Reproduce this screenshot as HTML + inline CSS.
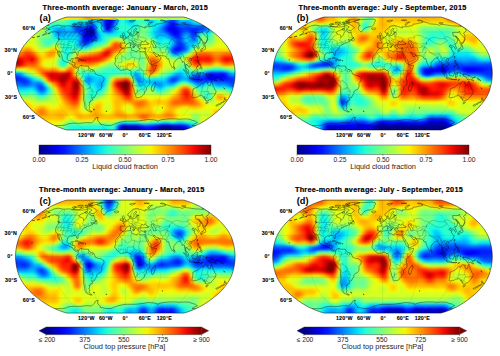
<!DOCTYPE html>
<html><head><meta charset="utf-8"><style>
html,body{margin:0;padding:0;background:#fff;width:500px;height:356px;overflow:hidden}
#w{position:relative;width:500px;height:356px;overflow:hidden;background:#fff}
.m{position:absolute;overflow:hidden}
.f{width:100%;height:100%;filter:blur(0.9px)}
.f i{display:block;width:100%}
svg{position:absolute;left:0;top:0}
.title{font-family:"Liberation Sans",sans-serif;font-weight:bold;font-size:7.3px;letter-spacing:0.25px;fill:#000;stroke:#000;stroke-width:0.18px}
.lbl{font-family:"Liberation Sans",sans-serif;font-weight:bold;font-size:9.2px;fill:#000}
.ll{font-family:"Liberation Sans",sans-serif;font-weight:bold;font-size:5.3px;letter-spacing:0.15px;fill:#000;stroke:#000;stroke-width:0.1px}
.tk{font-family:"Liberation Sans",sans-serif;font-size:6.7px;fill:#222}
.cbl{font-family:"Liberation Sans",sans-serif;font-size:7.4px;fill:#222}
</style></head><body><div id="w">
<div class="m" style="left:11.50px;top:13.00px;width:227.60px;height:121.00px;clip-path:path('M172.24 4.00 L176.63 5.35 L182.02 7.42 L187.72 10.01 L192.70 12.84 L197.22 15.85 L201.49 19.00 L205.48 22.26 L209.10 25.61 L212.20 29.02 L214.99 32.49 L217.31 35.98 L219.21 39.48 L220.64 42.98 L221.65 46.49 L222.50 49.99 L223.09 53.49 L223.45 57.00 L223.60 60.50 L223.45 64.00 L223.09 67.51 L222.50 71.01 L221.65 74.51 L220.64 78.02 L219.21 81.52 L217.31 85.02 L214.99 88.51 L212.20 91.98 L209.10 95.39 L205.48 98.74 L201.49 102.00 L197.22 105.15 L192.70 108.16 L187.72 110.99 L182.02 113.58 L176.63 115.65 L172.24 117.00 L55.36 117.00 L50.97 115.65 L45.58 113.58 L39.88 110.99 L34.90 108.16 L30.38 105.15 L26.11 102.00 L22.12 98.74 L18.50 95.39 L15.40 91.98 L12.61 88.51 L10.29 85.02 L8.39 81.52 L6.96 78.02 L5.95 74.51 L5.10 71.01 L4.51 67.51 L4.15 64.00 L4.00 60.50 L4.15 57.00 L4.51 53.49 L5.10 49.99 L5.95 46.49 L6.96 42.98 L8.39 39.48 L10.29 35.98 L12.61 32.49 L15.40 29.02 L18.50 25.61 L22.12 22.26 L26.11 19.00 L30.38 15.85 L34.90 12.84 L39.88 10.01 L45.58 7.42 L50.97 5.35 L55.36 4.00 Z')"><div class="f"><i style="height:2.521px;background:linear-gradient(90deg,#d6ff21,#d6ff21,#d6ff21,#d6ff21,#d6ff21,#d7ff20,#d6ff21,#d5ff22,#d4ff23,#d5ff22,#daff1d,#dfff18,#daff1c,#c6ff30,#a7ff50,#88ff6f,#77ff80,#74ff83,#7bff7c,#84ff72,#8aff6c,#87ff70,#75ff82,#57ffa0,#38ffbf,#25ffd1,#22ffd5,#29ffce,#33ffc4,#39ffbe,#37ffc0,#27ffd0,#0bf3ec,#00d0ff,#00c1ff,#00c9ff,#00cdff,#00b0ff,#0069ff,#0015ff,#0000e4,#0000d7,#0000fe,#0036ff,#0094ff,#04ebf3,#29ffce,#1dffda,#00dcfe,#00baff,#00c4ff,#05ecf2,#27ffcf,#3bffbc,#3bffbc,#2affcc,#0cf4eb,#00cdff,#00b9ff,#00caff,#0af2ed,#27ffd0,#2dffca,#19ffde,#00d4ff,#0094ff,#0058ff,#0037ff,#0045ff,#0078ff,#00b0ff,#0cf,#00cbff,#00c2ff,#00c7ff,#00e0fb,#1bffdc,#40ffb7,#63ff94,#7dff7a,#86ff71,#81ff76,#7cff7b,#86ff70,#a3ff54,#c4ff32,#dbff1c,#e0ff17,#dbff1c,#d5ff22,#d3ff24,#d4ff22,#d6ff21,#d7ff20,#d6ff20,#d6ff21)"></i><i style="height:2.521px;background:linear-gradient(90deg,#d6ff21,#d6ff21,#d6ff21,#d6ff21,#d6ff21,#d7ff20,#d6ff20,#d5ff22,#d4ff23,#d5ff22,#d9ff1e,#ddff1a,#d8ff1e,#c6ff31,#aaff4d,#8fff68,#80ff77,#7eff79,#85ff72,#8fff68,#96ff61,#92ff65,#7eff78,#5dff9a,#3dffba,#2bffcc,#2cffcb,#36ffc1,#42ffb5,#47ffb0,#43ffb4,#33ffc4,#17ffdf,#00e1fa,#00cfff,#00cdff,#00c8ff,#00a8ff,#0065ff,#0018ff,#0000eb,#0000d9,#0000f8,#002cff,#008bff,#01e6f6,#28ffcf,#1bffdc,#00d7ff,#00b3ff,#00bfff,#04ebf2,#29ffce,#3bffbc,#39ffbe,#25ffd2,#04eaf3,#00c3ff,#00b1ff,#00c6ff,#0af2ec,#2bffcc,#34ffc3,#22ffd5,#00dffc,#009fff,#0061ff,#003eff,#004bff,#0080ff,#00b9ff,#00d6ff,#00d6ff,#00ceff,#00d3ff,#05ecf1,#26ffd1,#4effa9,#76ff81,#94ff63,#9eff59,#96ff61,#8cff6b,#91ff66,#a9ff4e,#c6ff31,#daff1c,#dfff18,#daff1c,#d5ff22,#d4ff23,#d5ff22,#d6ff21,#d7ff20,#d6ff20,#d6ff21)"></i><i style="height:2.521px;background:linear-gradient(90deg,#d6ff21,#d6ff21,#d6ff21,#d6ff21,#d6ff21,#d7ff20,#d6ff20,#d5ff22,#d4ff23,#d5ff22,#d9ff1e,#ddff1a,#d9ff1e,#c6ff31,#a9ff4d,#8eff69,#7eff79,#7cff7a,#83ff73,#8dff6a,#94ff63,#90ff66,#7dff7a,#5cff9b,#3cffbb,#2affcd,#2affcd,#34ffc3,#3fffb8,#45ffb2,#41ffb6,#31ffc6,#15ffe1,#00dffc,#0cf,#0cf,#00c9ff,#00a9ff,#06f,#0018ff,#0000ea,#0000d9,#0000f9,#002eff,#008dff,#01e7f6,#28ffcf,#1bffdc,#00d8ff,#00b5ff,#00c0ff,#04ebf2,#29ffce,#3bffbc,#39ffbe,#25ffd1,#05ecf2,#00c5ff,#00b3ff,#00c7ff,#0af2ec,#2affcd,#32ffc4,#20ffd7,#00ddfd,#009dff,#005fff,#003cff,#004aff,#007fff,#00b7ff,#00d5ff,#00d4ff,#0cf,#00d1ff,#04eaf3,#24ffd2,#4cffab,#73ff84,#90ff67,#9aff5d,#92ff65,#89ff6e,#8fff68,#a8ff4f,#c6ff31,#daff1c,#dfff18,#daff1c,#d5ff22,#d3ff23,#d5ff22,#d6ff21,#d7ff20,#d6ff20,#d6ff21)"></i><i style="height:2.521px;background:linear-gradient(90deg,#d6ff21,#d6ff21,#d6ff21,#d6ff21,#d6ff21,#d7ff20,#d6ff21,#d4ff23,#d3ff24,#d4ff23,#dbff1c,#e2ff15,#deff18,#c7ff30,#a0ff56,#7bff7c,#65ff92,#61ff96,#67ff90,#70ff87,#74ff82,#71ff86,#62ff94,#4affad,#2fffc8,#1affdc,#10f9e7,#0ff8e8,#15ffe2,#1effd9,#1fffd7,#10fae6,#00d3ff,#00afff,#00a8ff,#00c0ff,#00d6ff,#00c0ff,#0071ff,#0010ff,#0000d7,#0000d4,#00f,#004aff,#00a5ff,#0bf3ec,#2bffcc,#21ffd6,#01e6f6,#00c8ff,#00cdff,#06edf1,#25ffd2,#39ffbd,#40ffb7,#36ffc1,#1bffdc,#00e0fb,#00c9ff,#00d3ff,#0af2ed,#1fffd8,#1fffd8,#07eef0,#00bcff,#007fff,#0047ff,#0029ff,#0038ff,#006aff,#009fff,#00b8ff,#00b5ff,#00abff,#00afff,#00c8ff,#05ecf2,#24ffd3,#3effb9,#51ffa6,#58ff9e,#59ff9e,#5eff99,#73ff84,#99ff5e,#c1ff36,#dbff1b,#e1ff16,#dbff1b,#d5ff22,#d3ff24,#d4ff23,#d6ff21,#d7ff20,#d6ff20,#d6ff21)"></i><i style="height:2.521px;background:linear-gradient(90deg,#d6ff21,#d5ff21,#d5ff21,#d5ff21,#d6ff21,#d7ff20,#d6ff21,#d3ff24,#d0ff26,#d3ff24,#deff18,#eaff0d,#e6ff11,#c6ff31,#90ff66,#5aff9c,#39ffbe,#2fffc8,#32ffc5,#37ffc0,#39ffbe,#36ffc0,#31ffc6,#26ffd0,#16ffe1,#00e2fa,#00bfff,#00a4ff,#00a0ff,#00b0ff,#00bdff,#00acff,#007dff,#0056ff,#0061ff,#00a7ff,#04eaf3,#03e9f4,#0087ff,#0008ff,#0000bf,#0000d1,#0019ff,#007dff,#00d0ff,#1cffdb,#2fffc7,#29ffcd,#16ffe1,#04ebf3,#01e6f6,#0bf3ec,#1fffd8,#38ffbe,#4dffaa,#53ffa4,#42ffb5,#24ffd3,#0af2ed,#03e9f4,#08efef,#0af2ed,#00dffc,#00b6ff,#0082ff,#0049ff,#001bff,#0006ff,#0017ff,#0043ff,#0070ff,#0084ff,#007dff,#0071ff,#0074ff,#0089ff,#00a3ff,#00b5ff,#00bcff,#00bfff,#00c5ff,#00d7ff,#10fae7,#40ffb7,#7eff79,#b9ff3e,#deff19,#e6ff11,#ddff19,#d4ff23,#d1ff25,#d3ff23,#d6ff21,#d7ff20,#d6ff20,#d6ff21)"></i><i style="height:2.521px;background:linear-gradient(90deg,#d6ff21,#d5ff21,#d5ff21,#d6ff21,#d6ff21,#d7ff20,#d6ff21,#d2ff24,#d0ff27,#d3ff24,#dfff18,#ebff0c,#e6ff10,#c1ff36,#83ff74,#42ffb5,#15ffe2,#01e6f6,#00dffc,#00ddfe,#00dbff,#00dbff,#00e0fb,#00e4f8,#00dcfe,#00bcff,#0089ff,#005aff,#0049ff,#0058ff,#0067ff,#0053ff,#001dff,#00f,#0014ff,#0084ff,#0cf5ea,#1fffd8,#00a5ff,#0014ff,#0000c4,#0000e7,#0042ff,#00b0ff,#0df5ea,#27ffd0,#2effc8,#2effc9,#28ffcf,#20ffd7,#17ffe0,#15ffe2,#20ffd6,#3dffba,#5dff99,#70ff87,#66ff90,#49ffae,#27ffd0,#11fae6,#02e8f5,#00d4ff,#00b1ff,#0083ff,#004eff,#001cff,#00f,#0000f2,#00f,#0019ff,#003fff,#004fff,#004aff,#0040ff,#003fff,#004aff,#0056ff,#0057ff,#004fff,#0048ff,#004fff,#006cff,#00a2ff,#0ef7e9,#62ff95,#b0ff47,#e0ff17,#eaff0c,#e0ff17,#d3ff23,#d0ff27,#d3ff24,#d6ff21,#d7ff20,#d7ff20,#d6ff21)"></i><i style="height:2.521px;background:linear-gradient(90deg,#d6ff21,#d6ff21,#d6ff21,#d6ff21,#d7ff20,#d7ff1f,#d7ff20,#d5ff21,#d4ff23,#d5ff22,#daff1c,#deff19,#d5ff22,#b5ff42,#81ff76,#47ffaf,#15ffe1,#00d3ff,#00b4ff,#00a4ff,#00a1ff,#00a6ff,#00b3ff,#00bfff,#00bfff,#00a6ff,#07f,#0047ff,#002eff,#002cff,#0029ff,#000bff,#0000dc,#0000b6,#0000e8,#005dff,#00e3f9,#24ffd3,#00c4ff,#0048ff,#00f,#0018ff,#0071ff,#00cbff,#13fde4,#20ffd7,#22ffd4,#26ffd0,#2bffcc,#2cffcb,#28ffce,#27ffd0,#31ffc6,#4cffab,#6cff8b,#7eff79,#75ff82,#56ffa1,#30ffc7,#10fae7,#00daff,#00bcff,#09f,#0071ff,#0045ff,#0017ff,#00f,#0000e7,#0000ed,#00f,#001dff,#0034ff,#003dff,#003bff,#03f,#0029ff,#02f,#02f,#002bff,#0039ff,#0048ff,#005eff,#0089ff,#00daff,#52ffa5,#aaff4c,#e2ff14,#efff08,#e2ff15,#d3ff23,#d0ff27,#d3ff24,#d7ff20,#d8ff1f,#d7ff20,#d6ff21)"></i><i style="height:2.521px;background:linear-gradient(90deg,#d7ff20,#d7ff20,#d7ff20,#d7ff20,#d7ff20,#d8ff1f,#d9ff1e,#daff1c,#dbff1c,#d8ff1e,#d1ff26,#c4ff33,#b3ff43,#a0ff56,#89ff6e,#68ff8f,#39ffbe,#03e9f4,#00afff,#008fff,#008bff,#0097ff,#00a6ff,#00afff,#00afff,#00a4ff,#008fff,#0073ff,#05f,#0036ff,#0010ff,#0000eb,#0000b2,#00009c,#0000d1,#003cff,#00b7ff,#0ff9e7,#00e0fb,#009eff,#0070ff,#0079ff,#00a5ff,#00d4ff,#07eef0,#0ff8e8,#13fde4,#18ffdf,#20ffd7,#29ffce,#33ffc4,#3effb8,#4fffa8,#64ff92,#77ff80,#7dff7a,#6cff8b,#4bffab,#26ffd1,#05ebf2,#00cbff,#00b1ff,#009cff,#0087ff,#006aff,#0041ff,#0014ff,#00f,#0000f3,#00f,#0013ff,#0039ff,#0059ff,#0067ff,#05f,#002eff,#0013ff,#02f,#005bff,#009aff,#00b9ff,#00b6ff,#00b8ff,#01e7f5,#52ffa5,#aaff4d,#e4ff13,#f0fd06,#e3ff14,#d4ff23,#d0ff27,#d3ff24,#d7ff20,#d8ff1e,#d8ff1f,#d6ff20)"></i><i style="height:2.521px;background:linear-gradient(90deg,#d7ff20,#d7ff20,#d7ff20,#d7ff20,#d6ff21,#d6ff21,#d8ff1f,#ddff1a,#e0ff16,#dbff1c,#c6ff30,#a9ff4e,#90ff67,#88ff6f,#8bff6c,#83ff74,#5eff99,#20ffd7,#00c3ff,#009aff,#0097ff,#00a6ff,#00b1ff,#00b2ff,#00b0ff,#00b3ff,#00b9ff,#00b3ff,#0091ff,#0054ff,#000cff,#0000d7,#0000ad,#0000ad,#0000e1,#002dff,#008eff,#00d6ff,#0af2ed,#09f1ee,#02e8f5,#00e6f7,#03eaf3,#09f0ee,#0ef7e8,#13fde4,#16ffe1,#17ffe0,#1affdc,#25ffd2,#3affbc,#55ffa2,#6dff89,#7dff79,#82ff75,#7aff7d,#64ff93,#45ffb1,#23ffd4,#03eaf3,#00caff,#00b6ff,#00b0ff,#00afff,#00a4ff,#0082ff,#0050ff,#0020ff,#0003ff,#0001ff,#001aff,#004cff,#0084ff,#00a3ff,#008bff,#004bff,#001fff,#0040ff,#00abff,#2bffcb,#52ffa5,#3affbc,#18ffdf,#1effd9,#5cff9b,#acff4b,#e3ff14,#effe08,#e3ff14,#d4ff23,#d0ff27,#d3ff24,#d7ff20,#d8ff1f,#d7ff1f,#d6ff20)"></i><i style="height:2.521px;background:linear-gradient(90deg,#d5ff22,#d5ff21,#d6ff21,#d5ff22,#d2ff25,#d0ff27,#d1ff26,#d8ff1f,#dfff18,#daff1c,#c1ff36,#9aff5c,#7aff7d,#70ff87,#77ff80,#78ff7e,#60ff97,#30ffc7,#00e5f7,#00c2ff,#00beff,#00c7ff,#0cf,#00c9ff,#00c6ff,#00cfff,#00ddfe,#00dbff,#00b3ff,#0064ff,#000dff,#0000da,#0000c7,#00d,#0001ff,#0040ff,#0084ff,#00c3ff,#0cf4eb,#29ffcd,#3dffb9,#49ffae,#4fffa8,#50ffa6,#50ffa7,#4cffab,#44ffb3,#37ffc0,#2dffc9,#30ffc6,#45ffb2,#64ff93,#7fff78,#8dff69,#8eff68,#85ff71,#76ff81,#60ff97,#43ffb4,#21ffd6,#00e6f7,#00cbff,#00c7ff,#00d1ff,#00d5ff,#00c0ff,#0095ff,#0062ff,#0037ff,#0020ff,#0029ff,#005aff,#00a0ff,#00cdff,#00b7ff,#006eff,#003aff,#0062ff,#00e3f9,#6aff8d,#98ff5f,#79ff7e,#47ffb0,#3bffbc,#69ff8d,#aeff49,#dfff18,#eaff0c,#dfff17,#d3ff24,#cfff28,#d2ff25,#d6ff21,#d7ff20,#d6ff21,#d5ff22)"></i><i style="height:2.521px;background:linear-gradient(90deg,#d2ff25,#d3ff24,#d4ff23,#d2ff24,#ceff29,#c9ff2e,#c9ff2e,#d0ff27,#d9ff1e,#d7ff1f,#c2ff35,#9cff5a,#77ff80,#5dff99,#52ffa5,#4bffac,#41ffb6,#32ffc4,#23ffd4,#17ffe0,#0ff8e8,#0af1ed,#06edf1,#04eaf3,#04ebf3,#08efef,#09f1ee,#00e1fa,#00afff,#0060ff,#0012ff,#0000f3,#0000fa,#0012ff,#0045ff,#0076ff,#00a4ff,#00cdff,#0af2ec,#2affcd,#51ffa6,#7fff78,#aaff4d,#c5ff32,#c8ff2f,#b6ff40,#99ff5e,#77ff7f,#5bff9c,#4dffaa,#54ffa3,#69ff8e,#81ff76,#93ff64,#9dff5a,#a2ff55,#a3ff54,#9bff5c,#85ff72,#5cff9b,#2cffcb,#06edf1,#00defd,#01e7f6,#0bf3ec,#06edf1,#00d2ff,#00a8ff,#0074ff,#0046ff,#0037ff,#005bff,#00a0ff,#00d5ff,#00cbff,#008eff,#0060ff,#0082ff,#0cf5ea,#6fff88,#9bff5c,#86ff71,#5dff9a,#53ffa3,#79ff7d,#b1ff45,#daff1d,#e3ff13,#dbff1c,#d1ff26,#ceff28,#d1ff26,#d4ff23,#d4ff22,#d4ff23,#d3ff24)"></i><i style="height:2.521px;background:linear-gradient(90deg,#d2ff24,#d3ff23,#d4ff23,#d3ff24,#cfff27,#cbff2b,#cbff2c,#d0ff26,#d7ff1f,#d7ff20,#c6ff30,#a8ff4f,#81ff76,#59ff9d,#39ffbe,#27ffd0,#2cffcb,#40ffb6,#54ffa3,#54ffa3,#41ffb5,#2affcd,#1cffdb,#1bffdb,#1fffd8,#1fffd8,#13fde4,#00dbff,#00a5ff,#0060ff,#0027ff,#0013ff,#002dff,#0061ff,#0098ff,#00c3ff,#00e1fa,#0ef6e9,#1cffdb,#36ffc1,#67ff8f,#b5ff42,#ffe400,#ffa600,#ff9e00,#ffbf00,#f5f701,#bfff37,#8fff68,#6eff89,#62ff94,#69ff8d,#7cff7b,#93ff64,#acff4b,#c3ff34,#d4ff22,#d8ff1e,#c6ff31,#96ff60,#58ff9e,#24ffd3,#0ef7e9,#12fbe5,#1dffda,#1effd9,#0ff8e8,#00d1ff,#0097ff,#005cff,#003bff,#004eff,#008aff,#00c1ff,#00cbff,#00abff,#0091ff,#00afff,#18ffde,#62ff95,#88ff6f,#81ff76,#6dff89,#6eff88,#8fff68,#baff3d,#d9ff1e,#e0ff17,#daff1d,#d2ff25,#d0ff27,#d2ff25,#d4ff23,#d5ff22,#d4ff23,#d4ff23)"></i><i style="height:2.521px;background:linear-gradient(90deg,#dbff1c,#daff1c,#daff1d,#dbff1c,#ddff1a,#e1ff16,#e4ff13,#e6ff10,#e5ff12,#deff19,#cdff2a,#b4ff43,#93ff64,#6cff8b,#4affad,#3affbc,#4cffab,#75ff82,#97ff60,#94ff63,#6eff89,#3fffb7,#24ffd3,#22ffd5,#2affcd,#2bffcc,#1cffdb,#00e5f7,#00b4ff,#007fff,#005aff,#0059ff,#0080ff,#0bf,#0bf3ec,#29ffce,#3cffbb,#4affad,#59ff9d,#76ff81,#acff4b,#fdee00,#ff8f00,#ff5000,#ff4700,#ff6c00,#ffac00,#f5f802,#b6ff41,#85ff72,#6cff8b,#69ff8d,#79ff7e,#96ff60,#baff3d,#dcff1b,#f3fa04,#f9f300,#e5ff11,#b3ff44,#73ff84,#3cffba,#27ffd0,#2bffcc,#33ffc4,#2affcc,#0ef6e9,#00c1ff,#0083ff,#004aff,#002aff,#0035ff,#0063ff,#0098ff,#00b9ff,#00c5ff,#00d2ff,#0ef7e9,#3fffb8,#6fff87,#8bff6c,#8eff69,#8bff6c,#93ff64,#adff49,#ccff2b,#e0ff16,#e4ff13,#dfff18,#d9ff1e,#d7ff20,#d8ff1f,#daff1d,#daff1d,#daff1d,#d9ff1d)"></i><i style="height:2.521px;background:linear-gradient(90deg,#eeff09,#ebff0c,#e9ff0e,#ecff0b,#f8f400,#ffe100,#ffd400,#ffd600,#ffe500,#f0fd06,#d9ff1e,#c1ff36,#a9ff4d,#94ff63,#86ff70,#89ff6d,#a5ff52,#cdff2a,#e3ff14,#cdff2a,#8eff69,#48ffae,#1effd9,#18ffdf,#24ffd3,#2effc9,#2cffcb,#1dffd9,#05ebf2,#00c8ff,#00b1ff,#00baff,#00e5f7,#2fffc8,#57ff9f,#71ff86,#84ff72,#9cff5b,#c0ff37,#ecff0a,#ffc700,#ff8b00,#ff5900,#ff3c00,#ff3e00,#ff5c00,#ff9400,#ffe000,#c5ff32,#8cff6a,#6eff88,#6aff8d,#7bff7c,#9cff5b,#c2ff34,#e5ff12,#f8f400,#f7f500,#e0ff17,#b1ff46,#7aff7d,#50ffa7,#46ffb1,#50ffa7,#51ffa5,#32ffc5,#00d7ff,#0083ff,#0041ff,#001bff,#0010ff,#001dff,#0040ff,#0071ff,#0af,#01e7f6,#32ffc5,#60ff97,#88ff6f,#a5ff51,#b6ff41,#baff3d,#bcff3b,#c4ff32,#d6ff21,#e8ff0f,#f3fa04,#f3fa03,#eeff09,#e9ff0e,#e7ff10,#e8ff0f,#e9ff0e,#e9ff0e,#e9ff0e,#e9ff0e)"></i><i style="height:2.521px;background:linear-gradient(90deg,#fd0,#ffe300,#ffe800,#ffe100,#ffc900,#fa0,#ff9400,#ff9700,#ffb100,#ffd600,#f1fc06,#d6ff21,#c5ff31,#c4ff33,#d0ff26,#e9ff0e,#ffe200,#ffc400,#ffc400,#f4f903,#a1ff56,#4bffab,#16ffe1,#0bf3ec,#1affdd,#31ffc5,#45ffb2,#50ffa7,#4dffaa,#41ffb6,#38ffbf,#42ffb5,#61ff95,#8aff6d,#abff4c,#c0ff37,#d5ff22,#f8f400,#ffb500,#ff7300,#ff4500,#ff3a00,#ff4600,#ff5900,#ff6900,#ff8000,#fa0,#feed00,#bcff3b,#85ff71,#6aff8c,#69ff8e,#7cff7b,#9bff5b,#bfff38,#ddff19,#edff0a,#ebff0c,#d6ff21,#b0ff47,#85ff71,#69ff8d,#6bff8c,#7aff7d,#74ff82,#3effb9,#00c2ff,#0052ff,#0010ff,#00f,#000fff,#0027ff,#0046ff,#07f,#00c3ff,#33ffc4,#81ff76,#bdff3a,#e0ff16,#f2fb05,#f9f300,#fbf100,#fbf000,#feed00,#ffe600,#ffde00,#ffda00,#ffdb00,#ffdf00,#ffe200,#ffe300,#ffe300,#ffe300,#ffe200,#ffe200,#ffe300)"></i><i style="height:2.521px;background:linear-gradient(90deg,#ffae00,#ffb500,#ffba00,#ffb300,#ff9800,#ff7500,#ff5b00,#ff5b00,#ff7300,#ff9b00,#ffc800,#fbf100,#e7ff0f,#eeff09,#ffe100,#ffb900,#ff9a00,#ff9000,#ffa900,#fdee00,#a5ff52,#4effa9,#17ffe0,#09f0ee,#1affdd,#3fffb8,#6bff8c,#93ff63,#abff4b,#b2ff45,#b2ff44,#bcff3b,#d4ff23,#f0fd06,#ffe100,#ffce00,#ffb700,#ff8d00,#ff4f00,#ff1600,#e80000,#ff1e00,#ff5800,#ff8f00,#ffb100,#ffc900,#ffea00,#d2ff25,#9cff5a,#72ff84,#60ff96,#64ff93,#75ff82,#8eff69,#aaff4d,#c6ff31,#deff19,#ecff0b,#e9ff0e,#cfff27,#acff4b,#93ff63,#95ff61,#a2ff55,#98ff5f,#5aff9c,#00dcff,#0069ff,#002cff,#002bff,#004aff,#0070ff,#0098ff,#00d0ff,#34ffc3,#8bff6c,#deff19,#ffce00,#ffac00,#ffa000,#ff9d00,#ff9d00,#ffa000,#ffa500,#ffac00,#ffb200,#ffb400,#ffb100,#ffac00,#ffa800,#ffa700,#ffa700,#ffa800,#ffa800,#ffa800,#ffa800)"></i><i style="height:2.521px;background:linear-gradient(90deg,#ff7500,#ff7a00,#ff7d00,#ff7800,#ff6500,#ff4b00,#ff3400,#ff2c00,#ff3700,#f50,#ff8500,#ffba00,#ffde00,#ffe000,#ffc400,#ffa200,#ff8f00,#ff9700,#ffbd00,#eaff0d,#9bff5c,#50ffa7,#1fffd7,#14fee3,#29ffcd,#5bff9c,#9dff5a,#e0ff17,#ffd800,#ffbc00,#ffb000,#ffa700,#ff9800,#ff8700,#f70,#ff6900,#ff5700,#ff3c00,#ff1900,#e90100,#f40a00,#ff3e00,#f80,#ffce00,#f0fd07,#d3ff24,#b8ff3f,#97ff60,#76ff80,#60ff97,#5aff9d,#60ff97,#6cff8b,#77ff80,#87ff70,#a3ff54,#d0ff27,#ffec00,#fc0,#ffd700,#effe08,#ceff29,#c3ff33,#c5ff31,#b9ff3e,#85ff71,#37ffc0,#00cdff,#009dff,#009dff,#00beff,#07eef0,#35ffc2,#6eff89,#b2ff45,#fcef00,#ffa300,#ff7000,#ff5900,#ff5300,#ff5100,#ff5000,#ff5400,#ff6100,#ff7600,#f80,#ff8e00,#ff8200,#ff7000,#ff6100,#ff5c00,#ff5e00,#ff6000,#ff6100,#ff6000,#ff6000)"></i><i style="height:2.521px;background:linear-gradient(90deg,#ff3800,#ff3900,#ff3a00,#ff3900,#f30,#ff2a00,#ff1e00,#fe1200,#f80e00,#ff1d00,#ff4b00,#ff8a00,#ffbf00,#ffd300,#ffc800,#ffb400,#ffae00,#ffbf00,#ffe900,#c9ff2e,#84ff72,#47ffaf,#25ffd2,#24ffd2,#45ffb2,#82ff75,#d3ff24,#ffc200,#ff7a00,#ff5100,#ff3e00,#ff3600,#ff3200,#ff2f00,#ff2a00,#f20,#ff1a00,#ff1600,#ff1700,#ff2700,#ff4a00,#ff8300,#ffc700,#e7ff10,#bbff3c,#9aff5d,#83ff74,#72ff85,#68ff8e,#66ff91,#6aff8d,#6fff88,#70ff87,#69ff8e,#68ff8f,#81ff75,#c2ff34,#ffd500,#ff8f00,#ff8600,#ffab00,#fd0,#f1fc06,#e3ff14,#d3ff24,#b1ff46,#81ff76,#54ffa3,#38ffbe,#34ffc3,#46ffb1,#6cff8b,#a1ff55,#e1ff16,#ffc400,#ff7f00,#ff4800,#ff2900,#ff2000,#ff2100,#ff2000,#ff1c00,#ff1d00,#ff2f00,#ff5000,#ff6d00,#ff7400,#ff5f00,#ff3e00,#ff2500,#ff1e00,#f20,#ff2700,#ff2900,#ff2800,#ff2600)"></i><i style="height:2.521px;background:linear-gradient(90deg,#e30000,#df0000,#d00,#e10000,#ef0600,#ff1300,#ff1a00,#fe1200,#f00700,#f70c00,#ff3400,#ff7600,#ffb600,#ffdb00,#ffe400,#ffe100,#ffe100,#fcf000,#ddff1a,#a7ff4f,#65ff92,#2dffca,#1affdd,#31ffc6,#68ff8f,#b2ff45,#ffe700,#ff9000,#ff4e00,#ff2700,#ff1500,#fa0f00,#fc1000,#ff1400,#ff1700,#ff1800,#ff1e00,#ff2f00,#ff4e00,#f70,#ffa600,#ffd600,#e9ff0e,#c4ff33,#a5ff52,#8fff68,#85ff72,#87ff70,#91ff66,#9cff5b,#a2ff54,#a0ff57,#90ff66,#74ff83,#5fff98,#6dff8a,#b3ff43,#ffd200,#ff7300,#f50,#ff6e00,#ff9f00,#ffcd00,#fcf000,#e3ff13,#ceff29,#baff3d,#a7ff4f,#96ff60,#8bff6c,#8dff69,#a4ff53,#ceff29,#ffe400,#f90,#ff5100,#ff1900,#e90100,#ef0600,#ff1500,#ff1a00,#fe1200,#f80d00,#ff1e00,#ff4600,#ff6b00,#ff7300,#ff5600,#ff2c00,#f80d00,#f00700,#fa0f00,#ff1900,#ff1c00,#ff1a00,#ff1700)"></i><i style="height:2.521px;background:linear-gradient(90deg,#b50000,#ad0000,#a70000,#b00000,#d00000,#fa0f00,#ff2a00,#ff2d00,#ff2400,#ff2500,#ff4500,#ff7e00,#ffbd00,#ffec00,#e7ff0f,#deff18,#dfff18,#ddff19,#caff2d,#95ff62,#4affad,#0ff8e8,#0af2ed,#40ffb7,#94ff63,#e7ff10,#ffbc00,#ff8300,#ff5d00,#ff4600,#ff3b00,#ff3700,#ff3700,#ff3b00,#ff4300,#ff4f00,#ff6300,#ff8200,#ffae00,#fd0,#e7ff10,#cbff2c,#b8ff3f,#acff4a,#a7ff50,#a9ff4d,#b5ff42,#c9ff2e,#e0ff17,#f0fe07,#f2fb05,#e4ff13,#c3ff34,#93ff64,#6bff8c,#6aff8d,#a7ff50,#ffe100,#ff7a00,#ff4a00,#ff4f00,#ff7500,#ffa900,#fd0,#e9ff0e,#d8ff1f,#d5ff22,#d4ff23,#c9ff2d,#b8ff3f,#a8ff4f,#a3ff54,#b1ff46,#d7ff20,#ffce00,#ff7000,#ff2100,#ea0100,#ff1300,#ff3500,#ff4500,#ff3a00,#ff2e00,#ff3b00,#ff6300,#ff8b00,#ff9500,#ff7600,#ff4800,#ff2900,#ff2500,#ff3200,#ff3f00,#ff4300,#ff4100,#ff3d00)"></i><i style="height:2.521px;background:linear-gradient(90deg,#cf0000,#c50000,#bf0000,#c90000,#ed0400,#ff2d00,#ff5000,#ff5b00,#ff5600,#f50,#ff6800,#ff8f00,#ffc000,#fdee00,#deff19,#cdff2a,#d0ff27,#dbff1c,#d3ff24,#a0ff57,#50ffa7,#13fde4,#1affdd,#67ff8f,#cdff29,#fc0,#ffa500,#ff9c00,#ff9d00,#ff9a00,#ff9500,#ff8f00,#ff8b00,#ff8d00,#ff9700,#ffab00,#ffc800,#feee00,#d8ff1e,#b5ff42,#99ff5d,#8bff6c,#89ff6e,#92ff65,#a3ff53,#bdff3a,#dbff1c,#fbf100,#ffd200,#ffc100,#ffc500,#ffdf00,#e0ff16,#a8ff4f,#79ff7e,#71ff85,#a6ff50,#ffea00,#ff8500,#ff4c00,#ff4500,#ff6300,#ff9a00,#ffd900,#e4ff12,#d3ff23,#d7ff20,#ddff19,#d5ff22,#bcff3b,#9cff5b,#80ff77,#74ff83,#88ff6f,#c8ff2e,#ffbe00,#ff5d00,#ff3600,#ff4f00,#ff7d00,#ff9700,#ff9000,#ff8300,#ff8c00,#ffb100,#ffd700,#ffe100,#ffc500,#ff9b00,#ff7e00,#ff7a00,#ff8500,#ff9100,#ff9400,#ff9200,#ff8f00)"></i><i style="height:2.521px;background:linear-gradient(90deg,#ff5c00,#ff5900,#ff5600,#ff5a00,#ff6900,#ff7e00,#ff8f00,#ff9400,#ff8f00,#ff8900,#ff8900,#ff9400,#ffa800,#ffc700,#ffe800,#f0fd07,#f4f903,#ffe800,#ffe900,#d8ff1f,#91ff66,#5dff9a,#6cff8a,#beff39,#ffcd00,#ff9700,#ffa800,#ffd800,#eeff09,#e5ff12,#ebff0b,#f6f701,#fcf000,#faf100,#f1fd06,#deff19,#c5ff32,#a9ff4e,#8dff6a,#73ff84,#60ff97,#56ffa1,#57ffa0,#63ff93,#7cff7b,#9cff5b,#beff39,#ddff1a,#f5f802,#ffec00,#faf200,#e4ff13,#c1ff35,#97ff60,#78ff7f,#7eff79,#baff3d,#ffd200,#ff7200,#ff4300,#ff4700,#ff6e00,#fa0,#ffe900,#d6ff20,#c6ff31,#c8ff2e,#cbff2c,#bcff3b,#9bff5c,#74ff83,#52ffa5,#42ffb5,#50ffa7,#85ff72,#d5ff21,#ffca00,#ffa900,#ffbf00,#ffeb00,#e6ff11,#e1ff16,#e1ff15,#d6ff20,#bdff3a,#a4ff53,#9dff5a,#adff4a,#c8ff2f,#dfff17,#eaff0d,#edff0a,#ecff0b,#ecff0b,#ecff0b,#ecff0b)"></i><i style="height:2.521px;background:linear-gradient(90deg,#d7ff20,#d4ff23,#d2ff25,#d5ff22,#e0ff16,#f2fb05,#ffe700,#ffd800,#fc0,#ffbe00,#ffa800,#ff9100,#ff8100,#ff8400,#ff9300,#ffa000,#ff9e00,#ff9100,#ff9100,#ffb000,#ffe600,#e6ff11,#f9f300,#fa0,#ff6900,#ff6b00,#ffba00,#d2ff25,#93ff64,#83ff73,#8fff68,#9fff58,#a4ff52,#a1ff55,#98ff5f,#8aff6c,#7aff7c,#6aff8d,#5bff9c,#4cffab,#3fffb8,#32ffc4,#2bffcb,#2effc9,#3cffbb,#51ffa6,#68ff8f,#7dff7a,#8bff6c,#8fff67,#89ff6e,#7bff7c,#69ff8d,#5cff9b,#60ff97,#86ff71,#d7ff20,#ffa800,#ff4f00,#ff3700,#ff5800,#ff9600,#ffd800,#e0ff16,#beff39,#aeff48,#a9ff4d,#a1ff56,#86ff70,#5fff98,#3affbd,#26ffd1,#28ffcf,#3cffba,#5eff99,#83ff73,#a2ff55,#adff4a,#a2ff54,#8cff6a,#74ff83,#5fff98,#4bffac,#38ffbf,#27ffd0,#1affdc,#16ffe1,#1cffdb,#2affcd,#3fffb8,#57ffa0,#6dff89,#7cff7b,#7fff77,#7dff7a,#79ff7d)"></i><i style="height:2.521px;background:linear-gradient(90deg,#28ffcf,#20ffd7,#1affdd,#23ffd4,#44ffb3,#75ff82,#a5ff52,#c5ff32,#d9ff1d,#effe08,#ffd700,#ffa400,#ff7400,#ff5400,#ff4600,#ff3f00,#ff3a00,#ff3500,#ff3700,#ff4600,#ff5a00,#ff6200,#ff4d00,#ff2500,#ff1600,#ff4900,#ffbf00,#b2ff45,#5fff98,#41ffb5,#44ffb3,#4effa9,#51ffa6,#4effa8,#49ffad,#45ffb2,#40ffb7,#3cffbb,#38ffbf,#34ffc3,#2effc9,#26ffd1,#1effd9,#1affdd,#1affdc,#20ffd7,#28ffcf,#31ffc6,#37ffc0,#32ffc4,#22ffd4,#0ff8e7,#06edf1,#12fce5,#39ffbe,#7dff7a,#dfff18,#ff9e00,#ff5300,#ff5300,#ff8d00,#ffdc00,#d5ff22,#b1ff46,#99ff5e,#88ff6f,#76ff80,#5fff98,#3cffbb,#15ffe2,#00dffc,#00e1fa,#15ffe1,#31ffc6,#3bffbb,#32ffc5,#23ffd4,#1bffdc,#1bffdb,#18ffde,#05ecf1,#00c0ff,#0091ff,#0072ff,#0068ff,#0069ff,#0069ff,#0065ff,#0068ff,#007dff,#00a9ff,#00d9ff,#11fae6,#18ffdf,#13fde4,#0cf5eb)"></i><i style="height:2.521px;background:linear-gradient(90deg,#007cff,#0070ff,#0068ff,#0074ff,#00a1ff,#00e5f7,#38ffbf,#63ff94,#82ff75,#a2ff55,#cbff2b,#ffeb00,#fa0,#ff6b00,#ff3400,#f60c00,#de0000,#d00,#e40000,#e70000,#e10000,#d40000,#c30000,#b90000,#d10000,#ff2f00,#ff9e00,#d7ff1f,#7bff7c,#3dffba,#19ffde,#08efef,#04ebf3,#08f0ee,#0ff8e8,#14fee3,#17ffe0,#18ffde,#1affdd,#1dffd9,#26ffd0,#35ffc1,#45ffb2,#4effa8,#4effa8,#4bffac,#4bffac,#53ffa4,#57ffa0,#46ffb0,#19ffdd,#00c4ff,#009dff,#00aeff,#09f1ee,#58ff9e,#b3ff44,#ffe800,#ffb500,#ffc100,#f3fa04,#b7ff3f,#8eff69,#77ff80,#65ff92,#4dffaa,#2cffcb,#08efef,#00c5ff,#00a6ff,#009dff,#00b3ff,#00dcff,#10f9e7,#08efef,#00c1ff,#008fff,#0078ff,#0081ff,#008dff,#007dff,#004dff,#0019ff,#00f,#00f,#000aff,#0010ff,#0007ff,#0001ff,#0010ff,#003cff,#006fff,#0093ff,#009dff,#0097ff,#008dff)"></i><i style="height:2.521px;background:linear-gradient(90deg,#0034ff,#002eff,#002aff,#0030ff,#004aff,#0074ff,#00a6ff,#00daff,#1fffd8,#46ffb1,#6cff8a,#97ff60,#ceff28,#ffce00,#ff6c00,#ff1a00,#d20000,#ca0000,#d20000,#cd0000,#b70000,#a00000,#9b0000,#ae0000,#d60000,#ff1e00,#ff5700,#ffa400,#e2ff15,#75ff82,#12fbe5,#00b0ff,#00a0ff,#00b3ff,#00cdff,#00dcfe,#00e1fa,#00e1fb,#00e1fb,#07eef0,#26ffd1,#5dff9a,#99ff5e,#c4ff33,#d2ff25,#d1ff26,#d3ff23,#e5ff12,#eeff09,#cfff28,#77ff80,#09f1ee,#008eff,#0081ff,#00b8ff,#1fffd8,#5bff9c,#85ff72,#97ff60,#8dff69,#73ff84,#56ffa1,#44ffb3,#3affbd,#29ffce,#07eef0,#00b4ff,#0080ff,#0065ff,#0065ff,#0079ff,#09f,#00b6ff,#00c1ff,#00a8ff,#0073ff,#003fff,#0028ff,#0032ff,#0040ff,#0038ff,#0015ff,#0000fb,#0000e6,#0000ef,#00f,#00f,#00f,#00f,#00f,#0016ff,#003aff,#0054ff,#005bff,#0056ff,#0050ff)"></i><i style="height:2.521px;background:linear-gradient(90deg,#002aff,#002aff,#002aff,#002aff,#002aff,#0030ff,#0045ff,#006fff,#00a5ff,#00d7ff,#0ef7e9,#24ffd2,#4effa9,#a0ff56,#ffda00,#ff6400,#ff1e00,#f30900,#f00700,#e00000,#bf0000,#a40000,#a90000,#ce0000,#f40a00,#fe1200,#f50a00,#ff2000,#ff8100,#c6ff31,#28ffcf,#0097ff,#007bff,#009aff,#00c0ff,#00cfff,#00ceff,#00c5ff,#00c4ff,#00dbff,#2effc9,#8bff6c,#f2fb04,#ffa000,#ff7900,#ff7000,#ff6300,#ff4100,#ff3000,#ff6200,#f8f400,#55ffa2,#00adff,#07f,#0093ff,#00cbff,#06eef0,#0ef6e9,#09f1ed,#03e9f4,#00e3f8,#00e3f9,#02e8f5,#04eaf3,#00daff,#00abff,#006cff,#003cff,#0036ff,#0058ff,#08f,#00adff,#00bcff,#00b2ff,#008fff,#005eff,#0030ff,#0019ff,#001bff,#0026ff,#0027ff,#001bff,#000cff,#0006ff,#000cff,#0016ff,#001cff,#001bff,#0018ff,#001aff,#02f,#002eff,#0037ff,#0039ff,#0037ff,#0035ff)"></i><i style="height:2.521px;background:linear-gradient(90deg,#0042ff,#0046ff,#0048ff,#04f,#0036ff,#0027ff,#0028ff,#0046ff,#0075ff,#009bff,#00a4ff,#00a1ff,#00b9ff,#24ffd2,#96ff61,#ffe000,#ff8500,#ff5800,#ff3f00,#ff2000,#de0000,#be0000,#c60000,#ef0600,#ff1f00,#f70c00,#b70000,#a10000,#ff1a00,#ffda00,#54ffa2,#00b3ff,#008fff,#00adff,#00cfff,#00d1ff,#00c1ff,#00b1ff,#00b5ff,#00dbff,#3fffb8,#b0ff47,#ffb900,#ff4800,#fb0f00,#d00,#bf0000,#8d0000,#800000,#bf0000,#ff8400,#9fff58,#02e8f5,#0092ff,#0092ff,#00b1ff,#00c1ff,#00beff,#00b0ff,#00a3ff,#009bff,#009dff,#00abff,#00bcff,#00bcff,#009cff,#006cff,#004dff,#005eff,#09f,#00ddfe,#1effd9,#28ffcf,#1affdc,#00dcfe,#00a4ff,#006fff,#004cff,#0041ff,#0046ff,#0054ff,#0063ff,#006eff,#006fff,#0064ff,#0056ff,#004dff,#004eff,#0051ff,#0050ff,#0048ff,#003eff,#0036ff,#0034ff,#0036ff,#0037ff)"></i><i style="height:2.521px;background:linear-gradient(90deg,#006cff,#0070ff,#0072ff,#006eff,#0061ff,#0051ff,#004eff,#0062ff,#0081ff,#0092ff,#0081ff,#0060ff,#005aff,#0096ff,#1effd9,#8aff6d,#e3ff14,#ffc300,#ff8900,#ff5000,#ff1a00,#de0000,#df0000,#ff1400,#ff2600,#f40a00,#a50000,#800000,#d30000,#ffa200,#8cff6b,#10fae7,#00cfff,#00dffc,#07eef0,#00dbff,#00baff,#00a8ff,#00b8ff,#08f0ef,#58ff9f,#c6ff31,#ffa800,#ff3a00,#de0000,#af0000,#860000,#800000,#800000,#8e0000,#ff5200,#d5ff22,#3bffbc,#00caff,#00b3ff,#00c5ff,#00ddfd,#06ecf1,#03e9f4,#0cf,#00a5ff,#008aff,#0090ff,#00acff,#00c5ff,#00c5ff,#00b5ff,#00b1ff,#00d5ff,#2bffcc,#69ff8e,#98ff5f,#adff4a,#a6ff51,#80ff77,#44ffb3,#05ebf2,#00b0ff,#0093ff,#0093ff,#00acff,#00d3ff,#0bf3ec,#0bf3ec,#00d2ff,#00a6ff,#008aff,#0089ff,#0091ff,#0091ff,#007eff,#0065ff,#0052ff,#004dff,#0051ff,#0056ff)"></i><i style="height:2.521px;background:linear-gradient(90deg,#00a1ff,#00a3ff,#00a4ff,#00a2ff,#009cff,#0095ff,#0096ff,#00a3ff,#00b2ff,#00afff,#0089ff,#0053ff,#03f,#004dff,#00a0ff,#22ffd5,#7bff7c,#ccff2b,#ffd200,#ff8400,#ff4100,#ff1500,#f60c00,#ff1b00,#ff2500,#f20800,#a00,#860000,#ce0000,#ff8500,#bdff3a,#4dffaa,#26ffd1,#24ffd3,#1effd8,#02e8f5,#00bfff,#00b1ff,#00d0ff,#27ffcf,#77ff80,#d4ff23,#ffb300,#ff5800,#ff1600,#c80000,#950000,#800000,#800000,#9c0000,#ff4700,#f8f400,#70ff87,#1fffd8,#03eaf4,#0ef7e9,#2effc8,#4fffa8,#58ff9e,#37ffbf,#00e3f9,#00a8ff,#009fff,#00c0ff,#07eef0,#1fffd7,#2dffc9,#40ffb7,#66ff91,#9eff59,#dcff1b,#ffd500,#ffac00,#ffa600,#ffd300,#caff2c,#76ff81,#33ffc4,#0df6ea,#05ecf2,#1affdd,#41ffb6,#61ff96,#62ff94,#42ffb5,#16ffe0,#00dffc,#00ddfe,#01e7f6,#00e4f8,#00caff,#00a9ff,#008fff,#08f,#008dff,#0093ff)"></i><i style="height:2.521px;background:linear-gradient(90deg,#00dbff,#00dcff,#00dcff,#00dbff,#00daff,#00daff,#00dffc,#04eaf3,#0af2ed,#00e5f7,#00b7ff,#07f,#004aff,#004eff,#0087ff,#00dffc,#4affad,#9aff5d,#e8ff0f,#ffb300,#ff6a00,#ff3600,#ff2000,#ff2000,#ff2000,#ee0500,#b60000,#9e0000,#e10000,#ff7f00,#d7ff20,#70ff87,#42ffb5,#33ffc4,#25ffd2,#0af2ed,#00d5ff,#00d5ff,#16ffe1,#51ffa5,#98ff5f,#dfff18,#ffc400,#ff8100,#ff4800,#ff1700,#cb0000,#980000,#870000,#b90000,#ff4a00,#ffde00,#95ff62,#4cffaa,#34ffc3,#40ffb7,#66ff91,#8eff69,#9cff5a,#7cff7b,#3fffb7,#0af2ed,#00e1fa,#14fee3,#3bffbb,#5fff98,#7cff7b,#9aff5d,#c1ff35,#f2fb04,#fb0,#ff7a00,#f40,#f30,#ff5b00,#ffb500,#d1ff26,#83ff74,#52ffa5,#3dffba,#43ffb4,#5bff9c,#74ff83,#7eff79,#74ff83,#64ff93,#5bff9c,#5dff99,#60ff97,#57ffa0,#3dffba,#1effd8,#09f0ee,#03e9f4,#07eef0,#0cf5eb)"></i><i style="height:2.521px;background:linear-gradient(90deg,#29ffce,#29ffce,#29ffcd,#29ffce,#28ffce,#29ffce,#2dffca,#36ffc0,#3dffb9,#35ffc2,#13fde4,#00c1ff,#0094ff,#0092ff,#00bcff,#16ffe1,#54ffa3,#91ff65,#d0ff27,#ffd800,#ff9200,#ff5800,#ff3600,#ff2800,#ff1c00,#ea0200,#c00000,#b70000,#fb1000,#ff8b00,#d7ff20,#74ff83,#3fffb7,#29ffce,#1effd8,#14ffe2,#13fde4,#24ffd3,#4cffab,#81ff76,#b8ff3f,#eaff0d,#ffd200,#ffa400,#ff7a00,#ff5000,#ff2100,#d30000,#b10000,#d10000,#ff4e00,#ffd300,#acff4b,#73ff84,#66ff91,#77ff80,#95ff61,#b2ff45,#bdff3a,#a8ff4e,#81ff76,#5dff99,#52ffa5,#60ff97,#7bff7c,#99ff5e,#b8ff3f,#d7ff1f,#f9f300,#ffc700,#ff9500,#ff5900,#ff2300,#f40a00,#ff2900,#ff7a00,#ffde00,#bdff39,#86ff71,#62ff95,#4cffaa,#44ffb3,#4bffac,#62ff95,#86ff71,#acff4b,#c8ff2f,#d2ff25,#ccff2b,#b8ff3f,#9aff5d,#7bff7c,#67ff90,#61ff96,#65ff92,#6aff8d)"></i><i style="height:2.521px;background:linear-gradient(90deg,#5fff97,#60ff97,#60ff96,#60ff97,#5eff99,#5dff9a,#60ff97,#68ff8f,#70ff87,#6bff8c,#50ffa7,#28ffcf,#0af2ec,#0af2ed,#27ffd0,#51ffa6,#7aff7d,#9fff58,#c6ff30,#f7f600,#ffb600,#ff7c00,#ff5000,#ff3600,#ff2100,#ef0600,#ce0000,#d10000,#ff2a00,#ffa100,#c9ff2e,#69ff8e,#34ffc3,#20ffd6,#22ffd5,#2effc8,#44ffb2,#62ff94,#86ff70,#adff4a,#d1ff25,#f2fb05,#ffda00,#ffbd00,#ffa300,#ff8400,#ff5900,#ff2300,#e30000,#ef0600,#ff5600,#ffc800,#c7ff2f,#a1ff56,#a2ff55,#b4ff43,#c4ff32,#cdff2a,#ceff29,#c7ff2f,#bdff3a,#b3ff44,#aeff49,#afff48,#b9ff3e,#ccff2a,#e7ff10,#ffe700,#ffc800,#fa0,#ff8600,#ff5800,#ff2800,#f90e00,#f20,#ff6000,#ffb200,#eeff09,#b6ff41,#85ff71,#56ffa1,#2effc9,#20ffd7,#40ffb7,#8bff6c,#e0ff17,#ffcb00,#ffb800,#ffc600,#ffe600,#e5ff11,#caff2c,#b9ff3d,#b5ff42,#b8ff3f,#bcff3b)"></i><i style="height:2.521px;background:linear-gradient(90deg,#9dff59,#9eff59,#9eff59,#9eff59,#9dff5a,#9bff5b,#9cff5b,#9eff59,#9fff58,#96ff60,#80ff77,#63ff94,#4fffa8,#52ffa5,#69ff8d,#88ff6f,#9fff58,#afff48,#c3ff34,#e4ff13,#ffd600,#ff9e00,#ff6f00,#ff4e00,#ff3200,#ff1500,#e50000,#ee0500,#f40,#ffba00,#b8ff3f,#60ff97,#37ffc0,#32ffc5,#44ffb2,#64ff93,#87ff70,#a5ff51,#bcff3b,#cdff29,#e0ff17,#f5f702,#ffde00,#ffc900,#ffb900,#ffa600,#ff8600,#ff5800,#ff3100,#ff2f00,#ff6300,#ffb300,#f7f500,#e4ff13,#edff0a,#fbf100,#faf200,#eeff08,#e4ff13,#e6ff11,#effe07,#f8f500,#f6f701,#eeff09,#ecff0b,#f8f400,#ffd800,#ffb800,#ff9f00,#ff8b00,#ff7600,#ff5700,#ff3500,#ff2000,#ff2a00,#ff5300,#ff8c00,#ffc800,#edff0a,#b9ff3e,#7fff77,#49ffae,#2dffc9,#47ffb0,#95ff62,#f1fd06,#ffb100,#ff9b00,#ffa900,#ffc600,#ffe300,#f2fb05,#e5ff11,#e2ff15,#e4ff13,#e7ff0f)"></i><i style="height:2.521px;background:linear-gradient(90deg,#ddff1a,#ddff1a,#dcff1b,#ddff1a,#deff19,#dfff18,#ddff1a,#d5ff22,#c8ff2f,#b7ff40,#a2ff55,#90ff67,#86ff71,#8bff6c,#9bff5b,#adff4a,#b7ff40,#bbff3c,#c3ff34,#d9ff1d,#ffec00,#fb0,#ff9000,#ff6e00,#ff5000,#ff3100,#ff1900,#ff2100,#ff5f00,#ffd200,#abff4c,#61ff96,#4dffaa,#5fff98,#84ff72,#adff49,#d0ff27,#e3ff13,#e5ff12,#e0ff17,#e2ff15,#f2fb04,#ffdf00,#ffc800,#ffbd00,#ffb500,#ffa600,#ff8c00,#ff7100,#ff6700,#ff7900,#ff9800,#ffb000,#ffb100,#ffa700,#ffa300,#ffb500,#ffd200,#ffe800,#ffe700,#ffd600,#ffc700,#ffc900,#ffd500,#ffdc00,#ffce00,#ffb000,#ff8e00,#f70,#ff6b00,#ff6200,#ff5400,#ff4200,#ff3600,#ff3900,#ff4d00,#ff6d00,#ff9400,#ffc100,#f8f400,#c5ff32,#93ff64,#74ff83,#7cff7b,#aaff4c,#e5ff11,#ffd700,#ffc700,#ffcd00,#fd0,#fdee00,#f1fc06,#e9ff0d,#e7ff0f,#e9ff0e,#ebff0c)"></i><i style="height:2.521px;background:linear-gradient(90deg,#ffd800,#ffd900,#ffda00,#ffd900,#ffd400,#ffd100,#ffd500,#ffe900,#e9ff0e,#d0ff26,#c0ff37,#b9ff3d,#baff3d,#bfff37,#c6ff31,#caff2c,#caff2d,#c8ff2f,#caff2c,#daff1d,#f6f701,#ffd100,#ffae00,#ff8f00,#ff7300,#ff5400,#ff3d00,#ff4300,#ff7d00,#ffe800,#a3ff54,#6cff8b,#6fff88,#96ff61,#c9ff2e,#f4f903,#ffdb00,#ffd800,#fdee00,#e5ff12,#dbff1c,#ebff0c,#ffe200,#ffc500,#ffba00,#ffba00,#ffbe00,#ffbc00,#ffb400,#ffa900,#ff9a00,#ff8b00,#ff7c00,#ff6f00,#ff6a00,#ff7300,#ff8e00,#ffb000,#ffca00,#ffd000,#ffc700,#ffbe00,#ffc000,#ffc900,#ffcb00,#ffb900,#f90,#ff7800,#ff6500,#ff6000,#ff6200,#ff6200,#ff5f00,#ff5b00,#ff5800,#ff5b00,#ff6400,#ff7800,#ff9700,#ffbd00,#ffe800,#dfff17,#c5ff32,#bcff3b,#c5ff32,#d5ff21,#e3ff13,#e9ff0e,#e9ff0e,#e5ff11,#e2ff15,#deff19,#dcff1b,#dbff1c,#dcff1b,#dcff1b)"></i><i style="height:2.521px;background:linear-gradient(90deg,#ffba00,#fb0,#ffbd00,#fb0,#ffb500,#ffb000,#ffb600,#fc0,#ffeb00,#e9ff0e,#e3ff14,#ebff0c,#f6f701,#f9f300,#f2fb04,#e8ff0f,#dfff18,#dbff1c,#ddff1a,#e7ff0f,#f9f300,#ffdb00,#ffc200,#ffab00,#ff9300,#ff7900,#f60,#ff6c00,#ffa000,#f2fb04,#a5ff52,#7fff77,#92ff65,#c4ff33,#f9f300,#ffc800,#ffb600,#ffc300,#ffe900,#deff19,#cfff28,#e0ff16,#ffe800,#ffc600,#ffba00,#ffc000,#ffd100,#ffe400,#fbf000,#ffea00,#ffcb00,#ff9f00,#ff7a00,#ff6800,#ff6a00,#ff7a00,#ff9100,#ffab00,#ffc100,#ffd000,#ffd700,#ffda00,#ffdc00,#ffda00,#ffcf00,#ffb900,#ff9c00,#ff8400,#ff7b00,#ff8000,#ff8b00,#ff9400,#f90,#ff9800,#ff9100,#ff8700,#ff8100,#f80,#ff9a00,#ffb400,#ffd000,#ffe900,#f0fd07,#e3ff13,#ddff1a,#d8ff1e,#d4ff23,#cfff28,#caff2d,#c9ff2e,#cbff2c,#cfff28,#d2ff24,#d3ff24,#d3ff24,#d2ff25)"></i><i style="height:2.521px;background:linear-gradient(90deg,#ffb700,#ffb900,#ffba00,#ffb800,#ffb400,#ffb000,#ffb400,#ffc600,#ffdc00,#ffe900,#ffdf00,#ffc600,#ffb000,#ffb100,#ffc700,#ffe300,#f8f400,#f4f903,#f8f400,#ffec00,#ffe300,#ffd800,#fc0,#ffbd00,#ffad00,#ff9c00,#ff9000,#ff9700,#ffc000,#eaff0d,#b2ff45,#9cff5b,#b4ff43,#e3ff14,#ffd700,#ffb700,#ffb100,#ffc700,#faf200,#d5ff22,#c6ff31,#d9ff1e,#fcef00,#ffca00,#ffbc00,#ffc400,#ffdc00,#f0fd06,#d9ff1e,#d6ff21,#f1fc05,#ffcb00,#ffa100,#ff9200,#f90,#ffa800,#ffb300,#ffbc00,#ffc900,#ffdf00,#f5f802,#e7ff10,#e8ff0f,#f7f500,#ffdc00,#ffc300,#ffb000,#ffa700,#ffad00,#ffbd00,#ffd000,#ffde00,#ffe400,#ffe100,#ffd700,#ffc900,#ffbe00,#ffbd00,#ffc700,#ffd700,#ffe800,#f5f701,#edff0a,#ebff0c,#efff08,#f1fd06,#ebff0c,#dbff1c,#caff2d,#c1ff36,#c3ff34,#ccff2b,#d3ff23,#d5ff21,#d4ff23,#d2ff25)"></i><i style="height:2.521px;background:linear-gradient(90deg,#ffc200,#ffc300,#ffc300,#ffc200,#ffbf00,#ffbd00,#ffc000,#ffca00,#ffd400,#ffd300,#fb0,#ff9800,#ff7e00,#ff8200,#ffa100,#ffc500,#ffda00,#ffdc00,#ffd500,#ffcf00,#ffcd00,#fc0,#ffcb00,#ffc800,#ffc200,#ffb900,#ffb200,#ffb600,#ffd100,#f0fe07,#cdff2a,#c3ff34,#d8ff1e,#feee00,#ffc700,#ffb400,#ffb600,#ffce00,#f7f500,#d7ff20,#ccff2b,#deff19,#ffec00,#ffc900,#ffb900,#ffbd00,#ffd400,#f4f903,#d6ff21,#cbff2c,#dfff18,#ffe800,#ffc500,#ffba00,#ffc000,#ffc900,#ffc800,#ffc400,#ffca00,#ffe400,#e7ff10,#d2ff25,#d6ff21,#effe07,#ffdb00,#ffc200,#ffb900,#ffc000,#ffd400,#fcf000,#e6ff11,#d9ff1e,#d7ff20,#dbff1c,#e2ff15,#e8ff0f,#ecff0b,#eeff09,#ecff0b,#e7ff0f,#dfff17,#d8ff1f,#d6ff20,#e3ff14,#faf200,#ffdb00,#ffd900,#faf100,#ddff19,#c9ff2d,#c7ff30,#cfff28,#d7ff20,#d9ff1e,#d7ff1f,#d5ff21)"></i><i style="height:2.521px;background:linear-gradient(90deg,#ffca00,#ffca00,#ffca00,#ffca00,#ffc900,#ffc800,#ffc900,#ffcd00,#ffcf00,#ffc600,#ffad00,#ff8c00,#ff7500,#ff7900,#ff9400,#ffb300,#ffc500,#ffc700,#ffc000,#ffb900,#ffb700,#ffba00,#ffc200,#ffcb00,#ffd100,#ffce00,#ffc400,#ffbe00,#ffc600,#ffde00,#f8f500,#f3fa04,#ffe800,#fc0,#ffb400,#ffab00,#ffb000,#ffc300,#ffe000,#f3fa04,#ebff0b,#f9f400,#ffd700,#ffba00,#ffa700,#ffa300,#ffaf00,#fc0,#ffeb00,#f2fb05,#fbf100,#ffd600,#ffbc00,#ffaf00,#ffad00,#ffad00,#fa0,#ffa800,#ffb100,#ffcb00,#ffeb00,#efff08,#f6f600,#ffd800,#ffb600,#ffa200,#ffa000,#ffaf00,#fc0,#fcf000,#e1ff15,#d5ff22,#d6ff21,#d9ff1e,#d6ff21,#cbff2c,#c1ff36,#beff39,#c4ff33,#cbff2c,#cbff2b,#c6ff30,#c8ff2f,#dbff1c,#ffec00,#ffc500,#ffb900,#ffce00,#f9f300,#dfff18,#d3ff23,#d2ff24,#d5ff22,#d5ff21,#d5ff22,#d4ff23)"></i><i style="height:2.521px;background:linear-gradient(90deg,#ffca00,#ffca00,#ffca00,#ffca00,#ffca00,#ffca00,#ffca00,#ffcb00,#ffca00,#ffc300,#ffb400,#ffa000,#ff9300,#ff9300,#ffa100,#ffb100,#ffbc00,#ffbd00,#ffb900,#ffb100,#ffab00,#ffac00,#ffb900,#ffd000,#ffe200,#ffe200,#ffcf00,#ffb800,#ffae00,#ffb600,#ffc300,#ffc800,#ffbf00,#ffb000,#ffa400,#ffa000,#ffa500,#ffb000,#ffbf00,#fc0,#ffd100,#ffca00,#fb0,#ffa800,#ff9600,#ff8a00,#ff8a00,#ff9700,#fa0,#ffb700,#ffb700,#ffac00,#f90,#ff8400,#ff7300,#ff6a00,#ff6e00,#ff7d00,#ff9100,#ffa700,#ffb700,#ffbd00,#ffb400,#ffa000,#ff8b00,#ff7e00,#ff7d00,#ff8c00,#fa0,#ffd100,#faf100,#effe07,#f2fb05,#f3fa04,#e3ff14,#c3ff34,#a7ff50,#9fff58,#aeff49,#c2ff34,#cdff2a,#caff2d,#c9ff2e,#d9ff1e,#fdee00,#ffc400,#ffae00,#ffb800,#ffd300,#faf200,#e5ff12,#d6ff20,#cfff28,#cdff2a,#ceff29,#d0ff27)"></i><i style="height:2.521px;background:linear-gradient(90deg,#ffc800,#ffc800,#ffc800,#ffc800,#ffc800,#ffc800,#ffc800,#ffc800,#ffc700,#ffc500,#ffc200,#ffbd00,#ffba00,#ffb900,#ffba00,#ffbd00,#ffc000,#ffc200,#ffc100,#ffba00,#ffb100,#ffb100,#ffc400,#ffe500,#edff0a,#ecff0b,#ffe800,#ffc500,#ffaf00,#ffac00,#ffb400,#ffba00,#ffb900,#ffb500,#ffb100,#ffb000,#ffb100,#ffb400,#ffb800,#fb0,#ffbc00,#fb0,#ffb800,#ffb200,#fa0,#ffa200,#ff9e00,#ff9e00,#ffa200,#ffa900,#ffaf00,#ffb000,#ffa400,#ff8700,#ff6700,#ff5600,#ff6100,#ff8000,#ffa000,#ffb000,#ffb200,#ffac00,#ffa600,#ffa100,#ff9c00,#ff9500,#ff9200,#ff9a00,#ffb400,#ffd800,#f6f701,#edff0a,#f2fb05,#f2fb05,#dcff1b,#b2ff45,#8fff68,#89ff6e,#a2ff55,#c4ff33,#d7ff1f,#d6ff21,#d1ff26,#daff1d,#f6f701,#ffd100,#ffb700,#ffb200,#ffbe00,#ffd600,#f8f400,#dfff18,#cfff28,#cbff2c,#cdff29,#d2ff25)"></i><i style="height:2.521px;background:linear-gradient(90deg,#ffc500,#ffc500,#ffc500,#ffc500,#ffc500,#ffc500,#ffc500,#ffc600,#ffc600,#ffc700,#ffca00,#ffcd00,#ffd000,#ffd200,#ffd300,#ffd500,#ffd600,#ffd700,#ffd700,#ffd300,#ffd100,#ffd900,#f9f300,#d8ff1f,#bcff3b,#b8ff3f,#cdff2a,#ebff0c,#ffea00,#ffe400,#ffe900,#fcef00,#f9f200,#f9f300,#f9f300,#f9f300,#faf200,#faf100,#fcf000,#feee00,#ffeb00,#ffe900,#ffeb00,#f9f300,#eaff0c,#dbff1c,#d1ff25,#d2ff25,#d7ff20,#d9ff1e,#d3ff24,#cdff2a,#d3ff24,#edff09,#ffda00,#ffc300,#ffcd00,#feed00,#e1ff16,#d5ff22,#d6ff21,#daff1d,#d7ff20,#cfff28,#c9ff2e,#ccff2a,#d4ff22,#d7ff20,#c9ff2e,#b1ff46,#9bff5b,#96ff61,#9eff58,#a4ff53,#98ff5f,#7dff7a,#6aff8d,#74ff83,#9aff5c,#c6ff31,#e0ff17,#e0ff16,#d9ff1e,#d9ff1d,#eaff0d,#ffe900,#ffcf00,#ffbe00,#ffb900,#ffc500,#ffdf00,#f1fc06,#dfff18,#daff1d,#ddff1a,#e2ff15)"></i><i style="height:2.521px;background:linear-gradient(90deg,#ffc500,#ffc500,#ffc500,#ffc500,#ffc500,#ffc500,#ffc500,#ffc600,#ffc700,#ffc800,#ffc900,#ffca00,#ffcf00,#ffd900,#ffe700,#faf200,#f5f701,#f6f600,#f8f500,#f4f802,#eaff0d,#d7ff20,#b9ff3d,#97ff5f,#7cff7a,#74ff83,#80ff77,#94ff63,#a3ff54,#a7ff50,#a5ff52,#a1ff56,#9eff59,#9dff5a,#9dff5a,#9dff5a,#9eff59,#9eff59,#9eff59,#a0ff57,#a5ff51,#aeff49,#aeff49,#9bff5c,#6eff88,#3bffbc,#15ffe2,#0cf5ea,#15ffe2,#1effd9,#1bffdc,#14ffe2,#18ffdf,#2fffc8,#4fffa8,#66ff90,#66ff91,#55ffa2,#3fffb8,#31ffc5,#2affcd,#22ffd5,#14fee3,#03e9f4,#00dcff,#00e1fa,#0bf3eb,#17ffe0,#15ffe2,#07eef0,#00ddfd,#00dcfe,#05ecf2,#15ffe2,#21ffd6,#2affcd,#3bffbc,#5fff98,#93ff64,#c5ff32,#e1ff16,#e5ff12,#dcff1b,#d6ff20,#dbff1c,#e9ff0e,#fcef00,#ffd600,#ffc400,#ffc000,#ffcd00,#ffe100,#fbf100,#f7f500,#faf200,#fdee00)"></i><i style="height:2.521px;background:linear-gradient(90deg,#ffc600,#ffc600,#ffc600,#ffc600,#ffc600,#ffc500,#ffc600,#ffc700,#ffc800,#ffc800,#ffc400,#ffc000,#ffc500,#ffd700,#f9f300,#e3ff14,#daff1c,#ddff1a,#e0ff17,#d7ff20,#c0ff37,#a0ff57,#7dff7a,#5cff9b,#43ffb4,#37ffc0,#38ffbe,#40ffb7,#46ffb1,#48ffaf,#47ffb0,#45ffb2,#44ffb3,#43ffb3,#44ffb3,#45ffb2,#45ffb1,#44ffb3,#40ffb7,#3fffb7,#48ffaf,#58ff9f,#5cff9a,#40ffb7,#00dcff,#0070ff,#001eff,#0005ff,#0010ff,#02f,#0024ff,#001eff,#0020ff,#0037ff,#0059ff,#0078ff,#0084ff,#0080ff,#0071ff,#005dff,#0046ff,#002bff,#000bff,#0000fd,#0000ec,#0000f6,#0002ff,#001bff,#0024ff,#001fff,#0018ff,#001bff,#002fff,#0050ff,#007eff,#00b7ff,#11fbe6,#4fffa8,#8eff69,#c2ff35,#e0ff17,#e5ff12,#ddff1a,#d3ff24,#cfff28,#d3ff23,#e3ff14,#fcef00,#ffd300,#ffc200,#ffc100,#ffc900,#ffd100,#ffd300,#ffd200,#ffcf00)"></i><i style="height:2.521px;background:linear-gradient(90deg,#ffc700,#ffc700,#ffc700,#ffc700,#ffc600,#ffc600,#ffc600,#ffc800,#ffc900,#ffc800,#ffc100,#ffba00,#ffbe00,#ffd500,#f4f903,#d7ff1f,#ccff2b,#d0ff27,#d3ff24,#c7ff30,#a9ff4e,#82ff74,#5cff9b,#3cffba,#25ffd2,#17ffdf,#13fde4,#13fde4,#14fee3,#14fee3,#13fee3,#13fde4,#13fde4,#13fde3,#15ffe2,#16ffe1,#16ffe1,#13fde4,#0df6ea,#0bf3ec,#15ffe2,#29ffce,#30ffc6,#0ff8e8,#008dff,#000bff,#00a,#000083,#000090,#0000a8,#0000ae,#0000a9,#00a,#0000c0,#0000e3,#00f,#000bff,#01f,#0008ff,#00f,#0000de,#0000b4,#008,#000080,#000080,#000080,#000080,#0000a2,#0000b3,#0000b4,#0000b2,#0000b9,#0000d2,#00f,#0031ff,#0083ff,#00dffc,#47ffb0,#8bff6c,#c0ff36,#deff18,#e5ff12,#ddff19,#d1ff26,#c9ff2e,#c9ff2e,#d6ff21,#f0fd06,#ffdc00,#ffc300,#fb0,#ffbc00,#ffc000,#ffc100,#ffc000,#ffbf00)"></i><i style="height:2.521px;background:linear-gradient(90deg,#ffc700,#ffc700,#ffc700,#ffc700,#ffc600,#ffc600,#ffc600,#ffc800,#ffc900,#ffc800,#ffc000,#ffb900,#ffbd00,#ffd500,#f3f903,#d7ff20,#cbff2c,#cfff28,#d2ff24,#c6ff31,#a8ff4f,#81ff76,#5aff9d,#3bffbc,#23ffd4,#15ffe1,#10fae6,#10fae7,#11fbe6,#11fbe6,#10fae6,#10f9e7,#10f9e7,#10fae6,#12fce5,#13fee3,#13fee3,#10f9e7,#0af2ed,#08efef,#12fbe5,#26ffd0,#2effc9,#0cf5eb,#0089ff,#0004ff,#0000a1,#000080,#000087,#0000a0,#0000a6,#0000a0,#0000a1,#0000b7,#0000da,#0000fe,#0004ff,#000aff,#0002ff,#0000fa,#0000d6,#0000ab,#000080,#000080,#000080,#000080,#000080,#00009a,#0000ab,#0000ad,#0000ab,#0000b2,#0000cb,#0000f9,#002cff,#0080ff,#00defd,#46ffb1,#8bff6c,#c0ff36,#deff18,#e5ff12,#ddff19,#d1ff26,#c8ff2f,#c8ff2f,#d5ff21,#f0fe07,#ffdc00,#ffc400,#fb0,#fb0,#ffbe00,#ffbf00,#ffbf00,#ffbe00)"></i><i style="height:2.521px;background:linear-gradient(90deg,#ffc600,#ffc700,#ffc700,#ffc600,#ffc600,#ffc600,#ffc600,#ffc800,#ffc900,#ffc800,#ffc200,#ffbc00,#ffc000,#ffd600,#f5f702,#dbff1c,#d0ff26,#d4ff23,#d7ff20,#ccff2b,#b0ff47,#8bff6c,#66ff91,#46ffb1,#2effc9,#21ffd6,#1effd9,#20ffd7,#23ffd4,#24ffd3,#23ffd4,#22ffd5,#21ffd5,#22ffd5,#23ffd4,#24ffd3,#24ffd2,#21ffd5,#1cffdb,#1bffdc,#24ffd3,#37ffc0,#3effb9,#1effd9,#00a5ff,#0029ff,#0000d2,#0000ae,#00b,#0000d3,#0000d8,#0000d2,#0000d3,#0000ea,#00f,#001dff,#002fff,#0032ff,#0028ff,#0013ff,#00f,#0000de,#0000b4,#000091,#000081,#00008c,#0000ac,#00c,#0000db,#0000da,#0000d6,#0000dc,#0000f4,#000eff,#0048ff,#0092ff,#02e8f5,#49ffae,#8cff6b,#c1ff36,#dfff18,#e5ff12,#ddff19,#d2ff25,#caff2c,#ccff2b,#daff1d,#f4f903,#ffd900,#ffc300,#ffbd00,#ffc000,#ffc500,#ffc600,#ffc500,#ffc400)"></i></div></div>
<div class="m" style="left:268.70px;top:13.00px;width:227.60px;height:121.00px;clip-path:path('M172.24 4.00 L176.63 5.35 L182.02 7.42 L187.72 10.01 L192.70 12.84 L197.22 15.85 L201.49 19.00 L205.48 22.26 L209.10 25.61 L212.20 29.02 L214.99 32.49 L217.31 35.98 L219.21 39.48 L220.64 42.98 L221.65 46.49 L222.50 49.99 L223.09 53.49 L223.45 57.00 L223.60 60.50 L223.45 64.00 L223.09 67.51 L222.50 71.01 L221.65 74.51 L220.64 78.02 L219.21 81.52 L217.31 85.02 L214.99 88.51 L212.20 91.98 L209.10 95.39 L205.48 98.74 L201.49 102.00 L197.22 105.15 L192.70 108.16 L187.72 110.99 L182.02 113.58 L176.63 115.65 L172.24 117.00 L55.36 117.00 L50.97 115.65 L45.58 113.58 L39.88 110.99 L34.90 108.16 L30.38 105.15 L26.11 102.00 L22.12 98.74 L18.50 95.39 L15.40 91.98 L12.61 88.51 L10.29 85.02 L8.39 81.52 L6.96 78.02 L5.95 74.51 L5.10 71.01 L4.51 67.51 L4.15 64.00 L4.00 60.50 L4.15 57.00 L4.51 53.49 L5.10 49.99 L5.95 46.49 L6.96 42.98 L8.39 39.48 L10.29 35.98 L12.61 32.49 L15.40 29.02 L18.50 25.61 L22.12 22.26 L26.11 19.00 L30.38 15.85 L34.90 12.84 L39.88 10.01 L45.58 7.42 L50.97 5.35 L55.36 4.00 Z')"><div class="f"><i style="height:2.521px;background:linear-gradient(90deg,#d6ff21,#d7ff20,#d8ff1f,#d7ff20,#d2ff25,#ceff29,#d3ff24,#e6ff11,#ffe900,#ffcd00,#ffbf00,#ffc000,#ffc600,#ffc800,#ffc700,#ffc600,#ffc900,#ffce00,#ffc800,#ffaf00,#ff8900,#ff6c00,#ff6c00,#ff8a00,#ffaf00,#ffc400,#ffc200,#ffbe00,#fc0,#fdee00,#dfff17,#d7ff20,#e9ff0d,#ffdf00,#ffbc00,#fa0,#ffaf00,#ffcf00,#e6ff11,#abff4b,#7bff7c,#60ff97,#60ff97,#7dff7a,#b4ff43,#f2fb05,#ffc600,#ffb400,#ffba00,#ffc700,#ffcb00,#ffc900,#ffc400,#ffc300,#ffc300,#ffc400,#ffc500,#ffc500,#ffc400,#ffc400,#ffc400,#ffc400,#ffc300,#ffc200,#ffc100,#ffc100,#ffc200,#ffc200,#ffc100,#ffbf00,#ffc000,#ffc600,#ffcb00,#ffc900,#ffb500,#ff9400,#ff7500,#ff6500,#ff6700,#ff6d00,#ff6a00,#ff5f00,#ff5e00,#ff7b00,#ffb500,#f6f701,#ccff2a,#beff39,#c5ff32,#daff1d,#f6f701,#ffd800,#ffc400,#ffbf00,#ffc200,#ffc700)"></i><i style="height:2.521px;background:linear-gradient(90deg,#d6ff21,#d7ff20,#d8ff1f,#d6ff20,#d2ff25,#ceff29,#d3ff24,#e6ff11,#ffea00,#ffcd00,#ffc000,#ffc200,#ffc900,#fc0,#ffcb00,#ffc800,#ffc700,#ffc500,#ffb900,#ff9a00,#ff7100,#ff5200,#ff5300,#ff7200,#ff9a00,#ffb200,#ffb500,#ffb500,#ffc700,#feed00,#dfff17,#d7ff20,#ecff0a,#ffd900,#ffb600,#ffa800,#ffaf00,#ffcf00,#ebff0c,#b6ff41,#86ff70,#67ff90,#60ff97,#78ff7f,#afff48,#effe08,#ffc600,#ffb400,#fb0,#ffc800,#ffcb00,#ffc600,#ffbf00,#ffbd00,#ffbd00,#ffbf00,#ffc000,#ffc000,#ffbf00,#ffc000,#ffc000,#ffbf00,#ffbc00,#ffb800,#ffb500,#ffb400,#ffb500,#ffb600,#ffb500,#ffb400,#ffb500,#fb0,#ffc200,#ffbe00,#ffa900,#ff8400,#ff6200,#ff5200,#ff5700,#ff6000,#ff5f00,#ff5300,#ff5100,#ff6e00,#ffac00,#faf200,#cdff2a,#bbff3b,#c1ff36,#d6ff21,#f2fb05,#ffdb00,#ffc600,#ffc000,#ffc400,#ffc900)"></i><i style="height:2.521px;background:linear-gradient(90deg,#d6ff21,#d7ff20,#d8ff1f,#d6ff20,#d2ff25,#ceff29,#d3ff24,#e6ff11,#ffea00,#ffcd00,#ffc000,#ffc100,#ffc800,#fc0,#ffca00,#ffc800,#ffc800,#ffc700,#fb0,#ff9e00,#ff7500,#ff5700,#ff5700,#ff7600,#ff9d00,#ffb500,#ffb700,#ffb700,#ffc800,#feed00,#dfff17,#d7ff20,#ecff0b,#ffda00,#ffb700,#ffa800,#ffaf00,#ffcf00,#eaff0d,#b4ff43,#84ff72,#66ff91,#60ff97,#79ff7e,#b0ff47,#f0fe07,#ffc600,#ffb400,#fb0,#ffc800,#ffcb00,#ffc600,#ffc000,#ffbe00,#ffbe00,#ffc000,#ffc100,#ffc000,#ffc000,#ffc000,#ffc100,#ffc000,#ffbd00,#ffba00,#ffb700,#ffb600,#ffb700,#ffb800,#ffb700,#ffb600,#ffb700,#ffbd00,#ffc300,#ffc000,#ffab00,#ff8700,#ff6500,#f50,#ff5900,#ff6200,#ff6000,#f50,#ff5300,#ff7000,#ffad00,#f9f300,#cdff2a,#bcff3b,#c2ff35,#d6ff20,#f3fa04,#ffda00,#ffc500,#ffc000,#ffc300,#ffc900)"></i><i style="height:2.521px;background:linear-gradient(90deg,#d6ff21,#d7ff20,#d8ff1f,#d7ff20,#d2ff25,#ceff29,#d2ff24,#e6ff11,#ffe900,#fc0,#ffbd00,#ffbd00,#ffc100,#ffc200,#ffc000,#ffc100,#ffcd00,#ffde00,#ffe600,#ffd800,#ffb800,#ff9e00,#ff9e00,#ffba00,#ffda00,#ffe700,#fd0,#ffd000,#ffd500,#faf100,#e0ff17,#d5ff22,#e3ff13,#ffeb00,#ffc800,#ffb000,#ffae00,#ffd000,#dcff1b,#97ff5f,#64ff93,#52ffa5,#60ff97,#87ff70,#bfff38,#f8f500,#ffc500,#ffb300,#ffb800,#ffc400,#fc0,#ffce00,#ffcf00,#ffcf00,#ffce00,#ffce00,#ffce00,#ffce00,#ffce00,#ffce00,#ffcd00,#ffce00,#ffd200,#ffd600,#ffda00,#ffdc00,#ffdb00,#ffd900,#ffd700,#ffd500,#ffd600,#ffda00,#ffdf00,#fd0,#ffce00,#ffb400,#ff9a00,#ff8a00,#ff8600,#ff8600,#ff8000,#f70,#ff7900,#ff9400,#ffc800,#eeff09,#ccff2a,#c4ff33,#ceff29,#e3ff13,#fdee00,#ffd300,#ffc200,#ffbd00,#ffc000,#ffc400)"></i><i style="height:2.521px;background:linear-gradient(90deg,#d6ff20,#d8ff1f,#d9ff1e,#d7ff20,#d2ff25,#ceff29,#d2ff24,#e6ff11,#ffe900,#ffca00,#ffba00,#ffb600,#ffb700,#ffb300,#ffb000,#ffb800,#ffd700,#e9ff0e,#c5ff32,#b8ff3e,#c3ff34,#d1ff26,#cfff28,#bdff3a,#acff4a,#b2ff45,#cfff28,#effe07,#feed00,#f4f903,#e0ff17,#d2ff25,#d4ff23,#e5ff11,#ffe600,#ffbf00,#ffae00,#ffd100,#c6ff31,#69ff8e,#30ffc7,#35ffc2,#65ff92,#a4ff53,#dbff1c,#ffe400,#ffc300,#ffb400,#ffb400,#ffbe00,#ffce00,#ffdf00,#ffeb00,#fcef00,#feed00,#ffea00,#ffe900,#ffea00,#ffea00,#ffe800,#ffe600,#ffea00,#f5f802,#e4ff13,#d6ff21,#d0ff27,#d2ff25,#d7ff1f,#dcff1b,#ddff19,#ddff1a,#dcff1b,#daff1c,#dbff1c,#deff19,#e5ff11,#f0fd06,#ffec00,#ffda00,#ffc800,#fb0,#ffb700,#ffbe00,#ffd400,#f6f600,#dbff1c,#ceff29,#d4ff23,#e6ff11,#fcf000,#ffd900,#ffc700,#ffbd00,#ffba00,#ffbc00,#ffbf00)"></i><i style="height:2.521px;background:linear-gradient(90deg,#d6ff21,#d8ff1f,#d9ff1e,#d7ff20,#d2ff25,#ceff29,#d2ff24,#e6ff11,#ffe800,#ffca00,#fb0,#ffb900,#ffba00,#ffb300,#ffac00,#ffb500,#ffdf00,#d1ff26,#96ff61,#71ff86,#63ff94,#5eff99,#55ffa2,#48ffaf,#45ffb1,#5eff99,#91ff66,#c7ff30,#e9ff0e,#eeff09,#e1ff16,#d0ff27,#c7ff30,#cdff2a,#e9ff0d,#ffd100,#ffb200,#ffd200,#baff3d,#50ffa6,#17ffe0,#2fffc8,#79ff7e,#c7ff30,#faf200,#ffd400,#ffc400,#ffb900,#ffb600,#ffbf00,#ffd600,#f9f300,#e4ff12,#ddff19,#e0ff17,#e5ff12,#e6ff11,#e4ff12,#e4ff12,#e8ff0f,#ebff0b,#e6ff11,#d2ff25,#b5ff42,#9aff5c,#8fff68,#91ff66,#98ff5e,#9dff59,#9eff58,#9eff59,#9eff59,#9fff58,#9eff58,#9aff5c,#96ff61,#98ff5f,#a8ff4e,#c5ff32,#e1ff15,#f3f903,#f6f601,#eeff09,#e1ff16,#d4ff23,#ceff29,#d4ff23,#e9ff0e,#ffe900,#ffd100,#ffc400,#ffc000,#ffbf00,#ffbf00,#ffbf00,#ffbf00)"></i><i style="height:2.521px;background:linear-gradient(90deg,#d5ff22,#d6ff20,#d7ff1f,#d6ff21,#d1ff26,#cdff29,#d2ff24,#e6ff11,#ffe900,#ffce00,#ffc700,#ffd000,#ffd800,#ffd400,#ffc700,#ffc500,#ffdf00,#ddff1a,#a5ff52,#70ff87,#44ffb2,#22ffd5,#08f0ef,#00e0fc,#04ebf2,#2cffca,#6eff89,#b1ff46,#deff18,#ebff0c,#e3ff14,#d2ff25,#c4ff33,#c4ff33,#dbff1b,#ffe300,#ffbf00,#ffd200,#cbff2c,#74ff82,#47ffaf,#62ff94,#a6ff50,#e9ff0d,#ffdb00,#fc0,#ffc900,#ffc500,#ffc500,#ffcf00,#ffe800,#e6ff11,#d0ff27,#c7ff30,#c8ff2f,#ccff2b,#ccff2b,#cbff2c,#ccff2b,#d2ff25,#d8ff1f,#d3ff24,#bcff3b,#98ff5f,#77ff80,#66ff91,#63ff94,#67ff90,#69ff8e,#67ff8f,#65ff92,#64ff92,#66ff91,#66ff91,#63ff93,#61ff96,#65ff92,#79ff7e,#99ff5e,#bbff3c,#d2ff25,#daff1d,#d8ff1f,#d3ff24,#d0ff27,#d4ff23,#e4ff13,#ffec00,#ffcd00,#fb0,#ffbc00,#ffc700,#ffd100,#ffd400,#ffd200,#ffcf00)"></i><i style="height:2.521px;background:linear-gradient(90deg,#d4ff23,#d5ff22,#d6ff21,#d4ff22,#d0ff27,#ccff2a,#d2ff25,#e7ff10,#ffe900,#ffd300,#ffd900,#fbf100,#e7ff10,#e5ff11,#f5f702,#ffe000,#ffd300,#ffd900,#f3f903,#bcff3b,#71ff86,#28ffcf,#00d9ff,#00c5ff,#00daff,#27ffd0,#6dff8a,#b2ff45,#dfff18,#ecff0b,#e4ff12,#d6ff21,#cbff2c,#caff2c,#dbff1c,#faf200,#ffd200,#ffcf00,#fbf100,#d4ff23,#beff39,#c9ff2d,#e8ff0f,#ffe500,#ffd200,#ffce00,#ffd000,#ffd500,#ffde00,#ffed00,#ecff0b,#d7ff20,#c7ff30,#bfff38,#beff39,#beff38,#bdff39,#bcff3a,#bfff38,#c7ff30,#ceff28,#ccff2b,#b7ff40,#95ff61,#73ff84,#5bff9b,#4fffa7,#4affad,#46ffb1,#41ffb6,#3dffba,#3affbd,#3affbd,#3cffbb,#43ffb4,#4effa9,#5fff97,#78ff7f,#95ff62,#b3ff44,#ccff2a,#dfff18,#eaff0d,#edff09,#ecff0a,#eeff08,#fbf100,#ffd600,#ffbd00,#ffb500,#ffc400,#fd0,#fbf000,#f7f600,#faf200,#feed00)"></i><i style="height:2.521px;background:linear-gradient(90deg,#d4ff23,#d5ff21,#d6ff20,#d5ff22,#cfff27,#ccff2b,#d2ff25,#e8ff0e,#ffe500,#ffd000,#ffdc00,#efff08,#d2ff25,#cbff2c,#ddff1a,#ffeb00,#ffb800,#ff8f00,#ff8d00,#fc0,#b6ff41,#4bffac,#03e9f4,#00cfff,#04eaf3,#37ffbf,#7bff7c,#baff3d,#e1ff15,#ebff0c,#e2ff15,#d6ff21,#d0ff27,#d1ff25,#dcff1a,#f0fd07,#ffe100,#ffc700,#ffb300,#ffa700,#ffa800,#ffb400,#ffc400,#ffcf00,#ffcf00,#ffcb00,#ffcf00,#ffdf00,#f6f601,#e3ff14,#d6ff21,#cfff27,#ccff2b,#caff2d,#c8ff2f,#c6ff31,#c4ff33,#c3ff34,#c6ff31,#cdff2a,#d3ff24,#d1ff26,#bfff37,#a1ff56,#7fff78,#60ff97,#48ffaf,#38ffbf,#2fffc8,#2bffcc,#2affcd,#27ffd0,#24ffd3,#26ffd0,#34ffc3,#4cffab,#69ff8d,#87ff70,#a2ff55,#bdff3a,#d8ff1e,#f4f903,#ffe000,#ffd400,#ffd500,#ffd800,#ffd400,#ffc500,#ffba00,#ffbf00,#ffd800,#f4f903,#dfff18,#d9ff1d,#ddff1a,#e2ff14)"></i><i style="height:2.521px;background:linear-gradient(90deg,#d8ff1f,#daff1d,#dcff1b,#d9ff1d,#d2ff25,#ccff2b,#d1ff26,#ebff0c,#ffda00,#ffbc00,#ffbf00,#ffdb00,#f4f903,#ebff0c,#faf200,#ffc800,#ff8c00,#ff5400,#ff4700,#ff8a00,#dfff18,#61ff95,#0ff8e8,#00dffc,#13fde4,#46ffb1,#83ff74,#b9ff3e,#daff1c,#e1ff15,#d9ff1e,#ceff29,#c7ff30,#c8ff2f,#d3ff24,#e9ff0e,#ffe200,#ffb600,#ff8700,#ff6500,#ff5f00,#ff7d00,#ffa800,#ffc500,#ffc600,#ffba00,#fb0,#ffd800,#ecff0b,#d0ff27,#c9ff2e,#d2ff24,#e0ff17,#e8ff0e,#ebff0c,#eaff0d,#e9ff0e,#e8ff0f,#e8ff0f,#eaff0d,#e9ff0d,#e2ff15,#ceff29,#b0ff47,#8bff6c,#63ff94,#3fffb8,#26ffd1,#1effd9,#24ffd3,#2dffca,#30ffc7,#2cffcb,#2affcd,#32ffc4,#47ffaf,#65ff92,#86ff71,#a9ff4e,#cbff2c,#eaff0c,#ffe400,#fc0,#ffbd00,#ffb900,#ffba00,#ffbc00,#ffbf00,#ffc700,#ffd900,#f8f500,#deff18,#cdff2a,#c9ff2e,#ccff2b,#d0ff27)"></i><i style="height:2.521px;background:linear-gradient(90deg,#deff19,#e1ff16,#e3ff14,#e0ff17,#d5ff22,#ccff2b,#d0ff26,#eeff08,#ffca00,#ff9b00,#ff8700,#ff8b00,#ff9800,#ff9d00,#ff9500,#ff7d00,#ff5600,#f30,#ff3800,#f80,#ddff1a,#5fff98,#10f9e7,#00e4f8,#18ffdf,#47ffb0,#7bff7c,#a8ff4f,#c4ff33,#cbff2b,#c5ff32,#b8ff3f,#acff4a,#abff4c,#bbff3c,#e0ff17,#ffda00,#ffa500,#ff7d00,#ff6900,#ff7000,#ff9000,#ffb500,#ffc500,#ffb500,#ff9b00,#f90,#ffc200,#f0fd07,#caff2d,#c7ff2f,#dfff18,#fdee00,#ffd500,#ffc800,#ffc200,#ffc000,#ffc200,#ffc600,#ffce00,#ffdb00,#fbf100,#dfff18,#bbff3c,#8fff68,#5fff98,#32ffc5,#16ffe1,#15ffe1,#2affcc,#44ffb3,#51ffa6,#4fffa8,#45ffb2,#3cffba,#3cffbb,#4affad,#6cff8a,#9fff58,#d2ff25,#f7f600,#ffe100,#ffd600,#ffcb00,#fb0,#ffb000,#ffb200,#ffc500,#ffe000,#f1fc05,#deff18,#d1ff25,#caff2d,#c8ff2f,#c9ff2d,#cbff2c)"></i><i style="height:2.521px;background:linear-gradient(90deg,#dcff1a,#dfff17,#e1ff15,#deff18,#d4ff23,#caff2d,#d0ff27,#f1fc06,#ffc100,#ff8400,#ff5800,#ff4200,#ff3800,#ff3600,#ff3500,#ff3100,#ff2800,#ff2500,#ff4500,#ffa000,#caff2c,#56ffa1,#0ef7e9,#00e6f7,#18ffdf,#3effb8,#66ff91,#87ff70,#9dff5a,#a4ff53,#a0ff57,#93ff64,#84ff72,#82ff75,#99ff5d,#cdff2a,#ffe000,#ffab00,#ff9500,#ff9800,#fa0,#ffc100,#ffcf00,#ffc600,#ffa300,#ff7e00,#ff7a00,#fa0,#fcf000,#d0ff27,#ceff28,#edff0a,#ffd200,#ffad00,#ff9400,#ff8600,#ff8000,#ff8000,#ff8700,#ff9600,#ffac00,#ffce00,#f2fb05,#c2ff35,#8eff69,#5aff9d,#30ffc7,#19ffde,#20ffd7,#3effb9,#61ff96,#78ff7f,#7bff7b,#6fff88,#54ffa3,#38ffbf,#2effc9,#4affad,#87ff6f,#c9ff2e,#f0fd07,#f6f601,#f1fc06,#f7f500,#ffd900,#ffbe00,#ffb900,#ffd300,#f3fa04,#d8ff1f,#ceff29,#ceff29,#d1ff26,#d2ff25,#d1ff26,#d0ff27)"></i><i style="height:2.521px;background:linear-gradient(90deg,#ccff2b,#cdff2a,#ceff29,#cdff2a,#c8ff2f,#c6ff31,#d0ff26,#f0fd07,#ffc600,#ff8b00,#ff5700,#ff3100,#ff1800,#f60c00,#f50a00,#f90e00,#ff1300,#ff2100,#ff4e00,#ffac00,#c5ff31,#59ff9e,#16ffe1,#06edf1,#16ffe1,#30ffc7,#47ffb0,#59ff9e,#64ff92,#68ff8f,#65ff92,#5dff9a,#55ffa2,#59ff9e,#74ff83,#a9ff4e,#e3ff14,#ffdc00,#fc0,#ffd000,#ffdb00,#ffe000,#ffd800,#ffbe00,#ff9600,#ff7300,#ff7200,#ffa000,#ffe100,#deff19,#dbff1c,#f6f601,#ffca00,#ffa200,#ff8300,#ff6e00,#ff6300,#ff6000,#ff6400,#ff6f00,#ff8500,#ffab00,#ffe700,#c5ff32,#89ff6e,#5dff99,#45ffb2,#3fffb8,#49ffae,#5eff99,#78ff7e,#92ff65,#a1ff56,#9dff5a,#7bff7b,#49ffae,#25ffd2,#30ffc7,#67ff8f,#a8ff4f,#cbff2c,#c9ff2e,#bcff3b,#c1ff36,#dfff17,#ffe900,#ffd900,#ffea00,#e6ff11,#d1ff25,#ceff29,#d5ff22,#dcff1b,#deff19,#ddff1a,#dbff1c)"></i><i style="height:2.521px;background:linear-gradient(90deg,#adff4a,#abff4b,#aaff4c,#acff4b,#b2ff45,#beff39,#d1ff26,#edff0a,#ffd900,#ffad00,#ff8200,#ff5b00,#ff3c00,#ff2700,#ff1d00,#ff1800,#ff1400,#ff1b00,#ff4100,#f90,#daff1d,#6fff87,#2affcc,#14fee3,#18ffdf,#22ffd5,#26ffd1,#26ffd1,#23ffd4,#20ffd7,#1effd9,#1fffd7,#26ffd0,#36ffc1,#51ffa5,#78ff7f,#a2ff55,#c7ff30,#e0ff17,#f2fb05,#ffea00,#ffd700,#ffc200,#ffa900,#ff9000,#ff7f00,#ff8500,#ffa800,#ffd600,#f4f903,#edff0a,#fbf000,#ffd300,#ffb100,#ff9100,#ff7800,#ff6a00,#ff6400,#ff6200,#ff6000,#ff6900,#ff8b00,#ffd200,#c7ff30,#85ff72,#69ff8e,#6fff87,#80ff76,#87ff70,#83ff74,#83ff73,#97ff5f,#b6ff41,#c4ff32,#a9ff4e,#6bff8c,#32ffc5,#24ffd3,#44ffb2,#72ff84,#8cff6b,#87ff6f,#7cff7b,#83ff74,#a1ff55,#c7ff2f,#e1ff16,#e6ff11,#e0ff17,#dbff1c,#dcff1b,#e0ff16,#e5ff12,#e6ff11,#e5ff12,#e4ff13)"></i><i style="height:2.521px;background:linear-gradient(90deg,#8bff6c,#87ff70,#84ff73,#88ff6e,#99ff5e,#b3ff44,#d0ff27,#ebff0c,#ffe700,#ffcb00,#ffad00,#ff8d00,#ff6e00,#ff5400,#ff3e00,#ff2800,#fc1100,#ee0500,#ff1b00,#ff6b00,#ffe800,#94ff62,#49ffae,#2bffcc,#24ffd3,#1dffd9,#0ef7e9,#00e0fc,#0cf,#00c3ff,#00c4ff,#00d2ff,#04ebf2,#1effd9,#37ffc0,#50ffa7,#6bff8c,#8eff69,#b9ff3e,#e7ff10,#ffd600,#ffaf00,#ff9400,#f80,#ff8c00,#ff9a00,#ffad00,#ffbe00,#ffce00,#ffda00,#ffe100,#ffe000,#ffd300,#ffb900,#f90,#ff7f00,#ff7400,#ff7200,#ff6e00,#ff6000,#ff5800,#ff7000,#ffbe00,#ccff2b,#84ff73,#77ff80,#98ff5e,#bdff3a,#beff39,#9fff58,#84ff73,#8eff68,#b7ff3f,#d7ff20,#c6ff30,#88ff6f,#42ffb5,#1effd9,#24ffd3,#3bffbc,#48ffae,#46ffb1,#40ffb7,#48ffaf,#62ff95,#85ff72,#a7ff50,#c2ff35,#d5ff22,#e0ff17,#e3ff14,#e2ff15,#e0ff16,#e0ff17,#e0ff17,#e1ff16)"></i><i style="height:2.521px;background:linear-gradient(90deg,#72ff85,#6cff8a,#69ff8e,#6eff88,#84ff73,#a5ff51,#cbff2c,#ecff0b,#ffe200,#ffc600,#ffac00,#ff9200,#ff7800,#ff5c00,#ff3d00,#ff1900,#d40000,#af0000,#b00,#ff2700,#fa0,#c1ff36,#6fff88,#4bffac,#3dffba,#2bffcc,#0af2ec,#00c8ff,#00acff,#00a5ff,#00afff,#00c4ff,#00dffc,#13fee3,#2cffcb,#44ffb3,#62ff95,#8cff6b,#c5ff32,#ffe700,#ffa400,#ff7100,#ff5600,#ff5d00,#ff8700,#ffbc00,#ffdf00,#ffdf00,#ffc900,#ffb500,#ffb300,#ffb800,#ffb400,#ff9a00,#ff7600,#ff5c00,#ff5e00,#ff6d00,#ff7500,#ff6400,#ff4f00,#ff5b00,#ffa800,#d8ff1f,#8aff6c,#80ff77,#a9ff4d,#d4ff23,#d0ff26,#a4ff53,#7aff7c,#7cff7b,#a4ff53,#c7ff30,#beff39,#86ff71,#42ffb5,#16ffe1,#0bf4eb,#12fce4,#19ffde,#17ffdf,#16ffe1,#1bffdc,#2cffcb,#47ffaf,#6bff8c,#92ff64,#b6ff41,#cbff2c,#d0ff27,#cbff2c,#c5ff31,#c4ff33,#c5ff32,#c6ff30)"></i><i style="height:2.521px;background:linear-gradient(90deg,#5fff97,#5bff9c,#57ffa0,#5cff9a,#70ff87,#91ff66,#baff3d,#e7ff0f,#ffd400,#ffa800,#f80,#ff7100,#ff5b00,#ff4100,#ff1f00,#da0000,#9d0000,#800000,#800000,#d50000,#ff7c00,#e1ff16,#8aff6d,#66ff91,#57ffa0,#3effb8,#14ffe3,#00cbff,#00afff,#00b5ff,#00cbff,#00e2fa,#09f0ee,#16ffe1,#2dffca,#52ffa5,#83ff74,#bcff3a,#faf200,#ffab00,#ff6a00,#ff3700,#f20,#ff3c00,#ff8b00,#ffe400,#d8ff1f,#e6ff11,#ffd100,#ff9b00,#ff8600,#ff8600,#ff7e00,#ff5d00,#f30,#ff1c00,#ff2e00,#ff5600,#ff7200,#ff6800,#ff4d00,#ff5100,#ff9800,#e6ff11,#94ff63,#7fff78,#9dff5a,#beff39,#b9ff3e,#90ff67,#67ff8f,#62ff95,#7cff7a,#95ff61,#8dff6a,#60ff97,#2affcd,#05ecf2,#00defd,#00e1fb,#00e5f7,#00e5f7,#00e3f9,#00e4f8,#05ecf2,#15ffe2,#32ffc5,#59ff9e,#80ff77,#99ff5e,#9eff58,#99ff5e,#92ff64,#90ff66,#92ff65,#93ff63)"></i><i style="height:2.521px;background:linear-gradient(90deg,#43ffb4,#3fffb8,#3dffba,#40ffb6,#4fffa8,#6aff8d,#92ff65,#c7ff30,#ffeb00,#ffaf00,#ff8600,#ff6c00,#ff5900,#ff4100,#f20,#e20000,#ac0000,#840000,#900000,#f20800,#ff9100,#d2ff25,#7eff79,#5cff9b,#4fffa8,#38ffbf,#10fae6,#0cf,#00beff,#00d4ff,#0ef6e9,#1fffd8,#1effd9,#1dffd9,#31ffc6,#61ff96,#a1ff55,#e5ff12,#ffc600,#ff8b00,#ff5700,#ff2e00,#ff2300,#ff4d00,#ffb100,#d3ff24,#9dff59,#b4ff43,#f7f500,#ffa800,#ff8100,#ff7400,#ff6500,#ff3f00,#ff1400,#e80000,#ff1800,#ff4900,#ff6e00,#ff6b00,#f50,#ff5900,#ff9b00,#e8ff0f,#94ff63,#74ff83,#7fff77,#93ff64,#8bff6b,#6aff8d,#48ffaf,#3dffba,#47ffb0,#51ffa6,#47ffb0,#27ffd0,#02e9f4,#00cbff,#00c4ff,#00c9ff,#00cfff,#00d0ff,#00ceff,#00c9ff,#00c6ff,#0cf,#00e2f9,#1dffda,#3effb9,#54ffa3,#59ff9e,#55ffa2,#4fffa8,#4effa9,#4fffa8,#50ffa7)"></i><i style="height:2.521px;background:linear-gradient(90deg,#0bf3ec,#08f0ef,#06eef0,#09f1ee,#13fde4,#27ffcf,#47ffaf,#74ff82,#a9ff4e,#daff1c,#ffea00,#ffcb00,#ffb200,#ff9c00,#ff8400,#ff6c00,#ff5600,#ff4c00,#ff6200,#ffab00,#d6ff21,#72ff85,#2effc9,#10f9e7,#05ecf2,#00dcfe,#00c3ff,#00b3ff,#00bdff,#00e3f9,#20ffd7,#31ffc6,#2bffcc,#23ffd4,#2dffca,#55ffa2,#8eff68,#cbff2c,#ffed00,#ffbc00,#ff9600,#ff7f00,#ff8500,#ffb600,#dcff1a,#87ff6f,#5aff9d,#70ff87,#b0ff47,#f4f802,#ffc700,#ffad00,#ff9800,#ff7b00,#ff5c00,#ff4b00,#ff5100,#ff6400,#ff7300,#ff6e00,#f60,#ff7900,#ffc000,#cdff2a,#7fff78,#5cff9b,#5eff98,#68ff8f,#5dff9a,#3dffba,#1affdc,#09f1ee,#08f0ef,#0af2ed,#01e6f6,#00cbff,#00afff,#009eff,#009cff,#00a3ff,#00acff,#00b0ff,#00b0ff,#00abff,#00a3ff,#00a0ff,#0af,#00c2ff,#00defd,#09f1ee,#0cf5eb,#09f0ee,#04ebf2,#03e9f4,#04eaf3,#05ecf2)"></i><i style="height:2.521px;background:linear-gradient(90deg,#0095ff,#0092ff,#0091ff,#0093ff,#009cff,#00adff,#00c4ff,#00e1fa,#19ffde,#38ffbe,#5aff9c,#7cff7a,#9aff5d,#b0ff47,#bcff3b,#beff39,#b6ff40,#a3ff54,#82ff74,#52ffa5,#17ffe0,#00bcff,#08f,#006bff,#0060ff,#0063ff,#0070ff,#0089ff,#00b0ff,#00e0fb,#1dffda,#2fffc8,#2dffca,#24ffd2,#24ffd3,#32ffc4,#4fffa8,#75ff81,#a0ff56,#c6ff31,#ddff1a,#ddff19,#c8ff2e,#9fff57,#69ff8e,#37ffc0,#1fffd8,#2dffc9,#56ffa0,#87ff70,#aeff49,#caff2d,#daff1c,#e2ff15,#e8ff0f,#f7f500,#ffd100,#ffa400,#ff7e00,#ff6f00,#ff7e00,#ffae00,#ecff0b,#96ff60,#51ffa6,#35ffc2,#39ffbd,#41ffb6,#31ffc6,#09f1ed,#00beff,#00a1ff,#009dff,#00a0ff,#009aff,#0089ff,#0075ff,#006aff,#0069ff,#006fff,#0078ff,#0080ff,#0085ff,#0083ff,#007dff,#07f,#0079ff,#0084ff,#0091ff,#09f,#09f,#0095ff,#0091ff,#0090ff,#0091ff,#0092ff)"></i><i style="height:2.521px;background:linear-gradient(90deg,#0047ff,#0045ff,#0045ff,#0046ff,#004bff,#0052ff,#0058ff,#0059ff,#005cff,#006bff,#008dff,#00bdff,#05ecf2,#1effd9,#25ffd2,#1bffdc,#00e3f8,#00b3ff,#0081ff,#005dff,#0047ff,#0039ff,#0029ff,#0019ff,#0014ff,#0025ff,#004dff,#0082ff,#00b7ff,#00e4f8,#1affdd,#2affcd,#2dffca,#29ffce,#21ffd6,#1bffdc,#1effd9,#31ffc6,#54ffa3,#77ff80,#86ff71,#76ff80,#56ffa1,#34ffc3,#1effd9,#13fde4,#12fbe5,#17ffe0,#22ffd5,#33ffc3,#49ffae,#5aff9c,#5eff98,#51ffa6,#45ffb1,#5aff9c,#a5ff52,#ffe000,#ff8300,#ff6a00,#ff9200,#ffe600,#a9ff4e,#51ffa6,#11fae6,#00dffc,#02e8f5,#0af2ec,#00dbff,#00a5ff,#006dff,#004eff,#004bff,#0054ff,#0057ff,#0050ff,#0046ff,#003fff,#003eff,#0041ff,#0046ff,#004cff,#0050ff,#0051ff,#004fff,#004cff,#004bff,#004dff,#004fff,#0050ff,#004fff,#004dff,#004bff,#004aff,#004bff,#004bff)"></i><i style="height:2.521px;background:linear-gradient(90deg,#0032ff,#03f,#03f,#0032ff,#0031ff,#002dff,#0025ff,#0019ff,#0010ff,#0015ff,#03f,#0063ff,#0095ff,#00b8ff,#00c5ff,#0bf,#009aff,#006dff,#0047ff,#003bff,#0047ff,#005dff,#006cff,#0070ff,#0075ff,#0087ff,#00a8ff,#00cfff,#0af2ed,#1fffd8,#2cffcb,#34ffc3,#36ffc0,#36ffc1,#33ffc4,#31ffc6,#36ffc1,#49ffae,#6aff8d,#87ff6f,#90ff67,#7bff7c,#5aff9d,#42ffb5,#41ffb6,#4dffaa,#57ff9f,#56ffa1,#4bffac,#3cffbb,#2fffc8,#1fffd8,#08efef,#00c9ff,#00b9ff,#01e6f6,#6eff89,#fbf100,#ff7400,#ff5a00,#ff9c00,#dfff17,#70ff87,#0df5ea,#009dff,#0079ff,#007bff,#0083ff,#0072ff,#0048ff,#001dff,#0004ff,#0002ff,#000cff,#0019ff,#0023ff,#002aff,#002eff,#0030ff,#002eff,#0028ff,#0020ff,#0018ff,#0015ff,#0016ff,#0019ff,#001cff,#001dff,#001dff,#001eff,#0021ff,#0024ff,#0026ff,#0027ff,#0026ff,#0026ff)"></i><i style="height:2.521px;background:linear-gradient(90deg,#005aff,#005dff,#005eff,#005cff,#0053ff,#0046ff,#003aff,#03f,#0035ff,#0043ff,#0062ff,#008dff,#00b9ff,#00defd,#0ff8e8,#18ffdf,#14fee3,#09f1ee,#01e7f5,#07eef0,#1bffdb,#37ffc0,#53ffa4,#69ff8e,#78ff7f,#7dff7a,#78ff7e,#6fff88,#65ff92,#5cff9a,#55ffa2,#4effa9,#48ffaf,#49ffad,#57ffa0,#73ff84,#98ff5f,#bfff38,#e2ff15,#f9f300,#feed00,#eeff08,#d7ff1f,#c9ff2e,#cdff2a,#daff1c,#e4ff12,#e1ff16,#ccff2b,#a5ff52,#6bff8c,#29ffcd,#00cfff,#009fff,#009fff,#02e7f5,#80ff76,#ffd000,#ff5100,#ff4200,#ff9600,#d2ff25,#51ffa6,#00baff,#004eff,#0013ff,#0002ff,#0004ff,#0001ff,#00f,#0000f4,#0000e7,#0000e2,#0000ea,#00f,#01f,#0030ff,#0045ff,#004cff,#0045ff,#0030ff,#0012ff,#00f,#0000f4,#0000f5,#00f,#00f,#00f,#0004ff,#000aff,#0013ff,#001cff,#02f,#0024ff,#02f,#0021ff)"></i><i style="height:2.521px;background:linear-gradient(90deg,#009dff,#009fff,#00a1ff,#009eff,#0095ff,#008aff,#0085ff,#008eff,#00a4ff,#00c2ff,#00e3f9,#1bffdc,#38ffbf,#56ffa1,#73ff84,#8dff6a,#a2ff55,#b3ff44,#c2ff35,#d3ff23,#e9ff0e,#ffe700,#ffc000,#ff9700,#ff7d00,#ff8300,#ffab00,#ffe500,#d3ff24,#a7ff4f,#84ff73,#68ff8e,#58ff9f,#5bff9c,#7cff7b,#bbff3b,#ffe500,#ff9b00,#ff6e00,#ff5800,#ff5300,#ff5800,#ff6100,#ff6700,#f60,#ff6100,#ff5c00,#ff5f00,#f70,#ffb500,#d1ff26,#65ff92,#0df5ea,#00c4ff,#00d9ff,#40ffb6,#beff38,#f90,#ff2d00,#ff2900,#ff8100,#e1ff15,#5aff9d,#00b8ff,#0039ff,#0000f6,#0000cf,#0000cd,#0000de,#0000f6,#00f,#00f,#00f,#00f,#000fff,#003cff,#006dff,#0090ff,#009cff,#0091ff,#0070ff,#0041ff,#0014ff,#00f,#00f,#0002ff,#000dff,#0013ff,#0016ff,#001bff,#0021ff,#0028ff,#002dff,#002fff,#002eff,#002cff)"></i><i style="height:2.521px;background:linear-gradient(90deg,#00d7ff,#00d6ff,#00d5ff,#00d6ff,#00daff,#00e3f9,#0cf4eb,#23ffd4,#3fffb8,#5eff99,#7aff7d,#93ff64,#acff4b,#c7ff30,#e3ff14,#ffec00,#ffcb00,#ffab00,#ff8e00,#ff7400,#ff5b00,#ff3f00,#ff1a00,#d70000,#b80000,#c10000,#f70d00,#ff5300,#ffa800,#edff09,#a8ff4f,#74ff83,#5aff9d,#62ff95,#91ff66,#e4ff13,#ffa000,#ff4700,#ff1500,#e50000,#d80000,#ce0000,#c70000,#c40000,#c60000,#ca0000,#cb0000,#ca0000,#e10000,#ff3800,#ffaf00,#bbff3b,#5cff9b,#3affbd,#54ffa3,#9eff59,#ffe300,#ff6900,#ff1800,#ff1600,#ff5d00,#ffd400,#99ff5e,#1effd9,#008aff,#0036ff,#01f,#0013ff,#0031ff,#005bff,#007fff,#008cff,#0085ff,#0081ff,#0095ff,#00c1ff,#0bf3ec,#28ffce,#33ffc4,#2bffcc,#11fbe6,#00cbff,#009cff,#007dff,#0073ff,#0074ff,#0075ff,#006fff,#0063ff,#0056ff,#0048ff,#003eff,#0037ff,#0035ff,#0036ff,#0038ff)"></i><i style="height:2.521px;background:linear-gradient(90deg,#1affdc,#15ffe2,#11fbe6,#17ffe0,#2dffca,#4fffa8,#75ff82,#98ff5f,#b7ff40,#d2ff24,#edff09,#ffe200,#ffc700,#ffaf00,#ff9b00,#f80,#ff7500,#ff6000,#ff4900,#ff3000,#ff1400,#df0000,#bd0000,#a10000,#8e0000,#8a0000,#9f0000,#d80000,#ff4a00,#ffc100,#bbff3b,#6fff88,#51ffa6,#5eff99,#92ff65,#e3ff14,#ffa700,#ff5200,#ff1c00,#e20000,#c80000,#b00000,#9d0000,#930000,#950000,#9b0000,#9b0000,#950000,#9f0000,#db0000,#ff5b00,#ffd400,#c2ff35,#a9ff4e,#c3ff33,#feed00,#f90,#ff4a00,#ff1500,#f70d00,#ff3200,#ff7e00,#ffe800,#9bff5b,#42ffb5,#0af2ed,#00daff,#01e6f6,#1effd8,#44ffb3,#64ff93,#71ff86,#6dff8a,#67ff8f,#6fff87,#87ff70,#a2ff55,#b6ff40,#beff38,#baff3d,#aaff4d,#91ff66,#77ff80,#61ff96,#53ffa4,#46ffb1,#35ffc2,#1cffdb,#00e2f9,#00b6ff,#08f,#0061ff,#0048ff,#0041ff,#0046ff,#004cff)"></i><i style="height:2.521px;background:linear-gradient(90deg,#53ffa4,#49ffae,#43ffb4,#4cffaa,#72ff85,#a9ff4d,#e1ff15,#ffe000,#ffc200,#fa0,#ff8d00,#ff6d00,#ff5000,#ff3f00,#ff3800,#ff3800,#ff3900,#ff3700,#ff2e00,#ff1900,#e30000,#c30000,#b10000,#ae0000,#ab0000,#900,#840000,#940000,#f30900,#ff9700,#c5ff32,#66ff90,#48ffaf,#5aff9d,#8bff6c,#caff2d,#ffdb00,#ff9300,#ff5800,#ff2800,#ea0200,#c60000,#ad0000,#a10000,#a20000,#a70000,#a30000,#930000,#8f0000,#b60000,#ff2800,#ff8c00,#ffd700,#ffe700,#ffc800,#ff9400,#ff6100,#ff3800,#ff1a00,#f30900,#f70d00,#ff2c00,#ff6d00,#ffc000,#e4ff13,#bfff38,#b7ff3f,#c6ff30,#e3ff14,#ffe800,#ffc900,#fb0,#ffbc00,#ffc200,#ffc200,#ffba00,#ffb000,#ffa800,#ffa500,#ffa600,#fa0,#ffb000,#fb0,#ffc900,#ffde00,#f3fa04,#d1ff26,#a5ff51,#73ff84,#3affbd,#00e5f7,#00a8ff,#0082ff,#0078ff,#007eff,#08f)"></i><i style="height:2.521px;background:linear-gradient(90deg,#b5ff41,#acff4b,#a5ff52,#afff48,#d6ff21,#ffdb00,#ff9c00,#ff7400,#ff5e00,#ff4d00,#f30,#fd1100,#d90000,#c70000,#c70000,#d20000,#e20000,#ed0400,#ed0400,#db0000,#bd0000,#a30000,#9e0000,#ac0000,#b40000,#9f0000,#800000,#800000,#cf0000,#ff8200,#cbff2c,#67ff90,#4bffab,#5fff97,#86ff71,#adff4a,#d7ff20,#ffe100,#ff9d00,#ff5800,#ff1e00,#db0000,#c00000,#b70000,#bc0000,#c10000,#b80000,#9b0000,#870000,#a30000,#ff1800,#ff7d00,#ffc700,#ffcd00,#ffa200,#ff6900,#ff4100,#ff2b00,#ff1b00,#f30900,#e30000,#e50000,#ff1a00,#ff4600,#ff7100,#ff8b00,#ff9100,#ff8600,#ff7200,#ff5800,#ff4200,#ff3400,#ff3100,#ff3400,#ff3a00,#ff4000,#ff4600,#ff4d00,#ff5100,#ff5200,#ff4b00,#ff4000,#ff3700,#ff3900,#ff4900,#ff6800,#ff9600,#ffd100,#dcff1a,#a0ff57,#66ff91,#36ffc0,#1affdd,#12fce5,#17ffe0,#1effd8)"></i><i style="height:2.521px;background:linear-gradient(90deg,#ffae00,#ffb500,#ffba00,#ffb200,#ff9600,#ff6c00,#ff4500,#ff2d00,#ff2100,#ff1400,#e40000,#bc0000,#980000,#850000,#840000,#8e0000,#9b0000,#a60000,#a80000,#9e0000,#8b0000,#800000,#800000,#900000,#9c0000,#8e0000,#800000,#800000,#d70000,#ff8700,#ccff2a,#70ff87,#5aff9d,#6cff8a,#86ff71,#94ff63,#a6ff51,#cdff2a,#ffd800,#ff7e00,#ff2f00,#e60000,#ca0000,#c70000,#d30000,#dc0000,#c00,#9f0000,#800000,#900,#ff2500,#ffa800,#ebff0b,#edff0a,#ffbd00,#ff6b00,#ff3600,#ff1f00,#ff1700,#f80d00,#ea0200,#e10000,#e20000,#ec0300,#fd1100,#ff2100,#ff2f00,#ff3600,#f30,#ff2700,#ff1800,#f50b00,#ed0400,#ec0400,#f60b00,#ff1a00,#ff2b00,#ff3b00,#ff4600,#ff4700,#ff3c00,#ff2600,#fb1000,#ed0400,#f30900,#ff1f00,#ff4600,#ff7c00,#ffb600,#ffec00,#daff1d,#bfff38,#b0ff46,#adff4a,#afff48,#b3ff44)"></i><i style="height:2.521px;background:linear-gradient(90deg,#ff3600,#ff3800,#ff3900,#ff3700,#ff2e00,#f20,#ff1800,#ff1400,#ff1300,#f60b00,#d00,#ba0000,#900,#870000,#840000,#8a0000,#900000,#930000,#930000,#8f0000,#8a0000,#860000,#8a0000,#940000,#900,#920000,#8b0000,#a60000,#ff1c00,#ffa600,#c1ff36,#72ff85,#63ff94,#74ff83,#82ff75,#7dff7a,#7cff7b,#99ff5d,#e1ff16,#ffa800,#ff4d00,#ff1700,#e80000,#e90100,#f90e00,#ff1600,#ec0400,#ae0000,#800000,#9f0000,#ff4500,#ffea00,#9fff58,#a8ff4f,#fdee00,#ff7b00,#f30,#ff1700,#ff1400,#ff1700,#ff1600,#fa0f00,#e50000,#c00,#be0000,#c90000,#e60000,#ff1800,#ff2500,#ff2300,#ff1a00,#fa0f00,#f10800,#f20800,#ff1600,#ff2d00,#ff4800,#ff5e00,#ff6900,#ff6700,#ff5700,#ff3a00,#ff1c00,#f00700,#e80000,#f40a00,#ff2400,#ff4c00,#ff7500,#ff9400,#ffa300,#ffa600,#ffa600,#ffa500,#ffa600,#ffa600)"></i><i style="height:2.521px;background:linear-gradient(90deg,#ff1300,#fe1200,#fd1100,#fe1200,#ff1600,#ff1d00,#ff2600,#ff3200,#ff3c00,#ff3d00,#ff2f00,#ff1800,#ec0300,#e20000,#e60000,#f00700,#f50b00,#f40a00,#f10700,#f10700,#f40a00,#f70c00,#f50b00,#ee0500,#e50000,#db0000,#df0000,#ff1800,#ff6800,#ffe200,#9fff57,#60ff97,#57ffa0,#68ff8f,#71ff86,#64ff92,#5aff9c,#6fff87,#b0ff47,#ffe500,#ff8e00,#ff5700,#ff3e00,#ff3d00,#ff4800,#ff4b00,#ff3100,#d80000,#9c0000,#bf0000,#ff6e00,#ceff29,#66ff91,#7aff7c,#e5ff11,#ff7f00,#ff2d00,#ff1500,#ff1c00,#ff2900,#ff3000,#ff2900,#f80d00,#ca0000,#a90000,#a00,#c90000,#ee0500,#ff1800,#ff1b00,#ff1600,#fb1000,#f90e00,#ff1900,#ff3500,#ff5f00,#ff8700,#ff9f00,#ffa100,#ff9100,#ff7600,#ff5400,#ff3400,#ff1c00,#fc1000,#fe1200,#ff2000,#ff3800,#ff5000,#ff5e00,#ff5e00,#ff5700,#ff5000,#ff4e00,#ff5000,#ff5100)"></i><i style="height:2.521px;background:linear-gradient(90deg,#ff4800,#ff4700,#ff4600,#ff4700,#ff4b00,#f50,#ff6300,#ff7800,#ff8d00,#ff9800,#ff9400,#ff8400,#ff7800,#ff7b00,#ff8d00,#ffa000,#ffa900,#ffa800,#ffa400,#ffa500,#ffab00,#ffad00,#ffa400,#ff9000,#ff7800,#ff6500,#ff6300,#ff7f00,#ffc600,#c3ff34,#69ff8e,#35ffc2,#34ffc3,#49ffae,#56ffa1,#4cffab,#41ffb5,#4effa9,#7eff79,#c0ff37,#feed00,#ffbc00,#ffa000,#ff9700,#ff9700,#ff9100,#ff6e00,#ff2b00,#dc0000,#fa0f00,#ff9700,#b1ff46,#53ffa4,#74ff83,#eaff0c,#ff7400,#ff2800,#ff1d00,#ff3100,#ff4500,#ff4d00,#ff4300,#ff2300,#df0000,#b60000,#ae0000,#c10000,#dc0000,#ed0400,#f00700,#ee0500,#ee0500,#f90e00,#ff2700,#ff5800,#ff9800,#ffcf00,#ffe600,#ffd900,#ffb600,#ff8c00,#ff6700,#ff4800,#ff3400,#ff2b00,#ff2c00,#f30,#ff3d00,#ff4700,#ff4e00,#ff4f00,#ff4e00,#ff4c00,#ff4b00,#ff4c00,#ff4c00)"></i><i style="height:2.521px;background:linear-gradient(90deg,#ffa000,#ffa100,#ffa100,#ffa000,#ff9e00,#ff9f00,#ffa900,#ffc100,#ffdf00,#f6f600,#f3fa04,#faf200,#feed00,#f0fd07,#d4ff23,#b7ff40,#a8ff4e,#a9ff4e,#adff49,#adff49,#a9ff4e,#a8ff4f,#b5ff42,#cfff28,#effe08,#fd0,#ffcd00,#ffdc00,#d6ff21,#7dff7a,#26ffd0,#00dcfe,#00e6f6,#21ffd6,#39ffbe,#39ffbe,#30ffc6,#34ffc2,#50ffa7,#79ff7e,#a5ff52,#caff2d,#e6ff11,#f8f400,#ffe700,#ffd400,#ffac00,#ff6d00,#ff3d00,#ff4e00,#ffbd00,#adff49,#67ff90,#8dff69,#fbf100,#ff7300,#ff3800,#ff3a00,#ff5600,#ff6b00,#ff7000,#ff6300,#ff4500,#ff2000,#e80000,#d90000,#de0000,#ea0200,#f00700,#ef0600,#ef0600,#f60c00,#ff1e00,#ff4300,#ff7f00,#ffc700,#ecff0b,#daff1d,#edff0a,#ffd400,#ffa500,#ff8000,#f60,#ff5700,#ff5400,#ff5600,#ff5900,#ff5c00,#ff5d00,#ff5f00,#ff6200,#ff6500,#ff6800,#ff6800,#ff6800,#ff6700)"></i><i style="height:2.521px;background:linear-gradient(90deg,#ffe800,#ffeb00,#feed00,#ffea00,#ffde00,#ffd300,#ffd300,#ffea00,#e2ff15,#c6ff31,#bdff3a,#c0ff37,#bfff38,#aaff4d,#84ff73,#5fff97,#4dffaa,#4dffaa,#54ffa3,#57ffa0,#54ffa3,#54ffa3,#5fff98,#78ff7f,#9aff5d,#c1ff36,#e0ff17,#dfff17,#aaff4d,#46ffb1,#00c0ff,#0084ff,#009eff,#00e0fc,#26ffd1,#2fffc8,#27ffd0,#21ffd6,#2affcc,#40ffb6,#5dff99,#7dff7a,#9dff5a,#baff3d,#d3ff24,#edff0a,#ffdc00,#ffad00,#ff8e00,#ff9800,#ffdb00,#c5ff32,#9dff59,#bbff3b,#ffe500,#ff9300,#ff7000,#ff7500,#ff8b00,#ff9a00,#ff9c00,#ff9100,#ff7b00,#ff6000,#ff4800,#ff3b00,#ff3a00,#ff3c00,#ff3b00,#ff3800,#ff3800,#ff4100,#ff5700,#ff7a00,#ffa900,#ffde00,#e6ff11,#d9ff1e,#e4ff12,#feed00,#ffcb00,#ffaf00,#f90,#ff8e00,#ff8c00,#ff8f00,#ff9300,#ff9400,#ff9200,#ff8c00,#ff8300,#ff7a00,#ff7300,#ff7200,#ff7300,#ff7400)"></i><i style="height:2.521px;background:linear-gradient(90deg,#e3ff14,#deff18,#dbff1c,#e0ff17,#f2fb05,#ffe300,#ffd800,#ffeb00,#dfff18,#bfff38,#b3ff44,#b5ff42,#b3ff44,#9cff5b,#73ff84,#4cffab,#38ffbf,#39ffbe,#42ffb4,#49ffae,#49ffae,#48ffaf,#4bffac,#58ff9f,#72ff84,#9eff59,#ccff2b,#d9ff1d,#a1ff56,#27ffcf,#007eff,#0038ff,#0063ff,#00c1ff,#21ffd6,#31ffc6,#26ffd1,#17ffe0,#14ffe3,#1effd8,#33ffc4,#4fffa8,#71ff86,#95ff62,#b8ff3f,#d9ff1e,#f3fa03,#ffe400,#ffda00,#ffde00,#fdef00,#ecff0b,#e4ff12,#eeff08,#ffe700,#ffd000,#ffc500,#ffc400,#ffc900,#ffce00,#ffcf00,#ffcb00,#ffbf00,#ffb000,#ffa300,#ff9c00,#ff9b00,#ff9b00,#f90,#ff9500,#ff9600,#ffa000,#ffb100,#ffc500,#ffd500,#ffe000,#ffe900,#f9f300,#f2fb05,#efff08,#f3fa03,#ffec00,#ffdb00,#ffd000,#fc0,#ffce00,#ffd500,#ffdb00,#ffd900,#ffc800,#ffa600,#ff8100,#ff6800,#ff6100,#ff6500,#ff6c00)"></i><i style="height:2.521px;background:linear-gradient(90deg,#d8ff1f,#d2ff25,#cdff29,#d4ff23,#ebff0b,#ffe000,#ffcd00,#ffda00,#effe07,#d0ff26,#c5ff32,#c8ff2e,#c9ff2e,#b5ff42,#90ff67,#6cff8b,#58ff9f,#58ff9f,#61ff96,#69ff8e,#6cff8b,#69ff8d,#62ff95,#5dff99,#69ff8e,#92ff65,#ccff2b,#e5ff12,#aeff49,#27ffd0,#006aff,#001dff,#0051ff,#00c1ff,#2cffcb,#3fffb8,#31ffc6,#1cffdb,#14fee3,#18ffdf,#27ffd0,#3fffb8,#5eff99,#82ff74,#a9ff4d,#cbff2c,#dfff17,#e2ff15,#ddff19,#dfff17,#f2fb05,#ffe000,#ffcf00,#ffd800,#fbf100,#e6ff10,#dfff18,#e2ff15,#e9ff0e,#ecff0b,#ebff0c,#eaff0d,#ecff0b,#effe08,#f2fb05,#f3f903,#f3fa04,#f2fa04,#f4f903,#f6f601,#f5f702,#efff08,#e6ff11,#e4ff13,#f0fd06,#ffe200,#ffcd00,#ffcf00,#ffe900,#e6ff11,#d5ff22,#d5ff22,#ddff19,#e7ff10,#ebff0c,#eaff0d,#e2ff15,#d8ff1f,#d8ff1f,#efff08,#ffc900,#ff8d00,#ff6300,#ff5700,#ff5f00,#ff6a00)"></i><i style="height:2.521px;background:linear-gradient(90deg,#d6ff20,#d0ff27,#cbff2c,#d2ff25,#ebff0b,#fd0,#ffc400,#ffca00,#ffe800,#e9ff0e,#e2ff15,#e9ff0e,#efff08,#e4ff13,#c9ff2e,#acff4b,#98ff5f,#92ff65,#95ff62,#9cff5b,#a1ff56,#9eff59,#8dff6a,#75ff81,#6eff88,#8eff69,#caff2d,#edff0a,#c3ff33,#4affad,#00a0ff,#05f,#0084ff,#04ebf2,#47ffaf,#59ff9e,#4bffac,#37ffbf,#2effc9,#30ffc7,#39ffbd,#4affad,#60ff97,#7cff7b,#9bff5c,#b7ff3f,#c9ff2e,#cdff2a,#ccff2b,#d3ff24,#ebff0c,#ffe200,#ffd000,#fd0,#f0fd06,#d4ff23,#c4ff33,#bfff37,#c1ff36,#c3ff34,#c3ff34,#c2ff35,#c0ff37,#bdff3a,#bcff3b,#bbff3b,#bcff3a,#beff39,#c0ff37,#c1ff36,#c0ff37,#bcff3b,#b9ff3e,#bfff38,#d4ff22,#f5f802,#ffd900,#ffd500,#ffeb00,#e5ff12,#d1ff26,#caff2d,#ccff2b,#d0ff27,#d2ff25,#d0ff27,#c8ff2f,#bdff39,#bdff3a,#d3ff24,#ffe900,#ffad00,#ff8200,#f70,#ff7e00,#ff8900)"></i><i style="height:2.521px;background:linear-gradient(90deg,#d7ff1f,#d1ff26,#cdff2a,#d3ff23,#ebff0c,#ffdf00,#ffc400,#ffc400,#ffd700,#ffea00,#feed00,#ffe100,#ffd500,#ffd500,#ffe400,#f2fb04,#dfff18,#cfff28,#c7ff30,#c9ff2e,#cfff27,#cdff2a,#b6ff41,#90ff66,#78ff7f,#89ff6e,#beff39,#e8ff0f,#d6ff21,#81ff76,#20ffd7,#00d1ff,#05ecf2,#3cffbb,#69ff8d,#75ff82,#6cff8b,#5eff99,#58ff9f,#59ff9e,#5eff99,#65ff92,#6eff88,#7bff7c,#8aff6d,#9bff5c,#adff4a,#c0ff37,#d1ff25,#ddff19,#e3ff14,#e3ff14,#e2ff14,#e3ff14,#e2ff15,#dbff1b,#cbff2b,#b7ff40,#a6ff51,#9fff58,#a0ff57,#a3ff54,#a2ff54,#9fff58,#9cff5a,#9eff59,#a2ff55,#a7ff50,#aaff4d,#aaff4d,#a9ff4e,#a7ff50,#a8ff4f,#adff4a,#b9ff3e,#cbff2c,#dbff1c,#e5ff11,#e8ff0f,#e5ff12,#dfff18,#daff1d,#d5ff22,#d1ff26,#ceff29,#cbff2c,#c5ff32,#bfff38,#bfff37,#ceff29,#ebff0c,#fd0,#ffc300,#ffbc00,#ffc100,#ffc800)"></i><i style="height:2.521px;background:linear-gradient(90deg,#d7ff1f,#d2ff25,#ceff28,#d4ff23,#e9ff0e,#ffe500,#ffc900,#ffc000,#ffc600,#ffd000,#ffd200,#fc0,#ffc300,#ffbc00,#ffbc00,#ffc500,#ffdb00,#f4f903,#e0ff17,#dbff1c,#e1ff15,#e2ff15,#cbff2c,#a1ff56,#80ff77,#84ff73,#acff4a,#d6ff21,#daff1d,#b0ff47,#78ff7f,#55ffa2,#57ffa0,#6bff8c,#7eff79,#82ff74,#7fff78,#79ff7e,#77ff80,#77ff7f,#79ff7e,#7bff7b,#7cff7a,#7bff7c,#78ff7e,#7bff7c,#8cff6b,#aeff49,#d1ff26,#e0ff17,#cdff29,#adff4a,#9aff5d,#a8ff4f,#c8ff2f,#deff19,#d2ff24,#b0ff47,#8dff69,#7eff79,#7fff77,#87ff70,#8aff6c,#89ff6e,#87ff70,#87ff70,#8bff6c,#8fff68,#90ff66,#90ff67,#8fff67,#90ff67,#92ff65,#93ff64,#91ff65,#90ff67,#94ff63,#a4ff53,#bdff39,#d6ff20,#e4ff13,#e4ff12,#ddff19,#d6ff21,#d3ff24,#d1ff26,#d0ff27,#cfff28,#cfff27,#d3ff24,#dbff1c,#e3ff14,#e9ff0e,#eaff0d,#e9ff0e,#e8ff0f)"></i><i style="height:2.521px;background:linear-gradient(90deg,#d4ff23,#cfff28,#ccff2b,#d1ff26,#e3ff13,#ffed00,#ffce00,#ffba00,#ffb200,#ffb600,#ffc300,#ffd300,#fd0,#ffda00,#ffd000,#ffcd00,#ffe100,#e8ff0f,#caff2d,#beff39,#c3ff34,#c8ff2f,#baff3d,#9aff5c,#7fff78,#7dff7a,#97ff60,#b7ff3f,#c6ff30,#bbff3c,#a2ff55,#8aff6d,#7bff7c,#73ff83,#71ff86,#70ff86,#71ff86,#71ff86,#70ff87,#70ff87,#73ff84,#79ff7e,#7dff7a,#79ff7e,#6bff8c,#60ff97,#67ff90,#88ff6f,#aeff49,#bcff3a,#a2ff55,#76ff81,#5cff9b,#6fff88,#9aff5c,#bbff3b,#b5ff42,#93ff64,#6eff89,#5cff9b,#5dff9a,#66ff91,#6dff8a,#6eff88,#6cff8b,#65ff91,#5eff99,#57ffa0,#53ffa3,#53ffa4,#55ffa2,#56ffa0,#57ffa0,#55ffa2,#50ffa7,#4bffab,#4fffa7,#64ff92,#88ff6f,#adff4a,#c5ff32,#ccff2b,#ccff2b,#ccff2b,#d1ff26,#d8ff1f,#ddff19,#deff18,#dcff1b,#d8ff1f,#d2ff25,#ccff2b,#c8ff2e,#c8ff2f,#c8ff2f,#c9ff2e)"></i><i style="height:2.521px;background:linear-gradient(90deg,#cfff28,#cbff2c,#c8ff2f,#ccff2b,#deff19,#f9f300,#ffd000,#ffb200,#ffa100,#ffa600,#ffc500,#f8f500,#d5ff21,#cdff2a,#d8ff1f,#e1ff15,#d4ff23,#b1ff46,#8dff6a,#7bff7b,#7fff78,#87ff6f,#87ff70,#7aff7d,#6dff89,#6cff8b,#79ff7e,#8bff6c,#97ff5f,#9aff5d,#92ff65,#80ff77,#67ff8f,#50ffa7,#41ffb6,#3effb8,#42ffb5,#44ffb3,#41ffb6,#3fffb7,#46ffb1,#57ff9f,#68ff8f,#6bff8c,#59ff9d,#43ffb4,#3affbd,#4bffac,#64ff93,#70ff87,#5eff98,#40ffb7,#2effc9,#3affbc,#58ff9f,#6fff87,#6dff8a,#58ff9f,#40ffb7,#34ffc3,#34ffc3,#3affbc,#42ffb4,#47ffb0,#42ffb5,#31ffc6,#17ffe0,#00e4f8,#00d6ff,#00d6ff,#00dcff,#00defd,#00dbff,#00d9ff,#00ddfe,#03e9f4,#15ffe2,#2fffc7,#4fffa8,#6eff89,#85ff72,#94ff63,#a0ff56,#b0ff46,#c5ff31,#d9ff1e,#e5ff12,#e6ff11,#e0ff17,#d7ff1f,#d0ff27,#caff2d,#c6ff31,#c5ff31,#c6ff31,#c7ff30)"></i><i style="height:2.521px;background:linear-gradient(90deg,#d1ff26,#cdff2a,#caff2d,#ceff28,#e0ff17,#faf200,#ffcf00,#ffb100,#ffa100,#ffac00,#ffdc00,#d0ff27,#9bff5b,#87ff70,#8eff68,#99ff5e,#8eff69,#6dff89,#4affac,#37ffc0,#37ffc0,#3fffb8,#46ffb1,#47ffb0,#45ffb2,#44ffb3,#46ffb1,#4affad,#50ffa6,#56ffa1,#55ffa2,#47ffb0,#2cffcb,#0ff8e8,#00e1fa,#00ddfd,#00e2f9,#00e5f8,#00dffc,#00dcff,#02e9f4,#1dffd9,#39ffbd,#44ffb3,#34ffc3,#16ffe1,#00e4f8,#00e0fc,#04ebf3,#0cf5eb,#0af2ed,#02e7f5,#00e0fb,#00e3f9,#06ecf1,#0cf5eb,#0cf5ea,#07efef,#01e6f6,#00e1fb,#00dffc,#00e3f9,#06edf1,#0cf4eb,#06edf1,#0cf,#009bff,#006dff,#0058ff,#0058ff,#0060ff,#0061ff,#005bff,#005bff,#006eff,#0093ff,#00bfff,#01e7f6,#1bffdc,#31ffc6,#46ffb1,#5bff9c,#74ff83,#92ff65,#b3ff44,#d0ff27,#e1ff16,#e3ff14,#dcff1a,#d5ff21,#d2ff25,#d1ff26,#d1ff25,#d1ff25,#d1ff25,#d1ff25)"></i><i style="height:2.521px;background:linear-gradient(90deg,#e2ff15,#deff19,#dbff1c,#dfff18,#efff08,#ffe400,#ffcb00,#ffbc00,#ffbf00,#ffd800,#e4ff13,#abff4c,#79ff7e,#60ff97,#5eff99,#60ff97,#55ffa2,#3dffba,#23ffd4,#12fce4,#0ef6e9,#0ef7e9,#0cf5ea,#07eef0,#00e4f8,#00dbff,#00d6ff,#00d4ff,#00d8ff,#00defd,#00defd,#00d1ff,#00b5ff,#0097ff,#0084ff,#0081ff,#0086ff,#0087ff,#0080ff,#007dff,#008aff,#00acff,#00d0ff,#00defd,#00caff,#00a4ff,#0080ff,#006fff,#006dff,#0074ff,#007cff,#0082ff,#0084ff,#0080ff,#0079ff,#0074ff,#0075ff,#007bff,#0080ff,#0080ff,#007eff,#007fff,#0086ff,#008dff,#0086ff,#06f,#0036ff,#000aff,#00f,#00f,#00f,#00f,#00f,#00f,#0012ff,#0045ff,#0080ff,#00b2ff,#00d7ff,#0cf5ea,#25ffd2,#40ffb6,#5fff98,#7fff78,#9eff58,#b9ff3d,#cbff2b,#d3ff23,#d5ff22,#d5ff22,#d6ff20,#d8ff1f,#daff1d,#daff1d,#daff1d,#d9ff1d)"></i><i style="height:2.521px;background:linear-gradient(90deg,#fdee00,#faf200,#f7f500,#fbf100,#ffe100,#ffce00,#ffc500,#ffd300,#f8f400,#d3ff24,#aeff49,#8dff69,#72ff85,#5eff99,#4effa9,#41ffb5,#35ffc2,#28ffcf,#1cffdb,#12fce5,#08f0ee,#00dffc,#00c2ff,#009cff,#07f,#005fff,#0057ff,#0059ff,#005fff,#0063ff,#0063ff,#005aff,#004aff,#0039ff,#002fff,#002dff,#0030ff,#0030ff,#002bff,#0029ff,#0032ff,#0049ff,#0060ff,#06f,#0052ff,#002fff,#000fff,#00f,#00f,#0001ff,#000aff,#01f,#0014ff,#000fff,#0007ff,#0001ff,#0002ff,#0008ff,#000eff,#0010ff,#000eff,#000eff,#0013ff,#0017ff,#0013ff,#00f,#0000ed,#0000cf,#0000c1,#0000c3,#0000c8,#0000c4,#00b,#0000be,#00d,#0007ff,#0046ff,#0083ff,#00b9ff,#03e9f4,#26ffd0,#47ffb0,#63ff94,#79ff7e,#8bff6c,#9aff5d,#aaff4c,#bcff3b,#ccff2b,#d7ff20,#dbff1c,#dbff1c,#daff1d,#d9ff1d,#daff1d,#daff1d)"></i><i style="height:2.521px;background:linear-gradient(90deg,#ffcf00,#ffd300,#ffd500,#ffd200,#ffc400,#ffb800,#ffbf00,#ffe900,#cbff2c,#98ff5f,#7eff79,#7aff7d,#79ff7e,#6bff8c,#50ffa7,#35ffc2,#25ffd1,#23ffd4,#24ffd3,#21ffd6,#14fee3,#00dbff,#00a2ff,#005aff,#0017ff,#0000fe,#0000f5,#00f,#00f,#00f,#00f,#00f,#00f,#0000fe,#0000fc,#0000fc,#0000fd,#0000fc,#0000f9,#0000f9,#0000fd,#00f,#00f,#00f,#0000f1,#0000d0,#0000b5,#00a,#0000ab,#0000b1,#0000b5,#0000b7,#0000b7,#0000b5,#0000b3,#0000b1,#0000b1,#0000b3,#0000b5,#0000b6,#0000b5,#0000b5,#0000b7,#0000b8,#0000b7,#0000b1,#0000a8,#0000a1,#00009f,#0000a1,#0000a1,#00009b,#000093,#000097,#0000b2,#0000e7,#001aff,#0061ff,#0af,#07efef,#36ffc0,#5aff9d,#71ff86,#7bff7c,#7cff7b,#7dff79,#8bff6c,#a6ff51,#c4ff32,#d9ff1d,#dfff18,#dbff1b,#d6ff20,#d5ff22,#d6ff21,#d7ff20)"></i><i style="height:2.521px;background:linear-gradient(90deg,#ffbf00,#ffc200,#ffc500,#ffc100,#ffb400,#ffac00,#ffbc00,#f8f500,#b3ff44,#79ff7e,#65ff92,#71ff86,#7fff77,#75ff82,#54ffa3,#31ffc6,#20ffd7,#23ffd4,#2bffcc,#2cffcb,#1dffda,#00ddfd,#0094ff,#0039ff,#0000f2,#0000bc,#0000b4,#0000c4,#0000d3,#0000d5,#0000d1,#0000ce,#0000d0,#0000d5,#0000d8,#0000da,#0000d9,#0000d8,#0000d7,#0000d7,#0000d8,#0000da,#0000d7,#0000ca,#0000b1,#000093,#000080,#000080,#000080,#000082,#000083,#000080,#000080,#000080,#000080,#000082,#000082,#000081,#000080,#000080,#000080,#000080,#000080,#000080,#000080,#000082,#000087,#00008e,#000093,#000095,#000092,#00008b,#000084,#000087,#00009f,#0000d0,#0004ff,#0050ff,#00a4ff,#0cf5eb,#42ffb5,#66ff90,#7aff7d,#7dff7a,#74ff83,#6eff88,#7aff7d,#9bff5c,#c1ff36,#dbff1c,#e1ff16,#dbff1c,#d4ff23,#d2ff25,#d3ff24,#d5ff22)"></i><i style="height:2.521px;background:linear-gradient(90deg,#ffbe00,#ffc100,#ffc400,#ffc000,#ffb400,#ffab00,#ffbc00,#f7f500,#b1ff46,#77ff80,#64ff93,#71ff86,#80ff77,#76ff81,#54ffa2,#31ffc6,#20ffd7,#23ffd4,#2cffcb,#2dffca,#1dffd9,#00ddfd,#0093ff,#0037ff,#0000ef,#0000b8,#0000b0,#0000c0,#0000cf,#0000d1,#0000cd,#0000cb,#0000cd,#0000d2,#0000d6,#0000d7,#0000d7,#0000d5,#0000d5,#0000d5,#0000d6,#0000d7,#0000d4,#0000c6,#0000ad,#000090,#000080,#000080,#000080,#000080,#000080,#000080,#000080,#000080,#000080,#000080,#000080,#000080,#000080,#000080,#000080,#000080,#000080,#000080,#000080,#000080,#000086,#00008d,#000092,#000094,#000091,#00008a,#000083,#000086,#00009e,#0000ce,#0003ff,#004fff,#00a3ff,#0cf5ea,#42ffb4,#67ff90,#7bff7c,#7dff7a,#74ff83,#6eff89,#79ff7e,#9aff5d,#c0ff36,#dbff1c,#e1ff16,#dbff1c,#d4ff23,#d2ff25,#d3ff24,#d5ff22)"></i><i style="height:2.521px;background:linear-gradient(90deg,#ffc400,#ffc700,#ffca00,#ffc600,#ffb900,#ffb000,#ffbd00,#fbf100,#baff3d,#82ff75,#6dff8a,#74ff83,#7dff79,#72ff85,#53ffa4,#32ffc5,#21ffd5,#23ffd4,#29ffce,#29ffce,#1affdd,#00ddfe,#0098ff,#0043ff,#00f,#0000cf,#0000c7,#0000d5,#0000e3,#0000e6,#0000e2,#0000df,#0000df,#0000e1,#0000e3,#0000e4,#0000e4,#0000e2,#0000e1,#0000e1,#0000e3,#0000e8,#0000e8,#00d,#0000c4,#0000a6,#00008e,#000087,#00008a,#000090,#000092,#000091,#00008f,#00008e,#00008f,#000090,#000090,#000090,#00008f,#00008f,#00008f,#00008f,#00008f,#00008f,#00008f,#000090,#000091,#000093,#000096,#000098,#000097,#000090,#008,#00008c,#0000a5,#0000d7,#000aff,#05f,#00a6ff,#0bf3ec,#3effb9,#63ff94,#77ff80,#7cff7b,#76ff80,#73ff84,#7fff78,#9eff59,#c2ff35,#daff1c,#e0ff17,#dbff1c,#d5ff22,#d3ff24,#d4ff23,#d6ff21)"></i></div></div>
<div class="m" style="left:11.50px;top:196.10px;width:227.60px;height:121.00px;clip-path:path('M172.24 4.00 L176.63 5.35 L182.02 7.42 L187.72 10.01 L192.70 12.84 L197.22 15.85 L201.49 19.00 L205.48 22.26 L209.10 25.61 L212.20 29.02 L214.99 32.49 L217.31 35.98 L219.21 39.48 L220.64 42.99 L221.65 46.49 L222.50 49.99 L223.09 53.49 L223.45 57.00 L223.60 60.50 L223.45 64.00 L223.09 67.51 L222.50 71.01 L221.65 74.51 L220.64 78.01 L219.21 81.52 L217.31 85.02 L214.99 88.51 L212.20 91.98 L209.10 95.39 L205.48 98.74 L201.49 102.00 L197.22 105.15 L192.70 108.16 L187.72 110.99 L182.02 113.58 L176.63 115.65 L172.24 117.00 L55.36 117.00 L50.97 115.65 L45.58 113.58 L39.88 110.99 L34.90 108.16 L30.38 105.15 L26.11 102.00 L22.12 98.74 L18.50 95.39 L15.40 91.98 L12.61 88.51 L10.29 85.02 L8.39 81.52 L6.96 78.01 L5.95 74.51 L5.10 71.01 L4.51 67.51 L4.15 64.00 L4.00 60.50 L4.15 57.00 L4.51 53.49 L5.10 49.99 L5.95 46.49 L6.96 42.99 L8.39 39.48 L10.29 35.98 L12.61 32.49 L15.40 29.02 L18.50 25.61 L22.12 22.26 L26.11 19.00 L30.38 15.85 L34.90 12.84 L39.88 10.01 L45.58 7.42 L50.97 5.35 L55.36 4.00 Z')"><div class="f"><i style="height:2.521px;background:linear-gradient(90deg,#ffc700,#ffc500,#ffc400,#ffc600,#ffcb00,#ffcf00,#ffca00,#ffb600,#ff9700,#ff7900,#f60,#ff6100,#ff6b00,#ff8200,#ffa100,#ffbc00,#ffca00,#ffc900,#ffc300,#ffbe00,#ffbf00,#ffc100,#ffc200,#ffc300,#ffc200,#ffc200,#ffc200,#ffc300,#ffc500,#ffc700,#ffc700,#ffc200,#ffba00,#ffba00,#ffcb00,#f6f600,#baff3d,#65ff92,#00e5f7,#0071ff,#002cff,#002aff,#0061ff,#00c1ff,#41ffb5,#9bff5c,#d7ff20,#e6ff10,#ddff1a,#d6ff21,#e5ff12,#ffe800,#ffc600,#ffb400,#ffb200,#ffc100,#ffdc00,#f1fc06,#dbff1c,#d3ff24,#d5ff21,#d9ff1e,#d7ff20,#d2ff25,#d5ff22,#e8ff0f,#ffe500,#ffc500,#ffb700,#ffb900,#ffc000,#ffc000,#fb0,#ffbc00,#fc0,#ffea00,#e5ff12,#d3ff24,#ceff29,#d3ff23,#dfff18,#e9ff0e,#e7ff10,#ceff29,#a2ff55,#7fff78,#84ff73,#b7ff40,#f9f300,#ffbc00,#ffaf00,#ffba00,#ffc800,#fc0,#ffca00,#ffc600)"></i><i style="height:2.521px;background:linear-gradient(90deg,#ffc700,#ffc500,#ffc400,#ffc600,#ffcb00,#ffcf00,#ffca00,#ffb600,#ff9800,#ff7a00,#ff6700,#ff6300,#ff6c00,#ff8300,#ff9f00,#ffb700,#ffc100,#ffbd00,#ffb400,#ffaf00,#ffb000,#ffb400,#ffb700,#ffb700,#ffb700,#ffb700,#ffb900,#ffbc00,#ffc000,#ffc200,#ffc100,#fb0,#ffb300,#ffb300,#ffc900,#f3fa04,#b1ff46,#5aff9d,#00daff,#006bff,#0028ff,#0024ff,#0058ff,#00b6ff,#3affbd,#97ff60,#d6ff21,#e7ff10,#ddff1a,#d6ff21,#e6ff11,#ffe400,#ffc000,#ffad00,#ffac00,#fb0,#ffd700,#f6f601,#e1ff16,#daff1c,#deff19,#e2ff15,#deff19,#d8ff1f,#dbff1c,#f1fc06,#ffd400,#ffb000,#ffa200,#ffa700,#ffb100,#ffb400,#ffaf00,#ffaf00,#ffbf00,#ffde00,#effe08,#dcff1b,#d7ff20,#dcff1a,#e8ff0e,#f4f903,#f2fb04,#d8ff1f,#aaff4d,#84ff72,#87ff70,#b8ff3f,#faf200,#ffbc00,#ffaf00,#ffba00,#ffc800,#fc0,#ffc900,#ffc500)"></i><i style="height:2.521px;background:linear-gradient(90deg,#ffc700,#ffc500,#ffc400,#ffc600,#ffcb00,#ffcf00,#ffca00,#ffb600,#ff9800,#ff7a00,#ff6700,#ff6300,#ff6c00,#ff8200,#ff9f00,#ffb800,#ffc200,#ffbf00,#ffb600,#ffb100,#ffb300,#ffb700,#ffb900,#ffb900,#ffb900,#ffb900,#fb0,#ffbd00,#ffc100,#ffc300,#ffc200,#ffbc00,#ffb400,#ffb400,#ffc900,#f4f903,#b3ff44,#5cff9b,#00dcff,#006cff,#0029ff,#0025ff,#0059ff,#00b7ff,#3bffbc,#97ff5f,#d6ff21,#e7ff10,#ddff1a,#d6ff21,#e6ff11,#ffe500,#ffc100,#ffae00,#ffad00,#ffbc00,#ffd800,#f5f702,#e0ff17,#d9ff1e,#dcff1b,#e0ff17,#ddff1a,#d7ff20,#daff1d,#effe07,#ffd700,#ffb400,#ffa500,#fa0,#ffb400,#ffb600,#ffb100,#ffb200,#ffc100,#ffe000,#edff09,#dbff1c,#d6ff21,#dbff1c,#e7ff10,#f2fb05,#f0fd06,#d6ff20,#a8ff4e,#84ff73,#86ff71,#b8ff3f,#f9f200,#ffbc00,#ffaf00,#ffba00,#ffc800,#fc0,#ffc900,#ffc500)"></i><i style="height:2.521px;background:linear-gradient(90deg,#ffc600,#ffc500,#ffc400,#ffc500,#ffcb00,#ffcf00,#ffca00,#ffb500,#ff9600,#f70,#ff6300,#ff5e00,#ff6800,#ff8200,#ffa500,#ffc600,#ffdb00,#ffe200,#ffe100,#fd0,#ffda00,#ffd900,#ffd800,#ffd900,#ffd900,#ffd700,#ffd300,#ffd000,#ffcf00,#ffd100,#ffd200,#ffcf00,#ffc900,#ffc700,#ffd100,#fcef00,#caff2d,#7aff7d,#10f9e7,#007dff,#03f,#0036ff,#0075ff,#00d8ff,#50ffa7,#a2ff55,#d8ff1f,#e6ff11,#ddff19,#d6ff21,#e2ff14,#fcef00,#ffd200,#ffc000,#ffbf00,#fc0,#ffe800,#e7ff10,#cfff28,#c5ff32,#c5ff31,#c9ff2e,#c8ff2f,#c6ff31,#c9ff2e,#d5ff21,#eaff0d,#fdee00,#ffe100,#fd0,#ffdc00,#ffd800,#ffd300,#ffd500,#ffe500,#ebff0b,#d1ff25,#c1ff36,#bdff3a,#c2ff35,#ccff2b,#d4ff23,#d1ff25,#b9ff3d,#92ff65,#75ff81,#7fff78,#b4ff43,#f8f400,#ffbd00,#ffb000,#fb0,#ffc900,#ffcd00,#ffca00,#ffc600)"></i><i style="height:2.521px;background:linear-gradient(90deg,#ffc600,#ffc400,#ffc300,#ffc500,#ffca00,#ffcf00,#ffca00,#ffb500,#ff9500,#ff7400,#ff5e00,#ff5700,#ff6200,#ff8100,#ffaf00,#ffdf00,#e8ff0f,#d2ff25,#c8ff2f,#c8ff2f,#cfff28,#d7ff20,#dbff1c,#d9ff1d,#d9ff1e,#deff19,#ebff0c,#f9f300,#ffea00,#ffea00,#fdee00,#fbf100,#fcf000,#ffeb00,#ffe200,#ffde00,#f6f701,#b3ff44,#41ffb6,#00a5ff,#0050ff,#005cff,#00adff,#28ffcf,#78ff7f,#b5ff41,#dbff1c,#e4ff13,#ddff1a,#d7ff20,#dcff1a,#ebff0c,#fcf000,#ffe300,#ffe000,#ffeb00,#e9ff0e,#cbff2c,#b0ff47,#a0ff56,#9dff5a,#9fff57,#a4ff53,#a8ff4f,#a9ff4e,#a6ff51,#a1ff56,#a1ff56,#a9ff4d,#baff3d,#ccff2b,#d9ff1e,#ddff19,#d9ff1e,#cbff2c,#b6ff41,#a1ff55,#95ff61,#93ff63,#98ff5f,#9eff59,#a2ff55,#9dff5a,#8aff6c,#6fff88,#60ff96,#75ff82,#b0ff46,#f6f701,#ffbf00,#ffb100,#ffbc00,#ffca00,#ffce00,#fc0,#ffc800)"></i><i style="height:2.521px;background:linear-gradient(90deg,#ffc600,#ffc400,#ffc300,#ffc500,#ffca00,#ffce00,#ffca00,#ffb500,#ff9600,#ff7500,#ff5d00,#f50,#ff6200,#ff8600,#ffbd00,#f4f903,#c5ff31,#a3ff54,#8fff68,#8aff6d,#90ff67,#99ff5e,#9bff5b,#98ff5f,#97ff5f,#a3ff54,#bbff3b,#d6ff21,#e7ff0f,#ebff0b,#e6ff11,#ddff1a,#d6ff21,#daff1d,#f1fd06,#ffd400,#ffc400,#f3fa04,#7fff77,#00e4f8,#0087ff,#009bff,#0ef6e9,#63ff94,#a1ff55,#c7ff30,#daff1d,#deff19,#dbff1c,#d7ff20,#d6ff21,#daff1d,#e1ff16,#e8ff0e,#ecff0b,#e4ff13,#cdff2a,#acff4b,#8eff69,#7dff7a,#79ff7e,#7eff79,#87ff6f,#8eff68,#8bff6b,#78ff7f,#5cff9b,#49ffae,#4fffa8,#6aff8d,#8aff6d,#9eff59,#a1ff56,#9bff5c,#90ff67,#86ff71,#7dff7a,#79ff7e,#78ff7f,#7aff7d,#7dff7a,#7fff78,#7bff7c,#6fff88,#5fff97,#5dff9a,#79ff7e,#b5ff41,#f8f400,#ffbf00,#ffb200,#ffbc00,#ffca00,#ffce00,#ffcb00,#ffc800)"></i><i style="height:2.521px;background:linear-gradient(90deg,#ffc700,#ffc600,#ffc500,#ffc700,#ffcb00,#ffce00,#ffca00,#ffb800,#ff9c00,#ff8000,#ff6a00,#ff6200,#ff6e00,#ff9300,#ffca00,#e8ff0f,#bbff3b,#9bff5c,#85ff72,#78ff7f,#70ff86,#6bff8c,#63ff93,#5cff9b,#5eff99,#71ff86,#94ff63,#bbff3c,#d7ff20,#e2ff15,#ddff1a,#cdff2a,#baff3d,#b5ff41,#d2ff25,#ffdc00,#fa0,#ffc000,#c2ff35,#48ffaf,#00e3f9,#0bf3ec,#4dffaa,#94ff63,#bdff3a,#cdff2a,#d1ff25,#d4ff23,#d5ff21,#d5ff22,#d2ff24,#d0ff27,#d1ff26,#d6ff21,#daff1d,#d2ff24,#b9ff3e,#96ff61,#79ff7e,#6dff89,#72ff84,#7eff78,#89ff6e,#8bff6c,#7fff78,#62ff95,#3effb9,#25ffd2,#29ffcd,#46ffb1,#67ff90,#77ff7f,#76ff80,#70ff87,#71ff86,#7aff7d,#85ff72,#8bff6c,#8aff6d,#87ff70,#89ff6e,#8eff68,#92ff64,#8eff69,#84ff73,#83ff74,#9aff5d,#ccff2b,#ffe700,#ffbc00,#ffb100,#ffba00,#ffc600,#ffc900,#ffc700,#ffc400)"></i><i style="height:2.521px;background:linear-gradient(90deg,#ffca00,#ffc900,#ffc900,#ffc900,#fc0,#ffce00,#ffca00,#ffbd00,#fa0,#ff9600,#ff8500,#ff7f00,#ff8900,#ffa900,#ffd900,#e7ff10,#caff2d,#b9ff3d,#abff4c,#95ff62,#75ff82,#55ffa2,#3bffbb,#2fffc7,#35ffc1,#51ffa6,#7eff79,#aeff49,#d4ff23,#e6ff11,#e3ff14,#ccff2b,#abff4c,#98ff5f,#afff47,#f3fa04,#ffb000,#ffa600,#faf200,#9bff5b,#5cff9b,#5fff98,#88ff6e,#b4ff43,#c8ff2f,#c9ff2e,#c6ff30,#c9ff2e,#cfff28,#d3ff23,#d2ff25,#cfff28,#cfff28,#d4ff23,#d8ff1f,#cfff28,#b2ff45,#8dff6a,#73ff84,#75ff82,#8aff6c,#a1ff56,#a7ff4f,#9cff5b,#85ff72,#68ff8f,#4cffab,#3dffba,#42ffb5,#55ffa2,#68ff8e,#6dff8a,#65ff91,#62ff95,#73ff84,#97ff60,#baff3d,#cbff2b,#c8ff2e,#c0ff37,#c3ff34,#d3ff24,#e3ff14,#e6ff11,#daff1d,#ceff29,#d4ff23,#f1fd06,#ffd400,#ffb800,#ffb100,#ffb800,#ffc100,#ffc300,#ffc100,#ffbf00)"></i><i style="height:2.521px;background:linear-gradient(90deg,#ffc900,#ffc900,#ffc900,#ffc900,#ffca00,#ffca00,#ffc800,#ffc400,#ffbd00,#ffb400,#fa0,#ffa500,#ffac00,#ffc600,#ffec00,#e3ff14,#d8ff1f,#daff1c,#d6ff21,#b9ff3e,#84ff73,#4affac,#21ffd6,#11fbe5,#1cffdb,#40ffb6,#77ff80,#b0ff47,#dbff1c,#effe08,#ebff0c,#cdff29,#a1ff56,#83ff74,#90ff67,#cfff28,#ffd200,#ffae00,#ffcf00,#dfff18,#b2ff45,#aaff4d,#b9ff3d,#cbff2c,#d0ff27,#ccff2a,#c9ff2e,#cbff2c,#d0ff27,#d4ff23,#d3ff23,#d2ff25,#d3ff24,#daff1d,#deff19,#d4ff23,#b4ff43,#8dff69,#77ff7f,#85ff72,#a9ff4e,#c7ff2f,#c7ff30,#acff4b,#8aff6d,#71ff85,#67ff90,#68ff8f,#6eff88,#76ff81,#79ff7e,#71ff86,#65ff92,#67ff8f,#87ff6f,#bfff37,#f6f701,#ffd800,#ffdc00,#ffe800,#ffe100,#ffc300,#ffa400,#ff9c00,#ffb100,#ffcf00,#ffe000,#ffda00,#ffc900,#ffbc00,#ffb900,#ffbd00,#ffc100,#ffc200,#ffc200,#ffc000)"></i><i style="height:2.521px;background:linear-gradient(90deg,#ffc200,#ffc300,#ffc300,#ffc300,#ffc100,#ffc100,#ffc400,#ffcb00,#ffd300,#ffd800,#ffd400,#ffce00,#ffd000,#ffe500,#e8ff0f,#d0ff27,#ccff2a,#d7ff1f,#daff1d,#bcff3a,#81ff76,#40ffb7,#11fbe5,#02e7f5,#11fae6,#3dffb9,#7eff78,#bfff38,#eaff0d,#f6f701,#e6ff10,#c2ff35,#95ff62,#76ff81,#7bff7c,#aaff4c,#e7ff10,#ffdb00,#ffdb00,#f8f400,#e2ff15,#d8ff1e,#daff1d,#e0ff17,#e5ff12,#e8ff0f,#e8ff0f,#e5ff12,#dfff18,#d9ff1e,#d4ff23,#d2ff25,#d6ff21,#e0ff17,#e6ff11,#ddff1a,#bcff3a,#94ff63,#7eff79,#8fff68,#b6ff40,#d4ff23,#caff2c,#a3ff53,#7aff7d,#68ff8f,#6dff8a,#7bff7c,#85ff71,#86ff70,#80ff77,#75ff82,#6cff8a,#75ff82,#9bff5c,#d7ff20,#ffd700,#ffb400,#ffb300,#ffb900,#ffad00,#ff8b00,#ff6a00,#ff6400,#ff7f00,#ffa800,#ffc900,#ffd500,#ffd500,#ffd100,#ffcf00,#ffce00,#ffcf00,#ffcf00,#ffcf00,#ffcf00)"></i><i style="height:2.521px;background:linear-gradient(90deg,#ffb900,#ffba00,#fb0,#ffba00,#ffb700,#ffb700,#ffbe00,#ffd100,#ffe900,#f2fb05,#f1fc06,#f9f300,#fbf000,#eaff0d,#caff2d,#aeff49,#a6ff51,#aeff49,#b1ff46,#9aff5c,#6aff8c,#34ffc2,#0cf5eb,#00e4f8,#0ff8e8,#42ffb5,#8cff6b,#d1ff25,#f6f600,#f1fd06,#d0ff27,#a7ff50,#85ff72,#71ff86,#73ff83,#8dff69,#b1ff46,#d0ff27,#e1ff16,#e7ff10,#e7ff0f,#e8ff0f,#ecff0b,#f7f500,#ffdf00,#fc0,#ffc600,#ffd700,#f8f400,#e0ff17,#d2ff25,#ceff28,#d5ff22,#e2ff15,#eaff0c,#e3ff13,#c4ff33,#9cff5b,#83ff74,#8cff6b,#aaff4d,#bdff3a,#abff4b,#80ff77,#56ffa0,#48ffaf,#54ffa3,#68ff8e,#75ff82,#76ff81,#71ff86,#6dff8a,#6fff87,#7fff78,#a2ff55,#d3ff24,#ffe900,#ffc800,#ffbc00,#ffb500,#ffa400,#ff8600,#ff7000,#ff7200,#ff9100,#ffbc00,#ffdf00,#fbf100,#f7f600,#f8f400,#fbf000,#ffec00,#ffe900,#ffe900,#ffe900,#ffea00)"></i><i style="height:2.521px;background:linear-gradient(90deg,#ffbc00,#ffbd00,#ffbe00,#ffbc00,#ffb800,#ffb600,#ffbe00,#ffd700,#f4f802,#ddff19,#d9ff1e,#e1ff16,#e4ff13,#d2ff25,#afff47,#8eff69,#80ff77,#83ff74,#86ff71,#78ff7e,#58ff9e,#32ffc4,#13fde4,#05ecf1,#13fde4,#43ffb4,#8eff69,#d1ff26,#edff0a,#d8ff1f,#acff4b,#86ff71,#75ff82,#73ff84,#76ff80,#7cff7b,#85ff72,#95ff62,#adff4a,#c7ff30,#ddff1a,#ecff0b,#fbf100,#ffd600,#ffaf00,#ff8e00,#f80,#ffa900,#ffe000,#dfff18,#caff2d,#c9ff2e,#d4ff23,#e1ff16,#e8ff0e,#e1ff16,#c4ff33,#9eff59,#82ff75,#80ff76,#8eff69,#94ff63,#80ff76,#5aff9d,#36ffc0,#29ffcd,#32ffc5,#40ffb7,#48ffaf,#48ffaf,#48ffaf,#4fffa8,#61ff96,#7aff7d,#99ff5e,#bbff3c,#dcff1b,#f7f500,#ffdc00,#ffc700,#ffb300,#ffa300,#ff9d00,#fa0,#ffc900,#fdee00,#e5ff11,#dbff1b,#daff1c,#deff19,#e1ff16,#e3ff13,#e5ff12,#e5ff12,#e5ff12,#e5ff12)"></i><i style="height:2.521px;background:linear-gradient(90deg,#ffd500,#ffd800,#ffd900,#ffd700,#ffcf00,#ffc700,#ffc900,#ffdc00,#f3fa04,#dcff1a,#d4ff23,#d6ff21,#d3ff24,#c0ff37,#a0ff57,#82ff74,#78ff7f,#7dff7a,#84ff73,#7dff7a,#65ff92,#46ffb1,#27ffd0,#14fee3,#16ffe0,#38ffbe,#73ff84,#a8ff4e,#bbff3b,#a5ff52,#7fff77,#68ff8e,#6cff8b,#7bff7c,#82ff75,#7aff7d,#70ff86,#75ff82,#90ff67,#b6ff40,#dcff1b,#f9f300,#ffd600,#ffb200,#ff8700,#ff6700,#ff6b00,#ffa000,#ffea00,#ccff2b,#bbff3c,#c5ff32,#d7ff20,#e0ff16,#deff19,#ceff29,#b3ff44,#93ff64,#7aff7d,#70ff87,#6fff87,#6eff89,#60ff97,#49ffad,#32ffc5,#23ffd4,#1bffdb,#16ffe1,#0df5ea,#04eaf3,#03e9f4,#13fde3,#33ffc4,#59ff9e,#7dff7a,#9cff5b,#b9ff3e,#d7ff20,#f6f701,#ffd900,#ffc900,#ffc900,#ffd600,#feed00,#e6ff11,#d0ff27,#c6ff31,#c9ff2e,#d2ff25,#d7ff20,#d5ff22,#cfff27,#caff2c,#c9ff2e,#caff2d,#cbff2b)"></i><i style="height:2.521px;background:linear-gradient(90deg,#eeff09,#ebff0c,#e9ff0e,#ecff0b,#f7f500,#ffe400,#ffd900,#ffdc00,#ffeb00,#f0fd07,#e3ff13,#d9ff1e,#ccff2b,#b7ff3f,#a0ff57,#91ff66,#95ff62,#a7ff50,#b5ff42,#afff48,#93ff64,#6bff8c,#44ffb3,#27ffd0,#1affdc,#25ffd1,#43ffb4,#61ff95,#6eff89,#65ff91,#59ff9e,#5bff9c,#72ff85,#8cff6b,#97ff60,#8cff6a,#7dff79,#7eff79,#99ff5e,#c3ff34,#effe07,#ffd400,#ffb000,#ff8e00,#ff6f00,#ff6200,#ff7a00,#ffc000,#dcff1b,#a9ff4d,#a7ff50,#c1ff35,#dcff1b,#deff19,#cbff2c,#aeff49,#94ff63,#7fff78,#6fff88,#64ff93,#5cff9a,#59ff9e,#58ff9f,#56ffa1,#4dffaa,#39ffbe,#1affdc,#00daff,#00afff,#008fff,#0085ff,#009dff,#00d3ff,#27ffd0,#58ff9e,#82ff75,#a7ff50,#cdff2a,#f1fd06,#ffdf00,#ffd800,#ffe700,#ebff0c,#d1ff26,#bdff39,#b4ff43,#baff3c,#ceff29,#e2ff15,#e9ff0e,#deff19,#caff2c,#bbff3c,#b7ff40,#baff3d,#beff39)"></i><i style="height:2.521px;background:linear-gradient(90deg,#d5ff22,#d1ff26,#ceff29,#d2ff24,#e3ff14,#faf200,#ffd900,#fc0,#fc0,#ffd700,#ffeb00,#eaff0d,#d3ff24,#bfff38,#b2ff45,#b4ff43,#c9ff2e,#e8ff0e,#fdef00,#f2fb05,#c7ff30,#8fff68,#5dff9a,#3affbd,#25ffd2,#1effd9,#20ffd6,#2affcd,#34ffc2,#40ffb7,#51ffa5,#6cff8b,#8eff68,#adff4a,#bcff3b,#b7ff40,#adff4a,#aeff49,#c4ff32,#e8ff0e,#ffd800,#ffaf00,#ff8d00,#ff7600,#ff6d00,#ff7b00,#ffa800,#f6f701,#b0ff47,#88ff6f,#94ff63,#bcff3b,#dbff1c,#d4ff22,#b3ff44,#8dff6a,#78ff7f,#71ff85,#70ff87,#6bff8b,#65ff92,#64ff93,#6bff8c,#74ff83,#71ff85,#57ff9f,#28ffcf,#00d0ff,#0089ff,#0053ff,#003cff,#05f,#0097ff,#05ebf2,#46ffb0,#7eff79,#aeff49,#d9ff1d,#feee00,#ffd500,#ffd600,#fdef00,#deff19,#c3ff34,#b5ff41,#b7ff40,#c9ff2d,#e8ff0f,#ffe700,#ffdf00,#f7f500,#d9ff1e,#c2ff35,#bcff3b,#c0ff37,#c6ff31)"></i><i style="height:2.521px;background:linear-gradient(90deg,#e3ff14,#deff19,#daff1c,#e0ff17,#f4f903,#ffd700,#ffb700,#ffa400,#ffa100,#ffad00,#ffc500,#ffe400,#ecff0b,#dbff1c,#d7ff20,#e4ff13,#ffe700,#fb0,#ffa400,#ffbf00,#e8ff0f,#9eff59,#66ff91,#49ffae,#3dffba,#35ffc2,#2fffc8,#2fffc7,#3effb9,#5cff9b,#82ff75,#a9ff4e,#cbff2c,#e6ff11,#f6f701,#fcef00,#ffec00,#ffe700,#ffda00,#ffc700,#ffad00,#ff9000,#ff7900,#ff7300,#ff8400,#ffab00,#ffe600,#c6ff31,#8fff68,#76ff80,#8aff6d,#b1ff46,#cbff2b,#bfff38,#9aff5d,#77ff80,#6dff89,#79ff7e,#8aff6c,#96ff61,#99ff5e,#9aff5d,#9aff5d,#97ff5f,#8aff6d,#6cff8b,#3effb9,#05ebf2,#009eff,#005aff,#003aff,#0052ff,#009dff,#16ffe1,#62ff95,#a0ff56,#d3ff23,#fdee00,#ffca00,#ffb800,#ffbc00,#ffd400,#f9f300,#e5ff12,#ddff1a,#e3ff13,#f7f500,#ffd400,#ffb900,#ffb400,#ffca00,#ffeb00,#e9ff0d,#e3ff14,#e7ff10,#edff0a)"></i><i style="height:2.521px;background:linear-gradient(90deg,#ffd100,#ffd700,#ffdc00,#ffd500,#fb0,#ff9600,#ff7600,#ff6900,#ff7000,#ff8600,#ffa200,#ffc000,#ffda00,#ffe900,#ffe900,#ffd800,#ffb200,#ff8a00,#ff7d00,#ffa900,#e7ff10,#90ff67,#59ff9e,#4dffa9,#59ff9e,#66ff91,#6dff8a,#77ff80,#8fff68,#b6ff40,#e2ff15,#ffe600,#fc0,#fb0,#ffa900,#ff9200,#ff7e00,#ff7400,#ff7900,#ff8300,#ff8600,#ff8000,#ff7b00,#ff8900,#ffb100,#ffeb00,#cbff2c,#9dff59,#7fff77,#77ff7f,#88ff6f,#a1ff56,#adff49,#9fff58,#83ff74,#70ff87,#78ff7e,#97ff60,#beff39,#deff18,#f2fc05,#f2fb04,#ddff1a,#b8ff3f,#90ff66,#71ff86,#56ffa1,#34ffc3,#03e9f4,#00a6ff,#0081ff,#0098ff,#02e8f5,#56ffa0,#a5ff52,#e1ff15,#ffda00,#ffb400,#ff9c00,#ff9100,#ff9300,#ffa000,#ffb100,#ffbc00,#ffbf00,#ffba00,#ffac00,#ff9b00,#ff8e00,#ff8d00,#ff9b00,#ffaf00,#ffbd00,#ffc100,#ffbf00,#fb0)"></i><i style="height:2.521px;background:linear-gradient(90deg,#ff8c00,#ff9300,#ff9800,#ff9000,#ff7400,#ff4f00,#f30,#ff3100,#ff4800,#ff6b00,#ff8d00,#fa0,#ffc000,#ffcd00,#ffcf00,#ffc300,#ffa700,#ff8a00,#ff8c00,#ffc800,#c2ff35,#67ff90,#37ffc0,#3dffba,#63ff94,#8eff69,#b3ff43,#d6ff20,#fbf100,#ffc500,#ff9f00,#ff8a00,#ff8500,#ff8200,#ff7200,#ff5100,#ff3000,#ff2300,#ff3500,#ff5600,#ff7300,#ff8200,#ff9100,#ffb100,#ffeb00,#c5ff32,#94ff63,#7bff7c,#76ff81,#7cff7b,#86ff71,#8dff6a,#8cff6b,#7fff78,#72ff84,#74ff83,#8fff68,#bfff37,#f8f400,#ffb800,#ff9100,#ff9200,#ffc800,#d3ff24,#8eff69,#6dff8a,#6aff8d,#68ff8f,#4cffab,#1fffd7,#01e7f6,#10f9e7,#4cffab,#9cff5b,#e7ff10,#ffc600,#ff9800,#ff7e00,#ff7300,#ff7200,#ff7500,#ff7800,#ff7a00,#ff7b00,#ff7b00,#ff7a00,#ff7800,#ff7500,#ff7400,#ff7500,#ff7900,#ff7d00,#ff8000,#ff8100,#ff8100,#ff8000)"></i><i style="height:2.521px;background:linear-gradient(90deg,#ff6200,#ff6900,#ff6e00,#ff6700,#ff4a00,#ff2600,#f80d00,#ff1500,#ff3700,#ff6500,#ff9000,#ffb200,#fc0,#ffde00,#ffe700,#ffe700,#ffdc00,#ffd300,#ffe300,#d0ff27,#79ff7e,#28ffcf,#01e6f6,#10f9e7,#44ffb3,#8dff6a,#dbff1c,#ffc500,#ff8b00,#ff6e00,#ff6700,#ff6e00,#ff7c00,#ff8200,#ff7600,#f50,#f30,#ff2600,#ff3800,#ff5c00,#ff8100,#ff9c00,#ffb800,#ffe400,#ccff2a,#90ff66,#66ff91,#5cff9b,#67ff90,#76ff81,#7cff7b,#78ff7e,#71ff86,#69ff8e,#6aff8d,#7cff7a,#a7ff50,#e4ff13,#ffbd00,#ff7400,#ff4600,#ff4c00,#ff9700,#e4ff12,#8bff6b,#69ff8e,#75ff82,#89ff6d,#83ff74,#65ff92,#4bffac,#51ffa6,#7bff7c,#baff3d,#feed00,#ffa800,#ff7500,#ff5f00,#ff6200,#ff7100,#ff7d00,#ff8000,#ff7e00,#ff7c00,#ff7d00,#ff7e00,#ff7e00,#ff7b00,#ff7800,#ff7500,#ff7300,#ff7300,#ff7300,#ff7300,#ff7300,#ff7300)"></i><i style="height:2.521px;background:linear-gradient(90deg,#f60,#ff6d00,#ff7200,#ff6b00,#ff4f00,#ff2b00,#ff1500,#ff1e00,#f40,#f70,#ffa900,#ffd300,#f6f601,#deff19,#ccff2b,#c0ff37,#b7ff3f,#adff4a,#95ff62,#65ff92,#24ffd3,#00c9ff,#00a5ff,#00b4ff,#0df5ea,#67ff90,#d7ff20,#ffa400,#ff6100,#ff5b00,#ff7800,#ff9c00,#ffb300,#ffba00,#ffb200,#ff9c00,#ff8600,#ff7b00,#ff8200,#ff9600,#ffb000,#fc0,#fdef00,#d2ff24,#9cff5b,#67ff90,#45ffb2,#41ffb6,#4fffa8,#60ff97,#65ff92,#61ff96,#5bff9b,#5bff9c,#65ff91,#83ff74,#b9ff3e,#feed00,#ff9a00,#ff5200,#ff2a00,#ff3700,#ff8a00,#eaff0c,#8dff6a,#68ff8e,#75ff81,#91ff66,#99ff5e,#8bff6c,#78ff7f,#72ff84,#82ff74,#a8ff4f,#e2ff14,#ffbf00,#ff7f00,#ff6500,#ff7300,#ff9300,#ffb000,#ffbf00,#ffc600,#ffcb00,#ffcf00,#ffd000,#ffc700,#ffb500,#ffa200,#ff9600,#ff9400,#f90,#ff9e00,#ff9f00,#ff9e00,#ff9d00)"></i><i style="height:2.521px;background:linear-gradient(90deg,#f90,#ffa000,#ffa500,#ff9e00,#ff8300,#ff5f00,#ff4800,#ff4f00,#ff7100,#ff9f00,#ffcb00,#faf200,#dcff1b,#bfff37,#a4ff52,#8bff6c,#73ff83,#5cff9b,#40ffb7,#1dffda,#00d9ff,#00afff,#09f,#00a2ff,#00d6ff,#48ffae,#bbff3b,#ffc200,#ff8600,#ff9400,#ffc500,#faf200,#eaff0d,#ebff0c,#f1fc06,#f7f500,#fcf000,#ffea00,#ffe700,#ffe900,#f7f500,#e0ff16,#c0ff37,#98ff5e,#6dff89,#47ffaf,#2fffc7,#2bffcb,#34ffc3,#3dffb9,#41ffb6,#3fffb7,#3fffb8,#44ffb3,#56ffa0,#7eff79,#bfff38,#ffdb00,#ff8500,#ff4800,#ff3100,#ff4a00,#ff9d00,#e3ff14,#8eff69,#68ff8f,#6dff8a,#83ff74,#91ff66,#90ff67,#86ff71,#79ff7e,#73ff84,#81ff76,#afff48,#f4f903,#ffb200,#ff9500,#ffa800,#ffd400,#eeff09,#d2ff25,#bfff38,#b1ff45,#aaff4d,#acff4b,#bcff3b,#d9ff1e,#f7f500,#ffdf00,#ffdc00,#ffe400,#feed00,#fcef00,#feee00,#ffeb00)"></i><i style="height:2.521px;background:linear-gradient(90deg,#f2fb05,#ecff0b,#e8ff0f,#eeff09,#ffe400,#ffc000,#ffa600,#ffa700,#ffbe00,#ffda00,#ffeb00,#f9f300,#f0fd06,#dcff1b,#bdff3a,#9aff5d,#7bff7c,#61ff95,#4bffac,#34ffc2,#1fffd7,#10fae6,#0bf3eb,#14ffe2,#2fffc8,#5fff98,#9bff5b,#cfff28,#e3ff14,#d4ff23,#b8ff3f,#a8ff4f,#aeff49,#bdff3a,#c8ff2f,#c6ff31,#beff38,#baff3d,#bbff3c,#bbff3c,#b1ff45,#99ff5e,#78ff7e,#59ff9e,#41ffb6,#31ffc6,#25ffd1,#1effd8,#1affdd,#15ffe2,#10fae6,#0df5ea,#0ef6e9,#17ffe0,#30ffc7,#62ff94,#b4ff43,#ffd600,#ff7b00,#ff4d00,#ff5100,#ff7e00,#fc0,#ccff2b,#88ff6f,#63ff94,#5cff9a,#65ff92,#70ff87,#75ff82,#73ff84,#68ff8e,#5dff99,#60ff96,#7fff78,#b3ff44,#e4ff13,#f8f400,#eaff0d,#c7ff30,#9dff5a,#75ff81,#54ffa2,#3effb9,#35ffc2,#39ffbd,#4cffab,#6aff8d,#8aff6d,#a1ff56,#acff4b,#aeff49,#acff4a,#acff4b,#acff4b,#adff4a)"></i><i style="height:2.521px;background:linear-gradient(90deg,#81ff75,#7bff7c,#77ff80,#7dff79,#95ff62,#b6ff41,#cfff27,#d5ff21,#cfff28,#d0ff27,#e7ff10,#ffdb00,#ffb800,#ffb800,#ffd700,#edff0a,#d0ff27,#bfff37,#b4ff42,#a8ff4f,#9bff5c,#95ff62,#9dff5a,#afff48,#baff3c,#afff48,#8bff6c,#60ff97,#41ffb6,#37ffbf,#42ffb5,#5dff9a,#81ff76,#a4ff53,#b7ff40,#b6ff41,#a8ff4f,#99ff5e,#8eff69,#81ff76,#6eff89,#52ffa5,#35ffc1,#24ffd3,#23ffd3,#2bffcc,#2effc9,#24ffd2,#11fae6,#00ddfd,#00c2ff,#00adff,#00a4ff,#00adff,#00d3ff,#31ffc6,#97ff60,#ffe200,#ff8100,#ff6500,#f80,#ffcb00,#dcff1a,#a3ff53,#75ff82,#55ffa2,#43ffb4,#3bffbc,#3affbc,#3effb9,#42ffb5,#45ffb2,#47ffaf,#4effa9,#5bff9c,#6eff89,#7fff77,#87ff70,#82ff75,#6dff89,#4affac,#1dffd9,#00d5ff,#00b3ff,#00a9ff,#00b1ff,#00c1ff,#00d6ff,#07eef0,#1dffd9,#36ffc1,#4bffab,#59ff9e,#5dff9a,#5aff9d,#57ffa0)"></i><i style="height:2.521px;background:linear-gradient(90deg,#10f9e7,#0bf3ec,#07eef0,#0df5ea,#22ffd5,#40ffb7,#5bff9c,#68ff8e,#72ff85,#8cff6b,#c6ff31,#ffd300,#ff8600,#ff6700,#ff7500,#ff9300,#ffa800,#ffac00,#ffac00,#ffb200,#ffbd00,#ffbe00,#fa0,#ff8d00,#ff8e00,#ffd400,#9dff59,#1fffd7,#00a7ff,#0095ff,#00bcff,#14ffe3,#4effa9,#7fff78,#9dff59,#a4ff53,#99ff5d,#85ff72,#6cff8a,#52ffa5,#38ffbe,#22ffd5,#15ffe2,#18ffdf,#2dffca,#47ffaf,#57ffa0,#4fffa8,#33ffc4,#09f0ee,#00b3ff,#007aff,#05f,#0051ff,#0079ff,#00d4ff,#67ff90,#e4ff13,#ffa800,#ff9f00,#fd0,#c2ff35,#88ff6e,#65ff92,#4dffaa,#34ffc2,#1bffdc,#06ecf1,#00dcfe,#00d9ff,#00e2f9,#10f9e7,#27ffd0,#38ffbf,#38ffbf,#29ffcd,#18ffdf,#11fbe6,#14fee3,#11fbe6,#00dffc,#00a9ff,#0072ff,#004fff,#0049ff,#0051ff,#0058ff,#0058ff,#005dff,#0073ff,#009fff,#00cfff,#09f0ee,#10f9e7,#0bf3ec,#04ebf2)"></i><i style="height:2.521px;background:linear-gradient(90deg,#008dff,#08f,#0085ff,#008aff,#009cff,#00b7ff,#00d4ff,#06edf1,#1fffd8,#4affad,#92ff65,#ecff0b,#ffa500,#ff6b00,#ff5700,#ff5600,#f50,#ff5100,#ff4c00,#ff4d00,#ff4f00,#ff4a00,#ff3400,#ff1a00,#ff2300,#ff7400,#e5ff12,#54ffa3,#00c4ff,#0084ff,#007fff,#00a4ff,#00e0fc,#30ffc7,#5aff9d,#6fff88,#71ff86,#62ff94,#47ffaf,#2cffcb,#1cffdb,#20ffd7,#34ffc3,#53ffa4,#76ff80,#97ff5f,#adff4a,#afff47,#98ff5e,#62ff95,#0bf3ec,#007cff,#0021ff,#0002ff,#0024ff,#0082ff,#25ffd2,#9eff59,#ebff0c,#e5ff12,#a2ff55,#52ffa5,#20ffd7,#0ef7e8,#08efef,#00ddfd,#00bfff,#009eff,#0083ff,#0078ff,#0081ff,#00a5ff,#00d6ff,#0ff9e7,#0bf3ec,#00c8ff,#0097ff,#0081ff,#0087ff,#0091ff,#0085ff,#005cff,#002eff,#0013ff,#01f,#0018ff,#0019ff,#000eff,#0006ff,#0015ff,#0040ff,#0072ff,#0097ff,#00a0ff,#009aff,#0091ff)"></i><i style="height:2.521px;background:linear-gradient(90deg,#004dff,#004cff,#004cff,#004dff,#0051ff,#005cff,#0070ff,#0090ff,#00beff,#11fae6,#4dffaa,#92ff65,#d8ff1f,#ffcf00,#ff9100,#ff6300,#ff4800,#ff3f00,#ff3c00,#ff3700,#ff2c00,#ff1d00,#f70d00,#ea0200,#f60b00,#ff3700,#ff8a00,#f4f903,#82ff75,#0ef7e8,#0085ff,#004fff,#005eff,#0096ff,#00d5ff,#18ffde,#2dffca,#2dffca,#1cffda,#0ff8e8,#1affdd,#49ffae,#8bff6c,#c8ff2f,#f2fb05,#ffdc00,#ffc200,#ffac00,#ffb300,#f5f802,#74ff82,#00b4ff,#0015ff,#0000dc,#0000f4,#003eff,#0bf,#40ffb6,#7aff7d,#6aff8d,#28ffcf,#00bcff,#008aff,#0082ff,#08f,#0083ff,#006fff,#0054ff,#0039ff,#0029ff,#002fff,#0057ff,#0091ff,#00bcff,#00b9ff,#008aff,#0052ff,#03f,#0036ff,#0042ff,#0042ff,#002cff,#0012ff,#0003ff,#0003ff,#0009ff,#0008ff,#00f,#00f,#00f,#0019ff,#0039ff,#0051ff,#0058ff,#0053ff,#004dff)"></i><i style="height:2.521px;background:linear-gradient(90deg,#0034ff,#0036ff,#0037ff,#0035ff,#002fff,#002cff,#0037ff,#0059ff,#008dff,#00c4ff,#09f0ee,#29ffce,#54ffa3,#97ff60,#eaff0d,#ffaf00,#ff7a00,#ff6700,#ff6000,#ff5000,#ff3500,#ff1b00,#fc1100,#ff1500,#ff1b00,#ff1300,#f40a00,#ff2b00,#ffa400,#8cff6b,#00adff,#0016ff,#00f,#001fff,#0063ff,#009fff,#00c8ff,#00daff,#00d9ff,#00e3f9,#29ffcd,#83ff74,#edff0a,#ff9e00,#ff6e00,#ff5a00,#ff4300,#ff1b00,#f70c00,#ff5000,#e6ff11,#17ffe0,#002bff,#0000d5,#0000e2,#0021ff,#007dff,#0cf,#0af2ec,#00daff,#0098ff,#0054ff,#0031ff,#0030ff,#003cff,#0043ff,#003eff,#0030ff,#001dff,#000eff,#0014ff,#003bff,#07f,#00a5ff,#00a5ff,#07f,#003eff,#001cff,#0018ff,#0023ff,#002bff,#0027ff,#001fff,#001aff,#001bff,#001dff,#001eff,#001bff,#0018ff,#0019ff,#0021ff,#002aff,#0031ff,#0032ff,#0031ff,#002fff)"></i><i style="height:2.521px;background:linear-gradient(90deg,#0038ff,#003bff,#003dff,#003aff,#0031ff,#002aff,#0031ff,#0051ff,#007fff,#00a5ff,#00b0ff,#00adff,#00beff,#16ffe1,#6dff8a,#c7ff2f,#ffe100,#ffb700,#f90,#ff7400,#ff4800,#ff2500,#ff1c00,#ff2600,#ff2500,#e30000,#930000,#810000,#ff1d00,#dfff18,#00d5ff,#000cff,#0000df,#00f,#003cff,#0071ff,#0095ff,#00abff,#00bcff,#00e1fa,#41ffb6,#b2ff45,#ffb600,#ff4a00,#ff1c00,#fb0f00,#e10000,#a40000,#830000,#d10000,#ffb300,#50ffa7,#005fff,#00f,#0007ff,#0043ff,#07f,#0094ff,#0098ff,#0082ff,#005fff,#003eff,#002dff,#002eff,#0038ff,#0045ff,#004fff,#0053ff,#004fff,#004bff,#0056ff,#007fff,#00b8ff,#00e2fa,#00dbff,#00a7ff,#0068ff,#0041ff,#003cff,#0048ff,#0054ff,#0058ff,#0057ff,#0054ff,#0051ff,#0050ff,#0050ff,#0053ff,#0054ff,#0053ff,#004fff,#0049ff,#04f,#0043ff,#04f,#0045ff)"></i><i style="height:2.521px;background:linear-gradient(90deg,#0058ff,#0059ff,#005aff,#0059ff,#0054ff,#0051ff,#0059ff,#0072ff,#0090ff,#00a0ff,#0090ff,#006fff,#0061ff,#0085ff,#00d8ff,#49ffae,#96ff61,#d7ff20,#ffd800,#f90,#ff6000,#ff3600,#ff2600,#ff2800,#ff2000,#d40000,#800000,#800000,#f20800,#f4f903,#0cf5ea,#0032ff,#0002ff,#0029ff,#0062ff,#0080ff,#008fff,#009dff,#00baff,#0bf3ec,#5bff9c,#ccff2b,#ffa000,#ff3c00,#fe1200,#ef0500,#d50000,#9a0000,#800000,#c00000,#ff9700,#79ff7e,#00a9ff,#0059ff,#006bff,#09f,#00a8ff,#0097ff,#007fff,#0073ff,#0075ff,#007aff,#007bff,#007aff,#007eff,#008cff,#00a2ff,#00b8ff,#00c7ff,#00d3ff,#04eaf3,#28ffce,#54ffa3,#6dff8a,#5bff9c,#22ffd5,#00c1ff,#0092ff,#008eff,#009fff,#00aeff,#00b1ff,#00acff,#00a4ff,#009cff,#0098ff,#0098ff,#009bff,#009fff,#009eff,#0097ff,#008fff,#0089ff,#0087ff,#08f,#008aff)"></i><i style="height:2.521px;background:linear-gradient(90deg,#0095ff,#0095ff,#0096ff,#0095ff,#0093ff,#0094ff,#009aff,#00a8ff,#00b6ff,#00b4ff,#0092ff,#005fff,#003aff,#003eff,#006eff,#00beff,#2fffc8,#82ff75,#d2ff24,#ffcf00,#ff8f00,#ff6100,#ff4600,#ff3700,#f20,#de0000,#a10000,#a10000,#ff3000,#ecff0b,#28ffcf,#0078ff,#0057ff,#007dff,#00a5ff,#00adff,#00a7ff,#00aeff,#00d3ff,#28ffce,#78ff7f,#d9ff1e,#ffab00,#ff5900,#ff3100,#ff1f00,#f20800,#c00000,#a80000,#e80000,#ff9a00,#9aff5c,#11fbe6,#00c1ff,#00d5ff,#0df6e9,#05ecf2,#00c2ff,#009eff,#00a0ff,#00bfff,#00e0fb,#05ecf1,#02e8f5,#00e5f7,#0bf4eb,#24ffd2,#42ffb5,#5bff9c,#71ff86,#8dff6a,#b6ff41,#e1ff16,#f2fb05,#d0ff27,#82ff75,#30ffc7,#00e5f7,#00dffc,#0bf4eb,#19ffdd,#1affdc,#14fee3,#0df5ea,#08f0ef,#06edf1,#06edf0,#08efef,#09f1ee,#09f0ee,#07eef0,#04ebf3,#02e8f5,#02e8f5,#02e8f5,#03e9f4)"></i><i style="height:2.521px;background:linear-gradient(90deg,#09f0ee,#0af2ed,#0bf3ec,#0af1ed,#04eaf3,#00e2fa,#00defd,#00e3f9,#02e8f5,#00defd,#00b6ff,#007dff,#004cff,#003bff,#0051ff,#08f,#00d8ff,#41ffb6,#8dff69,#cfff28,#ffe800,#ffb800,#ff9000,#ff6b00,#ff4500,#ff1b00,#e00000,#ed0500,#ff6000,#e9ff0e,#50ffa7,#00caff,#00abff,#00c0ff,#00d7ff,#00d7ff,#00d1ff,#00ddfe,#1cffdb,#53ffa4,#98ff5f,#e1ff16,#ffc000,#ff8100,#ff5a00,#ff3f00,#ff2500,#ee0500,#e20000,#ff2900,#ffa200,#bbff3c,#50ffa7,#27ffd0,#2cffca,#3bffbc,#31ffc6,#17ffdf,#06edf1,#11fbe6,#2fffc7,#4dffaa,#56ffa0,#51ffa5,#4effa8,#5cff9b,#7aff7d,#9dff5a,#bbff3c,#d6ff21,#f6f601,#ffc200,#ff8e00,#ff7e00,#ffb400,#cdff2a,#64ff93,#23ffd4,#16ffe1,#25ffd2,#35ffc2,#3cffbb,#3effb9,#41ffb6,#47ffb0,#4dffaa,#50ffa7,#4fffa7,#4dffaa,#4cffab,#4dffa9,#50ffa7,#52ffa4,#53ffa4,#53ffa4,#52ffa5)"></i><i style="height:2.521px;background:linear-gradient(90deg,#61ff95,#65ff91,#68ff8f,#64ff93,#54ffa3,#3fffb8,#2effc9,#2cffcb,#30ffc7,#2affcc,#0ef7e9,#00c0ff,#008eff,#0078ff,#0081ff,#00a3ff,#00d3ff,#1effd9,#4dffaa,#78ff7f,#a0ff57,#c9ff2e,#f5f701,#ffbf00,#ff8700,#ff5400,#f30,#ff3900,#ff7d00,#f5f802,#80ff77,#29ffce,#04ebf3,#00e5f7,#07eef0,#0df6e9,#19ffde,#2fffc7,#55ffa2,#84ff73,#b7ff40,#e8ff0f,#ffd200,#ffa400,#ff7c00,#ff5a00,#ff3d00,#ff2500,#ff2300,#ff4a00,#ffa300,#ddff19,#88ff6f,#59ff9e,#4affad,#4bffac,#4effa9,#53ffa4,#5cff9b,#6dff8a,#80ff76,#8eff68,#90ff67,#8bff6c,#8cff6b,#9dff5a,#bcff3a,#dfff18,#fbf100,#ffd600,#ffb200,#ff7b00,#ff4100,#ff3000,#ff6e00,#fbf100,#7fff78,#2bffcc,#10f9e7,#17ffe0,#2affcd,#3cffbb,#4effa9,#63ff94,#7aff7d,#8dff6a,#96ff61,#94ff63,#8dff69,#8aff6d,#8dff6a,#93ff64,#98ff5f,#9aff5d,#99ff5e,#97ff5f)"></i><i style="height:2.521px;background:linear-gradient(90deg,#b5ff41,#bcff3b,#c0ff37,#b9ff3d,#a1ff56,#7fff77,#64ff92,#5dff9a,#63ff94,#63ff94,#4fffa8,#2bffcc,#08efef,#00dbff,#00defd,#06edf0,#12fce5,#1cffdb,#28ffcf,#39ffbd,#54ffa3,#78ff7f,#a7ff50,#deff19,#ffd000,#ff9200,#f60,#ff5c00,#ff8600,#ffe200,#a8ff4e,#59ff9e,#2bffcc,#18ffde,#1bffdc,#2dffca,#48ffaf,#69ff8d,#8dff6a,#b0ff47,#d1ff26,#efff08,#ffde00,#ffbd00,#ff9a00,#ff7800,#ff5c00,#ff4a00,#ff4a00,#ff6500,#ff9e00,#ffea00,#bfff37,#8bff6b,#6bff8b,#63ff94,#73ff84,#92ff65,#b1ff46,#c2ff34,#c7ff30,#c3ff34,#bcff3a,#b8ff3e,#bdff3a,#d0ff27,#ecff0a,#ffdf00,#ffc500,#ffaf00,#ff8f00,#ff5900,#ff1f00,#f70c00,#ff4900,#fc0,#9bff5c,#3fffb8,#17ffe0,#14fee3,#24ffd3,#3cffbb,#5bff9c,#7dff7a,#9fff57,#bbff3b,#caff2c,#cbff2c,#c5ff32,#c0ff37,#c1ff36,#c5ff31,#c9ff2e,#caff2d,#c9ff2d,#c8ff2e)"></i><i style="height:2.521px;background:linear-gradient(90deg,#f1fc05,#f7f500,#fcf000,#f5f702,#deff19,#bdff3a,#a1ff55,#98ff5f,#9bff5c,#9dff5a,#91ff66,#79ff7e,#61ff96,#53ffa4,#4fffa8,#4dffa9,#47ffb0,#3cffbb,#34ffc2,#38ffbf,#49ffae,#64ff92,#89ff6e,#b5ff42,#e8ff0f,#ffc400,#ff8500,#ff6500,#ff7e00,#ffd200,#baff3d,#6fff88,#48ffaf,#3effb9,#48ffae,#5fff97,#7dff7a,#9aff5d,#b4ff43,#caff2c,#e0ff17,#f5f701,#ffdf00,#ffc800,#ffb300,#ffa000,#ff8e00,#ff7f00,#f70,#ff7e00,#ff9800,#ffc100,#fbf100,#d1ff26,#b1ff45,#a5ff52,#b3ff44,#d1ff26,#eeff09,#faf200,#f7f500,#eeff09,#e6ff10,#e4ff13,#e9ff0e,#f7f500,#ffde00,#ffc400,#ffad00,#ff9700,#ff7800,#ff4a00,#ff1b00,#f60c00,#ff3c00,#ffa500,#d5ff22,#83ff73,#58ff9f,#4affad,#4fffa8,#60ff97,#79ff7e,#96ff60,#b5ff42,#d0ff27,#e2ff14,#ebff0b,#edff0a,#eaff0d,#e5ff12,#e0ff17,#dcff1b,#dbff1b,#dcff1b,#ddff1a)"></i><i style="height:2.521px;background:linear-gradient(90deg,#ffd800,#ffd400,#ffd100,#ffd500,#ffe500,#f2fb05,#e0ff17,#d7ff20,#d5ff22,#d4ff23,#cfff28,#c5ff32,#b8ff3e,#abff4c,#9eff59,#90ff67,#82ff75,#75ff82,#6eff89,#70ff87,#7cff7b,#8cff6a,#9cff5a,#afff48,#ceff28,#ffe400,#ff9400,#ff5f00,#ff7100,#ffce00,#b5ff41,#70ff87,#5fff97,#71ff86,#8cff6b,#a1ff56,#b0ff47,#bbff3c,#c6ff31,#d2ff25,#e4ff13,#fbf100,#ffd800,#ffc900,#ffc900,#ffcf00,#ffce00,#ffbf00,#ffa900,#ff9800,#ff9500,#ff9e00,#ffaf00,#ffc300,#ffd500,#ffe100,#ffe400,#ffe000,#ffdb00,#ffd800,#ffd800,#ffdb00,#fd0,#ffde00,#ffdc00,#ffd600,#fc0,#ffbc00,#ffa500,#ff8a00,#ff6a00,#ff4900,#ff2e00,#ff2700,#ff4300,#ff7d00,#ffc200,#effe08,#caff2d,#b3ff44,#a7ff50,#a4ff53,#a8ff4e,#b1ff45,#beff39,#ceff29,#e2ff15,#f7f500,#ffe400,#ffe200,#faf200,#e7ff10,#d8ff1f,#d4ff23,#d7ff20,#daff1c)"></i><i style="height:2.521px;background:linear-gradient(90deg,#ffc900,#ffc800,#ffc800,#ffc800,#fc0,#ffd100,#ffd700,#ffdc00,#ffe000,#ffe100,#ffe000,#ffde00,#ffe400,#f7f500,#e0ff17,#c9ff2e,#b9ff3e,#b4ff43,#b5ff41,#bcff3b,#c3ff34,#c6ff30,#c1ff36,#baff3d,#c5ff32,#f4f903,#ffa400,#f60,#ff7400,#ffd700,#abff4c,#6fff88,#77ff80,#a2ff55,#caff2c,#d9ff1d,#d7ff20,#cfff28,#caff2d,#cdff29,#deff19,#fbf100,#ffd200,#ffc700,#ffda00,#f5f701,#e7ff10,#f1fc05,#ffdc00,#ffb700,#ff9c00,#ff8a00,#ff7e00,#ff7800,#ff7800,#ff8300,#ff9800,#ffb300,#ffc800,#ffd100,#ffcf00,#ffc800,#ffc400,#ffc300,#ffc600,#ffca00,#ffcb00,#ffc400,#ffae00,#ff8e00,#ff6f00,#ff5a00,#ff5400,#ff5600,#ff5e00,#ff6a00,#ff7b00,#ff9300,#ffb100,#ffd200,#fcf000,#e6ff11,#d4ff22,#c9ff2e,#c4ff33,#c9ff2e,#dcff1a,#faf100,#ffd400,#ffcd00,#ffe400,#e8ff0f,#d1ff26,#cbff2c,#cfff28,#d5ff22)"></i><i style="height:2.521px;background:linear-gradient(90deg,#ffc500,#ffc500,#ffc600,#ffc500,#ffc300,#ffc000,#ffbc00,#ffb700,#ffb200,#fa0,#ffa100,#ff9a00,#ff9f00,#ffb500,#ffd900,#f3fa04,#e5ff12,#e6ff11,#eeff09,#f4f903,#f3fa04,#eaff0d,#d8ff1f,#c5ff32,#c3ff34,#e4ff13,#ffc700,#ff9200,#ff9e00,#fcef00,#aaff4d,#80ff77,#92ff64,#c2ff35,#eaff0d,#f3fa04,#e8ff0f,#d6ff21,#c7ff30,#c4ff33,#d2ff24,#f3fa04,#ffd500,#ffc800,#ffe200,#e3ff14,#c9ff2e,#ccff2b,#e7ff10,#fd0,#ffb100,#ff8b00,#ff6f00,#ff6300,#ff6400,#ff7100,#ff8900,#ffa400,#ffbc00,#ffca00,#ffcf00,#ffce00,#fc0,#ffcb00,#fc0,#ffd300,#ffda00,#ffd900,#ffc700,#fa0,#ff9000,#ff8600,#ff8a00,#ff9100,#ff8c00,#ff7e00,#ff7200,#ff7400,#f80,#ffa600,#ffc900,#ffe900,#e9ff0e,#d7ff20,#ceff28,#d2ff25,#e5ff12,#ffe800,#ffcb00,#ffc400,#ffda00,#f2fb05,#dbff1c,#d5ff22,#d9ff1e,#dfff18)"></i><i style="height:2.521px;background:linear-gradient(90deg,#ffc400,#ffc400,#ffc400,#ffc400,#ffc500,#ffc400,#ffbd00,#ffad00,#ff9700,#ff8100,#ff7000,#ff6a00,#ff7400,#ff9000,#ffb700,#ffd900,#ffe800,#ffe400,#ffdb00,#ffdc00,#ffeb00,#edff0a,#d9ff1e,#c9ff2d,#c7ff30,#d8ff1f,#f7f500,#ffda00,#ffe100,#e2ff14,#b7ff40,#a3ff54,#b1ff45,#d0ff27,#e8ff0f,#eeff09,#e5ff12,#d5ff22,#c4ff32,#bdff3a,#c9ff2e,#eaff0d,#fd0,#ffcd00,#ffe300,#e2ff15,#c4ff33,#bcff3b,#cbff2c,#ecff0b,#ffd100,#ffa100,#ff8300,#ff8300,#ff9700,#ffab00,#ffb400,#ffb300,#ffb500,#ffc200,#ffd600,#ffe800,#fcf000,#fdee00,#ffeb00,#fdee00,#f8f400,#f7f500,#ffeb00,#ffd900,#ffc900,#ffc400,#ffc900,#ffce00,#ffc800,#ffb800,#ffa900,#ffa600,#ffb100,#ffc600,#ffe000,#f4f803,#e4ff13,#dcff1a,#dfff17,#ebff0c,#fdee00,#ffd700,#ffc600,#ffc300,#ffd100,#ffe500,#f7f500,#f4f903,#f6f601,#faf200)"></i><i style="height:2.521px;background:linear-gradient(90deg,#ffc600,#ffc500,#ffc400,#ffc500,#ffca00,#ffcd00,#ffc700,#ffb200,#ff9200,#ff7200,#ff5e00,#ff5a00,#f60,#ff8200,#ffa700,#ffc500,#ffd100,#ffcd00,#ffc800,#ffd300,#feed00,#e4ff13,#d2ff25,#ccff2b,#ceff29,#d4ff22,#dbff1c,#deff19,#dcff1b,#d4ff23,#ccff2b,#c9ff2e,#ccff2a,#d4ff23,#dbff1c,#ddff19,#dbff1b,#d4ff23,#c9ff2e,#c3ff34,#ceff29,#ecff0a,#ffdc00,#ffcb00,#ffdc00,#edff0a,#ceff29,#beff38,#c1ff35,#d7ff20,#fdef00,#ffc300,#ffaf00,#ffc000,#ffe400,#f0fd07,#f9f300,#ffd400,#ffbd00,#ffc600,#ffe600,#e7ff10,#d8ff1e,#d9ff1e,#e0ff17,#e2ff14,#e1ff16,#dfff18,#e0ff16,#e5ff12,#e9ff0e,#eaff0c,#e9ff0d,#e9ff0e,#eaff0c,#efff08,#f3fa04,#f4f802,#f2fb05,#ebff0b,#e2ff15,#d9ff1e,#d5ff22,#ddff1a,#f0fd06,#ffe200,#ffce00,#ffc400,#ffc300,#ffc600,#ffca00,#ffcf00,#ffd200,#ffd200,#ffd200,#ffd100)"></i><i style="height:2.521px;background:linear-gradient(90deg,#ffc700,#ffc600,#ffc500,#ffc600,#ffca00,#fc0,#ffc900,#fb0,#ffa500,#ff8e00,#ff7c00,#ff7300,#f70,#ff8900,#ffa300,#ffba00,#ffc200,#ffbd00,#ffbc00,#ffcd00,#feed00,#e1ff16,#d1ff26,#d1ff26,#d9ff1e,#dfff18,#e0ff17,#dfff18,#deff18,#e0ff17,#e2ff15,#e1ff16,#ddff1a,#d8ff1f,#d5ff21,#d5ff21,#d7ff20,#d8ff1e,#d9ff1e,#dfff18,#eeff09,#ffe200,#ffc500,#ffbc00,#ffce00,#fbf000,#dfff18,#d0ff27,#cfff28,#daff1d,#effe08,#ffe900,#ffe500,#f0fd07,#d2ff25,#c1ff36,#d0ff27,#f1fc06,#ffdf00,#ffe300,#eeff09,#d1ff26,#c2ff34,#c3ff34,#c9ff2d,#cfff28,#d0ff27,#ceff29,#caff2c,#c6ff31,#c3ff34,#c2ff35,#c2ff34,#c2ff35,#bfff38,#baff3d,#b6ff40,#b9ff3e,#c0ff37,#c8ff2f,#caff2d,#c8ff2e,#cbff2b,#dcff1a,#fbf100,#fc0,#ffb700,#ffb700,#ffc100,#ffc900,#ffc800,#ffc300,#ffbe00,#ffbc00,#ffbd00,#ffbf00)"></i><i style="height:2.521px;background:linear-gradient(90deg,#ffc700,#ffc700,#ffc800,#ffc700,#ffc500,#ffc200,#ffc100,#ffc500,#ffc900,#ffc800,#ffbd00,#ffab00,#ff9d00,#ff9e00,#fa0,#ffb600,#ffba00,#ffb500,#ffb600,#ffc700,#ffe800,#e6ff11,#d6ff21,#d6ff21,#e0ff17,#efff08,#fdef00,#ffe400,#ffe400,#fdee00,#f1fc06,#e6ff11,#e0ff17,#ddff1a,#daff1d,#d8ff1f,#d9ff1e,#e0ff17,#efff08,#ffe700,#ffcd00,#ffb500,#ffa700,#ffab00,#ffc500,#ffe800,#ebff0c,#e3ff14,#e5ff11,#eaff0d,#e7ff0f,#dfff18,#d1ff26,#bfff37,#b1ff46,#adff4a,#b8ff3f,#caff2d,#d8ff1f,#d7ff20,#cbff2c,#bcff3b,#b5ff42,#b5ff42,#b8ff3f,#bcff3b,#beff39,#bdff3a,#b8ff3f,#b0ff46,#aaff4d,#a7ff50,#a7ff50,#a5ff52,#9eff58,#94ff62,#90ff67,#98ff5f,#abff4b,#c0ff37,#caff2c,#caff2d,#ccff2b,#dcff1b,#fdee00,#ffc700,#ffb000,#ffb200,#ffbf00,#ffc900,#ffc900,#ffc200,#ffbc00,#fb0,#ffbc00,#ffbd00)"></i><i style="height:2.521px;background:linear-gradient(90deg,#ffc600,#ffc800,#ffca00,#ffc800,#ffc000,#ffba00,#ffbe00,#ffd400,#faf200,#e9ff0e,#efff08,#ffe200,#ffc400,#ffb500,#ffb700,#ffbe00,#ffbe00,#ffba00,#fb0,#ffca00,#ffe800,#e7ff10,#d4ff23,#ceff28,#d7ff20,#edff0a,#ffe000,#ffc600,#ffc400,#fd0,#effe08,#dbff1c,#d6ff21,#d9ff1e,#dbff1c,#d7ff20,#d6ff21,#dfff18,#f5f701,#ffd600,#ffb800,#ffa700,#ffa500,#ffb500,#ffd400,#f6f601,#e3ff14,#e1ff15,#e8ff0f,#e6ff11,#d1ff26,#b2ff44,#97ff5f,#8bff6b,#8cff6b,#91ff65,#96ff61,#98ff5f,#99ff5e,#98ff5f,#97ff60,#96ff61,#95ff62,#95ff62,#95ff61,#96ff60,#97ff60,#97ff60,#94ff62,#90ff66,#8dff6a,#8cff6b,#8cff6b,#8aff6d,#83ff74,#7bff7c,#7aff7d,#89ff6d,#a8ff4f,#c6ff31,#d5ff21,#d4ff23,#d1ff26,#dcff1b,#f8f400,#ffd000,#ffb900,#ffb700,#ffc000,#ffc800,#ffc900,#ffc600,#ffc300,#ffc200,#ffc300,#ffc400)"></i><i style="height:2.521px;background:linear-gradient(90deg,#ffc600,#ffc700,#ffc800,#ffc700,#ffc300,#ffc200,#ffcd00,#ffeb00,#deff18,#caff2d,#d2ff25,#f0fd07,#ffd800,#ffc600,#ffc900,#ffd200,#ffd500,#ffd000,#ffd000,#ffde00,#f3fa04,#d6ff20,#bfff38,#b1ff45,#b2ff44,#c5ff32,#e3ff14,#fcef00,#ffe900,#effe08,#d4ff23,#c2ff35,#c0ff37,#c5ff31,#c9ff2e,#c7ff30,#c4ff32,#caff2d,#dbff1c,#f0fd07,#ffe900,#ffe100,#ffe400,#f8f400,#e1ff15,#caff2d,#baff3d,#b7ff3f,#b9ff3e,#b1ff46,#98ff5e,#77ff80,#59ff9d,#4bffac,#4affad,#4effa9,#53ffa4,#55ffa2,#56ffa1,#53ffa3,#50ffa7,#4dffaa,#4bffab,#4cffab,#4cffab,#4cffab,#4bffac,#4bffac,#4effa8,#54ffa2,#5cff9b,#63ff94,#68ff8f,#6aff8d,#69ff8e,#68ff8f,#6fff88,#86ff71,#aaff4d,#ccff2b,#deff19,#dcff1b,#d6ff21,#daff1d,#ecff0a,#ffe600,#ffd000,#ffc700,#ffc500,#ffc600,#ffc800,#ffc800,#ffc900,#ffc900,#ffc900,#ffc800)"></i><i style="height:2.521px;background:linear-gradient(90deg,#ffc600,#ffc500,#ffc400,#ffc500,#ffcb00,#ffd800,#ffec00,#e6ff10,#ceff28,#c5ff32,#d4ff23,#f5f802,#ffd600,#ffcd00,#ffdb00,#fcef00,#f6f701,#f9f300,#fbf000,#f0fd06,#d7ff20,#b7ff3f,#9aff5d,#84ff73,#7aff7d,#7eff79,#8dff69,#a0ff57,#abff4c,#abff4b,#a6ff50,#a3ff54,#a3ff54,#a5ff51,#a7ff4f,#a8ff4f,#a7ff50,#a6ff51,#a5ff52,#a4ff52,#a4ff53,#a4ff53,#a2ff55,#9dff5a,#93ff64,#86ff71,#79ff7e,#6dff89,#62ff95,#55ffa2,#46ffb1,#33ffc4,#1dffd9,#05ecf2,#00d3ff,#00caff,#00d8ff,#0af2ed,#18ffdf,#13fde4,#00e4f8,#00cbff,#00c0ff,#00c1ff,#00c6ff,#00c6ff,#00c2ff,#00c3ff,#00d1ff,#04eaf3,#1bffdc,#2effc9,#3cffbb,#46ffb1,#4fffa8,#59ff9d,#6bff8c,#87ff70,#acff4b,#cdff2a,#dfff18,#dfff18,#d9ff1e,#d7ff20,#deff19,#ebff0c,#fcf000,#fd0,#ffcd00,#ffc500,#ffc300,#ffc600,#ffc900,#ffca00,#ffca00,#ffc900)"></i><i style="height:2.521px;background:linear-gradient(90deg,#ffc700,#ffc200,#ffbf00,#ffc400,#ffd500,#fcef00,#e4ff13,#d0ff27,#c7ff30,#ccff2b,#e4ff13,#ffe600,#fc0,#ffcf00,#ffeb00,#e5ff12,#d9ff1d,#dcff1a,#e0ff17,#d6ff21,#bbff3c,#98ff5e,#76ff81,#59ff9e,#44ffb3,#38ffbf,#36ffc1,#3dffb9,#4effa9,#65ff92,#7aff7d,#87ff70,#89ff6e,#87ff70,#86ff71,#89ff6d,#8bff6c,#83ff74,#6fff88,#56ffa0,#44ffb3,#3dffb9,#3fffb8,#44ffb2,#48ffaf,#47ffb0,#3bffbc,#25ffd2,#0bf4eb,#00dffc,#00dcfe,#00defd,#00cfff,#00a3ff,#0070ff,#05f,#006eff,#00a3ff,#00caff,#00bfff,#0090ff,#005eff,#0047ff,#0049ff,#0053ff,#0053ff,#004dff,#004fff,#06f,#0090ff,#00beff,#00e5f7,#16ffe1,#28ffcf,#3affbc,#50ffa7,#6aff8c,#8aff6c,#adff4a,#cbff2c,#dcff1b,#dfff17,#daff1c,#d4ff23,#d1ff26,#d5ff22,#e3ff14,#faf100,#ffd500,#ffc300,#ffbf00,#ffc300,#ffc800,#ffc900,#ffc800,#ffc700)"></i><i style="height:2.521px;background:linear-gradient(90deg,#ffc700,#ffc100,#ffbd00,#ffc300,#ffdb00,#f1fc06,#d5ff22,#c5ff32,#c4ff33,#d2ff25,#eeff08,#ffdb00,#ffc500,#ffcf00,#f9f200,#d9ff1e,#caff2c,#cdff2a,#d2ff25,#c8ff2f,#acff4b,#87ff6f,#63ff94,#42ffb4,#27ffcf,#13fde4,#06edf1,#07efef,#1bffdc,#3effb9,#62ff94,#79ff7e,#7cff7b,#76ff81,#74ff83,#79ff7e,#7bff7b,#70ff87,#51ffa6,#2cffcb,#10f9e7,#06edf1,#0af2ed,#15ffe2,#21ffd6,#25ffd2,#1affdd,#00e2f9,#00baff,#00a2ff,#0af,#00baff,#00b3ff,#007fff,#003bff,#0018ff,#0037ff,#007bff,#00aeff,#00a1ff,#0065ff,#0024ff,#0007ff,#000aff,#0017ff,#0018ff,#0010ff,#0012ff,#002eff,#0060ff,#0098ff,#00c7ff,#02e8f4,#19ffde,#30ffc6,#4cffab,#6bff8c,#8cff6a,#aeff49,#caff2d,#daff1c,#dfff18,#dbff1c,#d2ff24,#caff2d,#c9ff2e,#d6ff21,#f1fc06,#ffda00,#ffc200,#ffbc00,#ffc100,#ffc700,#ffc800,#ffc700,#ffc600)"></i><i style="height:2.521px;background:linear-gradient(90deg,#ffc700,#ffc100,#ffbd00,#ffc300,#ffdb00,#f0fd07,#d4ff23,#c4ff33,#c4ff33,#d2ff24,#effe08,#ffda00,#ffc400,#ffcf00,#f9f300,#d8ff1f,#c9ff2d,#ccff2a,#d1ff26,#c7ff30,#abff4b,#86ff70,#61ff95,#41ffb6,#26ffd1,#10fae6,#03eaf3,#04ebf3,#18ffdf,#3cffbb,#61ff96,#78ff7f,#7bff7c,#75ff82,#73ff84,#78ff7f,#7bff7c,#6eff88,#4fffa8,#29ffcd,#0cf5ea,#02e9f4,#07eef0,#12fce4,#1effd9,#23ffd4,#18ffdf,#00dffc,#00b6ff,#009fff,#00a7ff,#00b8ff,#00b1ff,#007cff,#0038ff,#0014ff,#03f,#0079ff,#00acff,#009fff,#0062ff,#0021ff,#0003ff,#0006ff,#0013ff,#0014ff,#000dff,#000fff,#002bff,#005dff,#0096ff,#00c5ff,#01e7f6,#18ffdf,#30ffc7,#4cffab,#6bff8c,#8cff6a,#aeff49,#c9ff2d,#daff1c,#dfff18,#dbff1c,#d2ff25,#caff2d,#c8ff2f,#d5ff22,#f0fd06,#ffda00,#ffc200,#ffbc00,#ffc100,#ffc700,#ffc800,#ffc700,#ffc500)"></i><i style="height:2.521px;background:linear-gradient(90deg,#ffc700,#ffc100,#ffbe00,#ffc300,#ffd900,#f4f903,#d9ff1d,#c8ff2f,#c5ff32,#d0ff27,#ebff0c,#ffde00,#ffc700,#ffcf00,#fbf000,#ddff1a,#cfff28,#d2ff25,#d6ff21,#ccff2b,#b1ff46,#8dff6a,#68ff8e,#49ffae,#30ffc7,#1effd9,#14ffe2,#18ffdf,#2affcd,#4affad,#69ff8d,#7dff7a,#80ff77,#7bff7c,#79ff7e,#7eff79,#80ff77,#75ff81,#5aff9d,#39ffbe,#1fffd8,#16ffe0,#1affdd,#23ffd4,#2cffca,#2fffc8,#24ffd3,#09f1ee,#00cbff,#00b4ff,#00b9ff,#00c5ff,#0bf,#008aff,#004bff,#002aff,#0047ff,#0087ff,#00b6ff,#0af,#0071ff,#0035ff,#001aff,#001dff,#0029ff,#0029ff,#02f,#0024ff,#003fff,#006eff,#00a4ff,#00d0ff,#08f0ef,#1dffd9,#33ffc3,#4dffaa,#6bff8c,#8cff6b,#aeff49,#caff2d,#dbff1c,#dfff18,#dbff1c,#d3ff24,#ccff2b,#ccff2a,#daff1d,#f4f903,#ffd800,#ffc200,#ffbd00,#ffc100,#ffc700,#ffc900,#ffc800,#ffc600)"></i></div></div>
<div class="m" style="left:268.70px;top:196.10px;width:227.60px;height:121.00px;clip-path:path('M172.24 4.00 L176.63 5.35 L182.02 7.42 L187.72 10.01 L192.70 12.84 L197.22 15.85 L201.49 19.00 L205.48 22.26 L209.10 25.61 L212.20 29.02 L214.99 32.49 L217.31 35.98 L219.21 39.48 L220.64 42.99 L221.65 46.49 L222.50 49.99 L223.09 53.49 L223.45 57.00 L223.60 60.50 L223.45 64.00 L223.09 67.51 L222.50 71.01 L221.65 74.51 L220.64 78.01 L219.21 81.52 L217.31 85.02 L214.99 88.51 L212.20 91.98 L209.10 95.39 L205.48 98.74 L201.49 102.00 L197.22 105.15 L192.70 108.16 L187.72 110.99 L182.02 113.58 L176.63 115.65 L172.24 117.00 L55.36 117.00 L50.97 115.65 L45.58 113.58 L39.88 110.99 L34.90 108.16 L30.38 105.15 L26.11 102.00 L22.12 98.74 L18.50 95.39 L15.40 91.98 L12.61 88.51 L10.29 85.02 L8.39 81.52 L6.96 78.01 L5.95 74.51 L5.10 71.01 L4.51 67.51 L4.15 64.00 L4.00 60.50 L4.15 57.00 L4.51 53.49 L5.10 49.99 L5.95 46.49 L6.96 42.99 L8.39 39.48 L10.29 35.98 L12.61 32.49 L15.40 29.02 L18.50 25.61 L22.12 22.26 L26.11 19.00 L30.38 15.85 L34.90 12.84 L39.88 10.01 L45.58 7.42 L50.97 5.35 L55.36 4.00 Z')"><div class="f"><i style="height:2.521px;background:linear-gradient(90deg,#d6ff21,#d7ff20,#d8ff1f,#d7ff20,#d1ff25,#cdff29,#d2ff25,#e7ff10,#ffe700,#ffcb00,#ffc300,#ffc800,#ffca00,#fb0,#ff9b00,#ff7c00,#ff6b00,#ff6b00,#ff6f00,#ff6d00,#f60,#ff6500,#ff7400,#ff9300,#ffb400,#ffc800,#fc0,#ffc800,#ffc200,#ffc100,#ffc200,#ffc500,#ffc800,#ffc700,#ffc200,#ffb900,#ffb800,#fc0,#f1fc05,#b8ff3f,#76ff80,#3affbd,#18ffde,#29ffce,#74ff82,#d6ff21,#ffc500,#ffac00,#ffb900,#ffc700,#ffb700,#ff9400,#ff6f00,#ff5a00,#ff5700,#f60,#ff8200,#ffa400,#ffc000,#ffcd00,#fc0,#ffc600,#ffc000,#ffbe00,#ffc000,#ffc600,#ffca00,#ffc600,#ffb200,#ff9200,#ff7400,#ff6300,#ff6200,#ff6800,#ff6c00,#ff6b00,#ff6a00,#ff6a00,#ff6d00,#ff6c00,#ff6500,#ff5b00,#ff5d00,#ff7c00,#ffb700,#f5f701,#cdff2a,#beff38,#c5ff31,#daff1d,#f6f701,#ffd800,#ffc400,#ffbf00,#ffc200,#ffc700)"></i><i style="height:2.521px;background:linear-gradient(90deg,#d6ff21,#d7ff20,#d8ff1f,#d6ff20,#d1ff26,#cdff2a,#d2ff25,#e7ff10,#ffe700,#ffcb00,#ffc300,#ffc900,#ffcd00,#ffbd00,#ff9e00,#ff7e00,#ff6d00,#ff6a00,#ff6b00,#ff6500,#ff5a00,#f50,#ff6300,#ff8300,#ffa600,#ffbe00,#ffc400,#ffc100,#ffbc00,#fb0,#ffbc00,#ffbe00,#ffc000,#ffc000,#ffbc00,#ffb700,#ffb800,#fc0,#f7f600,#c2ff35,#80ff77,#3dffb9,#13fde4,#1effd9,#6bff8c,#d2ff24,#ffc400,#ffab00,#ffba00,#ffc800,#ffb600,#ff8e00,#ff6300,#ff4800,#ff4200,#ff5000,#ff7100,#f90,#ffba00,#ffca00,#ffc900,#ffc100,#ffb800,#ffb300,#ffb300,#ffb800,#ffbd00,#ffb900,#ffa400,#ff8200,#ff6300,#ff5200,#ff5100,#ff5700,#ff5a00,#ff5900,#ff5700,#ff5600,#ff5700,#ff5600,#ff5000,#ff4900,#ff4f00,#ff7200,#ffb000,#f8f400,#cdff2a,#bcff3b,#c1ff36,#d6ff21,#f2fb05,#ffdb00,#ffc600,#ffc000,#ffc400,#ffc900)"></i><i style="height:2.521px;background:linear-gradient(90deg,#d6ff21,#d7ff20,#d8ff1f,#d7ff20,#d1ff26,#cdff2a,#d2ff25,#e7ff10,#ffe700,#ffcb00,#ffc300,#ffc900,#fc0,#ffbd00,#ff9e00,#ff7e00,#ff6d00,#ff6a00,#ff6c00,#ff6700,#ff5c00,#ff5800,#f60,#ff8600,#ffa900,#ffc000,#ffc600,#ffc200,#ffbd00,#ffbc00,#ffbd00,#ffc000,#ffc200,#ffc100,#ffbd00,#ffb700,#ffb800,#fc0,#f6f701,#c0ff37,#7fff78,#3dffba,#14fee3,#20ffd7,#6dff8a,#d3ff24,#ffc400,#ffab00,#ffba00,#ffc800,#ffb600,#ff8f00,#ff6500,#ff4b00,#ff4600,#ff5400,#ff7400,#ff9b00,#fb0,#ffcb00,#ffca00,#ffc200,#ffba00,#ffb500,#ffb500,#ffba00,#ffbf00,#fb0,#ffa600,#ff8500,#f60,#f50,#ff5400,#ff5a00,#ff5d00,#ff5c00,#ff5a00,#ff5a00,#ff5b00,#ff5a00,#ff5400,#ff4c00,#ff5200,#ff7300,#ffb100,#f8f400,#cdff2a,#bdff3a,#c2ff35,#d6ff20,#f3fa04,#ffdb00,#ffc500,#ffc000,#ffc300,#ffc900)"></i><i style="height:2.521px;background:linear-gradient(90deg,#d6ff21,#d7ff1f,#d8ff1e,#d7ff20,#d2ff25,#cdff29,#d2ff24,#e6ff10,#ffe700,#fc0,#ffc200,#ffc600,#ffc600,#ffb500,#ff9500,#ff7600,#ff6800,#ff6b00,#ff7600,#ff7d00,#ff7f00,#ff8500,#ff9600,#ffb200,#ffcd00,#ffdc00,#ffdc00,#ffd500,#ffce00,#fc0,#ffcd00,#ffd100,#ffd600,#ffd600,#ffcd00,#ffbd00,#ffb800,#ffce00,#e7ff10,#a4ff52,#63ff94,#34ffc3,#23ffd4,#3effb9,#86ff71,#deff19,#ffc600,#ffaf00,#ffb900,#ffc400,#ffb900,#ff9f00,#ff8600,#ff7c00,#ff8100,#ff9000,#ffa500,#fb0,#fc0,#ffd300,#ffd300,#ffd000,#ffcf00,#ffd300,#ffd900,#ffe000,#ffe500,#ffe100,#ffcd00,#ffb000,#ff9400,#ff8600,#ff8500,#ff8a00,#ff8e00,#ff8e00,#ff8f00,#ff9200,#ff9600,#ff9700,#ff8d00,#ff7e00,#ff7900,#ff9000,#ffc400,#effe07,#ccff2b,#c3ff34,#ceff29,#e3ff13,#fdee00,#ffd300,#ffc200,#ffbd00,#ffc000,#ffc400)"></i><i style="height:2.521px;background:linear-gradient(90deg,#d6ff20,#d8ff1f,#d9ff1e,#d7ff20,#d2ff25,#ceff29,#d2ff24,#e6ff11,#ffe800,#fc0,#ffc000,#ffc100,#ffbe00,#fa0,#ff8900,#ff6b00,#ff6200,#ff6f00,#ff8900,#ffa600,#ffc200,#ffdc00,#f8f400,#e7ff10,#dcff1b,#dcff1b,#e6ff10,#f4f802,#ffec00,#ffe800,#ffeb00,#f9f200,#f2fb05,#f2fb05,#ffea00,#ffc900,#ffb600,#ffd200,#ceff29,#76ff80,#37ffc0,#28ffce,#43ffb4,#77ff80,#b7ff40,#f3fa04,#ffc800,#ffb600,#ffb800,#ffc000,#ffc100,#ffbf00,#ffc400,#ffd500,#ffeb00,#f1fd06,#eeff09,#f5f802,#ffec00,#ffe500,#ffe400,#ffea00,#f5f802,#e5ff12,#d6ff20,#ccff2b,#c8ff2e,#cdff2a,#daff1d,#ecff0a,#fdee00,#ffe400,#ffe300,#ffe700,#ffeb00,#feed00,#fbf100,#f4f903,#ebff0c,#e9ff0d,#f7f500,#ffd800,#ffc200,#ffc600,#ffe700,#e0ff16,#ccff2a,#d1ff26,#e4ff12,#fcef00,#ffd800,#ffc700,#ffbd00,#fb0,#ffbc00,#ffbf00)"></i><i style="height:2.521px;background:linear-gradient(90deg,#d6ff21,#d8ff1f,#d9ff1e,#d7ff20,#d2ff25,#ceff29,#d2ff24,#e6ff11,#ffe800,#fc0,#ffc100,#ffc200,#ffc000,#ffac00,#ff8a00,#ff6d00,#f60,#ff7900,#ffa000,#ffd400,#e4ff13,#b9ff3e,#9cff5b,#90ff66,#94ff63,#a4ff53,#bcff3b,#d4ff23,#e5ff12,#ebff0c,#e7ff10,#ddff1a,#d2ff25,#d2ff25,#e8ff0e,#ffd600,#ffb700,#ffd300,#bdff39,#58ff9f,#1effd9,#2fffc8,#70ff87,#b9ff3d,#edff0a,#fd0,#ffc900,#ffbe00,#fb0,#ffc000,#ffcd00,#ffe200,#edff0a,#c9ff2d,#a8ff4e,#98ff5f,#a3ff54,#c0ff37,#dfff17,#f1fc05,#f3fa03,#e7ff10,#d0ff27,#b3ff43,#9bff5c,#8dff6a,#8bff6c,#90ff66,#98ff5e,#a0ff57,#a6ff51,#a9ff4e,#a9ff4e,#a8ff4f,#a7ff50,#a6ff51,#a2ff54,#9aff5d,#91ff66,#90ff67,#a1ff55,#c3ff34,#e3ff14,#effe08,#e5ff12,#d5ff22,#d2ff24,#e5ff12,#ffeb00,#ffd000,#ffc300,#ffbf00,#ffbf00,#ffc000,#ffc000,#ffbf00)"></i><i style="height:2.521px;background:linear-gradient(90deg,#d5ff22,#d7ff20,#d8ff1f,#d6ff21,#d1ff26,#cdff2a,#d2ff25,#e7ff10,#ffe600,#ffcb00,#ffc600,#ffd100,#ffd700,#ffc900,#ffa800,#f80,#ff7c00,#ff8b00,#ffb300,#f9f300,#b6ff40,#79ff7d,#53ffa4,#49ffad,#57ffa0,#75ff82,#9cff5b,#c1ff36,#d9ff1e,#e0ff17,#daff1d,#ceff29,#c2ff35,#c3ff34,#dcff1b,#ffe000,#fb0,#ffd000,#c8ff2f,#6cff8b,#3effb9,#5dff9a,#a7ff4f,#f0fd06,#ffd000,#ffc300,#ffc300,#ffc400,#ffc600,#ffce00,#ffdf00,#f3fa04,#d2ff25,#aaff4c,#87ff70,#76ff80,#83ff74,#a4ff53,#c7ff30,#deff19,#e2ff15,#d5ff21,#b9ff3e,#94ff62,#76ff81,#69ff8e,#6bff8c,#71ff86,#72ff85,#6cff8b,#64ff93,#5eff98,#5dff99,#60ff97,#64ff93,#69ff8d,#6dff8a,#6cff8a,#6bff8c,#6fff88,#80ff77,#9eff59,#bcff3a,#cfff28,#d4ff23,#d6ff21,#e3ff14,#fdee00,#ffce00,#fb0,#fb0,#ffc700,#ffd100,#ffd400,#ffd200,#ffcf00)"></i><i style="height:2.521px;background:linear-gradient(90deg,#d4ff23,#d5ff22,#d6ff21,#d5ff22,#cfff28,#cbff2b,#d2ff25,#e9ff0e,#ffe200,#ffc900,#ffce00,#ffe800,#effe07,#f3f903,#ffdc00,#ffb800,#ff9f00,#ff9f00,#ffbc00,#f0fd06,#a3ff53,#59ff9e,#29ffcd,#1dffda,#2effc8,#56ffa0,#8bff6c,#bcff3b,#dbff1b,#e3ff14,#dcff1b,#ceff28,#c4ff32,#c6ff31,#dcff1b,#ffe700,#ffc300,#ffc800,#eeff09,#b3ff44,#96ff61,#acff4a,#e0ff17,#ffd600,#ffb900,#ffb300,#fb0,#ffc900,#ffd800,#ffe800,#f6f701,#e7ff0f,#d4ff23,#bbff3c,#a2ff55,#94ff63,#97ff60,#a8ff4f,#beff39,#d0ff27,#d7ff1f,#d0ff27,#b4ff42,#8fff68,#70ff87,#66ff91,#6cff8b,#73ff84,#6cff8b,#58ff9f,#41ffb6,#33ffc4,#31ffc6,#37ffc0,#43ffb4,#53ffa4,#63ff94,#72ff85,#80ff77,#8dff6a,#9bff5c,#aaff4d,#b9ff3e,#c8ff2f,#d6ff21,#e6ff10,#fcef00,#ffd200,#ffba00,#ffb500,#ffc500,#fd0,#fbf000,#f7f500,#faf200,#feed00)"></i><i style="height:2.521px;background:linear-gradient(90deg,#d4ff23,#d6ff21,#d7ff20,#d5ff22,#cfff28,#cbff2c,#d1ff25,#eaff0c,#ffdf00,#ffc800,#ffd300,#f5f701,#d9ff1e,#d6ff20,#eeff09,#ffd800,#ffb600,#ffa700,#ffb800,#f6f701,#a3ff54,#4fffa8,#16ffe0,#06edf1,#18ffdf,#45ffb2,#82ff75,#bcff3b,#e0ff16,#e9ff0e,#e0ff17,#d3ff24,#cbff2c,#cdff2a,#deff19,#fbf100,#ffd000,#ffc300,#ffd000,#ffe700,#f7f500,#fdef00,#ffdc00,#ffc600,#ffb800,#ffb400,#ffbd00,#ffd400,#fbf100,#e6ff10,#ddff1a,#dbff1c,#daff1d,#d5ff22,#ccff2b,#c4ff33,#c0ff37,#c1ff36,#c7ff30,#d1ff26,#d9ff1e,#d4ff23,#bcff3b,#98ff5f,#7aff7d,#71ff85,#78ff7e,#7eff79,#71ff86,#54ffa3,#35ffc2,#21ffd6,#1dffda,#25ffd1,#37ffc0,#4effa9,#69ff8d,#88ff6f,#a5ff52,#bcff3a,#c8ff2f,#c9ff2e,#c9ff2e,#d1ff26,#e6ff11,#ffeb00,#ffcf00,#fb0,#ffb500,#ffc000,#ffdb00,#f3fa04,#dfff18,#daff1d,#ddff19,#e2ff14)"></i><i style="height:2.521px;background:linear-gradient(90deg,#d8ff1f,#daff1d,#dbff1b,#d9ff1d,#d2ff24,#ccff2a,#d2ff25,#e9ff0d,#ffe000,#ffc700,#ffce00,#ffec00,#e6ff10,#e5ff11,#fcef00,#ffc800,#ffa400,#ff9300,#ffa300,#ffe500,#abff4c,#4fffa8,#11fae6,#00e2f9,#0ef7e8,#3cffba,#7bff7c,#b6ff41,#dbff1b,#e4ff13,#dbff1b,#cfff28,#c7ff30,#c8ff2f,#d5ff22,#ecff0a,#ffe200,#ffc600,#ffb600,#ffb000,#ffb200,#ffba00,#ffc400,#ffc900,#ffc900,#ffc900,#ffd400,#fdee00,#e1ff16,#caff2d,#c1ff35,#c4ff33,#cbff2c,#d1ff26,#d6ff21,#daff1c,#deff19,#e1ff16,#e5ff12,#eaff0d,#eaff0c,#e0ff16,#c6ff31,#a3ff54,#85ff72,#78ff7f,#78ff7e,#78ff7f,#6aff8d,#50ffa7,#34ffc3,#21ffd6,#1cffdb,#22ffd5,#30ffc7,#46ffb0,#64ff93,#88ff6f,#aeff48,#ceff29,#dcff1b,#dcff1b,#d9ff1e,#e3ff13,#fdee00,#fc0,#ffb600,#ffb400,#ffc100,#ffda00,#f5f802,#ddff1a,#cdff29,#c9ff2d,#ccff2b,#d0ff27)"></i><i style="height:2.521px;background:linear-gradient(90deg,#deff19,#e0ff17,#e1ff16,#dfff18,#d7ff20,#d0ff27,#d2ff25,#e6ff10,#ffe500,#ffc800,#ffc000,#ffc900,#ffd000,#ffc600,#fa0,#ff8700,#ff6c00,#ff6400,#ff8000,#ffce00,#b5ff42,#52ffa5,#11fae6,#00e2f9,#0ef7e8,#39ffbe,#70ff87,#a4ff53,#c5ff32,#cdff29,#c6ff30,#baff3d,#b1ff45,#b0ff46,#bcff3b,#d4ff23,#f3fa04,#ffd800,#ffbd00,#ffad00,#fa0,#ffb400,#ffc500,#ffd500,#ffe000,#ffeb00,#f2fb04,#ddff1a,#c4ff32,#afff47,#a3ff53,#a0ff57,#a4ff53,#adff4a,#bbff3c,#cfff28,#e7ff10,#feee00,#ffdc00,#ffd900,#ffe600,#edff0a,#ccff2b,#a8ff4f,#88ff6f,#72ff85,#66ff91,#5cff9a,#51ffa6,#42ffb5,#34ffc3,#2affcd,#24ffd3,#24ffd3,#2affcd,#36ffc1,#4affac,#69ff8d,#8fff68,#b2ff45,#c9ff2e,#d4ff22,#deff18,#f3fa04,#ffd700,#ffb700,#ffac00,#ffbd00,#fd0,#f1fd06,#ddff1a,#d0ff26,#caff2d,#c9ff2e,#caff2d,#cbff2c)"></i><i style="height:2.521px;background:linear-gradient(90deg,#dcff1a,#deff19,#dfff17,#ddff19,#d7ff20,#d1ff26,#d3ff24,#e4ff13,#ffec00,#fc0,#ffb400,#ffa400,#ff9300,#ff7a00,#ff5a00,#ff3d00,#ff2b00,#ff3100,#ff5b00,#ffb700,#bfff38,#54ffa2,#12fbe5,#01e7f6,#13fde3,#38ffbf,#61ff96,#86ff71,#9dff5a,#a3ff54,#9fff58,#95ff62,#8dff6a,#8bff6b,#97ff60,#b1ff46,#d2ff24,#f3fa04,#ffdc00,#ffc700,#ffbc00,#ffbd00,#ffc600,#ffd500,#ffe800,#effe08,#d8ff1f,#bfff38,#a6ff51,#90ff66,#83ff74,#7dff7a,#81ff76,#8fff68,#a6ff50,#c6ff31,#ecff0b,#ffd900,#ffc100,#ffc400,#ffde00,#ebff0c,#c8ff2f,#a6ff51,#86ff70,#69ff8e,#4fffa8,#3cffbb,#32ffc5,#2fffc8,#2fffc8,#2fffc8,#2cffcb,#29ffce,#26ffd1,#26ffd1,#2effc9,#42ffb5,#60ff97,#82ff75,#a0ff57,#b9ff3e,#d2ff25,#f0fd06,#ffd600,#ffba00,#ffb800,#ffd300,#f3fa04,#d8ff1f,#ceff29,#ceff29,#d1ff26,#d2ff25,#d1ff26,#d0ff27)"></i><i style="height:2.521px;background:linear-gradient(90deg,#ccff2b,#ccff2a,#cdff2a,#ccff2a,#ccff2b,#cdff2a,#d3ff23,#e3ff14,#f9f300,#ffd500,#ffb500,#ff9500,#ff7400,#ff5000,#ff2e00,#ff1300,#ed0400,#f80d00,#ff3e00,#ffa400,#c4ff32,#52ffa4,#0ff8e8,#04eaf3,#19ffde,#36ffc1,#4cffab,#5cff9b,#63ff93,#65ff92,#62ff94,#5eff98,#5cff9b,#5fff98,#6cff8b,#83ff73,#a3ff54,#c6ff31,#e8ff0e,#ffe200,#ffc500,#ffb300,#ffad00,#ffb400,#ffc900,#ffea00,#dbff1c,#afff48,#86ff71,#68ff8e,#5fff98,#67ff90,#7eff79,#9fff58,#c4ff33,#e6ff10,#ffeb00,#ffda00,#ffda00,#ffea00,#e8ff0f,#ccff2b,#b3ff44,#9cff5b,#83ff74,#65ff92,#44ffb3,#29ffce,#1affdc,#18ffdf,#1dffda,#24ffd3,#2affcd,#2cffcb,#28ffce,#22ffd4,#20ffd6,#29ffce,#3dffb9,#59ff9e,#75ff82,#91ff66,#aeff49,#ceff28,#effe08,#ffe300,#ffdf00,#faf100,#e3ff14,#d2ff25,#d0ff27,#d6ff21,#dcff1b,#deff19,#ddff1a,#dbff1c)"></i><i style="height:2.521px;background:linear-gradient(90deg,#aeff49,#acff4b,#aaff4d,#acff4a,#b5ff42,#c2ff34,#d3ff24,#e4ff13,#f7f600,#fd0,#ffbf00,#ff9c00,#f70,#ff5200,#ff2f00,#fe1200,#e40000,#e40000,#ff2800,#ff9200,#caff2d,#4fffa8,#0af2ed,#04ebf3,#1dffda,#32ffc5,#34ffc3,#2bffcb,#22ffd5,#1dffda,#1cffdb,#20ffd6,#29ffce,#34ffc2,#43ffb4,#55ffa2,#6fff88,#95ff62,#c8ff2e,#ffeb00,#ffb300,#ff8b00,#ff7600,#ff7400,#f80,#ffb200,#f9f300,#b0ff47,#6aff8d,#3effb9,#3fffb8,#63ff93,#9dff5a,#dcff1b,#ffd700,#ffb800,#ffc400,#fdef00,#d2ff25,#b3ff44,#a2ff55,#9aff5d,#95ff62,#8eff69,#80ff77,#68ff8f,#48ffaf,#29ffce,#10fae6,#03e9f4,#01e6f6,#0af2ec,#1bffdc,#2affcc,#2fffc8,#2affcd,#24ffd3,#25ffd2,#30ffc7,#40ffb7,#52ffa5,#63ff93,#77ff7f,#90ff67,#acff4b,#c5ff31,#d6ff21,#dcff1b,#dcff1b,#dbff1b,#deff19,#e2ff15,#e5ff12,#e5ff11,#e5ff12,#e4ff13)"></i><i style="height:2.521px;background:linear-gradient(90deg,#8cff6b,#87ff6f,#84ff72,#89ff6e,#9aff5d,#b4ff42,#d1ff26,#e8ff0f,#fcf000,#ffda00,#ffbf00,#ffa000,#ff8000,#ff6000,#ff4100,#ff2100,#e80000,#d20000,#f60b00,#ff7400,#dbff1b,#54ffa2,#0af2ed,#05ecf1,#1fffd8,#2cffcb,#1dffda,#02e7f5,#00cbff,#00bfff,#00c3ff,#00d3ff,#05ecf2,#1affdc,#2cffca,#3bffbb,#52ffa4,#7eff78,#c3ff34,#ffd700,#f80,#ff5100,#ff3500,#f30,#ff4a00,#ff7d00,#ffd000,#b7ff40,#5cff9b,#27ffd0,#31ffc5,#6dff8a,#c2ff35,#ffd100,#ff8900,#ff7600,#fa0,#e6ff11,#97ff60,#6eff89,#6aff8d,#77ff80,#82ff74,#86ff71,#7fff78,#6dff8a,#52ffa5,#31ffc6,#10f9e7,#00d7ff,#00c7ff,#00d1ff,#09f1ee,#24ffd3,#33ffc4,#32ffc5,#2bffcb,#28ffcf,#2bffcc,#31ffc6,#35ffc2,#38ffbf,#3effb9,#4cffab,#63ff93,#80ff76,#9fff58,#bbff3c,#d2ff25,#e0ff17,#e4ff13,#e3ff14,#e0ff17,#dfff17,#e0ff17,#e1ff16)"></i><i style="height:2.521px;background:linear-gradient(90deg,#71ff86,#6bff8b,#68ff8f,#6dff89,#83ff74,#a5ff52,#caff2c,#edff09,#ffde00,#ffbe00,#ffa100,#ff8600,#ff6e00,#ff5b00,#ff4600,#ff2800,#e10000,#ae0000,#b70000,#ff3b00,#ffe800,#6cff8a,#16ffe1,#0af2ec,#1fffd8,#26ffd1,#0ef7e9,#00cbff,#00a9ff,#00a0ff,#00abff,#00c5ff,#02e8f5,#1fffd8,#38ffbf,#4cffaa,#6aff8d,#9eff59,#edff0a,#ff9c00,#ff4700,#ff1300,#e80000,#f60c00,#f30,#ff7400,#ffce00,#bbff3c,#65ff91,#37ffc0,#45ffb2,#80ff77,#d1ff26,#ffc600,#ff8600,#ff7c00,#ffb800,#d6ff21,#88ff6f,#68ff8e,#70ff87,#85ff71,#91ff65,#8eff68,#81ff75,#6eff89,#56ffa1,#38ffbf,#15ffe2,#00d5ff,#00bcff,#00c1ff,#00e0fc,#18ffde,#2affcc,#2dffca,#29ffce,#25ffd2,#24ffd3,#23ffd4,#1effd9,#16ffe1,#13fde4,#1bffdc,#31ffc6,#51ffa5,#76ff80,#9bff5c,#b9ff3e,#cbff2c,#cfff28,#caff2c,#c5ff31,#c4ff33,#c5ff32,#c6ff30)"></i><i style="height:2.521px;background:linear-gradient(90deg,#5cff9b,#57ffa0,#54ffa3,#59ff9e,#6dff8a,#8fff68,#baff3d,#e9ff0e,#ffcf00,#ff9e00,#ff7800,#ff5c00,#ff4d00,#ff4700,#ff4200,#ff2b00,#da0000,#8d0000,#800000,#ec0400,#ffb700,#8aff6d,#24ffd3,#0cf4eb,#17ffe0,#1affdd,#03eaf3,#00c4ff,#00acff,#00aeff,#00c3ff,#00e4f8,#1dffda,#3dffb9,#5eff99,#80ff77,#abff4c,#e8ff0f,#ffab00,#ff4e00,#f10800,#c90000,#ce0000,#fd1100,#ff5200,#ffa400,#f3fa04,#afff48,#7cff7b,#64ff93,#6eff89,#91ff66,#c0ff37,#eeff09,#ffda00,#ffd200,#faf200,#ccff2a,#a8ff4f,#a3ff54,#b4ff42,#c5ff32,#c0ff37,#a7ff50,#86ff70,#6aff8d,#52ffa5,#39ffbe,#1bffdc,#00dffc,#00c4ff,#00c1ff,#00d4ff,#07eef0,#14ffe3,#18ffdf,#15ffe1,#13fde3,#12fce4,#10f9e7,#08efef,#00e2fa,#00dcff,#01e7f6,#1affdd,#3cffbb,#5dff9a,#78ff7e,#8cff6b,#97ff60,#99ff5e,#96ff61,#93ff64,#92ff65,#92ff64,#93ff64)"></i><i style="height:2.521px;background:linear-gradient(90deg,#40ffb7,#3cffbb,#3affbd,#3effb9,#4dffaa,#6aff8d,#92ff64,#c7ff30,#ffeb00,#ffac00,#ff7c00,#ff5d00,#ff4f00,#ff5400,#ff5c00,#ff5000,#ff1c00,#b80000,#9b0000,#fd1200,#ffbd00,#86ff71,#1affdd,#00daff,#00ddfe,#00e0fb,#00d1ff,#00c0ff,#00bdff,#00cfff,#07eef0,#22ffd4,#3effb9,#5bff9b,#80ff77,#adff49,#e4ff12,#ffc000,#ff7000,#ff2800,#df0000,#d30000,#f40a00,#ff4700,#ffa000,#eeff09,#abff4c,#88ff6f,#7eff79,#81ff75,#88ff6f,#8fff67,#97ff5f,#9fff57,#a7ff50,#adff49,#b2ff44,#baff3c,#caff2c,#e6ff11,#ffe900,#ffdf00,#f3fa04,#c1ff36,#8bff6c,#62ff94,#49ffae,#35ffc2,#1cffdb,#00e6f7,#00caff,#00bfff,#00c4ff,#00cfff,#00d7ff,#00d8ff,#00d8ff,#00d7ff,#00d8ff,#00d6ff,#00cfff,#00c6ff,#00c3ff,#00d2ff,#0bf3ec,#2affcd,#42ffb5,#4dffa9,#50ffa6,#50ffa7,#50ffa7,#50ffa7,#50ffa7,#50ffa7,#50ffa7,#50ffa7)"></i><i style="height:2.521px;background:linear-gradient(90deg,#0ef7e8,#0cf5eb,#0bf3ec,#0df6ea,#17ffe0,#2affcd,#48ffaf,#71ff85,#a3ff53,#d6ff20,#ffe700,#ffc000,#ffab00,#ffad00,#fb0,#ffbc00,#ff9e00,#ff7100,#ff6500,#ffa900,#c0ff37,#3bffbc,#0bf,#008eff,#008bff,#0095ff,#009eff,#00abff,#00c3ff,#00e6f6,#1fffd8,#38ffbf,#4bffac,#60ff97,#7fff78,#adff4a,#e4ff13,#ffca00,#ff8e00,#ff6100,#ff4800,#ff4b00,#ff6d00,#ffb100,#ddff1a,#85ff72,#49ffae,#3bffbc,#4cffab,#63ff94,#6dff89,#6bff8c,#61ff96,#55ffa2,#4dffaa,#52ffa5,#6aff8d,#91ff65,#c3ff34,#f8f500,#ffc500,#ffb700,#ffdb00,#cfff28,#8bff6c,#5bff9c,#40ffb7,#2cffca,#14fee3,#00d9ff,#00b9ff,#00a7ff,#00a3ff,#00a5ff,#00a7ff,#00a5ff,#00a2ff,#00a2ff,#00a4ff,#00a5ff,#00a4ff,#00a1ff,#00a5ff,#00b5ff,#00d2ff,#07eef0,#14fee3,#13fde4,#0bf3ec,#04eaf3,#02e8f5,#04eaf3,#05ecf1,#06edf1,#06ecf1,#05ecf2)"></i><i style="height:2.521px;background:linear-gradient(90deg,#00a3ff,#00a2ff,#00a1ff,#00a2ff,#00a8ff,#00b3ff,#00c3ff,#00dbff,#11fbe5,#32ffc4,#5bff9c,#85ff72,#a3ff54,#adff4a,#a5ff52,#99ff5e,#96ff61,#97ff60,#89ff6d,#5bff9c,#0ff8e8,#0096ff,#004eff,#002dff,#002bff,#003fff,#0062ff,#008eff,#00beff,#06edf1,#25ffd2,#38ffbe,#40ffb6,#48ffaf,#5cff9b,#80ff77,#acff4b,#d3ff23,#f0fd07,#ffe900,#ffdf00,#ffe100,#f4f803,#c4ff33,#75ff81,#23ffd4,#00cbff,#00bfff,#00daff,#14ffe2,#27ffd0,#2cffcb,#27ffd0,#1bffdb,#12fce5,#15ffe1,#2effc9,#5aff9d,#93ff63,#d4ff23,#ffe000,#ffc600,#ffe600,#c5ff32,#7fff78,#4effa9,#33ffc4,#1dffda,#00e5f7,#00b7ff,#008eff,#0076ff,#0071ff,#0074ff,#0075ff,#0070ff,#006aff,#0067ff,#0069ff,#006cff,#0070ff,#0075ff,#007cff,#0089ff,#009aff,#00a8ff,#00adff,#00a7ff,#009bff,#0092ff,#0090ff,#0091ff,#0093ff,#0094ff,#0093ff,#0093ff)"></i><i style="height:2.521px;background:linear-gradient(90deg,#0052ff,#0052ff,#0051ff,#0052ff,#0054ff,#0056ff,#0057ff,#05f,#0057ff,#0067ff,#008dff,#00c3ff,#0cf4eb,#22ffd5,#23ffd3,#15ffe2,#00defd,#00b5ff,#008bff,#0065ff,#0047ff,#002eff,#0019ff,#000aff,#000aff,#0021ff,#004fff,#0089ff,#00c1ff,#09f1ee,#23ffd4,#2fffc8,#2dffc9,#2cffcb,#36ffc0,#52ffa5,#73ff84,#8cff6b,#95ff62,#95ff62,#97ff60,#9cff5b,#98ff5f,#7bff7b,#40ffb7,#00dffc,#009fff,#008eff,#009dff,#00b8ff,#00cdff,#00d7ff,#00d6ff,#00cdff,#00c6ff,#00cdff,#07eef0,#34ffc3,#6eff89,#adff4a,#e0ff16,#f5f802,#daff1d,#9cff5a,#5aff9d,#2dffca,#14fee3,#00e5f7,#00bdff,#08f,#0059ff,#0040ff,#003dff,#04f,#0048ff,#0045ff,#0040ff,#003cff,#003cff,#003fff,#0043ff,#0048ff,#004dff,#0052ff,#0056ff,#0059ff,#0059ff,#05f,#0050ff,#004cff,#004bff,#004bff,#004cff,#004cff,#004cff,#004cff)"></i><i style="height:2.521px;background:linear-gradient(90deg,#001fff,#001eff,#001dff,#001eff,#02f,#0027ff,#0027ff,#001fff,#0017ff,#001aff,#0032ff,#005bff,#08f,#00abff,#0bf,#00b5ff,#0093ff,#0061ff,#0037ff,#002eff,#04f,#0064ff,#0076ff,#0076ff,#0073ff,#007eff,#009aff,#00bfff,#00e4f8,#15ffe2,#23ffd3,#27ffd0,#23ffd4,#22ffd5,#30ffc7,#50ffa7,#73ff84,#88ff6e,#8aff6d,#82ff74,#82ff75,#8eff68,#9aff5d,#93ff64,#6eff89,#3dffba,#14fee3,#02e8f5,#00e5f7,#00e5f7,#00d9ff,#00c5ff,#00adff,#0097ff,#0091ff,#00a7ff,#00e3f9,#42ffb5,#85ff72,#b6ff41,#ccff2b,#c1ff36,#93ff64,#50ffa7,#10f9e7,#00caff,#00b5ff,#00a5ff,#0086ff,#0058ff,#002dff,#0016ff,#0014ff,#001eff,#0028ff,#002fff,#0032ff,#0034ff,#03f,#0031ff,#002bff,#0023ff,#001cff,#0016ff,#0013ff,#0014ff,#0016ff,#001bff,#001fff,#0023ff,#0024ff,#0025ff,#0025ff,#0025ff,#0025ff,#0025ff)"></i><i style="height:2.521px;background:linear-gradient(90deg,#0012ff,#0010ff,#000eff,#01f,#001cff,#002dff,#003dff,#0047ff,#004cff,#0052ff,#005dff,#006eff,#0087ff,#00a7ff,#00c5ff,#00d6ff,#00ceff,#00b6ff,#00a9ff,#00c0ff,#0ef7e8,#40ffb7,#5fff98,#66ff91,#5eff99,#52ffa5,#48ffae,#40ffb6,#39ffbe,#31ffc6,#2affcd,#25ffd1,#25ffd1,#31ffc6,#4effa9,#7dff7a,#adff4a,#ccff2b,#d3ff24,#cfff28,#d1ff25,#e4ff13,#faf200,#ffe800,#f5f802,#daff1d,#c0ff37,#b1ff46,#a1ff55,#83ff74,#4cffab,#08efef,#00a0ff,#006bff,#0060ff,#008eff,#12fce4,#81ff76,#daff1d,#f7f600,#daff1d,#98ff5f,#46ffb1,#00d7ff,#08f,#0061ff,#0059ff,#005aff,#004eff,#0034ff,#0018ff,#0006ff,#0002ff,#000aff,#001cff,#03f,#0049ff,#0056ff,#0057ff,#004dff,#0037ff,#001aff,#00f,#0000fa,#0000f6,#0000fc,#00f,#0005ff,#0010ff,#0018ff,#001cff,#001eff,#001fff,#001fff,#001fff,#001eff)"></i><i style="height:2.521px;background:linear-gradient(90deg,#0023ff,#001eff,#0019ff,#0020ff,#0037ff,#005bff,#0083ff,#00a6ff,#00c1ff,#00d0ff,#00d4ff,#00d3ff,#00d8ff,#07eef0,#24ffd3,#41ffb6,#54ffa3,#61ff96,#73ff83,#9aff5d,#d0ff27,#ffe400,#ffbc00,#ffb100,#ffbd00,#ffdb00,#e9ff0e,#bdff3a,#8cff6b,#5cff9a,#37ffc0,#26ffd1,#2dffca,#49ffae,#78ff7f,#b3ff44,#ecff0b,#ffd200,#fb0,#ffb000,#ffa100,#ff8400,#ff6500,#ff5000,#ff4f00,#ff5900,#ff6400,#ff6b00,#ff8200,#ffc000,#c1ff36,#46ffb1,#00b2ff,#005dff,#004fff,#0095ff,#3cffbb,#d0ff27,#ffa700,#ff9a00,#ffec00,#8eff69,#1cffda,#0093ff,#0042ff,#001eff,#001eff,#002cff,#03f,#002eff,#02f,#0016ff,#000fff,#0015ff,#002eff,#0057ff,#0080ff,#009cff,#00a4ff,#0097ff,#0075ff,#0047ff,#001aff,#00f,#00f,#0004ff,#0010ff,#001aff,#0021ff,#0025ff,#0028ff,#002aff,#002bff,#002bff,#002bff,#002bff)"></i><i style="height:2.521px;background:linear-gradient(90deg,#0048ff,#003fff,#0038ff,#0042ff,#0068ff,#00a1ff,#00e0fb,#27ffcf,#47ffb0,#5aff9d,#60ff97,#5eff98,#5eff98,#69ff8e,#7fff78,#9cff5b,#bcff3b,#deff19,#ffe600,#ffb300,#ff7c00,#ff4b00,#ff2b00,#ff1e00,#ff2400,#ff3b00,#ff6400,#ffa300,#f2fb05,#97ff5f,#49ffad,#23ffd3,#30ffc7,#5dff9a,#95ff62,#caff2d,#f9f300,#ffc300,#f90,#ff7300,#ff4e00,#ff2800,#f20800,#d90000,#d20000,#d40000,#cf0000,#c30000,#d00000,#ff2f00,#ffbf00,#8aff6d,#00e5f8,#0084ff,#007cff,#00ceff,#72ff84,#ffdf00,#ff6400,#ff5c00,#ffb700,#b6ff41,#3fffb7,#0bf,#0065ff,#003cff,#0037ff,#04f,#0051ff,#0058ff,#0057ff,#004eff,#0045ff,#0049ff,#0067ff,#009bff,#00d4ff,#15ffe1,#26ffd1,#22ffd5,#0af2ec,#00c3ff,#0093ff,#0074ff,#006bff,#006dff,#006bff,#0060ff,#0051ff,#04f,#003dff,#003bff,#003bff,#003bff,#003bff,#003bff)"></i><i style="height:2.521px;background:linear-gradient(90deg,#0083ff,#0076ff,#006dff,#007bff,#00adff,#0ff8e8,#4effa9,#7eff79,#9eff59,#b2ff45,#c1ff35,#cdff29,#d6ff21,#dcff1a,#e4ff13,#f2fb04,#ffdb00,#ffae00,#ff7d00,#ff5300,#ff3200,#ff1900,#f00700,#e00000,#d50000,#ce0000,#d60000,#ff1c00,#ff8200,#d9ff1e,#5eff99,#1effd9,#2dffca,#64ff93,#9aff5d,#b8ff3f,#ccff2a,#ebff0b,#ffc700,#ff8100,#ff4000,#fc1000,#d80000,#ca0000,#ce0000,#d10000,#c20000,#9b0000,#8a0000,#c70000,#ff7400,#c5ff32,#38ffbe,#00d7ff,#00e0fb,#3fffb7,#afff48,#ffbe00,#ff5c00,#ff4b00,#ff8400,#ffe500,#a7ff4f,#50ffa6,#0bf3ec,#00beff,#00a8ff,#00a6ff,#00acff,#00b3ff,#00b5ff,#00afff,#00a6ff,#00a9ff,#00c7ff,#13fde4,#45ffb1,#71ff86,#8dff6a,#97ff5f,#8fff68,#76ff81,#59ff9e,#42ffb4,#35ffc1,#28ffce,#11fbe5,#00cfff,#009fff,#0078ff,#0062ff,#0058ff,#0054ff,#0054ff,#0054ff,#05f)"></i><i style="height:2.521px;background:linear-gradient(90deg,#00defd,#00d0ff,#00c6ff,#00d5ff,#1fffd8,#60ff96,#a1ff55,#ceff29,#e8ff0f,#fbf100,#ffd700,#ffb900,#ffa200,#ff9b00,#ffa000,#ff9f00,#ff8b00,#ff6400,#ff3c00,#f20,#ff1900,#ff1700,#ff1300,#ed0500,#cf0000,#a30000,#800000,#910000,#ff2100,#ffd800,#71ff86,#19ffdd,#25ffd2,#5fff98,#8dff6a,#92ff65,#8cff6b,#a0ff57,#e0ff17,#ffaf00,#ff5800,#ff2100,#f20800,#f00600,#fe1200,#ff1800,#f00600,#b30000,#860000,#a00,#ff5000,#edff09,#6eff88,#41ffb5,#5cff9b,#9fff57,#eeff08,#ffac00,#ff6e00,#f50,#ff6000,#ff8900,#ffc800,#deff19,#a0ff57,#70ff87,#51ffa5,#41ffb6,#3cffba,#3effb8,#41ffb6,#3effb9,#38ffbf,#3affbd,#4dffaa,#71ff86,#9cff5b,#c5ff32,#e5ff12,#faf200,#ffe900,#fdef00,#f0fd07,#e2ff15,#d1ff26,#b8ff3f,#90ff67,#58ff9e,#1effd9,#00cfff,#00a9ff,#0095ff,#008dff,#008bff,#008cff,#008eff)"></i><i style="height:2.521px;background:linear-gradient(90deg,#66ff90,#5dff9a,#56ffa0,#60ff97,#85ff71,#bcff3b,#f1fc05,#ffd300,#ffbd00,#ffab00,#ff9200,#ff7300,#ff5900,#ff4e00,#ff4e00,#ff4c00,#ff3d00,#f20,#f30900,#e70000,#ee0500,#f90e00,#fa0f00,#e70000,#c00000,#850000,#800000,#800000,#da0000,#ffb800,#7dff79,#18ffde,#1affdd,#4dffaa,#72ff85,#6dff8a,#5fff98,#71ff85,#b7ff3f,#ffd300,#ff7400,#ff3c00,#ff2700,#ff2800,#ff3200,#ff3400,#ff1d00,#ca0000,#960000,#b30000,#ff4f00,#faf200,#8eff69,#7cff7b,#aeff49,#f6f701,#ffb900,#ff9400,#ff7d00,#ff6800,#ff5900,#ff5800,#ff6d00,#ff9300,#ffc200,#fbf000,#d9ff1d,#c2ff35,#b8ff3f,#b8ff3f,#bcff3a,#bdff3a,#bbff3c,#bbff3c,#c3ff34,#d4ff23,#e9ff0d,#ffec00,#ffd600,#ffc200,#ffb000,#ffa300,#ff9c00,#ff9e00,#ffac00,#ffc800,#f7f500,#c3ff34,#8bff6b,#5aff9d,#36ffc1,#1effd9,#11fbe5,#0ef7e9,#10fae6,#13fde3)"></i><i style="height:2.521px;background:linear-gradient(90deg,#e5ff12,#e0ff17,#dcff1b,#e2ff15,#f7f600,#ffd200,#ffad00,#ff9400,#ff8400,#ff7800,#ff6b00,#ff5b00,#ff4900,#ff3700,#ff2400,#fd1100,#e70000,#d50000,#ca0000,#cb0000,#d60000,#de0000,#da0000,#c50000,#a00000,#800000,#800000,#800000,#e70000,#fb0,#81ff76,#1affdd,#0ff8e8,#33ffc4,#52ffa5,#54ffa3,#52ffa4,#6dff8a,#b2ff45,#ffe100,#ff8a00,#ff5900,#f40,#ff3f00,#ff3d00,#f30,#ff1700,#c90000,#a50000,#cf0000,#ff6700,#edff0a,#92ff64,#99ff5e,#e3ff14,#ffae00,#ff7c00,#ff7400,#ff7b00,#f70,#ff6900,#ff5900,#ff5000,#ff5100,#ff5c00,#ff7300,#ff9000,#ffa800,#ffb300,#ffb100,#ffa900,#ffa200,#ffa000,#ffa300,#fa0,#ffb600,#ffc300,#ffcf00,#ffd600,#ffd400,#ffc700,#ffaf00,#ff9600,#ff8700,#ff8600,#ff9100,#ffa800,#ffc700,#ffec00,#dcff1b,#b9ff3e,#9bff5b,#89ff6d,#85ff72,#88ff6f,#8cff6b)"></i><i style="height:2.521px;background:linear-gradient(90deg,#ff9300,#ff9400,#ff9500,#ff9400,#ff8e00,#ff8500,#ff7b00,#ff7200,#ff6b00,#ff6700,#ff6800,#ff6900,#ff6200,#ff4b00,#ff2a00,#f40a00,#dc0000,#d50000,#da0000,#e20000,#e90100,#e90100,#dc0000,#c30000,#a30000,#820000,#800000,#9c0000,#ff2b00,#ffd600,#7aff7c,#18ffdf,#03e9f4,#1affdd,#38ffbf,#48ffaf,#59ff9e,#7cff7a,#b9ff3e,#feed00,#fa0,#ff8100,#ff6b00,#ff5c00,#ff4a00,#ff3200,#fc1000,#cb0000,#b80000,#f20800,#f80,#d5ff22,#86ff71,#9fff58,#fbf100,#ff8400,#ff5400,#ff5800,#ff7100,#ff8000,#ff7e00,#ff6f00,#ff5600,#ff3a00,#ff2700,#ff2300,#ff2d00,#ff3a00,#ff4100,#ff4100,#ff3a00,#ff3000,#ff2900,#ff2d00,#ff4600,#ff7200,#ffa500,#ffd300,#f8f500,#eaff0d,#efff08,#ffe500,#ffc300,#ffa400,#ff8e00,#ff8100,#ff7a00,#ff7a00,#ff8400,#ff9a00,#fb0,#fd0,#f8f400,#f3fa04,#f6f601,#fbf000)"></i><i style="height:2.521px;background:linear-gradient(90deg,#ff6400,#ff6300,#ff6300,#ff6400,#ff6700,#ff6d00,#ff7300,#ff7900,#ff8000,#ff8700,#ff8f00,#ff9500,#ff9200,#ff8200,#ff6900,#ff5100,#ff4500,#ff4500,#ff4c00,#ff5300,#ff5700,#ff5300,#f40,#ff2c00,#fb1000,#d90000,#ca0000,#ed0400,#ff6200,#f2fb05,#68ff8f,#0df6e9,#00daff,#0bf3ec,#2dffca,#4affad,#66ff90,#89ff6e,#b5ff42,#e3ff14,#ffdf00,#ffbd00,#ffa400,#ff8c00,#ff7100,#ff5000,#ff2900,#e70000,#d50000,#f20,#ffa200,#beff38,#73ff84,#93ff64,#f8f400,#ff7f00,#ff4900,#ff4c00,#ff6800,#ff7d00,#ff8400,#ff7a00,#ff6200,#ff4000,#ff1f00,#f20800,#e40000,#e20000,#e90100,#f30900,#f80d00,#ef0500,#e10000,#e60000,#ff2400,#ff6800,#ffb400,#f9f300,#d7ff20,#c8ff2f,#c9ff2d,#d9ff1d,#f5f802,#ffd000,#ffa500,#ff7e00,#ff6200,#ff5700,#ff5900,#ff6900,#ff8200,#ff9c00,#ffae00,#ffb200,#ffaf00,#ffab00)"></i><i style="height:2.521px;background:linear-gradient(90deg,#ff7e00,#ff7d00,#ff7d00,#ff7d00,#ff7f00,#ff8300,#ff8e00,#ffa100,#ffb700,#ffca00,#ffd200,#ffd000,#fc0,#ffcb00,#ffce00,#ffd300,#ffd600,#ffd800,#ffda00,#fd0,#ffe100,#ffdf00,#ffd100,#ffb600,#ff9200,#ff6700,#ff4600,#ff4d00,#f90,#cdff29,#4cffab,#00dcfe,#00caff,#07eef0,#31ffc6,#54ffa3,#71ff86,#89ff6d,#a0ff57,#b6ff41,#cdff2a,#e7ff10,#ffe900,#fc0,#ffaf00,#ff8e00,#ff6300,#ff3000,#ff1500,#ff3a00,#ffb300,#b3ff44,#67ff90,#83ff74,#e3ff13,#ff9700,#ff5b00,#ff5400,#ff6500,#ff7400,#ff7900,#ff7500,#ff6900,#f50,#ff3b00,#ff1b00,#e50000,#d10000,#d90000,#f60b00,#ff2000,#ff2000,#ff1400,#ff1600,#ff3f00,#ff8d00,#ffe100,#d5ff22,#c0ff37,#bdff3a,#bfff38,#c4ff33,#d4ff23,#f7f500,#ffb900,#ff7e00,#ff5c00,#ff5a00,#ff6c00,#ff8300,#ff9400,#ffa000,#ffa600,#ffa700,#ffa600,#ffa500)"></i><i style="height:2.521px;background:linear-gradient(90deg,#ffb200,#ffb300,#ffb400,#ffb300,#ffae00,#ffac00,#ffb400,#fc0,#feed00,#e7ff0f,#e2ff15,#e8ff0f,#ecff0b,#dfff18,#c3ff34,#a7ff4f,#98ff5e,#97ff5f,#9cff5b,#9dff5a,#9aff5d,#99ff5e,#a3ff54,#b9ff3d,#deff19,#ffd900,#ffa200,#ff9200,#ffcd00,#a7ff50,#2bffcc,#00bcff,#00b7ff,#03eaf3,#36ffc1,#5dff9a,#75ff82,#81ff75,#84ff72,#87ff70,#92ff64,#abff4b,#cbff2c,#e9ff0e,#ffec00,#ffd000,#ffa800,#ff6f00,#ff4800,#ff5b00,#ffbf00,#b7ff40,#6fff88,#80ff77,#cfff28,#ffbe00,#ff8100,#ff6c00,#ff6b00,#ff6d00,#ff6e00,#ff6f00,#ff7200,#ff7100,#ff6500,#ff4600,#ff1f00,#ee0500,#f80d00,#ff2f00,#ff5100,#ff5a00,#ff4f00,#ff4d00,#ff7200,#ffba00,#ebff0c,#c5ff32,#bfff37,#c7ff2f,#caff2d,#c4ff33,#c7ff30,#e6ff11,#ffc700,#ff8500,#ff6500,#ff7400,#ff9800,#ffb800,#ffc300,#ffc000,#fb0,#ffb900,#ffba00,#ffbc00)"></i><i style="height:2.521px;background:linear-gradient(90deg,#ffd400,#ffd600,#ffd700,#ffd500,#ffce00,#ffc900,#fc0,#ffe000,#f0fe07,#d9ff1e,#cfff28,#cfff28,#caff2d,#b5ff42,#93ff64,#73ff84,#62ff94,#62ff95,#68ff8e,#6cff8b,#6bff8c,#6bff8b,#72ff85,#84ff73,#a4ff53,#d4ff22,#ffe200,#ffca00,#efff08,#80ff76,#09f0ee,#09f,#009fff,#00dcfe,#31ffc6,#59ff9d,#70ff87,#75ff82,#6eff89,#67ff90,#6eff89,#89ff6e,#adff4a,#cdff2a,#e0ff17,#f0fe07,#ffe100,#ffb300,#ff8c00,#ff8f00,#ffcd00,#ceff29,#99ff5e,#9dff5a,#cbff2c,#ffe400,#ffb000,#ff9000,#ff7e00,#ff7400,#ff7200,#ff7600,#ff8200,#ff8c00,#ff8a00,#ff7100,#ff4e00,#ff3500,#ff3c00,#ff5d00,#ff7f00,#ff8c00,#ff8500,#ff8200,#ff9700,#ffc400,#f9f300,#e2ff14,#e1ff16,#e6ff11,#e2ff14,#d6ff21,#d2ff25,#e9ff0e,#ffcd00,#ff9400,#ff7d00,#ff9200,#fb0,#ffd900,#ffdf00,#ffd600,#fc0,#ffc900,#ffcb00,#ffce00)"></i><i style="height:2.521px;background:linear-gradient(90deg,#ffd700,#ffd800,#ffd900,#ffd800,#ffd400,#ffd000,#ffd000,#ffd900,#ffe800,#f2fa04,#e1ff15,#d0ff27,#bdff39,#a8ff4e,#93ff63,#83ff74,#7aff7d,#7aff7d,#7dff79,#81ff76,#84ff73,#87ff70,#8aff6c,#93ff64,#a6ff51,#c9ff2e,#f0fd07,#fcef00,#ccff2b,#62ff94,#00d4ff,#0085ff,#008fff,#00cdff,#26ffd1,#50ffa7,#67ff90,#6cff8b,#64ff92,#5dff9a,#64ff92,#82ff75,#aaff4d,#caff2d,#daff1d,#e0ff16,#eaff0d,#fdef00,#ffd800,#ffd000,#ffdf00,#f1fc06,#daff1d,#d2ff25,#d9ff1e,#edff0a,#ffdf00,#ffb900,#ff9a00,#ff8a00,#ff8900,#ff9000,#ff9b00,#ffa400,#ffa400,#ff9600,#ff8100,#ff7200,#ff7500,#f80,#ff9e00,#fa0,#fa0,#ffa600,#ffa600,#ffac00,#ffb700,#ffc200,#ffcf00,#ffdc00,#ffec00,#f2fb04,#effe08,#fdee00,#fc0,#fa0,#ff9e00,#ffad00,#ffc700,#ffda00,#fd0,#ffd600,#ffce00,#fc0,#ffcd00,#ffcf00)"></i><i style="height:2.521px;background:linear-gradient(90deg,#fc0,#ffcb00,#ffcb00,#fc0,#fc0,#fc0,#ffca00,#ffc800,#ffc700,#ffd000,#ffe700,#e7ff10,#ccff2b,#bcff3b,#b7ff40,#b8ff3f,#b9ff3e,#b9ff3e,#b8ff3e,#baff3d,#bdff3a,#c0ff37,#bfff38,#beff39,#c3ff34,#d5ff21,#ecff0a,#edff09,#bdff3a,#5cff9a,#00dcfe,#0096ff,#009fff,#00d7ff,#29ffce,#51ffa6,#69ff8d,#72ff85,#6dff8a,#69ff8e,#72ff85,#8fff67,#b5ff42,#d3ff24,#dfff17,#dfff18,#d9ff1e,#d6ff20,#d9ff1d,#e5ff12,#faf200,#ffdc00,#ffd600,#ffe800,#e9ff0e,#dcff1b,#e9ff0d,#ffe000,#ffbc00,#ffab00,#ffab00,#ffb300,#ffba00,#ffbc00,#fb0,#ffb700,#ffb200,#ffae00,#ffae00,#ffb200,#ffb800,#ffc000,#ffc500,#ffc200,#ffb000,#ff9400,#ff8000,#ff8200,#ff9b00,#fb0,#ffd300,#ffdb00,#ffd900,#ffd000,#ffc600,#ffbf00,#ffbc00,#ffc100,#ffc800,#fc0,#ffcd00,#ffcb00,#ffc900,#ffc800,#ffc900,#ffc900)"></i><i style="height:2.521px;background:linear-gradient(90deg,#ffc300,#ffc200,#ffc200,#ffc200,#ffc400,#ffc600,#ffc500,#ffbf00,#ffb900,#ffba00,#ffc700,#ffde00,#f9f300,#f0fe07,#f0fe07,#f4f903,#f7f500,#f8f400,#f6f600,#f4f903,#f0fd07,#ebff0c,#e3ff14,#dbff1b,#daff1d,#e4ff13,#f3fa04,#f1fc05,#caff2d,#7dff7a,#2dffca,#00e4f8,#02e8f5,#23ffd4,#4dffaa,#6fff88,#86ff71,#90ff67,#8dff6a,#89ff6d,#90ff67,#a7ff50,#c4ff33,#dbff1c,#e3ff14,#dfff18,#d4ff23,#c6ff31,#c0ff37,#caff2c,#ebff0c,#ffd900,#ffc400,#ffd700,#eeff08,#d3ff23,#d7ff20,#f0fd06,#fd0,#ffcf00,#ffd200,#ffd900,#ffdc00,#ffda00,#ffd700,#ffd900,#fd0,#ffe000,#ffde00,#ffd800,#ffd500,#ffda00,#ffe100,#ffde00,#ffc600,#ff9f00,#ff7f00,#ff7c00,#ff9700,#ffba00,#ffce00,#fc0,#ffc000,#ffba00,#ffc000,#ffc900,#ffcf00,#fc0,#ffc600,#ffc200,#ffc100,#ffc300,#ffc500,#ffc500,#ffc500,#ffc400)"></i><i style="height:2.521px;background:linear-gradient(90deg,#ffc200,#ffc200,#ffc200,#ffc200,#ffc200,#ffc300,#ffc300,#ffc300,#ffc100,#ffbd00,#ffb700,#ffb000,#ffad00,#ffb200,#ffbc00,#ffc500,#ffc800,#ffc600,#ffc600,#ffce00,#ffe000,#f7f500,#e7ff10,#ddff19,#ddff1a,#e9ff0e,#fbf000,#ffe800,#edff0a,#baff3c,#82ff74,#60ff97,#5dff99,#70ff86,#8bff6c,#a3ff54,#b4ff43,#bbff3c,#b8ff3e,#b3ff43,#b4ff43,#bfff37,#cfff28,#dcff1b,#e1ff16,#ddff19,#d4ff22,#c9ff2e,#c2ff34,#c8ff2e,#dfff17,#fbf100,#ffe000,#ffec00,#e6ff11,#d2ff24,#d3ff24,#e1ff15,#f2fb05,#f9f300,#f7f600,#f2fb04,#f1fc05,#f3f903,#f5f702,#f3fa03,#effe08,#ecff0b,#eeff09,#f2fb04,#f6f701,#f4f903,#effe07,#f1fc06,#ffeb00,#ffce00,#ffb600,#ffb300,#ffc600,#ffdb00,#ffe000,#ffd000,#ffbc00,#ffb300,#fb0,#ffc900,#ffd200,#ffcf00,#ffc700,#ffc100,#ffc000,#ffc200,#ffc400,#ffc500,#ffc500,#ffc400)"></i><i style="height:2.521px;background:linear-gradient(90deg,#ffc500,#ffc500,#ffc600,#ffc500,#ffc400,#ffc300,#ffc400,#ffca00,#ffcf00,#ffc900,#ffb200,#ff9100,#ff7a00,#ff7e00,#ff9800,#ffb500,#ffc100,#ffbe00,#ffba00,#ffc500,#ffe100,#edff0a,#d7ff20,#ceff29,#d2ff25,#e5ff11,#ffea00,#ffd300,#ffd600,#f6f701,#d1ff25,#b8ff3f,#b3ff44,#baff3c,#c6ff31,#cfff28,#d5ff22,#d6ff20,#d5ff22,#d2ff25,#d0ff27,#d2ff25,#d5ff21,#d8ff1e,#daff1d,#d9ff1e,#d6ff21,#d3ff24,#d1ff26,#d2ff25,#d8ff1f,#dfff18,#e3ff14,#e1ff16,#daff1d,#d5ff22,#d5ff22,#d9ff1e,#ddff1a,#dfff18,#deff19,#dcff1b,#dcff1b,#ddff1a,#ddff1a,#ddff1a,#dbff1c,#daff1c,#dbff1c,#dcff1a,#ddff19,#ddff1a,#dbff1c,#dcff1b,#e1ff16,#e9ff0e,#effe08,#eeff09,#e6ff10,#e3ff14,#edff0a,#ffe600,#ffca00,#ffba00,#fb0,#ffc500,#fc0,#fc0,#ffc800,#ffc400,#ffc400,#ffc500,#ffc600,#ffc600,#ffc600,#ffc600)"></i><i style="height:2.521px;background:linear-gradient(90deg,#ffc700,#ffc800,#ffc800,#ffc800,#ffc600,#ffc400,#ffc600,#fc0,#ffd100,#ffcb00,#ffb300,#ff9200,#ff7e00,#ff8900,#ffae00,#ffd500,#ffe800,#ffe500,#ffdf00,#ffe700,#edff09,#d3ff23,#bfff37,#b8ff3f,#c0ff37,#d9ff1d,#feed00,#ffca00,#ffc100,#ffd800,#f3fa04,#deff19,#dbff1c,#e0ff17,#e0ff17,#d7ff1f,#ccff2b,#c5ff31,#c8ff2f,#cfff27,#d5ff21,#d6ff20,#d4ff23,#d2ff25,#d1ff26,#d1ff26,#d3ff23,#d6ff20,#d9ff1e,#d8ff1f,#d4ff23,#cfff28,#ccff2b,#ceff29,#d2ff24,#d6ff21,#d6ff21,#d2ff25,#ceff28,#ceff29,#cfff28,#d1ff26,#d1ff26,#d1ff26,#d0ff27,#d0ff26,#d1ff25,#d2ff25,#d2ff25,#d1ff26,#d0ff27,#d0ff27,#d1ff26,#d1ff26,#ceff29,#c9ff2e,#c2ff35,#bbff3c,#b6ff41,#b9ff3e,#c9ff2e,#e5ff12,#ffe700,#ffce00,#ffc200,#ffc000,#ffc200,#ffc400,#ffc600,#ffc800,#ffc800,#ffc700,#ffc700,#ffc700,#ffc700,#ffc700)"></i><i style="height:2.521px;background:linear-gradient(90deg,#ffc800,#ffc800,#ffc800,#ffc800,#ffc700,#ffc700,#ffc700,#ffc800,#ffc700,#ffc300,#ffba00,#ffb200,#ffb500,#ffce00,#f7f600,#d6ff21,#c5ff32,#c6ff31,#cbff2c,#caff2c,#c0ff37,#b2ff45,#a4ff52,#9fff58,#a7ff50,#c3ff34,#edff09,#ffd700,#ffce00,#ffea00,#dfff18,#cbff2c,#cdff2a,#d5ff22,#cfff27,#b6ff41,#99ff5e,#8bff6c,#95ff61,#acff4a,#c0ff37,#c7ff30,#c5ff32,#c1ff36,#bfff38,#bfff37,#c3ff34,#c8ff2f,#ccff2b,#cdff2a,#c8ff2f,#c1ff36,#beff39,#c0ff37,#c6ff31,#caff2d,#c8ff2f,#c2ff35,#bdff3a,#bcff3a,#c0ff37,#c3ff34,#c5ff32,#c4ff33,#c3ff34,#c3ff34,#c4ff32,#c5ff32,#c5ff32,#c4ff33,#c3ff34,#c3ff33,#c5ff32,#c4ff32,#bfff37,#b6ff41,#aaff4d,#9eff59,#96ff61,#97ff60,#a6ff51,#c1ff35,#e3ff14,#ffea00,#ffd000,#ffc100,#fb0,#ffbd00,#ffc300,#ffc800,#ffc900,#ffc800,#ffc700,#ffc600,#ffc700,#ffc700)"></i><i style="height:2.521px;background:linear-gradient(90deg,#ffc700,#ffc600,#ffc600,#ffc700,#ffc800,#ffc800,#ffc700,#ffc300,#ffc000,#ffc000,#ffc900,#ffdb00,#f5f701,#d5ff21,#b3ff44,#97ff60,#88ff6f,#87ff70,#8cff6b,#91ff66,#91ff66,#8dff69,#86ff71,#7fff77,#84ff73,#9dff59,#c7ff30,#eaff0d,#efff08,#d1ff25,#aaff4c,#94ff63,#97ff5f,#a1ff56,#99ff5e,#78ff7f,#53ffa4,#44ffb3,#56ffa0,#79ff7e,#96ff61,#a0ff57,#9eff59,#98ff5f,#95ff62,#96ff61,#99ff5e,#9bff5b,#9eff59,#9eff59,#9dff5a,#9bff5c,#9aff5d,#9bff5c,#9dff5a,#9eff59,#9cff5b,#99ff5e,#97ff60,#97ff60,#99ff5e,#9bff5c,#9cff5b,#9cff5b,#9bff5b,#9bff5b,#9cff5b,#9cff5b,#9cff5b,#9bff5b,#9bff5c,#9bff5b,#9cff5b,#9cff5b,#9aff5d,#96ff61,#8fff68,#86ff70,#7eff78,#7dff79,#8aff6d,#a5ff52,#c7ff30,#eaff0d,#ffe300,#ffca00,#ffbd00,#ffbd00,#ffc200,#ffc800,#ffc900,#ffc800,#ffc600,#ffc600,#ffc600,#ffc700)"></i><i style="height:2.521px;background:linear-gradient(90deg,#ffc600,#ffc600,#ffc600,#ffc600,#ffc600,#ffc700,#ffc600,#ffc600,#ffc700,#ffce00,#ffe000,#f1fc06,#d2ff24,#b0ff47,#8fff68,#74ff82,#67ff90,#66ff91,#6aff8c,#6fff88,#70ff87,#6cff8a,#63ff94,#58ff9f,#55ffa2,#65ff91,#85ff72,#a1ff56,#a5ff52,#8cff6b,#69ff8e,#51ffa6,#4cffab,#4cffab,#42ffb5,#2affcd,#13fde4,#0ef7e8,#24ffd2,#45ffb2,#5cff9b,#5eff99,#54ffa3,#4affad,#47ffb0,#49ffae,#4affad,#47ffb0,#42ffb5,#3fffb8,#3effb8,#40ffb6,#42ffb5,#41ffb6,#3fffb8,#3fffb8,#42ffb4,#48ffaf,#4bffac,#4affad,#46ffb1,#41ffb5,#3fffb8,#3fffb7,#40ffb6,#41ffb6,#40ffb6,#40ffb7,#40ffb6,#41ffb6,#41ffb6,#40ffb7,#3effb9,#3fffb8,#45ffb2,#50ffa7,#5bff9b,#62ff94,#66ff90,#6eff89,#7fff78,#9aff5c,#bbff3b,#dbff1c,#f6f701,#ffdf00,#ffd000,#ffc900,#ffc600,#ffc600,#ffc600,#ffc600,#ffc600,#ffc600,#ffc600,#ffc600)"></i><i style="height:2.521px;background:linear-gradient(90deg,#ffc600,#ffc700,#ffc700,#ffc600,#ffc400,#ffc200,#ffc500,#ffce00,#ffdc00,#feed00,#f0fd07,#e1ff16,#cdff2a,#b0ff46,#8fff68,#73ff84,#65ff92,#65ff92,#6aff8d,#69ff8d,#61ff96,#52ffa5,#3fffb8,#2cffcb,#21ffd6,#24ffd3,#33ffc3,#44ffb3,#4affad,#3fffb8,#2affcc,#12fce5,#00e0fb,#00caff,#00bcff,#00b9ff,#00c1ff,#00d5ff,#08efef,#1affdd,#1dffda,#0df6e9,#00d9ff,#00c3ff,#00bfff,#00c3ff,#00c4ff,#00b7ff,#00a4ff,#0095ff,#0092ff,#0096ff,#009aff,#0097ff,#0092ff,#0094ff,#00a4ff,#00b8ff,#00c5ff,#00c0ff,#00aeff,#009bff,#0092ff,#0093ff,#0097ff,#09f,#0098ff,#0097ff,#0098ff,#009aff,#009aff,#0094ff,#008eff,#0091ff,#00a7ff,#00ceff,#13fce4,#33ffc3,#4dffa9,#66ff91,#81ff76,#a1ff56,#bfff37,#d7ff20,#e5ff11,#f0fd06,#fcef00,#ffde00,#ffce00,#ffc400,#ffc200,#ffc400,#ffc700,#ffc700,#ffc700,#ffc600)"></i><i style="height:2.521px;background:linear-gradient(90deg,#ffc600,#ffc800,#ffc900,#ffc700,#ffc200,#ffbe00,#ffc300,#ffd700,#f8f400,#e2ff14,#daff1d,#daff1c,#d6ff21,#c1ff36,#9fff58,#7fff78,#71ff86,#73ff84,#78ff7f,#71ff86,#5cff9a,#40ffb7,#22ffd5,#08efef,#00d7ff,#00cbff,#0cf,#00d4ff,#00defd,#00e5f7,#00defd,#00c0ff,#008fff,#0061ff,#0053ff,#006cff,#009bff,#00c7ff,#00dffc,#00e0fb,#00c9ff,#009fff,#0071ff,#0052ff,#004eff,#0054ff,#0053ff,#003eff,#001fff,#0007ff,#00f,#0004ff,#0008ff,#0003ff,#00f,#0004ff,#001eff,#003fff,#0054ff,#004aff,#002cff,#000dff,#00f,#00f,#0005ff,#0009ff,#0008ff,#0007ff,#0008ff,#000bff,#000aff,#0001ff,#00f,#00f,#001eff,#005eff,#00a9ff,#09f1ee,#39ffbe,#63ff94,#8aff6d,#aeff49,#c9ff2e,#d7ff20,#d9ff1e,#d9ff1e,#e2ff14,#f8f400,#ffd700,#ffc300,#ffbe00,#ffc200,#ffc700,#ffc900,#ffc800,#ffc600)"></i><i style="height:2.521px;background:linear-gradient(90deg,#ffc600,#ffc800,#ffc900,#ffc700,#ffc100,#fb0,#ffc200,#ffdc00,#edff0a,#d3ff23,#cfff28,#d8ff1f,#ddff1a,#ccff2a,#aaff4d,#88ff6e,#7aff7d,#7dff7a,#81ff75,#77ff7f,#5cff9b,#37ffbf,#14fee3,#00d9ff,#0bf,#00a7ff,#009dff,#009fff,#00abff,#00bdff,#00c1ff,#00a3ff,#06f,#002cff,#001dff,#0046ff,#008aff,#00c3ff,#00d9ff,#00ceff,#00a9ff,#0072ff,#003bff,#0018ff,#0012ff,#001aff,#0019ff,#00f,#0000e6,#0000c3,#0000b8,#0000bc,#0000c1,#0000bc,#0000b6,#0000bf,#0000e3,#00f,#0018ff,#000dff,#0000f5,#0000ca,#0000b5,#0000b6,#0000bf,#0000c4,#0000c4,#0000c2,#0000c4,#0000c7,#0000c5,#0000b9,#0000ab,#0000b2,#0000e1,#02f,#007eff,#00d5ff,#2fffc8,#62ff95,#8fff68,#b5ff41,#d0ff27,#d8ff1e,#d3ff24,#cdff2a,#d4ff22,#eeff08,#ffdb00,#ffc200,#ffbc00,#ffc100,#ffc700,#ffc900,#ffc800,#ffc600)"></i><i style="height:2.521px;background:linear-gradient(90deg,#ffc600,#ffc800,#ffc900,#ffc700,#ffc000,#fb0,#ffc200,#ffdc00,#ecff0b,#d3ff24,#ceff29,#d8ff1f,#ddff19,#cdff2a,#abff4c,#89ff6e,#7aff7c,#7dff79,#82ff75,#78ff7f,#5cff9b,#37ffc0,#13fde4,#00d7ff,#00baff,#00a5ff,#009bff,#009bff,#00a8ff,#00baff,#00bfff,#00a1ff,#0063ff,#0029ff,#001aff,#04f,#0089ff,#00c3ff,#00d9ff,#00cdff,#00a7ff,#006fff,#0038ff,#0014ff,#000fff,#0017ff,#0016ff,#00f,#0000e1,#0000be,#0000b3,#0000b7,#0000bc,#0000b7,#0000b1,#0000ba,#0000de,#00f,#0015ff,#0009ff,#0000f0,#0000c5,#0000b0,#0000b1,#0000ba,#0000bf,#0000be,#0000bd,#0000bf,#0000c2,#0000c0,#0000b4,#0000a6,#0000ac,#0000dc,#001fff,#007bff,#00d3ff,#2effc9,#62ff95,#90ff67,#b6ff41,#d0ff27,#d8ff1e,#d2ff24,#ccff2b,#d4ff23,#eeff09,#ffdb00,#ffc200,#ffbc00,#ffc100,#ffc700,#ffc900,#ffc800,#ffc600)"></i><i style="height:2.521px;background:linear-gradient(90deg,#ffc600,#ffc800,#ffc900,#ffc700,#ffc100,#ffbc00,#ffc200,#ffda00,#f0fd06,#d8ff1f,#d2ff25,#d9ff1e,#dbff1c,#c9ff2e,#a7ff50,#86ff71,#77ff80,#7aff7d,#7eff78,#76ff81,#5cff9b,#3affbd,#18ffdf,#00dffc,#00c4ff,#00b2ff,#00abff,#00aeff,#0bf,#00c9ff,#00c9ff,#00acff,#0072ff,#003cff,#002dff,#0052ff,#008fff,#00c4ff,#00dbff,#00d4ff,#00b2ff,#007fff,#004bff,#0029ff,#0024ff,#002cff,#002aff,#0012ff,#0000fd,#0000dc,#0000d2,#0000d7,#0000db,#0000d6,#0000d0,#0000d9,#0000fa,#0013ff,#002aff,#001fff,#00f,#0000e3,#0000cf,#0000d0,#0000d9,#0000de,#00d,#0000db,#00d,#0000e1,#0000df,#0000d3,#0000c6,#00c,#0000f9,#0034ff,#008bff,#00ddfd,#32ffc5,#62ff95,#8eff69,#b3ff44,#ceff29,#d8ff1f,#d5ff22,#d0ff27,#d9ff1e,#f1fc05,#ffda00,#ffc200,#ffbc00,#ffc100,#ffc700,#ffc900,#ffc800,#ffc600)"></i></div></div>
<svg width="500" height="356" viewBox="0 0 500 356">
<defs>
<filter id="blur1" x="-5%" y="-50%" width="110%" height="200%"><feGaussianBlur stdDeviation="0.7"/></filter>
<linearGradient id="jetg" x1="0" x2="1" y1="0" y2="0"><stop offset="0.00" stop-color="#000080"/><stop offset="0.05" stop-color="#0000b9"/><stop offset="0.10" stop-color="#0000f3"/><stop offset="0.15" stop-color="#0019ff"/><stop offset="0.20" stop-color="#004dff"/><stop offset="0.25" stop-color="#0080ff"/><stop offset="0.30" stop-color="#00b2ff"/><stop offset="0.35" stop-color="#00e5f7"/><stop offset="0.40" stop-color="#29ffce"/><stop offset="0.45" stop-color="#52ffa5"/><stop offset="0.50" stop-color="#7bff7b"/><stop offset="0.55" stop-color="#a5ff52"/><stop offset="0.60" stop-color="#ceff29"/><stop offset="0.65" stop-color="#f7f600"/><stop offset="0.70" stop-color="#ffc600"/><stop offset="0.75" stop-color="#ff9700"/><stop offset="0.80" stop-color="#ff6800"/><stop offset="0.85" stop-color="#ff3900"/><stop offset="0.90" stop-color="#f30900"/><stop offset="0.95" stop-color="#b90000"/><stop offset="1.00" stop-color="#800000"/></linearGradient>
</defs>
<text x="125.3" y="10.2" class="title" text-anchor="middle">Three-month average: January - March, 2015</text>
<text x="39.6" y="20.9" class="lbl">(a)</text>
<text x="35.0" y="30.0" class="ll" text-anchor="end">60°N</text>
<text x="17.0" y="51.9" class="ll" text-anchor="end">30°N</text>
<text x="12.7" y="74.6" class="ll" text-anchor="end">0°</text>
<text x="17.2" y="98.9" class="ll" text-anchor="end">30°S</text>
<text x="35.0" y="118.6" class="ll" text-anchor="end">60°S</text>
<text x="86.3" y="137.0" class="ll" text-anchor="middle">120°W</text>
<text x="105.8" y="137.0" class="ll" text-anchor="middle">60°W</text>
<text x="125.3" y="137.0" class="ll" text-anchor="middle">0°</text>
<text x="144.8" y="137.0" class="ll" text-anchor="middle">60°E</text>
<text x="164.3" y="137.0" class="ll" text-anchor="middle">120°E</text>
<clipPath id="clipa"><path d="M183.74,17.00 L188.13,18.35 L193.52,20.42 L199.22,23.01 L204.20,25.84 L208.72,28.85 L212.99,32.00 L216.98,35.26 L220.60,38.61 L223.70,42.02 L226.49,45.49 L228.81,48.98 L230.71,52.48 L232.14,55.98 L233.15,59.49 L234.00,62.99 L234.59,66.49 L234.95,70.00 L235.10,73.50 L234.95,77.00 L234.59,80.51 L234.00,84.01 L233.15,87.51 L232.14,91.02 L230.71,94.52 L228.81,98.02 L226.49,101.51 L223.70,104.98 L220.60,108.39 L216.98,111.74 L212.99,115.00 L208.72,118.15 L204.20,121.16 L199.22,123.99 L193.52,126.58 L188.13,128.65 L183.74,130.00 L66.86,130.00 L62.47,128.65 L57.08,126.58 L51.38,123.99 L46.40,121.16 L41.88,118.15 L37.61,115.00 L33.62,111.74 L30.00,108.39 L26.90,104.98 L24.11,101.51 L21.79,98.02 L19.89,94.52 L18.46,91.02 L17.45,87.51 L16.60,84.01 L16.01,80.51 L15.65,77.00 L15.50,73.50 L15.65,70.00 L16.01,66.49 L16.60,62.99 L17.45,59.49 L18.46,55.98 L19.89,52.48 L21.79,48.98 L24.11,45.49 L26.90,42.02 L30.00,38.61 L33.62,35.26 L37.61,32.00 L41.88,28.85 L46.40,25.84 L51.38,23.01 L57.08,20.42 L62.47,18.35 L66.86,17.00 Z"/></clipPath>
<g clip-path="url(#clipa)"><linearGradient id="tsa" x1="0" x2="1" y1="0" y2="0"><stop offset="0.2" stop-color="#ffec00"/><stop offset="0.3" stop-color="#ffd900"/><stop offset="0.33" stop-color="#ffa100"/><stop offset="0.4" stop-color="#ffec00"/><stop offset="0.5" stop-color="#ceff29"/><stop offset="0.6" stop-color="#bdff3a"/><stop offset="0.75" stop-color="#adff4a"/><stop offset="0.8" stop-color="#ceff29"/></linearGradient><rect x="15.5" y="16.0" width="219.6" height="4" fill="url(#tsa)" filter="url(#blur1)"/>
<path d="M37.6,115.0 L42.5,115.0 L47.4,115.0 L52.2,115.0 L57.1,115.0 L62.0,115.0 L66.8,115.0 L71.7,115.0 L76.6,115.0 L81.5,115.0 L86.3,115.0 L91.2,115.0 L96.1,115.0 L100.9,115.0 L105.8,115.0 L110.7,115.0 L115.6,115.0 L120.4,115.0 L125.3,115.0 L130.2,115.0 L135.0,115.0 L139.9,115.0 L144.8,115.0 L149.7,115.0 L154.5,115.0 L159.4,115.0 L164.3,115.0 L169.1,115.0 L174.0,115.0 L178.9,115.0 L183.8,115.0 L188.6,115.0 L193.5,115.0 L198.4,115.0 L203.2,115.0 L208.1,115.0 L213.0,115.0 M19.9,94.5 L25.7,94.5 L31.6,94.5 L37.5,94.5 L43.3,94.5 L49.2,94.5 L55.0,94.5 L60.9,94.5 L66.7,94.5 L72.6,94.5 L78.5,94.5 L84.3,94.5 L90.2,94.5 L96.0,94.5 L101.9,94.5 L107.7,94.5 L113.6,94.5 L119.4,94.5 L125.3,94.5 L131.2,94.5 L137.0,94.5 L142.9,94.5 L148.7,94.5 L154.6,94.5 L160.4,94.5 L166.3,94.5 L172.1,94.5 L178.0,94.5 L183.9,94.5 L189.7,94.5 L195.6,94.5 L201.4,94.5 L207.3,94.5 L213.1,94.5 L219.0,94.5 L224.9,94.5 L230.7,94.5 M15.5,73.5 L21.6,73.5 L27.7,73.5 L33.8,73.5 L39.9,73.5 L46.0,73.5 L52.1,73.5 L58.2,73.5 L64.3,73.5 L70.4,73.5 L76.5,73.5 L82.6,73.5 L88.7,73.5 L94.8,73.5 L100.9,73.5 L107.0,73.5 L113.1,73.5 L119.2,73.5 L125.3,73.5 L131.4,73.5 L137.5,73.5 L143.6,73.5 L149.7,73.5 L155.8,73.5 L161.9,73.5 L168.0,73.5 L174.1,73.5 L180.2,73.5 L186.3,73.5 L192.4,73.5 L198.5,73.5 L204.6,73.5 L210.7,73.5 L216.8,73.5 L222.9,73.5 L229.0,73.5 L235.1,73.5 M19.9,52.5 L25.7,52.5 L31.6,52.5 L37.5,52.5 L43.3,52.5 L49.2,52.5 L55.0,52.5 L60.9,52.5 L66.7,52.5 L72.6,52.5 L78.5,52.5 L84.3,52.5 L90.2,52.5 L96.0,52.5 L101.9,52.5 L107.7,52.5 L113.6,52.5 L119.4,52.5 L125.3,52.5 L131.2,52.5 L137.0,52.5 L142.9,52.5 L148.7,52.5 L154.6,52.5 L160.4,52.5 L166.3,52.5 L172.1,52.5 L178.0,52.5 L183.9,52.5 L189.7,52.5 L195.6,52.5 L201.4,52.5 L207.3,52.5 L213.1,52.5 L219.0,52.5 L224.9,52.5 L230.7,52.5 M37.6,32.0 L42.5,32.0 L47.4,32.0 L52.2,32.0 L57.1,32.0 L62.0,32.0 L66.8,32.0 L71.7,32.0 L76.6,32.0 L81.5,32.0 L86.3,32.0 L91.2,32.0 L96.1,32.0 L100.9,32.0 L105.8,32.0 L110.7,32.0 L115.6,32.0 L120.4,32.0 L125.3,32.0 L130.2,32.0 L135.0,32.0 L139.9,32.0 L144.8,32.0 L149.7,32.0 L154.5,32.0 L159.4,32.0 L164.3,32.0 L169.1,32.0 L174.0,32.0 L178.9,32.0 L183.8,32.0 L188.6,32.0 L193.5,32.0 L198.4,32.0 L203.2,32.0 L208.1,32.0 L213.0,32.0 M86.3,130.0 L83.4,128.6 L79.8,126.6 L76.0,124.0 L72.7,121.2 L69.7,118.2 L66.8,115.0 L64.2,111.7 L61.8,108.4 L59.7,105.0 L57.8,101.5 L56.3,98.0 L55.0,94.5 L54.1,91.0 L53.4,87.5 L52.8,84.0 L52.4,80.5 L52.2,77.0 L52.1,73.5 L52.2,70.0 L52.4,66.5 L52.8,63.0 L53.4,59.5 L54.1,56.0 L55.0,52.5 L56.3,49.0 L57.8,45.5 L59.7,42.0 L61.8,38.6 L64.2,35.3 L66.8,32.0 L69.7,28.8 L72.7,25.8 L76.0,23.0 L79.8,20.4 L83.4,18.4 L86.3,17.0 M105.8,130.0 L104.4,128.6 L102.6,126.6 L100.7,124.0 L99.0,121.2 L97.5,118.2 L96.1,115.0 L94.7,111.7 L93.5,108.4 L92.5,105.0 L91.6,101.5 L90.8,98.0 L90.2,94.5 L89.7,91.0 L89.4,87.5 L89.1,84.0 L88.9,80.5 L88.8,77.0 L88.7,73.5 L88.8,70.0 L88.9,66.5 L89.1,63.0 L89.4,59.5 L89.7,56.0 L90.2,52.5 L90.8,49.0 L91.6,45.5 L92.5,42.0 L93.5,38.6 L94.7,35.3 L96.1,32.0 L97.5,28.8 L99.0,25.8 L100.7,23.0 L102.6,20.4 L104.4,18.4 L105.8,17.0 M125.3,130.0 L125.3,128.6 L125.3,126.6 L125.3,124.0 L125.3,121.2 L125.3,118.2 L125.3,115.0 L125.3,111.7 L125.3,108.4 L125.3,105.0 L125.3,101.5 L125.3,98.0 L125.3,94.5 L125.3,91.0 L125.3,87.5 L125.3,84.0 L125.3,80.5 L125.3,77.0 L125.3,73.5 L125.3,70.0 L125.3,66.5 L125.3,63.0 L125.3,59.5 L125.3,56.0 L125.3,52.5 L125.3,49.0 L125.3,45.5 L125.3,42.0 L125.3,38.6 L125.3,35.3 L125.3,32.0 L125.3,28.8 L125.3,25.8 L125.3,23.0 L125.3,20.4 L125.3,18.4 L125.3,17.0 M144.8,130.0 L146.2,128.6 L148.0,126.6 L149.9,124.0 L151.6,121.2 L153.1,118.2 L154.5,115.0 L155.9,111.7 L157.1,108.4 L158.1,105.0 L159.0,101.5 L159.8,98.0 L160.4,94.5 L160.9,91.0 L161.2,87.5 L161.5,84.0 L161.7,80.5 L161.8,77.0 L161.9,73.5 L161.8,70.0 L161.7,66.5 L161.5,63.0 L161.2,59.5 L160.9,56.0 L160.4,52.5 L159.8,49.0 L159.0,45.5 L158.1,42.0 L157.1,38.6 L155.9,35.3 L154.5,32.0 L153.1,28.8 L151.6,25.8 L149.9,23.0 L148.0,20.4 L146.2,18.4 L144.8,17.0 M164.3,130.0 L167.2,128.6 L170.8,126.6 L174.6,124.0 L177.9,121.2 L180.9,118.2 L183.8,115.0 L186.4,111.7 L188.8,108.4 L190.9,105.0 L192.8,101.5 L194.3,98.0 L195.6,94.5 L196.5,91.0 L197.2,87.5 L197.8,84.0 L198.2,80.5 L198.4,77.0 L198.5,73.5 L198.4,70.0 L198.2,66.5 L197.8,63.0 L197.2,59.5 L196.5,56.0 L195.6,52.5 L194.3,49.0 L192.8,45.5 L190.9,42.0 L188.8,38.6 L186.4,35.3 L183.8,32.0 L180.9,28.8 L177.9,25.8 L174.6,23.0 L170.8,20.4 L167.2,18.4 L164.3,17.0" fill="none" stroke="#000" stroke-width="0.3" stroke-opacity="0.22"/>
<path d="M48.0,28.5 L48.0,29.2 L50.3,29.2 L47.7,30.0 L46.9,30.4 L45.3,31.7 L46.2,32.1 L46.3,33.0 L42.3,35.3 L45.9,34.3 L48.9,33.3 L51.6,31.7 L51.9,32.3 L54.7,31.5 L57.0,32.1 L58.0,33.1 L58.7,34.0 L58.6,35.6 L58.8,36.9 L58.8,38.3 L59.8,39.3 L58.6,39.7 L58.1,41.1 L56.6,43.4 L55.8,45.1 L55.6,47.2 L55.8,49.3 L56.9,49.7 L57.4,50.7 L57.5,52.1 L57.8,54.0 L58.8,56.1 L60.1,57.4 L59.9,56.7 L58.9,53.2 L58.5,51.2 L59.6,51.4 L61.1,53.9 L62.3,57.6 L62.1,59.5 L64.5,61.4 L66.8,62.4 L68.3,62.3 L70.0,63.7 L72.3,64.4 L73.3,66.5 L74.8,67.7 L76.6,68.4 L78.2,67.5 L77.0,66.8 L75.8,67.2 L74.7,65.8 L75.1,63.0 L74.6,62.4 L72.1,62.3 L72.6,60.7 L73.3,58.4 L71.2,58.8 L70.7,60.4 L68.5,60.7 L68.0,60.4 L66.9,58.1 L67.4,56.0 L68.0,54.2 L70.2,52.8 L72.5,53.2 L73.2,52.3 L75.5,52.5 L76.6,53.2 L76.8,54.9 L77.5,55.8 L78.1,54.6 L78.1,51.4 L81.6,49.0 L82.2,46.9 L83.8,45.1 L86.3,44.2 L86.7,43.1 L88.9,43.1 L90.2,42.4 L92.7,41.3 L90.8,39.6 L93.4,40.0 L96.3,37.6 L95.6,37.3 L94.2,34.6 L93.9,31.9 L91.1,32.8 L90.6,31.4 L88.4,30.5 L86.8,33.0 L86.3,34.9 L83.7,37.6 L83.5,35.3 L81.1,34.3 L78.7,32.8 L80.4,31.4 L84.6,29.5 L87.9,27.9 L87.6,26.4 L82.7,27.0 L78.2,27.0 L74.0,26.7 L69.2,25.8 L63.2,26.1 L58.0,25.1 L54.3,25.8 L48.0,28.5 M97.2,27.6 L94.2,30.4 L91.6,30.4 L89.0,29.2 L92.1,27.0 L90.2,25.8 L87.0,25.6 L87.1,24.4 L90.2,23.7 L92.7,24.3 L94.8,25.6 L95.8,26.1 L97.2,27.6 M74.1,25.0 L73.4,26.4 L78.5,26.7 L80.9,26.0 L81.3,24.3 L78.9,24.1 L77.0,24.0 L74.1,25.0 M93.1,22.3 L89.2,22.2 L91.3,20.7 L92.0,19.8 L98.2,19.2 L102.7,19.4 L98.5,20.7 L93.1,22.3 M92.2,23.3 L87.4,23.1 L86.8,22.2 L92.6,22.1 L92.2,23.3 M71.9,24.7 L73.3,25.0 L76.1,24.4 L75.9,23.5 L73.9,23.4 L71.9,24.7 M96.8,21.4 L100.0,20.3 L103.3,19.6 L108.9,19.4 L114.6,19.0 L118.0,19.6 L118.4,20.9 L117.2,22.5 L116.8,24.7 L115.7,25.7 L114.2,26.7 L110.5,27.0 L106.9,28.5 L104.4,32.0 L103.1,31.5 L101.7,30.1 L101.1,27.9 L101.5,26.1 L103.1,25.6 L101.6,25.0 L101.7,22.8 L98.6,22.5 L96.8,21.4 M114.8,29.5 L114.2,28.5 L115.3,28.0 L118.0,27.9 L119.0,28.8 L116.8,29.9 L114.8,29.5 M78.5,67.9 L79.5,65.9 L81.7,65.1 L81.9,65.9 L84.0,66.1 L86.5,66.1 L88.3,66.1 L88.8,67.5 L90.6,69.3 L93.6,70.0 L94.8,72.4 L95.4,74.2 L98.5,75.3 L100.9,75.6 L102.8,76.9 L104.0,77.7 L104.0,79.8 L102.9,81.9 L101.7,83.3 L101.9,86.1 L101.4,87.9 L100.3,89.6 L98.5,90.2 L96.6,91.7 L96.7,93.5 L95.5,95.2 L94.7,97.0 L93.7,98.0 L91.6,97.6 L92.5,99.1 L92.7,100.1 L90.3,100.8 L90.4,102.1 L89.0,102.2 L89.5,103.2 L89.5,105.0 L88.7,106.0 L89.9,107.0 L89.2,108.7 L89.3,109.7 L90.0,110.7 L92.2,111.7 L90.8,112.1 L88.9,111.1 L86.6,110.1 L84.8,107.0 L84.8,105.0 L84.3,102.6 L83.5,99.8 L83.7,95.9 L83.3,93.1 L83.3,89.6 L83.1,86.5 L81.6,85.3 L79.4,83.3 L77.6,80.2 L76.0,77.7 L76.0,76.7 L76.5,75.3 L76.2,73.5 L76.8,72.4 L78.1,71.0 L78.3,68.9 L78.5,67.9 M155.2,81.9 L155.8,84.4 L155.1,85.8 L153.5,90.9 L152.0,91.4 L151.3,88.9 L152.0,85.4 L153.4,84.5 L154.3,83.0 L155.2,81.9 M150.9,41.7 L152.1,41.0 L153.9,40.7 L154.3,42.0 L153.4,42.4 L154.7,44.1 L155.5,44.9 L156.0,47.4 L154.4,47.8 L153.1,47.2 L153.1,45.1 L152.3,44.2 L151.6,43.4 L150.9,41.7 M122.3,38.6 L123.7,38.2 L126.0,37.8 L126.2,36.8 L125.4,36.3 L124.5,35.1 L124.3,34.6 L124.4,33.6 L123.7,32.9 L122.8,32.9 L122.2,33.6 L122.5,34.4 L122.8,35.3 L123.7,35.6 L123.8,36.4 L123.0,36.4 L123.1,37.1 L122.6,37.5 L123.5,37.7 L122.3,38.6 M122.2,37.1 L122.1,36.1 L122.4,35.5 L121.5,35.1 L121.0,35.6 L120.2,35.9 L120.2,37.3 L121.1,37.5 L122.2,37.1 M201.1,51.6 L201.9,51.4 L201.6,50.0 L203.4,50.0 L204.0,49.5 L205.3,49.1 L206.0,48.5 L205.3,46.9 L205.3,45.8 L204.2,44.5 L203.8,45.1 L204.3,46.2 L203.4,47.6 L203.0,48.6 L201.6,48.6 L200.8,49.5 L200.4,50.2 L201.1,51.6 M203.4,44.4 L203.7,43.7 L205.1,44.1 L205.6,43.2 L202.7,41.8 L202.7,43.2 L203.4,44.4 M202.4,41.3 L201.5,38.9 L198.4,35.7 L199.6,37.6 L202.4,41.3 M197.0,57.7 L197.4,56.0 L197.7,56.3 L197.4,58.2 L197.0,57.7 M197.5,60.5 L198.8,60.6 L198.7,62.6 L200.3,63.8 L199.4,64.3 L198.2,63.6 L197.5,60.5 M199.5,68.5 L201.5,66.8 L202.2,68.2 L201.7,69.4 L200.4,68.2 L199.5,68.5 M191.8,72.2 L193.3,71.5 L194.5,70.8 L195.6,69.6 L196.5,68.6 L197.8,69.9 L197.2,70.6 L197.1,72.8 L197.9,72.9 L197.0,73.5 L196.3,75.3 L196.0,76.3 L195.1,76.0 L194.2,75.7 L192.6,75.6 L192.4,74.6 L191.8,73.9 L191.8,72.2 M183.3,69.6 L184.7,69.9 L186.4,71.9 L188.4,74.2 L189.9,75.6 L189.7,77.6 L188.9,77.6 L187.6,76.3 L186.5,74.2 L185.5,72.2 L183.3,69.6 M189.3,78.3 L191.0,77.8 L192.9,78.1 L194.9,78.9 L194.8,79.6 L192.8,79.2 L191.0,79.0 L189.8,78.7 L189.3,78.3 M198.1,77.4 L198.2,73.5 L198.8,72.8 L201.4,72.4 L200.3,73.1 L199.4,74.2 L200.5,74.1 L199.7,74.9 L199.9,76.9 L198.6,77.4 L198.1,77.4 M205.2,74.6 L207.0,74.1 L209.4,74.6 L211.2,75.3 L213.6,76.4 L215.1,77.7 L215.3,79.1 L216.6,80.9 L214.6,80.5 L214.1,79.1 L212.9,78.9 L212.4,79.8 L211.0,79.9 L209.8,79.2 L209.0,77.2 L207.6,76.5 L205.8,75.5 L205.2,74.6 M193.0,88.9 L192.8,91.7 L192.6,94.5 L191.7,97.3 L193.0,98.0 L195.1,97.3 L196.7,97.3 L198.5,96.1 L201.6,95.6 L203.1,96.3 L203.3,97.8 L204.9,96.6 L204.3,98.5 L205.3,98.5 L205.0,100.1 L206.4,100.7 L207.9,100.9 L209.3,100.0 L210.6,99.7 L212.6,97.3 L214.0,95.9 L215.6,93.3 L216.1,91.2 L215.2,90.0 L214.5,89.1 L214.4,87.8 L213.1,86.7 L212.9,84.7 L213.1,83.9 L212.1,83.3 L211.8,81.0 L211.0,82.5 L210.5,85.4 L210.0,85.8 L209.0,85.3 L207.3,84.0 L208.2,82.1 L207.1,82.0 L205.7,81.6 L204.7,82.0 L203.5,83.9 L202.4,83.3 L201.5,83.4 L200.7,84.4 L199.7,85.3 L198.6,86.3 L197.2,87.4 L195.3,87.9 L193.7,88.8 L193.0,88.9 M206.3,102.0 L208.3,102.1 L207.1,103.6 L206.2,104.0 L205.9,103.0 L206.3,102.0 M224.8,97.6 L225.3,99.8 L226.7,99.9 L225.2,101.0 L222.9,102.6 L222.8,102.3 L223.7,101.4 L223.4,101.0 L224.4,100.1 L224.6,98.4 L224.8,97.6 M222.1,101.9 L222.4,102.6 L220.5,104.1 L219.2,104.6 L218.0,105.6 L216.9,106.1 L215.7,105.7 L216.3,105.1 L217.8,104.3 L219.6,103.6 L220.8,102.8 L222.1,101.9 M173.8,68.6 L174.0,66.6 L175.0,68.2 L174.8,69.2 L174.4,69.4 L173.8,68.6 M74.6,58.2 L76.5,57.2 L77.3,57.4 L79.3,58.4 L80.9,59.3 L78.7,59.6 L77.5,58.2 L75.8,58.3 L74.6,58.2 M80.6,60.5 L81.7,59.6 L83.3,59.7 L84.2,60.5 L82.9,60.7 L80.6,60.5 M129.7,21.0 L131.7,20.3 L135.5,20.3 L133.9,21.3 L132.1,22.1 L131.0,21.7 L129.7,21.0 M147.7,25.0 L148.5,23.3 L149.8,22.3 L152.6,22.1 L150.8,23.0 L149.8,24.1 L149.2,25.4 L147.7,25.0 M93.4,40.2 L95.6,38.9 L96.3,37.5 L97.1,39.3 L97.0,40.3 L96.3,40.9 L95.2,40.7 L93.4,40.2 M57.8,38.1 L59.1,38.6 L59.3,39.7 L58.4,39.4 L57.8,38.1 M81.3,23.9 L83.6,23.7 L84.3,24.4 L82.6,25.6 L81.6,24.8 L81.3,23.9 M85.7,23.6 L87.7,23.6 L85.6,24.7 L85.7,23.6 M77.8,22.9 L81.9,22.9 L83.4,22.2 L81.5,22.0 L78.8,22.2 L77.8,22.9 M84.6,22.8 L86.6,22.1 L85.7,22.3 L84.6,22.8 M88.0,21.2 L89.7,21.5 L92.4,20.7 L92.6,19.9 L89.9,20.0 L88.0,21.2 M84.6,29.5 L86.8,30.4 L87.8,29.5 L86.6,28.5 L84.6,29.5 M144.1,20.2 L146.9,19.9 L149.4,20.2 L146.6,20.5 L144.1,20.2 M160.5,20.7 L163.8,20.9 L166.0,21.5 L163.1,20.1 L160.6,19.9 L160.5,20.7 M181.6,23.0 L184.8,23.9 L186.0,22.8 L183.1,22.5 L181.6,23.0 M47.4,25.3 L48.8,25.0 L48.7,25.3 L47.2,25.4 M202.6,25.3 L202.7,25.0 L203.4,25.4 L202.6,25.3 M78.2,60.6 L79.5,60.9 L79.1,61.0 L78.2,60.6 M84.9,60.5 L85.9,60.7 L85.6,60.9 L84.9,60.5 M191.2,60.7 L191.8,59.7 L191.5,59.4 L190.5,60.0 L191.2,60.7 M132.3,46.9 L134.1,46.7 L133.9,47.8 L132.3,46.9 M130.0,46.2 L130.8,44.9 L130.7,46.1 L130.0,46.2 M130.1,43.7 L130.6,43.4 L130.5,44.5 L130.1,43.7 M138.8,48.8 L140.4,48.8 L139.6,49.0 L138.8,48.8 M143.9,49.0 L145.1,48.5 L144.8,49.2 L143.9,49.0 M200.6,80.8 L202.5,79.4 L201.3,79.5 L200.6,80.8 M223.5,87.7 L224.9,89.2 L224.8,88.6 L223.5,87.7 M219.7,77.7 L220.7,79.5 L222.5,80.2 L223.6,81.0 L222.0,79.1 L219.7,77.7 M216.6,77.4 L217.9,76.4 L218.1,77.4 L216.6,77.9 L215.6,77.5 L216.6,77.4 M231.9,85.7 L232.7,85.8 L232.3,86.3 L231.9,85.7 M93.1,109.4 L94.4,109.3 L94.9,109.6 L94.1,109.9 L93.1,109.4 M105.8,111.1 L106.8,111.2 L107.0,111.6 L105.8,111.1 M162.1,107.6 L162.9,107.7 L162.2,108.2 L162.1,107.6 M31.7,60.2 L32.4,59.7 L32.0,59.3 L31.7,60.2 M48.5,34.0 L49.8,33.4 L49.1,33.1 L48.5,34.0 M37.0,36.9 L39.9,36.1 L38.6,36.4 L37.0,36.9 M32.3,37.5 L34.6,37.3 L33.2,37.6 L32.3,37.5 M205.7,43.0 L206.2,42.0 L206.8,41.3 L207.9,39.3 L207.6,38.3 L207.3,39.2 L206.5,41.7 L205.7,43.0 M200.0,64.0 L200.7,64.7 L201.1,65.8 L200.6,66.5 L199.9,65.4 L199.2,64.7 L200.0,64.0 M197.0,67.2 L198.0,66.1 L197.7,65.5 L196.5,67.6 L197.0,67.2 M202.6,75.7 L203.4,76.0 L203.0,76.2 L202.6,75.7 M203.0,72.4 L203.7,73.1 L203.4,74.1 L203.0,73.1 L203.0,72.4 M206.4,73.9 L207.0,74.1 L206.4,74.6 L205.8,74.4 L206.4,73.9 M194.9,79.5 L195.8,79.3 L197.6,79.5 L198.5,79.4 L199.8,79.3 L197.6,79.7 L195.8,79.7 L194.9,79.5 M144.3,52.6 L145.3,54.2 L146.4,56.7 L147.5,58.8 L148.4,60.9 L149.1,62.6 L150.4,64.0 L151.5,64.7 L152.3,66.2 L156.3,65.2 L156.3,66.1 L155.1,69.3 L153.3,72.1 L150.9,74.2 L149.7,75.6 L149.4,77.0 L149.0,78.8 L149.9,80.9 L149.8,84.0 L147.5,86.1 L146.3,87.5 L146.4,90.3 L144.7,91.7 L144.4,93.7 L142.8,95.4 L140.9,97.1 L139.7,97.3 L136.8,97.9 L135.9,97.3 L135.8,95.9 L135.5,94.5 L134.3,92.4 L133.9,89.6 L132.5,86.1 L132.4,84.7 L133.5,81.9 L133.3,79.8 L132.7,77.7 L132.6,77.0 L130.8,74.2 L131.1,72.8 L131.1,71.0 L130.5,70.3 L129.0,70.5 L128.0,69.1 L125.9,69.3 L124.1,70.1 L122.6,69.9 L120.7,70.4 L118.6,68.7 L117.4,67.9 L116.2,65.8 L115.1,64.7 L114.7,63.2 L115.4,61.9 L115.7,60.2 L115.1,58.8 L115.8,56.7 L117.6,54.2 L119.6,52.5 L119.8,50.7 L121.3,49.7 L121.9,48.4 L124.2,48.8 L125.9,47.9 L128.2,47.7 L131.0,47.4 L131.6,48.8 L131.2,49.7 L132.0,50.4 L134.2,50.9 L136.7,52.1 L136.9,51.1 L138.6,50.7 L139.9,51.3 L142.2,51.9 L144.0,51.6 L145.3,51.6 M145.3,51.6 L145.6,50.4 L145.9,48.6 L145.8,47.8 L145.0,47.7 L143.6,48.1 L142.2,48.1 L140.9,47.6 L140.2,46.5 L140.2,45.3 L141.2,44.8 L141.5,44.7 L142.6,44.7 L145.4,44.4 L148.4,44.4 L148.3,43.4 L146.1,42.2 L145.5,40.7 L144.3,41.1 L143.7,42.4 L143.0,41.7 L141.8,41.0 L141.5,41.9 L141.0,42.7 L140.9,44.1 L140.0,44.9 L138.7,44.9 L138.1,45.2 L138.9,46.9 L138.3,47.9 L137.5,47.2 L137.1,45.8 L136.1,44.2 L134.1,43.1 L132.7,41.5 L132.0,41.8 L132.2,42.7 L133.1,43.8 L134.2,44.4 L135.7,45.3 L134.8,45.8 L134.2,46.9 L134.1,45.4 L133.3,44.9 L132.1,44.3 L131.1,43.4 L130.1,42.4 L128.9,43.3 L127.8,43.1 L127.1,44.2 L125.7,45.0 L125.1,45.8 L125.4,46.4 L124.8,47.2 L124.0,47.8 L122.8,47.8 L122.1,48.3 L121.6,47.7 L121.0,47.4 L120.2,47.6 L120.3,46.5 L119.9,45.8 L120.4,44.1 L120.2,43.3 L120.9,42.9 L124.5,43.1 L124.6,41.3 L124.0,40.5 L122.9,40.0 L124.5,39.5 L126.1,38.5 L127.1,37.7 L127.6,36.6 L128.9,36.3 L129.6,34.9 L129.5,34.0 L130.5,33.5 L130.6,34.6 L130.9,35.9 L132.5,35.9 L134.7,35.4 L135.9,34.6 L135.8,33.6 L137.4,33.8 L136.9,32.6 L139.0,32.3 L136.2,31.8 L135.5,30.4 L136.9,28.8 L135.4,28.4 L133.6,30.4 L134.3,32.0 L133.6,34.0 L132.5,35.0 L131.8,34.7 L130.7,32.7 L129.3,33.3 L128.0,32.7 L127.7,31.1 L129.1,29.8 L130.8,28.5 L131.8,27.2 L132.8,26.4 L134.5,25.7 L136.6,25.3 L138.9,25.8 L139.9,26.3 L143.3,27.2 L144.0,27.9 L145.4,27.9 L144.9,26.7 L149.2,26.7 L151.1,26.6 L151.7,26.0 L155.1,25.8 L155.9,24.1 L158.8,23.9 L161.3,23.3 L165.6,22.4 L166.4,21.6 L171.5,23.2 L172.6,23.9 L175.9,24.1 L179.6,24.4 L182.0,25.3 L184.7,24.4 L189.8,25.0 L195.4,25.8 L200.1,26.0 L204.2,26.4 L205.3,26.6 L208.7,28.8 L208.2,29.2 L209.4,30.4 L208.3,31.1 L208.1,32.0 L206.2,33.3 L207.3,34.6 L207.8,36.3 L207.5,37.9 L203.0,33.6 L202.1,31.1 L201.3,32.5 L198.7,32.3 L195.4,32.5 L195.9,35.9 L198.4,36.6 L200.4,39.6 L199.7,43.1 L198.3,43.4 L197.9,44.8 L199.4,48.3 L198.2,49.3 L197.2,47.1 L195.7,45.8 L193.9,46.2 L193.7,45.1 L192.9,44.8 L191.9,46.2 L192.2,46.9 L194.0,47.6 L195.1,47.6 L193.9,49.0 L195.6,51.1 L196.7,52.5 L196.8,53.9 L196.1,55.6 L194.9,57.0 L193.0,57.9 L191.4,58.6 L189.8,58.4 L189.1,59.5 L188.9,60.2 L190.8,62.6 L191.5,65.1 L190.2,66.1 L189.1,67.4 L188.9,66.1 L187.8,65.8 L186.1,64.0 L185.9,65.1 L185.6,67.1 L186.4,68.5 L187.1,68.7 L188.4,70.3 L188.8,72.5 L188.4,72.6 L186.9,71.5 L185.2,67.9 L185.1,66.1 L184.3,62.6 L183.7,61.7 L182.1,62.3 L182.1,60.5 L180.5,59.0 L180.0,57.7 L179.3,58.1 L177.9,58.4 L177.3,58.9 L176.3,59.8 L174.8,61.9 L173.8,62.6 L173.8,64.4 L173.7,66.3 L172.9,67.3 L172.4,67.8 L171.6,66.7 L170.6,64.5 L169.6,62.3 L169.0,60.2 L168.7,58.6 L167.2,58.9 L166.1,57.0 L165.1,56.1 L163.3,55.8 L161.8,55.9 L159.2,55.4 L158.5,54.4 L155.6,54.0 L154.6,52.3 L153.4,52.5 L153.8,53.5 L155.0,54.9 L155.9,56.5 L157.4,56.5 L158.4,55.1 L158.8,56.1 L160.3,57.0 L161.0,57.9 L160.0,60.2 L158.4,61.6 L156.7,62.4 L154.6,63.7 L152.5,64.5 L151.6,64.6 L151.1,63.0 L151.0,61.7 L150.0,59.7 L148.6,58.2 L148.2,56.8 L147.3,55.6 L146.0,53.9 L145.6,52.8 L145.3,51.6 M45.3,26.6 L46.4,27.3 L47.5,28.1 L45.2,29.2 L41.9,28.8 M54.8,125.5 L62.6,125.5 L65.6,125.0 L67.8,124.0 L71.2,123.4 L75.0,123.1 L79.5,123.4 L83.1,122.9 L87.1,122.6 L91.6,122.9 L92.8,121.7 L94.8,120.0 L95.0,118.8 L95.7,117.8 L98.4,117.1 L97.8,117.8 L97.5,119.1 L97.8,120.6 L99.2,122.3 L100.3,123.4 L99.8,124.0 L105.6,125.3 L109.6,125.5 L111.5,125.3 L113.2,124.5 L116.9,123.1 L121.0,122.0 L125.3,121.2 L129.7,121.2 L134.1,121.2 L138.5,120.9 L143.1,120.3 L148.0,119.4 L152.4,119.7 L156.5,120.3 L156.9,121.2 L158.4,120.9 L161.4,119.7 L166.3,119.1 L171.1,118.8 L175.6,118.9 L179.8,119.2 L184.8,118.9 L189.1,119.1 L192.2,120.3 L195.4,121.2 L196.3,122.0 L197.5,122.6 L193.2,124.5 L191.9,125.5 L195.8,125.5" fill="none" stroke="#000" stroke-width="0.45" stroke-opacity="0.85" stroke-linejoin="round"/>
<path d="M59.8,39.3 L74.7,39.3 L74.8,39.0 L77.3,40.0 L79.5,41.0 L80.2,42.0 L79.4,44.1 L81.7,43.2 L83.3,42.6 L84.5,42.0 L86.2,42.0 L87.4,40.9 L88.7,40.6 L88.5,41.8 L88.6,42.2 M63.2,26.1 L56.8,31.8 L57.7,32.6 L59.2,32.3 L59.6,34.7 M57.3,50.7 L58.8,50.6 L60.6,51.6 L62.2,51.6 L63.3,51.2 L64.0,52.8 L64.8,53.2 L65.9,52.6 L66.6,54.2 L67.7,55.4 M64.5,39.3 L63.6,36.1 L66.8,32.0 M66.7,39.3 L71.7,32.0 M70.9,39.3 L75.6,32.0 M74.6,39.3 L76.0,36.7 L80.7,34.1 M83.7,37.6 L82.4,40.7 L84.6,42.0 M95.4,37.7 L91.9,37.3 L91.2,35.3 L93.9,31.9 M57.6,32.0 L79.1,32.0 M64.8,26.4 L63.8,29.2 L64.9,32.0 M71.6,26.7 L74.3,28.8 L77.5,29.5 L75.6,32.0 M56.2,44.1 L63.6,44.1 M63.2,44.8 L68.3,44.8 M60.3,47.6 L71.4,47.6 M74.2,47.9 L81.9,47.9 M73.4,49.0 L77.5,49.0 M68.8,41.4 L72.8,41.4 M67.8,43.4 L70.8,43.4 M68.0,45.5 L71.7,45.5 M58.6,44.1 L57.5,46.2 L59.4,49.0 M63.0,39.3 L61.7,41.3 L60.3,44.1 M61.9,44.1 L60.3,47.6 M64.6,42.0 L63.2,44.8 M64.4,44.8 L61.8,51.6 M69.9,39.3 L67.2,44.8 M68.3,44.8 L67.2,47.6 M66.5,47.9 L65.4,51.1 M68.2,47.9 L67.7,49.3 M73.9,39.3 L72.1,43.1 M72.1,45.5 L70.6,50.0 M75.4,40.7 L75.1,43.1 L74.8,44.4 L74.0,45.2 L74.3,46.5 L74.5,47.6 L73.5,49.0 L72.5,50.4 L71.9,51.8 L72.4,52.8 M76.6,44.3 L75.6,47.0 M74.6,49.0 L73.8,51.8 M78.1,44.3 L77.4,46.1 L78.6,46.5 L80.1,45.1 M76.4,49.0 L75.6,51.8 M80.5,44.1 L80.0,45.7 L82.6,45.7 M85.2,42.0 L84.3,44.8 M74.2,51.8 L75.7,51.8 M70.0,61.0 L71.7,61.0 L71.5,62.4 M69.6,63.3 L70.5,61.4 M71.3,63.4 L72.3,64.4 M73.3,65.8 L74.6,65.8 M93.9,70.6 L91.2,72.2 L88.8,70.0 L86.3,70.7 L84.5,72.1 L82.6,70.7 L83.0,74.2 L82.7,76.4 L80.9,78.6 L80.4,79.8 L82.5,81.2 L85.7,80.5 L85.9,81.9 L88.7,83.1 L89.1,84.9 L90.2,84.9 L90.5,87.5 L92.5,89.3 L93.0,91.4 L93.4,92.6 L92.4,93.5 L91.6,94.7 L94.4,97.1 M83.8,88.9 L84.7,90.7 L84.4,93.1 L84.8,96.6 L84.8,99.4 L85.2,102.2 L86.3,105.7 L86.7,108.4 L87.8,109.7 M83.0,86.3 L83.5,85.8 L83.6,84.0 L83.1,81.2 M83.5,85.8 L84.3,88.2 L85.4,89.5 L87.8,88.9 L89.0,87.2 M81.7,65.1 L81.2,68.2 L84.2,69.3 L84.5,72.1 M77.3,72.5 L79.2,73.5 L79.4,74.2 L77.8,75.6 L76.4,75.9 M80.9,78.6 L82.7,76.4 M87.8,88.9 L90.5,87.5 M90.5,87.5 L91.2,91.4 L93.0,91.4 M91.6,94.7 L91.5,97.0 M88.8,67.5 L88.1,70.0 L88.8,70.0 M90.6,69.3 L89.9,72.4 M92.4,69.6 L92.1,71.9 M120.2,54.1 L122.5,56.0 L125.9,58.8 L127.7,60.0 L132.4,57.0 L134.2,57.4 L139.7,59.5 L139.6,58.1 L140.2,58.1 L147.3,58.1 M139.9,51.4 L140.2,58.1 M132.0,50.4 L130.9,52.3 L131.2,56.0 L132.4,57.0 M124.3,49.0 L124.4,51.1 L122.4,52.5 L120.2,53.4 L120.2,54.1 M115.1,58.6 L117.5,58.6 L117.6,57.4 L118.2,55.3 L120.2,54.1 M118.0,63.3 L118.4,62.6 L122.0,62.6 L121.7,56.0 L122.5,56.0 M134.5,57.4 L134.6,59.1 L133.5,63.7 L134.1,65.1 M139.7,59.5 L138.6,63.0 L139.6,66.5 M126.9,69.0 L127.4,65.3 L127.7,64.0 L133.5,63.7 L134.1,65.1 L133.2,67.9 L132.3,68.9 L130.5,70.2 M132.7,77.7 L135.0,78.4 L136.9,79.1 L138.6,81.2 L139.9,81.2 L141.7,81.9 L142.8,82.9 L143.8,79.3 L143.2,76.3 L143.6,74.2 L143.4,72.8 L144.2,72.0 L142.1,70.0 L140.2,70.0 L136.6,70.7 L135.1,72.1 L136.3,74.2 L135.1,75.6 L132.7,77.0 M132.4,85.6 L137.3,85.8 L139.4,86.1 L140.5,86.0 M137.2,88.9 L137.2,90.9 L137.1,93.4 M135.0,93.5 L137.1,93.4 L137.2,90.9 L138.9,91.2 L141.4,89.1 L144.0,89.2 L144.2,92.3 M146.0,70.3 L150.3,70.7 L150.3,74.7 M146.6,70.0 L147.4,63.5 M150.7,65.8 L152.4,67.9 L154.4,67.9 L152.7,70.0 L150.3,70.7 M146.0,70.3 L146.0,74.2 L148.2,75.6 L149.2,76.8 M149.8,80.9 L146.8,81.6 L146.2,83.3 M140.5,86.0 L142.2,85.1 L143.6,84.4 L145.2,85.2 L144.7,88.2 L144.0,89.2 M118.6,68.7 L119.0,67.5 L118.3,64.7 M120.1,68.2 L120.3,66.1 L122.0,66.2 L123.5,65.8 L123.8,67.9 L123.5,70.0 M125.9,69.3 L125.9,65.8 L125.3,65.8 M134.1,65.1 L135.0,66.5 L136.8,67.2 L138.6,65.8 M139.9,67.5 L141.7,70.0 L143.6,71.0 L146.0,70.3 M138.7,70.3 L139.9,67.5 L139.6,66.5 M143.4,74.2 L144.1,74.2 L146.0,74.2 M143.8,79.3 L145.3,80.2 L146.8,81.6 M138.6,81.2 L138.6,82.6 L139.8,84.7 L140.5,86.0 M124.3,43.2 L127.1,43.8 M121.4,44.1 L121.1,45.8 L121.3,47.4 M126.6,37.9 L128.4,38.9 L129.7,39.3 L129.4,40.2 L128.6,41.1 L129.1,41.5 L129.5,42.9 M128.5,36.3 L129.0,37.9 L128.5,38.5 L128.4,38.9 M129.7,35.3 L130.1,35.4 M132.6,36.0 L133.0,37.9 L131.7,38.4 L132.7,39.5 L132.3,40.3 L130.5,40.3 M137.3,35.7 L137.7,37.3 L138.0,38.3 L137.3,39.3 L135.4,39.0 L133.2,38.1 M130.5,40.3 L131.9,40.7 L132.7,41.0 L134.2,41.0 L134.4,40.0 L135.5,40.0 L137.4,39.8 M135.3,38.9 L134.4,39.6 M139.0,32.3 L139.0,33.6 L139.4,34.6 L137.4,36.0 L141.7,37.3 L142.7,37.1 L146.5,38.9 L145.8,40.7 M135.9,34.6 L138.7,34.8 L139.4,34.6 M138.9,31.7 L140.2,30.2 L138.8,27.2 L138.1,26.1 M131.1,32.6 L131.3,31.1 L131.8,29.2 L132.7,27.3 L134.2,26.4 L135.6,26.7 L137.9,26.1 M135.6,41.3 L137.7,42.6 L141.0,42.9 M136.7,44.1 L137.9,44.7 L139.8,44.3 M137.1,40.0 L139.5,39.8 L140.6,41.0 L141.5,41.8 M134.2,41.0 L135.6,41.3 L136.0,42.4 L135.9,43.8 M137.4,36.0 L139.2,37.6 L138.0,38.3 M150.5,45.7 L150.5,47.4 L149.5,47.5 L146.2,48.1 M150.5,45.7 L151.4,48.4 L151.9,50.4 L153.4,52.5 M149.5,47.5 L148.9,49.3 L147.9,50.9 M145.8,52.9 L147.4,51.4 L148.1,50.9 L149.9,51.7 L152.6,53.1 L153.5,53.5 M151.1,61.9 L153.3,61.4 L156.5,60.2 L158.6,59.5 L158.1,57.6 L156.0,56.5 M156.9,61.9 L157.3,61.8 M160.1,47.9 L160.4,49.5 L161.1,51.4 L161.5,52.5 L162.0,52.9 L162.7,54.6 L161.8,55.8 M156.0,47.4 L157.1,46.9 L160.1,47.9 M151.3,44.8 L152.6,44.4 M147.4,43.1 L149.7,43.6 L151.5,44.7 M152.1,41.0 L151.0,38.6 L153.0,37.6 L157.4,38.1 L156.7,36.3 L160.4,35.1 L164.6,35.9 L167.4,38.1 L169.2,37.9 L171.9,39.2 M154.3,42.0 L155.9,42.0 L159.5,43.1 L161.8,43.5 L163.3,44.8 L164.6,43.5 L166.2,43.3 L169.7,43.8 L169.2,42.0 L171.2,40.7 L171.9,39.2 M155.9,42.0 L156.6,44.6 L157.4,43.5 L158.7,44.1 M159.5,43.1 L159.4,44.8 L161.7,46.2 M163.1,47.4 L163.8,46.5 L165.2,45.5 L166.2,45.1 L167.0,45.8 M171.9,39.2 L173.7,38.1 L176.4,37.3 L178.8,37.7 L182.7,38.9 L185.8,38.5 L187.4,38.8 L187.6,36.9 L190.6,36.7 L195.7,40.2 L196.9,40.0 L197.5,39.6 L197.3,42.4 L197.7,43.8 M171.9,39.2 L174.7,41.3 L178.5,43.6 L183.8,44.4 L186.8,43.1 L188.5,41.7 L190.2,40.9 L187.4,38.8 M169.2,42.0 L169.7,43.8 L168.3,44.8 L167.0,45.8 L168.0,47.4 L170.1,48.6 L171.7,50.7 L172.7,52.5 L175.3,53.7 L177.1,54.0 L179.5,54.0 L182.4,53.7 L183.8,56.0 L183.6,56.7 L185.0,58.4 L186.0,57.7 L187.3,57.5 L188.9,57.5 L189.8,58.4 M167.8,47.6 L167.9,49.3 L168.8,50.7 L168.8,51.8 L167.7,53.9 L166.8,53.9 L166.4,54.9 L167.5,56.3 L166.1,56.9 M167.8,47.6 L166.1,47.9 L166.3,49.7 L165.4,49.8 L165.8,51.4 L164.3,52.6 L162.0,52.9 M160.1,47.9 L162.1,47.6 L163.9,47.4 L165.2,46.6 L167.8,47.6 M172.1,52.1 L174.7,53.5 L177.3,54.6 M177.3,54.9 L178.1,56.0 L179.9,56.0 L180.6,58.4 M182.4,53.7 L181.4,56.0 L181.1,57.7 L180.6,58.4 M183.8,56.0 L183.6,58.4 L185.2,59.1 L184.2,61.2 L184.7,62.3 L185.3,65.1 L185.2,66.5 M186.0,57.7 L185.5,59.5 L186.0,61.0 L187.0,61.2 L188.9,62.3 L189.1,63.6 L187.6,63.6 L187.3,65.1 M187.3,57.5 L187.3,59.1 L188.4,60.5 L190.2,63.0 L189.8,65.1 L188.7,66.1 M186.3,69.0 L187.1,69.4 L187.4,69.2 M195.2,45.5 L196.7,44.1 L197.7,43.8 M197.1,47.0 L198.0,46.5 M196.3,70.5 L195.4,72.1 L194.2,72.4 L192.7,72.7 L192.2,72.2 M211.2,75.3 L211.0,79.9 M203.2,83.9 L200.4,95.7 M201.7,91.7 L208.8,91.7 M208.4,85.1 L207.0,91.7 M208.8,91.7 L205.3,100.1 M208.1,93.8 L212.9,93.5 L215.6,93.3 M206.7,97.3 L207.7,98.7 L209.5,99.8" fill="none" stroke="#000" stroke-width="0.3" stroke-opacity="0.6" stroke-linejoin="round"/></g>
<path d="M183.74,17.00 L188.13,18.35 L193.52,20.42 L199.22,23.01 L204.20,25.84 L208.72,28.85 L212.99,32.00 L216.98,35.26 L220.60,38.61 L223.70,42.02 L226.49,45.49 L228.81,48.98 L230.71,52.48 L232.14,55.98 L233.15,59.49 L234.00,62.99 L234.59,66.49 L234.95,70.00 L235.10,73.50 L234.95,77.00 L234.59,80.51 L234.00,84.01 L233.15,87.51 L232.14,91.02 L230.71,94.52 L228.81,98.02 L226.49,101.51 L223.70,104.98 L220.60,108.39 L216.98,111.74 L212.99,115.00 L208.72,118.15 L204.20,121.16 L199.22,123.99 L193.52,126.58 L188.13,128.65 L183.74,130.00 L66.86,130.00 L62.47,128.65 L57.08,126.58 L51.38,123.99 L46.40,121.16 L41.88,118.15 L37.61,115.00 L33.62,111.74 L30.00,108.39 L26.90,104.98 L24.11,101.51 L21.79,98.02 L19.89,94.52 L18.46,91.02 L17.45,87.51 L16.60,84.01 L16.01,80.51 L15.65,77.00 L15.50,73.50 L15.65,70.00 L16.01,66.49 L16.60,62.99 L17.45,59.49 L18.46,55.98 L19.89,52.48 L21.79,48.98 L24.11,45.49 L26.90,42.02 L30.00,38.61 L33.62,35.26 L37.61,32.00 L41.88,28.85 L46.40,25.84 L51.38,23.01 L57.08,20.42 L62.47,18.35 L66.86,17.00 Z" fill="none" stroke="#000" stroke-width="0.5"/>
<rect x="39" y="145" width="172" height="9.400000000000006" fill="url(#jetg)" stroke="#222" stroke-width="0.4"/>
<path d="M39.00,154.4 v1.3 M82.00,154.4 v1.3 M125.00,154.4 v1.3 M168.00,154.4 v1.3 M211.00,154.4 v1.3" stroke="#222" stroke-width="0.4"/>
<text x="39.0" y="161.6" class="tk" text-anchor="middle">0.00</text>
<text x="82.0" y="161.6" class="tk" text-anchor="middle">0.25</text>
<text x="125.0" y="161.6" class="tk" text-anchor="middle">0.50</text>
<text x="168.0" y="161.6" class="tk" text-anchor="middle">0.75</text>
<text x="211.0" y="161.6" class="tk" text-anchor="middle">1.00</text>
<text x="125.0" y="169.2" class="cbl" text-anchor="middle">Liquid cloud fraction</text>
<text x="382.5" y="10.2" class="title" text-anchor="middle">Three-month average: July - September, 2015</text>
<text x="296.8" y="20.9" class="lbl">(b)</text>
<text x="292.2" y="30.0" class="ll" text-anchor="end">60°N</text>
<text x="274.2" y="51.9" class="ll" text-anchor="end">30°N</text>
<text x="269.9" y="74.6" class="ll" text-anchor="end">0°</text>
<text x="274.4" y="98.9" class="ll" text-anchor="end">30°S</text>
<text x="292.2" y="118.6" class="ll" text-anchor="end">60°S</text>
<text x="344.3" y="137.0" class="ll" text-anchor="middle">120°W</text>
<text x="363.8" y="137.0" class="ll" text-anchor="middle">60°W</text>
<text x="383.3" y="137.0" class="ll" text-anchor="middle">0°</text>
<text x="402.8" y="137.0" class="ll" text-anchor="middle">60°E</text>
<text x="422.3" y="137.0" class="ll" text-anchor="middle">120°E</text>
<clipPath id="clipb"><path d="M440.94,17.00 L445.33,18.35 L450.72,20.42 L456.42,23.01 L461.40,25.84 L465.92,28.85 L470.19,32.00 L474.18,35.26 L477.80,38.61 L480.90,42.02 L483.69,45.49 L486.01,48.98 L487.91,52.48 L489.34,55.98 L490.35,59.49 L491.20,62.99 L491.79,66.49 L492.15,70.00 L492.30,73.50 L492.15,77.00 L491.79,80.51 L491.20,84.01 L490.35,87.51 L489.34,91.02 L487.91,94.52 L486.01,98.02 L483.69,101.51 L480.90,104.98 L477.80,108.39 L474.18,111.74 L470.19,115.00 L465.92,118.15 L461.40,121.16 L456.42,123.99 L450.72,126.58 L445.33,128.65 L440.94,130.00 L324.06,130.00 L319.67,128.65 L314.28,126.58 L308.58,123.99 L303.60,121.16 L299.08,118.15 L294.81,115.00 L290.82,111.74 L287.20,108.39 L284.10,104.98 L281.31,101.51 L278.99,98.02 L277.09,94.52 L275.66,91.02 L274.65,87.51 L273.80,84.01 L273.21,80.51 L272.85,77.00 L272.70,73.50 L272.85,70.00 L273.21,66.49 L273.80,62.99 L274.65,59.49 L275.66,55.98 L277.09,52.48 L278.99,48.98 L281.31,45.49 L284.10,42.02 L287.20,38.61 L290.82,35.26 L294.81,32.00 L299.08,28.85 L303.60,25.84 L308.58,23.01 L314.28,20.42 L319.67,18.35 L324.06,17.00 Z"/></clipPath>
<g clip-path="url(#clipb)">
<path d="M294.8,115.0 L299.7,115.0 L304.6,115.0 L309.4,115.0 L314.3,115.0 L319.2,115.0 L324.0,115.0 L328.9,115.0 L333.8,115.0 L338.7,115.0 L343.5,115.0 L348.4,115.0 L353.3,115.0 L358.1,115.0 L363.0,115.0 L367.9,115.0 L372.8,115.0 L377.6,115.0 L382.5,115.0 L387.4,115.0 L392.2,115.0 L397.1,115.0 L402.0,115.0 L406.9,115.0 L411.7,115.0 L416.6,115.0 L421.5,115.0 L426.3,115.0 L431.2,115.0 L436.1,115.0 L441.0,115.0 L445.8,115.0 L450.7,115.0 L455.6,115.0 L460.4,115.0 L465.3,115.0 L470.2,115.0 M277.1,94.5 L282.9,94.5 L288.8,94.5 L294.7,94.5 L300.5,94.5 L306.4,94.5 L312.2,94.5 L318.1,94.5 L323.9,94.5 L329.8,94.5 L335.7,94.5 L341.5,94.5 L347.4,94.5 L353.2,94.5 L359.1,94.5 L364.9,94.5 L370.8,94.5 L376.6,94.5 L382.5,94.5 L388.4,94.5 L394.2,94.5 L400.1,94.5 L405.9,94.5 L411.8,94.5 L417.6,94.5 L423.5,94.5 L429.3,94.5 L435.2,94.5 L441.1,94.5 L446.9,94.5 L452.8,94.5 L458.6,94.5 L464.5,94.5 L470.3,94.5 L476.2,94.5 L482.1,94.5 L487.9,94.5 M272.7,73.5 L278.8,73.5 L284.9,73.5 L291.0,73.5 L297.1,73.5 L303.2,73.5 L309.3,73.5 L315.4,73.5 L321.5,73.5 L327.6,73.5 L333.7,73.5 L339.8,73.5 L345.9,73.5 L352.0,73.5 L358.1,73.5 L364.2,73.5 L370.3,73.5 L376.4,73.5 L382.5,73.5 L388.6,73.5 L394.7,73.5 L400.8,73.5 L406.9,73.5 L413.0,73.5 L419.1,73.5 L425.2,73.5 L431.3,73.5 L437.4,73.5 L443.5,73.5 L449.6,73.5 L455.7,73.5 L461.8,73.5 L467.9,73.5 L474.0,73.5 L480.1,73.5 L486.2,73.5 L492.3,73.5 M277.1,52.5 L282.9,52.5 L288.8,52.5 L294.7,52.5 L300.5,52.5 L306.4,52.5 L312.2,52.5 L318.1,52.5 L323.9,52.5 L329.8,52.5 L335.7,52.5 L341.5,52.5 L347.4,52.5 L353.2,52.5 L359.1,52.5 L364.9,52.5 L370.8,52.5 L376.6,52.5 L382.5,52.5 L388.4,52.5 L394.2,52.5 L400.1,52.5 L405.9,52.5 L411.8,52.5 L417.6,52.5 L423.5,52.5 L429.3,52.5 L435.2,52.5 L441.1,52.5 L446.9,52.5 L452.8,52.5 L458.6,52.5 L464.5,52.5 L470.3,52.5 L476.2,52.5 L482.1,52.5 L487.9,52.5 M294.8,32.0 L299.7,32.0 L304.6,32.0 L309.4,32.0 L314.3,32.0 L319.2,32.0 L324.0,32.0 L328.9,32.0 L333.8,32.0 L338.7,32.0 L343.5,32.0 L348.4,32.0 L353.3,32.0 L358.1,32.0 L363.0,32.0 L367.9,32.0 L372.8,32.0 L377.6,32.0 L382.5,32.0 L387.4,32.0 L392.2,32.0 L397.1,32.0 L402.0,32.0 L406.9,32.0 L411.7,32.0 L416.6,32.0 L421.5,32.0 L426.3,32.0 L431.2,32.0 L436.1,32.0 L441.0,32.0 L445.8,32.0 L450.7,32.0 L455.6,32.0 L460.4,32.0 L465.3,32.0 L470.2,32.0 M343.5,130.0 L340.6,128.6 L337.0,126.6 L333.2,124.0 L329.9,121.2 L326.9,118.2 L324.0,115.0 L321.4,111.7 L319.0,108.4 L316.9,105.0 L315.0,101.5 L313.5,98.0 L312.2,94.5 L311.3,91.0 L310.6,87.5 L310.0,84.0 L309.6,80.5 L309.4,77.0 L309.3,73.5 L309.4,70.0 L309.6,66.5 L310.0,63.0 L310.6,59.5 L311.3,56.0 L312.2,52.5 L313.5,49.0 L315.0,45.5 L316.9,42.0 L319.0,38.6 L321.4,35.3 L324.0,32.0 L326.9,28.8 L329.9,25.8 L333.2,23.0 L337.0,20.4 L340.6,18.4 L343.5,17.0 M363.0,130.0 L361.6,128.6 L359.8,126.6 L357.9,124.0 L356.2,121.2 L354.7,118.2 L353.3,115.0 L351.9,111.7 L350.7,108.4 L349.7,105.0 L348.8,101.5 L348.0,98.0 L347.4,94.5 L346.9,91.0 L346.6,87.5 L346.3,84.0 L346.1,80.5 L346.0,77.0 L345.9,73.5 L346.0,70.0 L346.1,66.5 L346.3,63.0 L346.6,59.5 L346.9,56.0 L347.4,52.5 L348.0,49.0 L348.8,45.5 L349.7,42.0 L350.7,38.6 L351.9,35.3 L353.3,32.0 L354.7,28.8 L356.2,25.8 L357.9,23.0 L359.8,20.4 L361.6,18.4 L363.0,17.0 M382.5,130.0 L382.5,128.6 L382.5,126.6 L382.5,124.0 L382.5,121.2 L382.5,118.2 L382.5,115.0 L382.5,111.7 L382.5,108.4 L382.5,105.0 L382.5,101.5 L382.5,98.0 L382.5,94.5 L382.5,91.0 L382.5,87.5 L382.5,84.0 L382.5,80.5 L382.5,77.0 L382.5,73.5 L382.5,70.0 L382.5,66.5 L382.5,63.0 L382.5,59.5 L382.5,56.0 L382.5,52.5 L382.5,49.0 L382.5,45.5 L382.5,42.0 L382.5,38.6 L382.5,35.3 L382.5,32.0 L382.5,28.8 L382.5,25.8 L382.5,23.0 L382.5,20.4 L382.5,18.4 L382.5,17.0 M402.0,130.0 L403.4,128.6 L405.2,126.6 L407.1,124.0 L408.8,121.2 L410.3,118.2 L411.7,115.0 L413.1,111.7 L414.3,108.4 L415.3,105.0 L416.2,101.5 L417.0,98.0 L417.6,94.5 L418.1,91.0 L418.4,87.5 L418.7,84.0 L418.9,80.5 L419.0,77.0 L419.1,73.5 L419.0,70.0 L418.9,66.5 L418.7,63.0 L418.4,59.5 L418.1,56.0 L417.6,52.5 L417.0,49.0 L416.2,45.5 L415.3,42.0 L414.3,38.6 L413.1,35.3 L411.7,32.0 L410.3,28.8 L408.8,25.8 L407.1,23.0 L405.2,20.4 L403.4,18.4 L402.0,17.0 M421.5,130.0 L424.4,128.6 L428.0,126.6 L431.8,124.0 L435.1,121.2 L438.1,118.2 L441.0,115.0 L443.6,111.7 L446.0,108.4 L448.1,105.0 L450.0,101.5 L451.5,98.0 L452.8,94.5 L453.7,91.0 L454.4,87.5 L455.0,84.0 L455.4,80.5 L455.6,77.0 L455.7,73.5 L455.6,70.0 L455.4,66.5 L455.0,63.0 L454.4,59.5 L453.7,56.0 L452.8,52.5 L451.5,49.0 L450.0,45.5 L448.1,42.0 L446.0,38.6 L443.6,35.3 L441.0,32.0 L438.1,28.8 L435.1,25.8 L431.8,23.0 L428.0,20.4 L424.4,18.4 L421.5,17.0" fill="none" stroke="#000" stroke-width="0.3" stroke-opacity="0.22"/>
<path d="M305.2,28.5 L305.2,29.2 L307.5,29.2 L304.9,30.0 L304.1,30.4 L302.5,31.7 L303.4,32.1 L303.5,33.0 L299.5,35.3 L303.1,34.3 L306.1,33.3 L308.8,31.7 L309.1,32.3 L311.9,31.5 L314.2,32.1 L315.2,33.1 L315.9,34.0 L315.8,35.6 L316.0,36.9 L316.0,38.3 L317.0,39.3 L315.8,39.7 L315.3,41.1 L313.8,43.4 L313.0,45.1 L312.8,47.2 L313.0,49.3 L314.1,49.7 L314.6,50.7 L314.7,52.1 L315.0,54.0 L316.0,56.1 L317.3,57.4 L317.1,56.7 L316.1,53.2 L315.7,51.2 L316.8,51.4 L318.3,53.9 L319.5,57.6 L319.3,59.5 L321.7,61.4 L324.0,62.4 L325.5,62.3 L327.2,63.7 L329.5,64.4 L330.5,66.5 L332.0,67.7 L333.8,68.4 L335.4,67.5 L334.2,66.8 L333.0,67.2 L331.9,65.8 L332.3,63.0 L331.8,62.4 L329.3,62.3 L329.8,60.7 L330.5,58.4 L328.4,58.8 L327.9,60.4 L325.7,60.7 L325.2,60.4 L324.1,58.1 L324.6,56.0 L325.2,54.2 L327.4,52.8 L329.7,53.2 L330.4,52.3 L332.7,52.5 L333.8,53.2 L334.0,54.9 L334.7,55.8 L335.3,54.6 L335.3,51.4 L338.8,49.0 L339.4,46.9 L341.0,45.1 L343.5,44.2 L343.9,43.1 L346.1,43.1 L347.4,42.4 L349.9,41.3 L348.0,39.6 L350.6,40.0 L353.5,37.6 L352.8,37.3 L351.4,34.6 L351.1,31.9 L348.3,32.8 L347.8,31.4 L345.6,30.5 L344.0,33.0 L343.5,34.9 L340.9,37.6 L340.7,35.3 L338.3,34.3 L335.9,32.8 L337.6,31.4 L341.8,29.5 L345.1,27.9 L344.8,26.4 L339.9,27.0 L335.4,27.0 L331.2,26.7 L326.4,25.8 L320.4,26.1 L315.2,25.1 L311.5,25.8 L305.2,28.5 M354.4,27.6 L351.4,30.4 L348.8,30.4 L346.2,29.2 L349.3,27.0 L347.4,25.8 L344.2,25.6 L344.3,24.4 L347.4,23.7 L349.9,24.3 L352.0,25.6 L353.0,26.1 L354.4,27.6 M331.3,25.0 L330.6,26.4 L335.7,26.7 L338.1,26.0 L338.5,24.3 L336.1,24.1 L334.2,24.0 L331.3,25.0 M350.3,22.3 L346.4,22.2 L348.5,20.7 L349.2,19.8 L355.4,19.2 L359.9,19.4 L355.7,20.7 L350.3,22.3 M349.4,23.3 L344.6,23.1 L344.0,22.2 L349.8,22.1 L349.4,23.3 M329.1,24.7 L330.5,25.0 L333.3,24.4 L333.1,23.5 L331.1,23.4 L329.1,24.7 M354.0,21.4 L357.2,20.3 L360.5,19.6 L366.1,19.4 L371.8,19.0 L375.2,19.6 L375.6,20.9 L374.4,22.5 L374.0,24.7 L372.9,25.7 L371.4,26.7 L367.7,27.0 L364.1,28.5 L361.6,32.0 L360.3,31.5 L358.9,30.1 L358.3,27.9 L358.7,26.1 L360.3,25.6 L358.8,25.0 L358.9,22.8 L355.8,22.5 L354.0,21.4 M372.0,29.5 L371.4,28.5 L372.5,28.0 L375.2,27.9 L376.2,28.8 L374.0,29.9 L372.0,29.5 M335.7,67.9 L336.7,65.9 L338.9,65.1 L339.1,65.9 L341.2,66.1 L343.7,66.1 L345.5,66.1 L346.0,67.5 L347.8,69.3 L350.8,70.0 L352.0,72.4 L352.6,74.2 L355.7,75.3 L358.1,75.6 L360.0,76.9 L361.2,77.7 L361.2,79.8 L360.1,81.9 L358.9,83.3 L359.1,86.1 L358.6,87.9 L357.5,89.6 L355.7,90.2 L353.8,91.7 L353.9,93.5 L352.7,95.2 L351.9,97.0 L350.9,98.0 L348.8,97.6 L349.7,99.1 L349.9,100.1 L347.5,100.8 L347.6,102.1 L346.2,102.2 L346.7,103.2 L346.7,105.0 L345.9,106.0 L347.1,107.0 L346.4,108.7 L346.5,109.7 L347.2,110.7 L349.4,111.7 L348.0,112.1 L346.1,111.1 L343.8,110.1 L342.0,107.0 L342.0,105.0 L341.5,102.6 L340.7,99.8 L340.9,95.9 L340.5,93.1 L340.5,89.6 L340.3,86.5 L338.8,85.3 L336.6,83.3 L334.8,80.2 L333.2,77.7 L333.2,76.7 L333.7,75.3 L333.4,73.5 L334.0,72.4 L335.3,71.0 L335.5,68.9 L335.7,67.9 M412.4,81.9 L413.0,84.4 L412.3,85.8 L410.7,90.9 L409.2,91.4 L408.5,88.9 L409.2,85.4 L410.6,84.5 L411.5,83.0 L412.4,81.9 M408.1,41.7 L409.3,41.0 L411.1,40.7 L411.5,42.0 L410.6,42.4 L411.9,44.1 L412.7,44.9 L413.2,47.4 L411.6,47.8 L410.3,47.2 L410.3,45.1 L409.5,44.2 L408.8,43.4 L408.1,41.7 M379.5,38.6 L380.9,38.2 L383.2,37.8 L383.4,36.8 L382.6,36.3 L381.7,35.1 L381.5,34.6 L381.6,33.6 L380.9,32.9 L380.0,32.9 L379.4,33.6 L379.7,34.4 L380.0,35.3 L380.9,35.6 L381.0,36.4 L380.2,36.4 L380.3,37.1 L379.8,37.5 L380.7,37.7 L379.5,38.6 M379.4,37.1 L379.3,36.1 L379.6,35.5 L378.7,35.1 L378.2,35.6 L377.4,35.9 L377.4,37.3 L378.3,37.5 L379.4,37.1 M458.3,51.6 L459.1,51.4 L458.8,50.0 L460.6,50.0 L461.2,49.5 L462.5,49.1 L463.2,48.5 L462.5,46.9 L462.5,45.8 L461.4,44.5 L461.0,45.1 L461.5,46.2 L460.6,47.6 L460.2,48.6 L458.8,48.6 L458.0,49.5 L457.6,50.2 L458.3,51.6 M460.6,44.4 L460.9,43.7 L462.3,44.1 L462.8,43.2 L459.9,41.8 L459.9,43.2 L460.6,44.4 M459.6,41.3 L458.7,38.9 L455.6,35.7 L456.8,37.6 L459.6,41.3 M454.2,57.7 L454.6,56.0 L454.9,56.3 L454.6,58.2 L454.2,57.7 M454.7,60.5 L456.0,60.6 L455.9,62.6 L457.5,63.8 L456.6,64.3 L455.4,63.6 L454.7,60.5 M456.7,68.5 L458.7,66.8 L459.4,68.2 L458.9,69.4 L457.6,68.2 L456.7,68.5 M449.0,72.2 L450.5,71.5 L451.7,70.8 L452.8,69.6 L453.7,68.6 L455.0,69.9 L454.4,70.6 L454.3,72.8 L455.1,72.9 L454.2,73.5 L453.5,75.3 L453.2,76.3 L452.3,76.0 L451.4,75.7 L449.8,75.6 L449.6,74.6 L449.0,73.9 L449.0,72.2 M440.5,69.6 L441.9,69.9 L443.6,71.9 L445.6,74.2 L447.1,75.6 L446.9,77.6 L446.1,77.6 L444.8,76.3 L443.7,74.2 L442.7,72.2 L440.5,69.6 M446.5,78.3 L448.2,77.8 L450.1,78.1 L452.1,78.9 L452.0,79.6 L450.0,79.2 L448.2,79.0 L447.0,78.7 L446.5,78.3 M455.3,77.4 L455.4,73.5 L456.0,72.8 L458.6,72.4 L457.5,73.1 L456.6,74.2 L457.7,74.1 L456.9,74.9 L457.1,76.9 L455.8,77.4 L455.3,77.4 M462.4,74.6 L464.2,74.1 L466.6,74.6 L468.4,75.3 L470.8,76.4 L472.3,77.7 L472.5,79.1 L473.8,80.9 L471.8,80.5 L471.3,79.1 L470.1,78.9 L469.6,79.8 L468.2,79.9 L467.0,79.2 L466.2,77.2 L464.8,76.5 L463.0,75.5 L462.4,74.6 M450.2,88.9 L450.0,91.7 L449.8,94.5 L448.9,97.3 L450.2,98.0 L452.3,97.3 L453.9,97.3 L455.7,96.1 L458.8,95.6 L460.3,96.3 L460.5,97.8 L462.1,96.6 L461.5,98.5 L462.5,98.5 L462.2,100.1 L463.6,100.7 L465.1,100.9 L466.5,100.0 L467.8,99.7 L469.8,97.3 L471.2,95.9 L472.8,93.3 L473.3,91.2 L472.4,90.0 L471.7,89.1 L471.6,87.8 L470.3,86.7 L470.1,84.7 L470.3,83.9 L469.3,83.3 L469.0,81.0 L468.2,82.5 L467.7,85.4 L467.2,85.8 L466.2,85.3 L464.5,84.0 L465.4,82.1 L464.3,82.0 L462.9,81.6 L461.9,82.0 L460.7,83.9 L459.6,83.3 L458.7,83.4 L457.9,84.4 L456.9,85.3 L455.8,86.3 L454.4,87.4 L452.5,87.9 L450.9,88.8 L450.2,88.9 M463.5,102.0 L465.5,102.1 L464.3,103.6 L463.4,104.0 L463.1,103.0 L463.5,102.0 M482.0,97.6 L482.5,99.8 L483.9,99.9 L482.4,101.0 L480.1,102.6 L480.0,102.3 L480.9,101.4 L480.6,101.0 L481.6,100.1 L481.8,98.4 L482.0,97.6 M479.3,101.9 L479.6,102.6 L477.7,104.1 L476.4,104.6 L475.2,105.6 L474.1,106.1 L472.9,105.7 L473.5,105.1 L475.0,104.3 L476.8,103.6 L478.0,102.8 L479.3,101.9 M431.0,68.6 L431.2,66.6 L432.2,68.2 L432.0,69.2 L431.6,69.4 L431.0,68.6 M331.8,58.2 L333.7,57.2 L334.5,57.4 L336.5,58.4 L338.1,59.3 L335.9,59.6 L334.7,58.2 L333.0,58.3 L331.8,58.2 M337.8,60.5 L338.9,59.6 L340.5,59.7 L341.4,60.5 L340.1,60.7 L337.8,60.5 M386.9,21.0 L388.9,20.3 L392.7,20.3 L391.1,21.3 L389.3,22.1 L388.2,21.7 L386.9,21.0 M404.9,25.0 L405.7,23.3 L407.0,22.3 L409.8,22.1 L408.0,23.0 L407.0,24.1 L406.4,25.4 L404.9,25.0 M350.6,40.2 L352.8,38.9 L353.5,37.5 L354.3,39.3 L354.2,40.3 L353.5,40.9 L352.4,40.7 L350.6,40.2 M315.0,38.1 L316.3,38.6 L316.5,39.7 L315.6,39.4 L315.0,38.1 M338.5,23.9 L340.8,23.7 L341.5,24.4 L339.8,25.6 L338.8,24.8 L338.5,23.9 M342.9,23.6 L344.9,23.6 L342.8,24.7 L342.9,23.6 M335.0,22.9 L339.1,22.9 L340.6,22.2 L338.7,22.0 L336.0,22.2 L335.0,22.9 M341.8,22.8 L343.8,22.1 L342.9,22.3 L341.8,22.8 M345.2,21.2 L346.9,21.5 L349.6,20.7 L349.8,19.9 L347.1,20.0 L345.2,21.2 M341.8,29.5 L344.0,30.4 L345.0,29.5 L343.8,28.5 L341.8,29.5 M401.3,20.2 L404.1,19.9 L406.6,20.2 L403.8,20.5 L401.3,20.2 M417.7,20.7 L421.0,20.9 L423.2,21.5 L420.3,20.1 L417.8,19.9 L417.7,20.7 M438.8,23.0 L442.0,23.9 L443.2,22.8 L440.3,22.5 L438.8,23.0 M304.6,25.3 L306.0,25.0 L305.9,25.3 L304.4,25.4 M459.8,25.3 L459.9,25.0 L460.6,25.4 L459.8,25.3 M335.4,60.6 L336.7,60.9 L336.3,61.0 L335.4,60.6 M342.1,60.5 L343.1,60.7 L342.8,60.9 L342.1,60.5 M448.4,60.7 L449.0,59.7 L448.7,59.4 L447.7,60.0 L448.4,60.7 M389.5,46.9 L391.3,46.7 L391.1,47.8 L389.5,46.9 M387.2,46.2 L388.0,44.9 L387.9,46.1 L387.2,46.2 M387.3,43.7 L387.8,43.4 L387.7,44.5 L387.3,43.7 M396.0,48.8 L397.6,48.8 L396.8,49.0 L396.0,48.8 M401.1,49.0 L402.3,48.5 L402.0,49.2 L401.1,49.0 M457.8,80.8 L459.7,79.4 L458.5,79.5 L457.8,80.8 M480.7,87.7 L482.1,89.2 L482.0,88.6 L480.7,87.7 M476.9,77.7 L477.9,79.5 L479.7,80.2 L480.8,81.0 L479.2,79.1 L476.9,77.7 M473.8,77.4 L475.1,76.4 L475.3,77.4 L473.8,77.9 L472.8,77.5 L473.8,77.4 M489.1,85.7 L489.9,85.8 L489.5,86.3 L489.1,85.7 M350.3,109.4 L351.6,109.3 L352.1,109.6 L351.3,109.9 L350.3,109.4 M363.0,111.1 L364.0,111.2 L364.2,111.6 L363.0,111.1 M419.3,107.6 L420.1,107.7 L419.4,108.2 L419.3,107.6 M288.9,60.2 L289.6,59.7 L289.2,59.3 L288.9,60.2 M305.7,34.0 L307.0,33.4 L306.3,33.1 L305.7,34.0 M294.2,36.9 L297.1,36.1 L295.8,36.4 L294.2,36.9 M289.5,37.5 L291.8,37.3 L290.4,37.6 L289.5,37.5 M462.9,43.0 L463.4,42.0 L464.0,41.3 L465.1,39.3 L464.8,38.3 L464.5,39.2 L463.7,41.7 L462.9,43.0 M457.2,64.0 L457.9,64.7 L458.3,65.8 L457.8,66.5 L457.1,65.4 L456.4,64.7 L457.2,64.0 M454.2,67.2 L455.2,66.1 L454.9,65.5 L453.7,67.6 L454.2,67.2 M459.8,75.7 L460.6,76.0 L460.2,76.2 L459.8,75.7 M460.2,72.4 L460.9,73.1 L460.6,74.1 L460.2,73.1 L460.2,72.4 M463.6,73.9 L464.2,74.1 L463.6,74.6 L463.0,74.4 L463.6,73.9 M452.1,79.5 L453.0,79.3 L454.8,79.5 L455.7,79.4 L457.0,79.3 L454.8,79.7 L453.0,79.7 L452.1,79.5 M401.5,52.6 L402.5,54.2 L403.6,56.7 L404.7,58.8 L405.6,60.9 L406.3,62.6 L407.6,64.0 L408.7,64.7 L409.5,66.2 L413.5,65.2 L413.5,66.1 L412.3,69.3 L410.5,72.1 L408.1,74.2 L406.9,75.6 L406.6,77.0 L406.2,78.8 L407.1,80.9 L407.0,84.0 L404.7,86.1 L403.5,87.5 L403.6,90.3 L401.9,91.7 L401.6,93.7 L400.0,95.4 L398.1,97.1 L396.9,97.3 L394.0,97.9 L393.1,97.3 L393.0,95.9 L392.7,94.5 L391.5,92.4 L391.1,89.6 L389.7,86.1 L389.6,84.7 L390.7,81.9 L390.5,79.8 L389.9,77.7 L389.8,77.0 L388.0,74.2 L388.3,72.8 L388.3,71.0 L387.7,70.3 L386.2,70.5 L385.2,69.1 L383.1,69.3 L381.3,70.1 L379.8,69.9 L377.9,70.4 L375.8,68.7 L374.6,67.9 L373.4,65.8 L372.3,64.7 L371.9,63.2 L372.6,61.9 L372.9,60.2 L372.3,58.8 L373.0,56.7 L374.8,54.2 L376.8,52.5 L377.0,50.7 L378.5,49.7 L379.1,48.4 L381.4,48.8 L383.1,47.9 L385.4,47.7 L388.2,47.4 L388.8,48.8 L388.4,49.7 L389.2,50.4 L391.4,50.9 L393.9,52.1 L394.1,51.1 L395.8,50.7 L397.1,51.3 L399.4,51.9 L401.2,51.6 L402.5,51.6 M402.5,51.6 L402.8,50.4 L403.1,48.6 L403.0,47.8 L402.2,47.7 L400.8,48.1 L399.4,48.1 L398.1,47.6 L397.4,46.5 L397.4,45.3 L398.4,44.8 L398.7,44.7 L399.8,44.7 L402.6,44.4 L405.6,44.4 L405.5,43.4 L403.3,42.2 L402.7,40.7 L401.5,41.1 L400.9,42.4 L400.2,41.7 L399.0,41.0 L398.7,41.9 L398.2,42.7 L398.1,44.1 L397.2,44.9 L395.9,44.9 L395.3,45.2 L396.1,46.9 L395.5,47.9 L394.7,47.2 L394.3,45.8 L393.3,44.2 L391.3,43.1 L389.9,41.5 L389.2,41.8 L389.4,42.7 L390.3,43.8 L391.4,44.4 L392.9,45.3 L392.0,45.8 L391.4,46.9 L391.3,45.4 L390.5,44.9 L389.3,44.3 L388.3,43.4 L387.3,42.4 L386.1,43.3 L385.0,43.1 L384.3,44.2 L382.9,45.0 L382.3,45.8 L382.6,46.4 L382.0,47.2 L381.2,47.8 L380.0,47.8 L379.3,48.3 L378.8,47.7 L378.2,47.4 L377.4,47.6 L377.5,46.5 L377.1,45.8 L377.6,44.1 L377.4,43.3 L378.1,42.9 L381.7,43.1 L381.8,41.3 L381.2,40.5 L380.1,40.0 L381.7,39.5 L383.3,38.5 L384.3,37.7 L384.8,36.6 L386.1,36.3 L386.8,34.9 L386.7,34.0 L387.7,33.5 L387.8,34.6 L388.1,35.9 L389.7,35.9 L391.9,35.4 L393.1,34.6 L393.0,33.6 L394.6,33.8 L394.1,32.6 L396.2,32.3 L393.4,31.8 L392.7,30.4 L394.1,28.8 L392.6,28.4 L390.8,30.4 L391.5,32.0 L390.8,34.0 L389.7,35.0 L389.0,34.7 L387.9,32.7 L386.5,33.3 L385.2,32.7 L384.9,31.1 L386.3,29.8 L388.0,28.5 L389.0,27.2 L390.0,26.4 L391.7,25.7 L393.8,25.3 L396.1,25.8 L397.1,26.3 L400.5,27.2 L401.2,27.9 L402.6,27.9 L402.1,26.7 L406.4,26.7 L408.3,26.6 L408.9,26.0 L412.3,25.8 L413.1,24.1 L416.0,23.9 L418.5,23.3 L422.8,22.4 L423.6,21.6 L428.7,23.2 L429.8,23.9 L433.1,24.1 L436.8,24.4 L439.2,25.3 L441.9,24.4 L447.0,25.0 L452.6,25.8 L457.3,26.0 L461.4,26.4 L462.5,26.6 L465.9,28.8 L465.4,29.2 L466.6,30.4 L465.5,31.1 L465.3,32.0 L463.4,33.3 L464.5,34.6 L465.0,36.3 L464.7,37.9 L460.2,33.6 L459.3,31.1 L458.5,32.5 L455.9,32.3 L452.6,32.5 L453.1,35.9 L455.6,36.6 L457.6,39.6 L456.9,43.1 L455.5,43.4 L455.1,44.8 L456.6,48.3 L455.4,49.3 L454.4,47.1 L452.9,45.8 L451.1,46.2 L450.9,45.1 L450.1,44.8 L449.1,46.2 L449.4,46.9 L451.2,47.6 L452.3,47.6 L451.1,49.0 L452.8,51.1 L453.9,52.5 L454.0,53.9 L453.3,55.6 L452.1,57.0 L450.2,57.9 L448.6,58.6 L447.0,58.4 L446.3,59.5 L446.1,60.2 L448.0,62.6 L448.7,65.1 L447.4,66.1 L446.3,67.4 L446.1,66.1 L445.0,65.8 L443.3,64.0 L443.1,65.1 L442.8,67.1 L443.6,68.5 L444.3,68.7 L445.6,70.3 L446.0,72.5 L445.6,72.6 L444.1,71.5 L442.4,67.9 L442.3,66.1 L441.5,62.6 L440.9,61.7 L439.3,62.3 L439.3,60.5 L437.7,59.0 L437.2,57.7 L436.5,58.1 L435.1,58.4 L434.5,58.9 L433.5,59.8 L432.0,61.9 L431.0,62.6 L431.0,64.4 L430.9,66.3 L430.1,67.3 L429.6,67.8 L428.8,66.7 L427.8,64.5 L426.8,62.3 L426.2,60.2 L425.9,58.6 L424.4,58.9 L423.3,57.0 L422.3,56.1 L420.5,55.8 L419.0,55.9 L416.4,55.4 L415.7,54.4 L412.8,54.0 L411.8,52.3 L410.6,52.5 L411.0,53.5 L412.2,54.9 L413.1,56.5 L414.6,56.5 L415.6,55.1 L416.0,56.1 L417.5,57.0 L418.2,57.9 L417.2,60.2 L415.6,61.6 L413.9,62.4 L411.8,63.7 L409.7,64.5 L408.8,64.6 L408.3,63.0 L408.2,61.7 L407.2,59.7 L405.8,58.2 L405.4,56.8 L404.5,55.6 L403.2,53.9 L402.8,52.8 L402.5,51.6 M302.5,26.6 L303.6,27.3 L304.7,28.1 L302.4,29.2 L299.1,28.8 M312.0,125.5 L319.8,125.5 L322.8,125.0 L325.0,124.0 L328.4,123.4 L332.2,123.1 L336.7,123.4 L340.3,122.9 L344.3,122.6 L348.8,122.9 L350.0,121.7 L352.0,120.0 L352.2,118.8 L352.9,117.8 L355.6,117.1 L355.0,117.8 L354.7,119.1 L355.0,120.6 L356.4,122.3 L357.5,123.4 L357.0,124.0 L362.8,125.3 L366.8,125.5 L368.7,125.3 L370.4,124.5 L374.1,123.1 L378.2,122.0 L382.5,121.2 L386.9,121.2 L391.3,121.2 L395.7,120.9 L400.3,120.3 L405.2,119.4 L409.6,119.7 L413.7,120.3 L414.1,121.2 L415.6,120.9 L418.6,119.7 L423.5,119.1 L428.3,118.8 L432.8,118.9 L437.0,119.2 L442.0,118.9 L446.3,119.1 L449.4,120.3 L452.6,121.2 L453.5,122.0 L454.7,122.6 L450.4,124.5 L449.1,125.5 L453.0,125.5" fill="none" stroke="#000" stroke-width="0.45" stroke-opacity="0.85" stroke-linejoin="round"/>
<path d="M317.0,39.3 L331.9,39.3 L332.0,39.0 L334.5,40.0 L336.7,41.0 L337.4,42.0 L336.6,44.1 L338.9,43.2 L340.5,42.6 L341.7,42.0 L343.4,42.0 L344.6,40.9 L345.9,40.6 L345.7,41.8 L345.8,42.2 M320.4,26.1 L314.0,31.8 L314.9,32.6 L316.4,32.3 L316.8,34.7 M314.5,50.7 L316.0,50.6 L317.8,51.6 L319.4,51.6 L320.5,51.2 L321.2,52.8 L322.0,53.2 L323.1,52.6 L323.8,54.2 L324.9,55.4 M321.7,39.3 L320.8,36.1 L324.0,32.0 M323.9,39.3 L328.9,32.0 M328.1,39.3 L332.8,32.0 M331.8,39.3 L333.2,36.7 L337.9,34.1 M340.9,37.6 L339.6,40.7 L341.8,42.0 M352.6,37.7 L349.1,37.3 L348.4,35.3 L351.1,31.9 M314.8,32.0 L336.3,32.0 M322.0,26.4 L321.0,29.2 L322.1,32.0 M328.8,26.7 L331.5,28.8 L334.7,29.5 L332.8,32.0 M313.4,44.1 L320.8,44.1 M320.4,44.8 L325.5,44.8 M317.5,47.6 L328.6,47.6 M331.4,47.9 L339.1,47.9 M330.6,49.0 L334.7,49.0 M326.0,41.4 L330.0,41.4 M325.0,43.4 L328.0,43.4 M325.2,45.5 L328.9,45.5 M315.8,44.1 L314.7,46.2 L316.6,49.0 M320.2,39.3 L318.9,41.3 L317.5,44.1 M319.1,44.1 L317.5,47.6 M321.8,42.0 L320.4,44.8 M321.6,44.8 L319.0,51.6 M327.1,39.3 L324.4,44.8 M325.5,44.8 L324.4,47.6 M323.7,47.9 L322.6,51.1 M325.4,47.9 L324.9,49.3 M331.1,39.3 L329.3,43.1 M329.3,45.5 L327.8,50.0 M332.6,40.7 L332.3,43.1 L332.0,44.4 L331.2,45.2 L331.5,46.5 L331.7,47.6 L330.7,49.0 L329.7,50.4 L329.1,51.8 L329.6,52.8 M333.8,44.3 L332.8,47.0 M331.8,49.0 L331.0,51.8 M335.3,44.3 L334.6,46.1 L335.8,46.5 L337.3,45.1 M333.6,49.0 L332.8,51.8 M337.7,44.1 L337.2,45.7 L339.8,45.7 M342.4,42.0 L341.5,44.8 M331.4,51.8 L332.9,51.8 M327.2,61.0 L328.9,61.0 L328.7,62.4 M326.8,63.3 L327.7,61.4 M328.5,63.4 L329.5,64.4 M330.5,65.8 L331.8,65.8 M351.1,70.6 L348.4,72.2 L346.0,70.0 L343.5,70.7 L341.7,72.1 L339.8,70.7 L340.2,74.2 L339.9,76.4 L338.1,78.6 L337.6,79.8 L339.7,81.2 L342.9,80.5 L343.1,81.9 L345.9,83.1 L346.3,84.9 L347.4,84.9 L347.7,87.5 L349.7,89.3 L350.2,91.4 L350.6,92.6 L349.6,93.5 L348.8,94.7 L351.6,97.1 M341.0,88.9 L341.9,90.7 L341.6,93.1 L342.0,96.6 L342.0,99.4 L342.4,102.2 L343.5,105.7 L343.9,108.4 L345.0,109.7 M340.2,86.3 L340.7,85.8 L340.8,84.0 L340.3,81.2 M340.7,85.8 L341.5,88.2 L342.6,89.5 L345.0,88.9 L346.2,87.2 M338.9,65.1 L338.4,68.2 L341.4,69.3 L341.7,72.1 M334.5,72.5 L336.4,73.5 L336.6,74.2 L335.0,75.6 L333.6,75.9 M338.1,78.6 L339.9,76.4 M345.0,88.9 L347.7,87.5 M347.7,87.5 L348.4,91.4 L350.2,91.4 M348.8,94.7 L348.7,97.0 M346.0,67.5 L345.3,70.0 L346.0,70.0 M347.8,69.3 L347.1,72.4 M349.6,69.6 L349.3,71.9 M377.4,54.1 L379.7,56.0 L383.1,58.8 L384.9,60.0 L389.6,57.0 L391.4,57.4 L396.9,59.5 L396.8,58.1 L397.4,58.1 L404.5,58.1 M397.1,51.4 L397.4,58.1 M389.2,50.4 L388.1,52.3 L388.4,56.0 L389.6,57.0 M381.5,49.0 L381.6,51.1 L379.6,52.5 L377.4,53.4 L377.4,54.1 M372.3,58.6 L374.7,58.6 L374.8,57.4 L375.4,55.3 L377.4,54.1 M375.2,63.3 L375.6,62.6 L379.2,62.6 L378.9,56.0 L379.7,56.0 M391.7,57.4 L391.8,59.1 L390.7,63.7 L391.3,65.1 M396.9,59.5 L395.8,63.0 L396.8,66.5 M384.1,69.0 L384.6,65.3 L384.9,64.0 L390.7,63.7 L391.3,65.1 L390.4,67.9 L389.5,68.9 L387.7,70.2 M389.9,77.7 L392.2,78.4 L394.1,79.1 L395.8,81.2 L397.1,81.2 L398.9,81.9 L400.0,82.9 L401.0,79.3 L400.4,76.3 L400.8,74.2 L400.6,72.8 L401.4,72.0 L399.3,70.0 L397.4,70.0 L393.8,70.7 L392.3,72.1 L393.5,74.2 L392.3,75.6 L389.9,77.0 M389.6,85.6 L394.5,85.8 L396.6,86.1 L397.7,86.0 M394.4,88.9 L394.4,90.9 L394.3,93.4 M392.2,93.5 L394.3,93.4 L394.4,90.9 L396.1,91.2 L398.6,89.1 L401.2,89.2 L401.4,92.3 M403.2,70.3 L407.5,70.7 L407.5,74.7 M403.8,70.0 L404.6,63.5 M407.9,65.8 L409.6,67.9 L411.6,67.9 L409.9,70.0 L407.5,70.7 M403.2,70.3 L403.2,74.2 L405.4,75.6 L406.4,76.8 M407.0,80.9 L404.0,81.6 L403.4,83.3 M397.7,86.0 L399.4,85.1 L400.8,84.4 L402.4,85.2 L401.9,88.2 L401.2,89.2 M375.8,68.7 L376.2,67.5 L375.5,64.7 M377.3,68.2 L377.5,66.1 L379.2,66.2 L380.7,65.8 L381.0,67.9 L380.7,70.0 M383.1,69.3 L383.1,65.8 L382.5,65.8 M391.3,65.1 L392.2,66.5 L394.0,67.2 L395.8,65.8 M397.1,67.5 L398.9,70.0 L400.8,71.0 L403.2,70.3 M395.9,70.3 L397.1,67.5 L396.8,66.5 M400.6,74.2 L401.3,74.2 L403.2,74.2 M401.0,79.3 L402.5,80.2 L404.0,81.6 M395.8,81.2 L395.8,82.6 L397.0,84.7 L397.7,86.0 M381.5,43.2 L384.3,43.8 M378.6,44.1 L378.3,45.8 L378.5,47.4 M383.8,37.9 L385.6,38.9 L386.9,39.3 L386.6,40.2 L385.8,41.1 L386.3,41.5 L386.7,42.9 M385.7,36.3 L386.2,37.9 L385.7,38.5 L385.6,38.9 M386.9,35.3 L387.3,35.4 M389.8,36.0 L390.2,37.9 L388.9,38.4 L389.9,39.5 L389.5,40.3 L387.7,40.3 M394.5,35.7 L394.9,37.3 L395.2,38.3 L394.5,39.3 L392.6,39.0 L390.4,38.1 M387.7,40.3 L389.1,40.7 L389.9,41.0 L391.4,41.0 L391.6,40.0 L392.7,40.0 L394.6,39.8 M392.5,38.9 L391.6,39.6 M396.2,32.3 L396.2,33.6 L396.6,34.6 L394.6,36.0 L398.9,37.3 L399.9,37.1 L403.7,38.9 L403.0,40.7 M393.1,34.6 L395.9,34.8 L396.6,34.6 M396.1,31.7 L397.4,30.2 L396.0,27.2 L395.3,26.1 M388.3,32.6 L388.5,31.1 L389.0,29.2 L389.9,27.3 L391.4,26.4 L392.8,26.7 L395.1,26.1 M392.8,41.3 L394.9,42.6 L398.2,42.9 M393.9,44.1 L395.1,44.7 L397.0,44.3 M394.3,40.0 L396.7,39.8 L397.8,41.0 L398.7,41.8 M391.4,41.0 L392.8,41.3 L393.2,42.4 L393.1,43.8 M394.6,36.0 L396.4,37.6 L395.2,38.3 M407.7,45.7 L407.7,47.4 L406.7,47.5 L403.4,48.1 M407.7,45.7 L408.6,48.4 L409.1,50.4 L410.6,52.5 M406.7,47.5 L406.1,49.3 L405.1,50.9 M403.0,52.9 L404.6,51.4 L405.3,50.9 L407.1,51.7 L409.8,53.1 L410.7,53.5 M408.3,61.9 L410.5,61.4 L413.7,60.2 L415.8,59.5 L415.3,57.6 L413.2,56.5 M414.1,61.9 L414.5,61.8 M417.3,47.9 L417.6,49.5 L418.3,51.4 L418.7,52.5 L419.2,52.9 L419.9,54.6 L419.0,55.8 M413.2,47.4 L414.3,46.9 L417.3,47.9 M408.5,44.8 L409.8,44.4 M404.6,43.1 L406.9,43.6 L408.7,44.7 M409.3,41.0 L408.2,38.6 L410.2,37.6 L414.6,38.1 L413.9,36.3 L417.6,35.1 L421.8,35.9 L424.6,38.1 L426.4,37.9 L429.1,39.2 M411.5,42.0 L413.1,42.0 L416.7,43.1 L419.0,43.5 L420.5,44.8 L421.8,43.5 L423.4,43.3 L426.9,43.8 L426.4,42.0 L428.4,40.7 L429.1,39.2 M413.1,42.0 L413.8,44.6 L414.6,43.5 L415.9,44.1 M416.7,43.1 L416.6,44.8 L418.9,46.2 M420.3,47.4 L421.0,46.5 L422.4,45.5 L423.4,45.1 L424.2,45.8 M429.1,39.2 L430.9,38.1 L433.6,37.3 L436.0,37.7 L439.9,38.9 L443.0,38.5 L444.6,38.8 L444.8,36.9 L447.8,36.7 L452.9,40.2 L454.1,40.0 L454.7,39.6 L454.5,42.4 L454.9,43.8 M429.1,39.2 L431.9,41.3 L435.7,43.6 L441.0,44.4 L444.0,43.1 L445.7,41.7 L447.4,40.9 L444.6,38.8 M426.4,42.0 L426.9,43.8 L425.5,44.8 L424.2,45.8 L425.2,47.4 L427.3,48.6 L428.9,50.7 L429.9,52.5 L432.5,53.7 L434.3,54.0 L436.7,54.0 L439.6,53.7 L441.0,56.0 L440.8,56.7 L442.2,58.4 L443.2,57.7 L444.5,57.5 L446.1,57.5 L447.0,58.4 M425.0,47.6 L425.1,49.3 L426.0,50.7 L426.0,51.8 L424.9,53.9 L424.0,53.9 L423.6,54.9 L424.7,56.3 L423.3,56.9 M425.0,47.6 L423.3,47.9 L423.5,49.7 L422.6,49.8 L423.0,51.4 L421.5,52.6 L419.2,52.9 M417.3,47.9 L419.3,47.6 L421.1,47.4 L422.4,46.6 L425.0,47.6 M429.3,52.1 L431.9,53.5 L434.5,54.6 M434.5,54.9 L435.3,56.0 L437.1,56.0 L437.8,58.4 M439.6,53.7 L438.6,56.0 L438.3,57.7 L437.8,58.4 M441.0,56.0 L440.8,58.4 L442.4,59.1 L441.4,61.2 L441.9,62.3 L442.5,65.1 L442.4,66.5 M443.2,57.7 L442.7,59.5 L443.2,61.0 L444.2,61.2 L446.1,62.3 L446.3,63.6 L444.8,63.6 L444.5,65.1 M444.5,57.5 L444.5,59.1 L445.6,60.5 L447.4,63.0 L447.0,65.1 L445.9,66.1 M443.5,69.0 L444.3,69.4 L444.6,69.2 M452.4,45.5 L453.9,44.1 L454.9,43.8 M454.3,47.0 L455.2,46.5 M453.5,70.5 L452.6,72.1 L451.4,72.4 L449.9,72.7 L449.4,72.2 M468.4,75.3 L468.2,79.9 M460.4,83.9 L457.6,95.7 M458.9,91.7 L466.0,91.7 M465.6,85.1 L464.2,91.7 M466.0,91.7 L462.5,100.1 M465.3,93.8 L470.1,93.5 L472.8,93.3 M463.9,97.3 L464.9,98.7 L466.7,99.8" fill="none" stroke="#000" stroke-width="0.3" stroke-opacity="0.6" stroke-linejoin="round"/></g>
<path d="M440.94,17.00 L445.33,18.35 L450.72,20.42 L456.42,23.01 L461.40,25.84 L465.92,28.85 L470.19,32.00 L474.18,35.26 L477.80,38.61 L480.90,42.02 L483.69,45.49 L486.01,48.98 L487.91,52.48 L489.34,55.98 L490.35,59.49 L491.20,62.99 L491.79,66.49 L492.15,70.00 L492.30,73.50 L492.15,77.00 L491.79,80.51 L491.20,84.01 L490.35,87.51 L489.34,91.02 L487.91,94.52 L486.01,98.02 L483.69,101.51 L480.90,104.98 L477.80,108.39 L474.18,111.74 L470.19,115.00 L465.92,118.15 L461.40,121.16 L456.42,123.99 L450.72,126.58 L445.33,128.65 L440.94,130.00 L324.06,130.00 L319.67,128.65 L314.28,126.58 L308.58,123.99 L303.60,121.16 L299.08,118.15 L294.81,115.00 L290.82,111.74 L287.20,108.39 L284.10,104.98 L281.31,101.51 L278.99,98.02 L277.09,94.52 L275.66,91.02 L274.65,87.51 L273.80,84.01 L273.21,80.51 L272.85,77.00 L272.70,73.50 L272.85,70.00 L273.21,66.49 L273.80,62.99 L274.65,59.49 L275.66,55.98 L277.09,52.48 L278.99,48.98 L281.31,45.49 L284.10,42.02 L287.20,38.61 L290.82,35.26 L294.81,32.00 L299.08,28.85 L303.60,25.84 L308.58,23.01 L314.28,20.42 L319.67,18.35 L324.06,17.00 Z" fill="none" stroke="#000" stroke-width="0.5"/>
<rect x="297.0" y="145" width="172.0" height="9.400000000000006" fill="url(#jetg)" stroke="#222" stroke-width="0.4"/>
<path d="M297.00,154.4 v1.3 M340.00,154.4 v1.3 M383.00,154.4 v1.3 M426.00,154.4 v1.3 M469.00,154.4 v1.3" stroke="#222" stroke-width="0.4"/>
<text x="297.0" y="161.6" class="tk" text-anchor="middle">0.00</text>
<text x="340.0" y="161.6" class="tk" text-anchor="middle">0.25</text>
<text x="383.0" y="161.6" class="tk" text-anchor="middle">0.50</text>
<text x="426.0" y="161.6" class="tk" text-anchor="middle">0.75</text>
<text x="469.0" y="161.6" class="tk" text-anchor="middle">1.00</text>
<text x="383.0" y="169.2" class="cbl" text-anchor="middle">Liquid cloud fraction</text>
<text x="121.8" y="191.7" class="title" text-anchor="middle">Three-month average: January - March, 2015</text>
<text x="39.6" y="204.0" class="lbl">(c)</text>
<text x="35.0" y="213.1" class="ll" text-anchor="end">60°N</text>
<text x="17.0" y="235.0" class="ll" text-anchor="end">30°N</text>
<text x="12.7" y="257.7" class="ll" text-anchor="end">0°</text>
<text x="17.2" y="282.0" class="ll" text-anchor="end">30°S</text>
<text x="35.0" y="301.7" class="ll" text-anchor="end">60°S</text>
<text x="86.3" y="320.1" class="ll" text-anchor="middle">120°W</text>
<text x="105.8" y="320.1" class="ll" text-anchor="middle">60°W</text>
<text x="125.3" y="320.1" class="ll" text-anchor="middle">0°</text>
<text x="144.8" y="320.1" class="ll" text-anchor="middle">60°E</text>
<text x="164.3" y="320.1" class="ll" text-anchor="middle">120°E</text>
<clipPath id="clipc"><path d="M183.74,200.10 L188.13,201.45 L193.52,203.52 L199.22,206.11 L204.20,208.94 L208.72,211.95 L212.99,215.10 L216.98,218.36 L220.60,221.71 L223.70,225.12 L226.49,228.59 L228.81,232.08 L230.71,235.58 L232.14,239.09 L233.15,242.59 L234.00,246.09 L234.59,249.59 L234.95,253.10 L235.10,256.60 L234.95,260.10 L234.59,263.61 L234.00,267.11 L233.15,270.61 L232.14,274.12 L230.71,277.62 L228.81,281.12 L226.49,284.61 L223.70,288.08 L220.60,291.49 L216.98,294.84 L212.99,298.10 L208.72,301.25 L204.20,304.26 L199.22,307.09 L193.52,309.68 L188.13,311.75 L183.74,313.10 L66.86,313.10 L62.47,311.75 L57.08,309.68 L51.38,307.09 L46.40,304.26 L41.88,301.25 L37.61,298.10 L33.62,294.84 L30.00,291.49 L26.90,288.08 L24.11,284.61 L21.79,281.12 L19.89,277.62 L18.46,274.12 L17.45,270.61 L16.60,267.11 L16.01,263.61 L15.65,260.10 L15.50,256.60 L15.65,253.10 L16.01,249.59 L16.60,246.09 L17.45,242.59 L18.46,239.09 L19.89,235.58 L21.79,232.08 L24.11,228.59 L26.90,225.12 L30.00,221.71 L33.62,218.36 L37.61,215.10 L41.88,211.95 L46.40,208.94 L51.38,206.11 L57.08,203.52 L62.47,201.45 L66.86,200.10 Z"/></clipPath>
<g clip-path="url(#clipc)">
<path d="M37.6,298.1 L42.5,298.1 L47.4,298.1 L52.2,298.1 L57.1,298.1 L62.0,298.1 L66.8,298.1 L71.7,298.1 L76.6,298.1 L81.5,298.1 L86.3,298.1 L91.2,298.1 L96.1,298.1 L100.9,298.1 L105.8,298.1 L110.7,298.1 L115.6,298.1 L120.4,298.1 L125.3,298.1 L130.2,298.1 L135.0,298.1 L139.9,298.1 L144.8,298.1 L149.7,298.1 L154.5,298.1 L159.4,298.1 L164.3,298.1 L169.1,298.1 L174.0,298.1 L178.9,298.1 L183.8,298.1 L188.6,298.1 L193.5,298.1 L198.4,298.1 L203.2,298.1 L208.1,298.1 L213.0,298.1 M19.9,277.6 L25.7,277.6 L31.6,277.6 L37.5,277.6 L43.3,277.6 L49.2,277.6 L55.0,277.6 L60.9,277.6 L66.7,277.6 L72.6,277.6 L78.5,277.6 L84.3,277.6 L90.2,277.6 L96.0,277.6 L101.9,277.6 L107.7,277.6 L113.6,277.6 L119.4,277.6 L125.3,277.6 L131.2,277.6 L137.0,277.6 L142.9,277.6 L148.7,277.6 L154.6,277.6 L160.4,277.6 L166.3,277.6 L172.1,277.6 L178.0,277.6 L183.9,277.6 L189.7,277.6 L195.6,277.6 L201.4,277.6 L207.3,277.6 L213.1,277.6 L219.0,277.6 L224.9,277.6 L230.7,277.6 M15.5,256.6 L21.6,256.6 L27.7,256.6 L33.8,256.6 L39.9,256.6 L46.0,256.6 L52.1,256.6 L58.2,256.6 L64.3,256.6 L70.4,256.6 L76.5,256.6 L82.6,256.6 L88.7,256.6 L94.8,256.6 L100.9,256.6 L107.0,256.6 L113.1,256.6 L119.2,256.6 L125.3,256.6 L131.4,256.6 L137.5,256.6 L143.6,256.6 L149.7,256.6 L155.8,256.6 L161.9,256.6 L168.0,256.6 L174.1,256.6 L180.2,256.6 L186.3,256.6 L192.4,256.6 L198.5,256.6 L204.6,256.6 L210.7,256.6 L216.8,256.6 L222.9,256.6 L229.0,256.6 L235.1,256.6 M19.9,235.6 L25.7,235.6 L31.6,235.6 L37.5,235.6 L43.3,235.6 L49.2,235.6 L55.0,235.6 L60.9,235.6 L66.7,235.6 L72.6,235.6 L78.5,235.6 L84.3,235.6 L90.2,235.6 L96.0,235.6 L101.9,235.6 L107.7,235.6 L113.6,235.6 L119.4,235.6 L125.3,235.6 L131.2,235.6 L137.0,235.6 L142.9,235.6 L148.7,235.6 L154.6,235.6 L160.4,235.6 L166.3,235.6 L172.1,235.6 L178.0,235.6 L183.9,235.6 L189.7,235.6 L195.6,235.6 L201.4,235.6 L207.3,235.6 L213.1,235.6 L219.0,235.6 L224.9,235.6 L230.7,235.6 M37.6,215.1 L42.5,215.1 L47.4,215.1 L52.2,215.1 L57.1,215.1 L62.0,215.1 L66.8,215.1 L71.7,215.1 L76.6,215.1 L81.5,215.1 L86.3,215.1 L91.2,215.1 L96.1,215.1 L100.9,215.1 L105.8,215.1 L110.7,215.1 L115.6,215.1 L120.4,215.1 L125.3,215.1 L130.2,215.1 L135.0,215.1 L139.9,215.1 L144.8,215.1 L149.7,215.1 L154.5,215.1 L159.4,215.1 L164.3,215.1 L169.1,215.1 L174.0,215.1 L178.9,215.1 L183.8,215.1 L188.6,215.1 L193.5,215.1 L198.4,215.1 L203.2,215.1 L208.1,215.1 L213.0,215.1 M86.3,313.1 L83.4,311.7 L79.8,309.7 L76.0,307.1 L72.7,304.3 L69.7,301.3 L66.8,298.1 L64.2,294.8 L61.8,291.5 L59.7,288.1 L57.8,284.6 L56.3,281.1 L55.0,277.6 L54.1,274.1 L53.4,270.6 L52.8,267.1 L52.4,263.6 L52.2,260.1 L52.1,256.6 L52.2,253.1 L52.4,249.6 L52.8,246.1 L53.4,242.6 L54.1,239.1 L55.0,235.6 L56.3,232.1 L57.8,228.6 L59.7,225.1 L61.8,221.7 L64.2,218.4 L66.8,215.1 L69.7,211.9 L72.7,208.9 L76.0,206.1 L79.8,203.5 L83.4,201.5 L86.3,200.1 M105.8,313.1 L104.4,311.7 L102.6,309.7 L100.7,307.1 L99.0,304.3 L97.5,301.3 L96.1,298.1 L94.7,294.8 L93.5,291.5 L92.5,288.1 L91.6,284.6 L90.8,281.1 L90.2,277.6 L89.7,274.1 L89.4,270.6 L89.1,267.1 L88.9,263.6 L88.8,260.1 L88.7,256.6 L88.8,253.1 L88.9,249.6 L89.1,246.1 L89.4,242.6 L89.7,239.1 L90.2,235.6 L90.8,232.1 L91.6,228.6 L92.5,225.1 L93.5,221.7 L94.7,218.4 L96.1,215.1 L97.5,211.9 L99.0,208.9 L100.7,206.1 L102.6,203.5 L104.4,201.5 L105.8,200.1 M125.3,313.1 L125.3,311.7 L125.3,309.7 L125.3,307.1 L125.3,304.3 L125.3,301.3 L125.3,298.1 L125.3,294.8 L125.3,291.5 L125.3,288.1 L125.3,284.6 L125.3,281.1 L125.3,277.6 L125.3,274.1 L125.3,270.6 L125.3,267.1 L125.3,263.6 L125.3,260.1 L125.3,256.6 L125.3,253.1 L125.3,249.6 L125.3,246.1 L125.3,242.6 L125.3,239.1 L125.3,235.6 L125.3,232.1 L125.3,228.6 L125.3,225.1 L125.3,221.7 L125.3,218.4 L125.3,215.1 L125.3,211.9 L125.3,208.9 L125.3,206.1 L125.3,203.5 L125.3,201.5 L125.3,200.1 M144.8,313.1 L146.2,311.7 L148.0,309.7 L149.9,307.1 L151.6,304.3 L153.1,301.3 L154.5,298.1 L155.9,294.8 L157.1,291.5 L158.1,288.1 L159.0,284.6 L159.8,281.1 L160.4,277.6 L160.9,274.1 L161.2,270.6 L161.5,267.1 L161.7,263.6 L161.8,260.1 L161.9,256.6 L161.8,253.1 L161.7,249.6 L161.5,246.1 L161.2,242.6 L160.9,239.1 L160.4,235.6 L159.8,232.1 L159.0,228.6 L158.1,225.1 L157.1,221.7 L155.9,218.4 L154.5,215.1 L153.1,211.9 L151.6,208.9 L149.9,206.1 L148.0,203.5 L146.2,201.5 L144.8,200.1 M164.3,313.1 L167.2,311.7 L170.8,309.7 L174.6,307.1 L177.9,304.3 L180.9,301.3 L183.8,298.1 L186.4,294.8 L188.8,291.5 L190.9,288.1 L192.8,284.6 L194.3,281.1 L195.6,277.6 L196.5,274.1 L197.2,270.6 L197.8,267.1 L198.2,263.6 L198.4,260.1 L198.5,256.6 L198.4,253.1 L198.2,249.6 L197.8,246.1 L197.2,242.6 L196.5,239.1 L195.6,235.6 L194.3,232.1 L192.8,228.6 L190.9,225.1 L188.8,221.7 L186.4,218.4 L183.8,215.1 L180.9,211.9 L177.9,208.9 L174.6,206.1 L170.8,203.5 L167.2,201.5 L164.3,200.1" fill="none" stroke="#000" stroke-width="0.3" stroke-opacity="0.22"/>
<path d="M48.0,211.6 L48.0,212.3 L50.3,212.3 L47.7,213.1 L46.9,213.5 L45.3,214.8 L46.2,215.2 L46.3,216.1 L42.3,218.4 L45.9,217.4 L48.9,216.4 L51.6,214.8 L51.9,215.4 L54.7,214.6 L57.0,215.2 L58.0,216.2 L58.7,217.1 L58.6,218.7 L58.8,220.0 L58.8,221.4 L59.8,222.4 L58.6,222.8 L58.1,224.2 L56.6,226.5 L55.8,228.2 L55.6,230.3 L55.8,232.4 L56.9,232.8 L57.4,233.8 L57.5,235.2 L57.8,237.1 L58.8,239.2 L60.1,240.5 L59.9,239.8 L58.9,236.3 L58.5,234.3 L59.6,234.5 L61.1,237.0 L62.3,240.7 L62.1,242.6 L64.5,244.5 L66.8,245.5 L68.3,245.4 L70.0,246.8 L72.3,247.5 L73.3,249.6 L74.8,250.8 L76.6,251.5 L78.2,250.6 L77.0,249.9 L75.8,250.3 L74.7,248.9 L75.1,246.1 L74.6,245.5 L72.1,245.4 L72.6,243.8 L73.3,241.5 L71.2,241.9 L70.7,243.5 L68.5,243.8 L68.0,243.5 L66.9,241.2 L67.4,239.1 L68.0,237.3 L70.2,235.9 L72.5,236.3 L73.2,235.4 L75.5,235.6 L76.6,236.3 L76.8,238.0 L77.5,238.9 L78.1,237.7 L78.1,234.5 L81.6,232.1 L82.2,230.0 L83.8,228.2 L86.3,227.3 L86.7,226.2 L88.9,226.2 L90.2,225.5 L92.7,224.4 L90.8,222.7 L93.4,223.1 L96.3,220.7 L95.6,220.4 L94.2,217.7 L93.9,215.0 L91.1,215.9 L90.6,214.5 L88.4,213.6 L86.8,216.1 L86.3,218.0 L83.7,220.7 L83.5,218.4 L81.1,217.4 L78.7,215.9 L80.4,214.5 L84.6,212.6 L87.9,211.0 L87.6,209.5 L82.7,210.1 L78.2,210.1 L74.0,209.8 L69.2,208.9 L63.2,209.2 L58.0,208.2 L54.3,208.9 L48.0,211.6 M97.2,210.7 L94.2,213.5 L91.6,213.5 L89.0,212.3 L92.1,210.1 L90.2,208.9 L87.0,208.7 L87.1,207.5 L90.2,206.8 L92.7,207.4 L94.8,208.7 L95.8,209.2 L97.2,210.7 M74.1,208.1 L73.4,209.5 L78.5,209.8 L80.9,209.1 L81.3,207.4 L78.9,207.2 L77.0,207.1 L74.1,208.1 M93.1,205.4 L89.2,205.3 L91.3,203.8 L92.0,202.9 L98.2,202.3 L102.7,202.5 L98.5,203.8 L93.1,205.4 M92.2,206.4 L87.4,206.2 L86.8,205.3 L92.6,205.2 L92.2,206.4 M71.9,207.8 L73.3,208.1 L76.1,207.5 L75.9,206.6 L73.9,206.5 L71.9,207.8 M96.8,204.5 L100.0,203.4 L103.3,202.7 L108.9,202.5 L114.6,202.1 L118.0,202.7 L118.4,204.0 L117.2,205.6 L116.8,207.8 L115.7,208.8 L114.2,209.8 L110.5,210.1 L106.9,211.6 L104.4,215.1 L103.1,214.6 L101.7,213.2 L101.1,211.0 L101.5,209.2 L103.1,208.7 L101.6,208.1 L101.7,205.9 L98.6,205.6 L96.8,204.5 M114.8,212.6 L114.2,211.6 L115.3,211.1 L118.0,211.0 L119.0,211.9 L116.8,213.0 L114.8,212.6 M78.5,251.0 L79.5,249.0 L81.7,248.2 L81.9,249.0 L84.0,249.2 L86.5,249.2 L88.3,249.2 L88.8,250.6 L90.6,252.4 L93.6,253.1 L94.8,255.5 L95.4,257.3 L98.5,258.4 L100.9,258.7 L102.8,260.0 L104.0,260.8 L104.0,262.9 L102.9,265.0 L101.7,266.4 L101.9,269.2 L101.4,271.0 L100.3,272.7 L98.5,273.3 L96.6,274.8 L96.7,276.6 L95.5,278.3 L94.7,280.1 L93.7,281.1 L91.6,280.7 L92.5,282.2 L92.7,283.2 L90.3,283.9 L90.4,285.2 L89.0,285.3 L89.5,286.3 L89.5,288.1 L88.7,289.1 L89.9,290.1 L89.2,291.8 L89.3,292.8 L90.0,293.8 L92.2,294.8 L90.8,295.2 L88.9,294.2 L86.6,293.2 L84.8,290.1 L84.8,288.1 L84.3,285.7 L83.5,282.9 L83.7,279.0 L83.3,276.2 L83.3,272.7 L83.1,269.6 L81.6,268.4 L79.4,266.4 L77.6,263.3 L76.0,260.8 L76.0,259.8 L76.5,258.4 L76.2,256.6 L76.8,255.5 L78.1,254.1 L78.3,252.0 L78.5,251.0 M155.2,265.0 L155.8,267.5 L155.1,268.9 L153.5,274.0 L152.0,274.5 L151.3,272.0 L152.0,268.5 L153.4,267.6 L154.3,266.1 L155.2,265.0 M150.9,224.8 L152.1,224.1 L153.9,223.8 L154.3,225.1 L153.4,225.5 L154.7,227.2 L155.5,228.0 L156.0,230.5 L154.4,230.9 L153.1,230.3 L153.1,228.2 L152.3,227.3 L151.6,226.5 L150.9,224.8 M122.3,221.7 L123.7,221.3 L126.0,220.9 L126.2,219.9 L125.4,219.4 L124.5,218.2 L124.3,217.7 L124.4,216.7 L123.7,216.0 L122.8,216.0 L122.2,216.7 L122.5,217.5 L122.8,218.4 L123.7,218.7 L123.8,219.5 L123.0,219.5 L123.1,220.2 L122.6,220.6 L123.5,220.8 L122.3,221.7 M122.2,220.2 L122.1,219.2 L122.4,218.6 L121.5,218.2 L121.0,218.7 L120.2,219.0 L120.2,220.4 L121.1,220.6 L122.2,220.2 M201.1,234.7 L201.9,234.5 L201.6,233.1 L203.4,233.1 L204.0,232.6 L205.3,232.2 L206.0,231.6 L205.3,230.0 L205.3,228.9 L204.2,227.6 L203.8,228.2 L204.3,229.3 L203.4,230.7 L203.0,231.7 L201.6,231.7 L200.8,232.6 L200.4,233.3 L201.1,234.7 M203.4,227.5 L203.7,226.8 L205.1,227.2 L205.6,226.3 L202.7,224.9 L202.7,226.3 L203.4,227.5 M202.4,224.4 L201.5,222.0 L198.4,218.8 L199.6,220.7 L202.4,224.4 M197.0,240.8 L197.4,239.1 L197.7,239.4 L197.4,241.3 L197.0,240.8 M197.5,243.6 L198.8,243.7 L198.7,245.7 L200.3,246.9 L199.4,247.4 L198.2,246.7 L197.5,243.6 M199.5,251.6 L201.5,249.9 L202.2,251.3 L201.7,252.5 L200.4,251.3 L199.5,251.6 M191.8,255.3 L193.3,254.6 L194.5,253.9 L195.6,252.7 L196.5,251.7 L197.8,253.0 L197.2,253.7 L197.1,255.9 L197.9,256.0 L197.0,256.6 L196.3,258.4 L196.0,259.4 L195.1,259.1 L194.2,258.8 L192.6,258.7 L192.4,257.7 L191.8,257.0 L191.8,255.3 M183.3,252.7 L184.7,253.0 L186.4,255.0 L188.4,257.3 L189.9,258.7 L189.7,260.7 L188.9,260.7 L187.6,259.4 L186.5,257.3 L185.5,255.3 L183.3,252.7 M189.3,261.4 L191.0,260.9 L192.9,261.2 L194.9,262.0 L194.8,262.7 L192.8,262.3 L191.0,262.1 L189.8,261.8 L189.3,261.4 M198.1,260.5 L198.2,256.6 L198.8,255.9 L201.4,255.5 L200.3,256.2 L199.4,257.3 L200.5,257.2 L199.7,258.0 L199.9,260.0 L198.6,260.5 L198.1,260.5 M205.2,257.7 L207.0,257.2 L209.4,257.7 L211.2,258.4 L213.6,259.5 L215.1,260.8 L215.3,262.2 L216.6,264.0 L214.6,263.6 L214.1,262.2 L212.9,262.0 L212.4,262.9 L211.0,263.0 L209.8,262.3 L209.0,260.3 L207.6,259.6 L205.8,258.6 L205.2,257.7 M193.0,272.0 L192.8,274.8 L192.6,277.6 L191.7,280.4 L193.0,281.1 L195.1,280.4 L196.7,280.4 L198.5,279.2 L201.6,278.7 L203.1,279.4 L203.3,280.9 L204.9,279.7 L204.3,281.6 L205.3,281.6 L205.0,283.2 L206.4,283.8 L207.9,284.0 L209.3,283.1 L210.6,282.8 L212.6,280.4 L214.0,279.0 L215.6,276.4 L216.1,274.3 L215.2,273.1 L214.5,272.2 L214.4,270.9 L213.1,269.8 L212.9,267.8 L213.1,267.0 L212.1,266.4 L211.8,264.1 L211.0,265.6 L210.5,268.5 L210.0,268.9 L209.0,268.4 L207.3,267.1 L208.2,265.2 L207.1,265.1 L205.7,264.7 L204.7,265.1 L203.5,267.0 L202.4,266.4 L201.5,266.5 L200.7,267.5 L199.7,268.4 L198.6,269.4 L197.2,270.5 L195.3,271.0 L193.7,271.9 L193.0,272.0 M206.3,285.1 L208.3,285.2 L207.1,286.7 L206.2,287.1 L205.9,286.1 L206.3,285.1 M224.8,280.7 L225.3,282.9 L226.7,283.0 L225.2,284.1 L222.9,285.7 L222.8,285.4 L223.7,284.5 L223.4,284.1 L224.4,283.2 L224.6,281.5 L224.8,280.7 M222.1,285.0 L222.4,285.7 L220.5,287.2 L219.2,287.7 L218.0,288.7 L216.9,289.2 L215.7,288.8 L216.3,288.2 L217.8,287.4 L219.6,286.7 L220.8,285.9 L222.1,285.0 M173.8,251.7 L174.0,249.7 L175.0,251.3 L174.8,252.3 L174.4,252.5 L173.8,251.7 M74.6,241.3 L76.5,240.3 L77.3,240.5 L79.3,241.5 L80.9,242.4 L78.7,242.7 L77.5,241.3 L75.8,241.4 L74.6,241.3 M80.6,243.6 L81.7,242.7 L83.3,242.8 L84.2,243.6 L82.9,243.8 L80.6,243.6 M129.7,204.1 L131.7,203.4 L135.5,203.4 L133.9,204.4 L132.1,205.2 L131.0,204.8 L129.7,204.1 M147.7,208.1 L148.5,206.4 L149.8,205.4 L152.6,205.2 L150.8,206.1 L149.8,207.2 L149.2,208.5 L147.7,208.1 M93.4,223.3 L95.6,222.0 L96.3,220.6 L97.1,222.4 L97.0,223.4 L96.3,224.0 L95.2,223.8 L93.4,223.3 M57.8,221.2 L59.1,221.7 L59.3,222.8 L58.4,222.5 L57.8,221.2 M81.3,207.0 L83.6,206.8 L84.3,207.5 L82.6,208.7 L81.6,207.9 L81.3,207.0 M85.7,206.7 L87.7,206.7 L85.6,207.8 L85.7,206.7 M77.8,206.0 L81.9,206.0 L83.4,205.3 L81.5,205.1 L78.8,205.3 L77.8,206.0 M84.6,205.9 L86.6,205.2 L85.7,205.4 L84.6,205.9 M88.0,204.3 L89.7,204.6 L92.4,203.8 L92.6,203.0 L89.9,203.1 L88.0,204.3 M84.6,212.6 L86.8,213.5 L87.8,212.6 L86.6,211.6 L84.6,212.6 M144.1,203.3 L146.9,203.0 L149.4,203.3 L146.6,203.6 L144.1,203.3 M160.5,203.8 L163.8,204.0 L166.0,204.6 L163.1,203.2 L160.6,203.0 L160.5,203.8 M181.6,206.1 L184.8,207.0 L186.0,205.9 L183.1,205.6 L181.6,206.1 M47.4,208.4 L48.8,208.1 L48.7,208.4 L47.2,208.5 M202.6,208.4 L202.7,208.1 L203.4,208.5 L202.6,208.4 M78.2,243.7 L79.5,244.0 L79.1,244.1 L78.2,243.7 M84.9,243.6 L85.9,243.8 L85.6,244.0 L84.9,243.6 M191.2,243.8 L191.8,242.8 L191.5,242.5 L190.5,243.1 L191.2,243.8 M132.3,230.0 L134.1,229.8 L133.9,230.9 L132.3,230.0 M130.0,229.3 L130.8,228.0 L130.7,229.2 L130.0,229.3 M130.1,226.8 L130.6,226.5 L130.5,227.6 L130.1,226.8 M138.8,231.9 L140.4,231.9 L139.6,232.1 L138.8,231.9 M143.9,232.1 L145.1,231.6 L144.8,232.3 L143.9,232.1 M200.6,263.9 L202.5,262.5 L201.3,262.6 L200.6,263.9 M223.5,270.8 L224.9,272.3 L224.8,271.7 L223.5,270.8 M219.7,260.8 L220.7,262.6 L222.5,263.3 L223.6,264.1 L222.0,262.2 L219.7,260.8 M216.6,260.5 L217.9,259.5 L218.1,260.5 L216.6,261.0 L215.6,260.6 L216.6,260.5 M231.9,268.8 L232.7,268.9 L232.3,269.4 L231.9,268.8 M93.1,292.5 L94.4,292.4 L94.9,292.7 L94.1,293.0 L93.1,292.5 M105.8,294.2 L106.8,294.3 L107.0,294.7 L105.8,294.2 M162.1,290.7 L162.9,290.8 L162.2,291.3 L162.1,290.7 M31.7,243.3 L32.4,242.8 L32.0,242.4 L31.7,243.3 M48.5,217.1 L49.8,216.5 L49.1,216.2 L48.5,217.1 M37.0,220.0 L39.9,219.2 L38.6,219.5 L37.0,220.0 M32.3,220.6 L34.6,220.4 L33.2,220.7 L32.3,220.6 M205.7,226.1 L206.2,225.1 L206.8,224.4 L207.9,222.4 L207.6,221.4 L207.3,222.3 L206.5,224.8 L205.7,226.1 M200.0,247.1 L200.7,247.8 L201.1,248.9 L200.6,249.6 L199.9,248.5 L199.2,247.8 L200.0,247.1 M197.0,250.3 L198.0,249.2 L197.7,248.6 L196.5,250.7 L197.0,250.3 M202.6,258.8 L203.4,259.1 L203.0,259.3 L202.6,258.8 M203.0,255.5 L203.7,256.2 L203.4,257.2 L203.0,256.2 L203.0,255.5 M206.4,257.0 L207.0,257.2 L206.4,257.7 L205.8,257.5 L206.4,257.0 M194.9,262.6 L195.8,262.4 L197.6,262.6 L198.5,262.5 L199.8,262.4 L197.6,262.8 L195.8,262.8 L194.9,262.6 M144.3,235.7 L145.3,237.3 L146.4,239.8 L147.5,241.9 L148.4,244.0 L149.1,245.7 L150.4,247.1 L151.5,247.8 L152.3,249.3 L156.3,248.3 L156.3,249.2 L155.1,252.4 L153.3,255.2 L150.9,257.3 L149.7,258.7 L149.4,260.1 L149.0,261.9 L149.9,264.0 L149.8,267.1 L147.5,269.2 L146.3,270.6 L146.4,273.4 L144.7,274.8 L144.4,276.8 L142.8,278.5 L140.9,280.2 L139.7,280.4 L136.8,281.0 L135.9,280.4 L135.8,279.0 L135.5,277.6 L134.3,275.5 L133.9,272.7 L132.5,269.2 L132.4,267.8 L133.5,265.0 L133.3,262.9 L132.7,260.8 L132.6,260.1 L130.8,257.3 L131.1,255.9 L131.1,254.1 L130.5,253.4 L129.0,253.6 L128.0,252.2 L125.9,252.4 L124.1,253.2 L122.6,253.0 L120.7,253.5 L118.6,251.8 L117.4,251.0 L116.2,248.9 L115.1,247.8 L114.7,246.3 L115.4,245.0 L115.7,243.3 L115.1,241.9 L115.8,239.8 L117.6,237.3 L119.6,235.6 L119.8,233.8 L121.3,232.8 L121.9,231.5 L124.2,231.9 L125.9,231.0 L128.2,230.8 L131.0,230.5 L131.6,231.9 L131.2,232.8 L132.0,233.5 L134.2,234.0 L136.7,235.2 L136.9,234.2 L138.6,233.8 L139.9,234.4 L142.2,235.0 L144.0,234.7 L145.3,234.7 M145.3,234.7 L145.6,233.5 L145.9,231.7 L145.8,230.9 L145.0,230.8 L143.6,231.2 L142.2,231.2 L140.9,230.7 L140.2,229.6 L140.2,228.4 L141.2,227.9 L141.5,227.8 L142.6,227.8 L145.4,227.5 L148.4,227.5 L148.3,226.5 L146.1,225.3 L145.5,223.8 L144.3,224.2 L143.7,225.5 L143.0,224.8 L141.8,224.1 L141.5,225.0 L141.0,225.8 L140.9,227.2 L140.0,228.0 L138.7,228.0 L138.1,228.3 L138.9,230.0 L138.3,231.0 L137.5,230.3 L137.1,228.9 L136.1,227.3 L134.1,226.2 L132.7,224.6 L132.0,224.9 L132.2,225.8 L133.1,226.9 L134.2,227.5 L135.7,228.4 L134.8,228.9 L134.2,230.0 L134.1,228.5 L133.3,228.0 L132.1,227.4 L131.1,226.5 L130.1,225.5 L128.9,226.4 L127.8,226.2 L127.1,227.3 L125.7,228.1 L125.1,228.9 L125.4,229.5 L124.8,230.3 L124.0,230.9 L122.8,230.9 L122.1,231.4 L121.6,230.8 L121.0,230.5 L120.2,230.7 L120.3,229.6 L119.9,228.9 L120.4,227.2 L120.2,226.4 L120.9,226.0 L124.5,226.2 L124.6,224.4 L124.0,223.6 L122.9,223.1 L124.5,222.6 L126.1,221.6 L127.1,220.8 L127.6,219.7 L128.9,219.4 L129.6,218.0 L129.5,217.1 L130.5,216.6 L130.6,217.7 L130.9,219.0 L132.5,219.0 L134.7,218.5 L135.9,217.7 L135.8,216.7 L137.4,216.9 L136.9,215.7 L139.0,215.4 L136.2,214.9 L135.5,213.5 L136.9,211.9 L135.4,211.5 L133.6,213.5 L134.3,215.1 L133.6,217.1 L132.5,218.1 L131.8,217.8 L130.7,215.8 L129.3,216.4 L128.0,215.8 L127.7,214.2 L129.1,212.9 L130.8,211.6 L131.8,210.3 L132.8,209.5 L134.5,208.8 L136.6,208.4 L138.9,208.9 L139.9,209.4 L143.3,210.3 L144.0,211.0 L145.4,211.0 L144.9,209.8 L149.2,209.8 L151.1,209.7 L151.7,209.1 L155.1,208.9 L155.9,207.2 L158.8,207.0 L161.3,206.4 L165.6,205.5 L166.4,204.7 L171.5,206.3 L172.6,207.0 L175.9,207.2 L179.6,207.5 L182.0,208.4 L184.7,207.5 L189.8,208.1 L195.4,208.9 L200.1,209.1 L204.2,209.5 L205.3,209.7 L208.7,211.9 L208.2,212.3 L209.4,213.5 L208.3,214.2 L208.1,215.1 L206.2,216.4 L207.3,217.7 L207.8,219.4 L207.5,221.0 L203.0,216.7 L202.1,214.2 L201.3,215.6 L198.7,215.4 L195.4,215.6 L195.9,219.0 L198.4,219.7 L200.4,222.7 L199.7,226.2 L198.3,226.5 L197.9,227.9 L199.4,231.4 L198.2,232.4 L197.2,230.2 L195.7,228.9 L193.9,229.3 L193.7,228.2 L192.9,227.9 L191.9,229.3 L192.2,230.0 L194.0,230.7 L195.1,230.7 L193.9,232.1 L195.6,234.2 L196.7,235.6 L196.8,237.0 L196.1,238.7 L194.9,240.1 L193.0,241.0 L191.4,241.7 L189.8,241.5 L189.1,242.6 L188.9,243.3 L190.8,245.7 L191.5,248.2 L190.2,249.2 L189.1,250.5 L188.9,249.2 L187.8,248.9 L186.1,247.1 L185.9,248.2 L185.6,250.2 L186.4,251.6 L187.1,251.8 L188.4,253.4 L188.8,255.6 L188.4,255.7 L186.9,254.6 L185.2,251.0 L185.1,249.2 L184.3,245.7 L183.7,244.8 L182.1,245.4 L182.1,243.6 L180.5,242.1 L180.0,240.8 L179.3,241.2 L177.9,241.5 L177.3,242.0 L176.3,242.9 L174.8,245.0 L173.8,245.7 L173.8,247.5 L173.7,249.4 L172.9,250.4 L172.4,250.9 L171.6,249.8 L170.6,247.6 L169.6,245.4 L169.0,243.3 L168.7,241.7 L167.2,242.0 L166.1,240.1 L165.1,239.2 L163.3,238.9 L161.8,239.0 L159.2,238.5 L158.5,237.5 L155.6,237.1 L154.6,235.4 L153.4,235.6 L153.8,236.6 L155.0,238.0 L155.9,239.6 L157.4,239.6 L158.4,238.2 L158.8,239.2 L160.3,240.1 L161.0,241.0 L160.0,243.3 L158.4,244.7 L156.7,245.5 L154.6,246.8 L152.5,247.6 L151.6,247.7 L151.1,246.1 L151.0,244.8 L150.0,242.8 L148.6,241.3 L148.2,239.9 L147.3,238.7 L146.0,237.0 L145.6,235.9 L145.3,234.7 M45.3,209.7 L46.4,210.4 L47.5,211.2 L45.2,212.3 L41.9,211.9 M54.8,308.6 L62.6,308.6 L65.6,308.1 L67.8,307.1 L71.2,306.5 L75.0,306.2 L79.5,306.5 L83.1,306.0 L87.1,305.7 L91.6,306.0 L92.8,304.8 L94.8,303.1 L95.0,301.9 L95.7,300.9 L98.4,300.2 L97.8,300.9 L97.5,302.2 L97.8,303.7 L99.2,305.4 L100.3,306.5 L99.8,307.1 L105.6,308.4 L109.6,308.6 L111.5,308.4 L113.2,307.6 L116.9,306.2 L121.0,305.1 L125.3,304.3 L129.7,304.3 L134.1,304.3 L138.5,304.0 L143.1,303.4 L148.0,302.5 L152.4,302.8 L156.5,303.4 L156.9,304.3 L158.4,304.0 L161.4,302.8 L166.3,302.2 L171.1,301.9 L175.6,302.0 L179.8,302.3 L184.8,302.0 L189.1,302.2 L192.2,303.4 L195.4,304.3 L196.3,305.1 L197.5,305.7 L193.2,307.6 L191.9,308.6 L195.8,308.6" fill="none" stroke="#000" stroke-width="0.45" stroke-opacity="0.85" stroke-linejoin="round"/>
<path d="M59.8,222.4 L74.7,222.4 L74.8,222.1 L77.3,223.1 L79.5,224.1 L80.2,225.1 L79.4,227.2 L81.7,226.3 L83.3,225.7 L84.5,225.1 L86.2,225.1 L87.4,224.0 L88.7,223.7 L88.5,224.9 L88.6,225.3 M63.2,209.2 L56.8,214.9 L57.7,215.7 L59.2,215.4 L59.6,217.8 M57.3,233.8 L58.8,233.7 L60.6,234.7 L62.2,234.7 L63.3,234.3 L64.0,235.9 L64.8,236.3 L65.9,235.7 L66.6,237.3 L67.7,238.5 M64.5,222.4 L63.6,219.2 L66.8,215.1 M66.7,222.4 L71.7,215.1 M70.9,222.4 L75.6,215.1 M74.6,222.4 L76.0,219.8 L80.7,217.2 M83.7,220.7 L82.4,223.8 L84.6,225.1 M95.4,220.8 L91.9,220.4 L91.2,218.4 L93.9,215.0 M57.6,215.1 L79.1,215.1 M64.8,209.5 L63.8,212.3 L64.9,215.1 M71.6,209.8 L74.3,211.9 L77.5,212.6 L75.6,215.1 M56.2,227.2 L63.6,227.2 M63.2,227.9 L68.3,227.9 M60.3,230.7 L71.4,230.7 M74.2,231.0 L81.9,231.0 M73.4,232.1 L77.5,232.1 M68.8,224.5 L72.8,224.5 M67.8,226.5 L70.8,226.5 M68.0,228.6 L71.7,228.6 M58.6,227.2 L57.5,229.3 L59.4,232.1 M63.0,222.4 L61.7,224.4 L60.3,227.2 M61.9,227.2 L60.3,230.7 M64.6,225.1 L63.2,227.9 M64.4,227.9 L61.8,234.7 M69.9,222.4 L67.2,227.9 M68.3,227.9 L67.2,230.7 M66.5,231.0 L65.4,234.2 M68.2,231.0 L67.7,232.4 M73.9,222.4 L72.1,226.2 M72.1,228.6 L70.6,233.1 M75.4,223.8 L75.1,226.2 L74.8,227.5 L74.0,228.3 L74.3,229.6 L74.5,230.7 L73.5,232.1 L72.5,233.5 L71.9,234.9 L72.4,235.9 M76.6,227.4 L75.6,230.1 M74.6,232.1 L73.8,234.9 M78.1,227.4 L77.4,229.2 L78.6,229.6 L80.1,228.2 M76.4,232.1 L75.6,234.9 M80.5,227.2 L80.0,228.8 L82.6,228.8 M85.2,225.1 L84.3,227.9 M74.2,234.9 L75.7,234.9 M70.0,244.1 L71.7,244.1 L71.5,245.5 M69.6,246.4 L70.5,244.5 M71.3,246.5 L72.3,247.5 M73.3,248.9 L74.6,248.9 M93.9,253.7 L91.2,255.3 L88.8,253.1 L86.3,253.8 L84.5,255.2 L82.6,253.8 L83.0,257.3 L82.7,259.5 L80.9,261.7 L80.4,262.9 L82.5,264.3 L85.7,263.6 L85.9,265.0 L88.7,266.2 L89.1,268.0 L90.2,268.0 L90.5,270.6 L92.5,272.4 L93.0,274.5 L93.4,275.7 L92.4,276.6 L91.6,277.8 L94.4,280.2 M83.8,272.0 L84.7,273.8 L84.4,276.2 L84.8,279.7 L84.8,282.5 L85.2,285.3 L86.3,288.8 L86.7,291.5 L87.8,292.8 M83.0,269.4 L83.5,268.9 L83.6,267.1 L83.1,264.3 M83.5,268.9 L84.3,271.3 L85.4,272.6 L87.8,272.0 L89.0,270.3 M81.7,248.2 L81.2,251.3 L84.2,252.4 L84.5,255.2 M77.3,255.6 L79.2,256.6 L79.4,257.3 L77.8,258.7 L76.4,259.0 M80.9,261.7 L82.7,259.5 M87.8,272.0 L90.5,270.6 M90.5,270.6 L91.2,274.5 L93.0,274.5 M91.6,277.8 L91.5,280.1 M88.8,250.6 L88.1,253.1 L88.8,253.1 M90.6,252.4 L89.9,255.5 M92.4,252.7 L92.1,255.0 M120.2,237.2 L122.5,239.1 L125.9,241.9 L127.7,243.1 L132.4,240.1 L134.2,240.5 L139.7,242.6 L139.6,241.2 L140.2,241.2 L147.3,241.2 M139.9,234.5 L140.2,241.2 M132.0,233.5 L130.9,235.4 L131.2,239.1 L132.4,240.1 M124.3,232.1 L124.4,234.2 L122.4,235.6 L120.2,236.5 L120.2,237.2 M115.1,241.7 L117.5,241.7 L117.6,240.5 L118.2,238.4 L120.2,237.2 M118.0,246.4 L118.4,245.7 L122.0,245.7 L121.7,239.1 L122.5,239.1 M134.5,240.5 L134.6,242.2 L133.5,246.8 L134.1,248.2 M139.7,242.6 L138.6,246.1 L139.6,249.6 M126.9,252.1 L127.4,248.4 L127.7,247.1 L133.5,246.8 L134.1,248.2 L133.2,251.0 L132.3,252.0 L130.5,253.3 M132.7,260.8 L135.0,261.5 L136.9,262.2 L138.6,264.3 L139.9,264.3 L141.7,265.0 L142.8,266.0 L143.8,262.4 L143.2,259.4 L143.6,257.3 L143.4,255.9 L144.2,255.1 L142.1,253.1 L140.2,253.1 L136.6,253.8 L135.1,255.2 L136.3,257.3 L135.1,258.7 L132.7,260.1 M132.4,268.7 L137.3,268.9 L139.4,269.2 L140.5,269.1 M137.2,272.0 L137.2,274.0 L137.1,276.5 M135.0,276.6 L137.1,276.5 L137.2,274.0 L138.9,274.3 L141.4,272.2 L144.0,272.3 L144.2,275.4 M146.0,253.4 L150.3,253.8 L150.3,257.8 M146.6,253.1 L147.4,246.6 M150.7,248.9 L152.4,251.0 L154.4,251.0 L152.7,253.1 L150.3,253.8 M146.0,253.4 L146.0,257.3 L148.2,258.7 L149.2,259.9 M149.8,264.0 L146.8,264.7 L146.2,266.4 M140.5,269.1 L142.2,268.2 L143.6,267.5 L145.2,268.3 L144.7,271.3 L144.0,272.3 M118.6,251.8 L119.0,250.6 L118.3,247.8 M120.1,251.3 L120.3,249.2 L122.0,249.3 L123.5,248.9 L123.8,251.0 L123.5,253.1 M125.9,252.4 L125.9,248.9 L125.3,248.9 M134.1,248.2 L135.0,249.6 L136.8,250.3 L138.6,248.9 M139.9,250.6 L141.7,253.1 L143.6,254.1 L146.0,253.4 M138.7,253.4 L139.9,250.6 L139.6,249.6 M143.4,257.3 L144.1,257.3 L146.0,257.3 M143.8,262.4 L145.3,263.3 L146.8,264.7 M138.6,264.3 L138.6,265.7 L139.8,267.8 L140.5,269.1 M124.3,226.3 L127.1,226.9 M121.4,227.2 L121.1,228.9 L121.3,230.5 M126.6,221.0 L128.4,222.0 L129.7,222.4 L129.4,223.3 L128.6,224.2 L129.1,224.6 L129.5,226.0 M128.5,219.4 L129.0,221.0 L128.5,221.6 L128.4,222.0 M129.7,218.4 L130.1,218.5 M132.6,219.1 L133.0,221.0 L131.7,221.5 L132.7,222.6 L132.3,223.4 L130.5,223.4 M137.3,218.8 L137.7,220.4 L138.0,221.4 L137.3,222.4 L135.4,222.1 L133.2,221.2 M130.5,223.4 L131.9,223.8 L132.7,224.1 L134.2,224.1 L134.4,223.1 L135.5,223.1 L137.4,222.9 M135.3,222.0 L134.4,222.7 M139.0,215.4 L139.0,216.7 L139.4,217.7 L137.4,219.1 L141.7,220.4 L142.7,220.2 L146.5,222.0 L145.8,223.8 M135.9,217.7 L138.7,217.9 L139.4,217.7 M138.9,214.8 L140.2,213.3 L138.8,210.3 L138.1,209.2 M131.1,215.7 L131.3,214.2 L131.8,212.3 L132.7,210.4 L134.2,209.5 L135.6,209.8 L137.9,209.2 M135.6,224.4 L137.7,225.7 L141.0,226.0 M136.7,227.2 L137.9,227.8 L139.8,227.4 M137.1,223.1 L139.5,222.9 L140.6,224.1 L141.5,224.9 M134.2,224.1 L135.6,224.4 L136.0,225.5 L135.9,226.9 M137.4,219.1 L139.2,220.7 L138.0,221.4 M150.5,228.8 L150.5,230.5 L149.5,230.6 L146.2,231.2 M150.5,228.8 L151.4,231.5 L151.9,233.5 L153.4,235.6 M149.5,230.6 L148.9,232.4 L147.9,234.0 M145.8,236.0 L147.4,234.5 L148.1,234.0 L149.9,234.8 L152.6,236.2 L153.5,236.6 M151.1,245.0 L153.3,244.5 L156.5,243.3 L158.6,242.6 L158.1,240.7 L156.0,239.6 M156.9,245.0 L157.3,244.9 M160.1,231.0 L160.4,232.6 L161.1,234.5 L161.5,235.6 L162.0,236.0 L162.7,237.7 L161.8,238.9 M156.0,230.5 L157.1,230.0 L160.1,231.0 M151.3,227.9 L152.6,227.5 M147.4,226.2 L149.7,226.7 L151.5,227.8 M152.1,224.1 L151.0,221.7 L153.0,220.7 L157.4,221.2 L156.7,219.4 L160.4,218.2 L164.6,219.0 L167.4,221.2 L169.2,221.0 L171.9,222.3 M154.3,225.1 L155.9,225.1 L159.5,226.2 L161.8,226.6 L163.3,227.9 L164.6,226.6 L166.2,226.4 L169.7,226.9 L169.2,225.1 L171.2,223.8 L171.9,222.3 M155.9,225.1 L156.6,227.7 L157.4,226.6 L158.7,227.2 M159.5,226.2 L159.4,227.9 L161.7,229.3 M163.1,230.5 L163.8,229.6 L165.2,228.6 L166.2,228.2 L167.0,228.9 M171.9,222.3 L173.7,221.2 L176.4,220.4 L178.8,220.8 L182.7,222.0 L185.8,221.6 L187.4,221.9 L187.6,220.0 L190.6,219.8 L195.7,223.3 L196.9,223.1 L197.5,222.7 L197.3,225.5 L197.7,226.9 M171.9,222.3 L174.7,224.4 L178.5,226.7 L183.8,227.5 L186.8,226.2 L188.5,224.8 L190.2,224.0 L187.4,221.9 M169.2,225.1 L169.7,226.9 L168.3,227.9 L167.0,228.9 L168.0,230.5 L170.1,231.7 L171.7,233.8 L172.7,235.6 L175.3,236.8 L177.1,237.1 L179.5,237.1 L182.4,236.8 L183.8,239.1 L183.6,239.8 L185.0,241.5 L186.0,240.8 L187.3,240.6 L188.9,240.6 L189.8,241.5 M167.8,230.7 L167.9,232.4 L168.8,233.8 L168.8,234.9 L167.7,237.0 L166.8,237.0 L166.4,238.0 L167.5,239.4 L166.1,240.0 M167.8,230.7 L166.1,231.0 L166.3,232.8 L165.4,232.9 L165.8,234.5 L164.3,235.7 L162.0,236.0 M160.1,231.0 L162.1,230.7 L163.9,230.5 L165.2,229.7 L167.8,230.7 M172.1,235.2 L174.7,236.6 L177.3,237.7 M177.3,238.0 L178.1,239.1 L179.9,239.1 L180.6,241.5 M182.4,236.8 L181.4,239.1 L181.1,240.8 L180.6,241.5 M183.8,239.1 L183.6,241.5 L185.2,242.2 L184.2,244.3 L184.7,245.4 L185.3,248.2 L185.2,249.6 M186.0,240.8 L185.5,242.6 L186.0,244.1 L187.0,244.3 L188.9,245.4 L189.1,246.7 L187.6,246.7 L187.3,248.2 M187.3,240.6 L187.3,242.2 L188.4,243.6 L190.2,246.1 L189.8,248.2 L188.7,249.2 M186.3,252.1 L187.1,252.5 L187.4,252.3 M195.2,228.6 L196.7,227.2 L197.7,226.9 M197.1,230.1 L198.0,229.6 M196.3,253.6 L195.4,255.2 L194.2,255.5 L192.7,255.8 L192.2,255.3 M211.2,258.4 L211.0,263.0 M203.2,267.0 L200.4,278.8 M201.7,274.8 L208.8,274.8 M208.4,268.2 L207.0,274.8 M208.8,274.8 L205.3,283.2 M208.1,276.9 L212.9,276.6 L215.6,276.4 M206.7,280.4 L207.7,281.8 L209.5,282.9" fill="none" stroke="#000" stroke-width="0.3" stroke-opacity="0.6" stroke-linejoin="round"/></g>
<path d="M183.74,200.10 L188.13,201.45 L193.52,203.52 L199.22,206.11 L204.20,208.94 L208.72,211.95 L212.99,215.10 L216.98,218.36 L220.60,221.71 L223.70,225.12 L226.49,228.59 L228.81,232.08 L230.71,235.58 L232.14,239.09 L233.15,242.59 L234.00,246.09 L234.59,249.59 L234.95,253.10 L235.10,256.60 L234.95,260.10 L234.59,263.61 L234.00,267.11 L233.15,270.61 L232.14,274.12 L230.71,277.62 L228.81,281.12 L226.49,284.61 L223.70,288.08 L220.60,291.49 L216.98,294.84 L212.99,298.10 L208.72,301.25 L204.20,304.26 L199.22,307.09 L193.52,309.68 L188.13,311.75 L183.74,313.10 L66.86,313.10 L62.47,311.75 L57.08,309.68 L51.38,307.09 L46.40,304.26 L41.88,301.25 L37.61,298.10 L33.62,294.84 L30.00,291.49 L26.90,288.08 L24.11,284.61 L21.79,281.12 L19.89,277.62 L18.46,274.12 L17.45,270.61 L16.60,267.11 L16.01,263.61 L15.65,260.10 L15.50,256.60 L15.65,253.10 L16.01,249.59 L16.60,246.09 L17.45,242.59 L18.46,239.09 L19.89,235.58 L21.79,232.08 L24.11,228.59 L26.90,225.12 L30.00,221.71 L33.62,218.36 L37.61,215.10 L41.88,211.95 L46.40,208.94 L51.38,206.11 L57.08,203.52 L62.47,201.45 L66.86,200.10 Z" fill="none" stroke="#000" stroke-width="0.5"/>
<rect x="46" y="327" width="155.5" height="7.600000000000023" fill="url(#jetg)"/>
<path d="M46.3,327 L39,330.8 L46.3,334.6 Z" fill="#000080"/>
<path d="M201.2,327 L208.7,330.8 L201.2,334.6 Z" fill="#800000"/>
<path d="M46,327 L201.5,327 L208.7,330.8 L201.5,334.6 L46,334.6 L39,330.8 Z" fill="none" stroke="#222" stroke-width="0.4"/>
<path d="M46.00,334.6 v1.3 M84.88,334.6 v1.3 M123.75,334.6 v1.3 M162.62,334.6 v1.3 M201.50,334.6 v1.3" stroke="#222" stroke-width="0.4"/>
<text x="47.0" y="341.6" class="tk" text-anchor="middle">≤ 200</text>
<text x="84.9" y="341.6" class="tk" text-anchor="middle">375</text>
<text x="123.8" y="341.6" class="tk" text-anchor="middle">550</text>
<text x="162.6" y="341.6" class="tk" text-anchor="middle">725</text>
<text x="201.5" y="341.6" class="tk" text-anchor="middle">≥ 900</text>
<text x="124.5" y="349.2" class="cbl" text-anchor="middle">Cloud top pressure [hPa]</text>
<text x="379.0" y="191.7" class="title" text-anchor="middle">Three-month average: July - September, 2015</text>
<text x="296.8" y="204.0" class="lbl">(d)</text>
<text x="292.2" y="213.1" class="ll" text-anchor="end">60°N</text>
<text x="274.2" y="235.0" class="ll" text-anchor="end">30°N</text>
<text x="269.9" y="257.7" class="ll" text-anchor="end">0°</text>
<text x="274.4" y="282.0" class="ll" text-anchor="end">30°S</text>
<text x="292.2" y="301.7" class="ll" text-anchor="end">60°S</text>
<text x="344.3" y="320.1" class="ll" text-anchor="middle">120°W</text>
<text x="363.8" y="320.1" class="ll" text-anchor="middle">60°W</text>
<text x="383.3" y="320.1" class="ll" text-anchor="middle">0°</text>
<text x="402.8" y="320.1" class="ll" text-anchor="middle">60°E</text>
<text x="422.3" y="320.1" class="ll" text-anchor="middle">120°E</text>
<clipPath id="clipd"><path d="M440.94,200.10 L445.33,201.45 L450.72,203.52 L456.42,206.11 L461.40,208.94 L465.92,211.95 L470.19,215.10 L474.18,218.36 L477.80,221.71 L480.90,225.12 L483.69,228.59 L486.01,232.08 L487.91,235.58 L489.34,239.09 L490.35,242.59 L491.20,246.09 L491.79,249.59 L492.15,253.10 L492.30,256.60 L492.15,260.10 L491.79,263.61 L491.20,267.11 L490.35,270.61 L489.34,274.12 L487.91,277.62 L486.01,281.12 L483.69,284.61 L480.90,288.08 L477.80,291.49 L474.18,294.84 L470.19,298.10 L465.92,301.25 L461.40,304.26 L456.42,307.09 L450.72,309.68 L445.33,311.75 L440.94,313.10 L324.06,313.10 L319.67,311.75 L314.28,309.68 L308.58,307.09 L303.60,304.26 L299.08,301.25 L294.81,298.10 L290.82,294.84 L287.20,291.49 L284.10,288.08 L281.31,284.61 L278.99,281.12 L277.09,277.62 L275.66,274.12 L274.65,270.61 L273.80,267.11 L273.21,263.61 L272.85,260.10 L272.70,256.60 L272.85,253.10 L273.21,249.59 L273.80,246.09 L274.65,242.59 L275.66,239.09 L277.09,235.58 L278.99,232.08 L281.31,228.59 L284.10,225.12 L287.20,221.71 L290.82,218.36 L294.81,215.10 L299.08,211.95 L303.60,208.94 L308.58,206.11 L314.28,203.52 L319.67,201.45 L324.06,200.10 Z"/></clipPath>
<g clip-path="url(#clipd)">
<path d="M294.8,298.1 L299.7,298.1 L304.6,298.1 L309.4,298.1 L314.3,298.1 L319.2,298.1 L324.0,298.1 L328.9,298.1 L333.8,298.1 L338.7,298.1 L343.5,298.1 L348.4,298.1 L353.3,298.1 L358.1,298.1 L363.0,298.1 L367.9,298.1 L372.8,298.1 L377.6,298.1 L382.5,298.1 L387.4,298.1 L392.2,298.1 L397.1,298.1 L402.0,298.1 L406.9,298.1 L411.7,298.1 L416.6,298.1 L421.5,298.1 L426.3,298.1 L431.2,298.1 L436.1,298.1 L441.0,298.1 L445.8,298.1 L450.7,298.1 L455.6,298.1 L460.4,298.1 L465.3,298.1 L470.2,298.1 M277.1,277.6 L282.9,277.6 L288.8,277.6 L294.7,277.6 L300.5,277.6 L306.4,277.6 L312.2,277.6 L318.1,277.6 L323.9,277.6 L329.8,277.6 L335.7,277.6 L341.5,277.6 L347.4,277.6 L353.2,277.6 L359.1,277.6 L364.9,277.6 L370.8,277.6 L376.6,277.6 L382.5,277.6 L388.4,277.6 L394.2,277.6 L400.1,277.6 L405.9,277.6 L411.8,277.6 L417.6,277.6 L423.5,277.6 L429.3,277.6 L435.2,277.6 L441.1,277.6 L446.9,277.6 L452.8,277.6 L458.6,277.6 L464.5,277.6 L470.3,277.6 L476.2,277.6 L482.1,277.6 L487.9,277.6 M272.7,256.6 L278.8,256.6 L284.9,256.6 L291.0,256.6 L297.1,256.6 L303.2,256.6 L309.3,256.6 L315.4,256.6 L321.5,256.6 L327.6,256.6 L333.7,256.6 L339.8,256.6 L345.9,256.6 L352.0,256.6 L358.1,256.6 L364.2,256.6 L370.3,256.6 L376.4,256.6 L382.5,256.6 L388.6,256.6 L394.7,256.6 L400.8,256.6 L406.9,256.6 L413.0,256.6 L419.1,256.6 L425.2,256.6 L431.3,256.6 L437.4,256.6 L443.5,256.6 L449.6,256.6 L455.7,256.6 L461.8,256.6 L467.9,256.6 L474.0,256.6 L480.1,256.6 L486.2,256.6 L492.3,256.6 M277.1,235.6 L282.9,235.6 L288.8,235.6 L294.7,235.6 L300.5,235.6 L306.4,235.6 L312.2,235.6 L318.1,235.6 L323.9,235.6 L329.8,235.6 L335.7,235.6 L341.5,235.6 L347.4,235.6 L353.2,235.6 L359.1,235.6 L364.9,235.6 L370.8,235.6 L376.6,235.6 L382.5,235.6 L388.4,235.6 L394.2,235.6 L400.1,235.6 L405.9,235.6 L411.8,235.6 L417.6,235.6 L423.5,235.6 L429.3,235.6 L435.2,235.6 L441.1,235.6 L446.9,235.6 L452.8,235.6 L458.6,235.6 L464.5,235.6 L470.3,235.6 L476.2,235.6 L482.1,235.6 L487.9,235.6 M294.8,215.1 L299.7,215.1 L304.6,215.1 L309.4,215.1 L314.3,215.1 L319.2,215.1 L324.0,215.1 L328.9,215.1 L333.8,215.1 L338.7,215.1 L343.5,215.1 L348.4,215.1 L353.3,215.1 L358.1,215.1 L363.0,215.1 L367.9,215.1 L372.8,215.1 L377.6,215.1 L382.5,215.1 L387.4,215.1 L392.2,215.1 L397.1,215.1 L402.0,215.1 L406.9,215.1 L411.7,215.1 L416.6,215.1 L421.5,215.1 L426.3,215.1 L431.2,215.1 L436.1,215.1 L441.0,215.1 L445.8,215.1 L450.7,215.1 L455.6,215.1 L460.4,215.1 L465.3,215.1 L470.2,215.1 M343.5,313.1 L340.6,311.7 L337.0,309.7 L333.2,307.1 L329.9,304.3 L326.9,301.3 L324.0,298.1 L321.4,294.8 L319.0,291.5 L316.9,288.1 L315.0,284.6 L313.5,281.1 L312.2,277.6 L311.3,274.1 L310.6,270.6 L310.0,267.1 L309.6,263.6 L309.4,260.1 L309.3,256.6 L309.4,253.1 L309.6,249.6 L310.0,246.1 L310.6,242.6 L311.3,239.1 L312.2,235.6 L313.5,232.1 L315.0,228.6 L316.9,225.1 L319.0,221.7 L321.4,218.4 L324.0,215.1 L326.9,211.9 L329.9,208.9 L333.2,206.1 L337.0,203.5 L340.6,201.5 L343.5,200.1 M363.0,313.1 L361.6,311.7 L359.8,309.7 L357.9,307.1 L356.2,304.3 L354.7,301.3 L353.3,298.1 L351.9,294.8 L350.7,291.5 L349.7,288.1 L348.8,284.6 L348.0,281.1 L347.4,277.6 L346.9,274.1 L346.6,270.6 L346.3,267.1 L346.1,263.6 L346.0,260.1 L345.9,256.6 L346.0,253.1 L346.1,249.6 L346.3,246.1 L346.6,242.6 L346.9,239.1 L347.4,235.6 L348.0,232.1 L348.8,228.6 L349.7,225.1 L350.7,221.7 L351.9,218.4 L353.3,215.1 L354.7,211.9 L356.2,208.9 L357.9,206.1 L359.8,203.5 L361.6,201.5 L363.0,200.1 M382.5,313.1 L382.5,311.7 L382.5,309.7 L382.5,307.1 L382.5,304.3 L382.5,301.3 L382.5,298.1 L382.5,294.8 L382.5,291.5 L382.5,288.1 L382.5,284.6 L382.5,281.1 L382.5,277.6 L382.5,274.1 L382.5,270.6 L382.5,267.1 L382.5,263.6 L382.5,260.1 L382.5,256.6 L382.5,253.1 L382.5,249.6 L382.5,246.1 L382.5,242.6 L382.5,239.1 L382.5,235.6 L382.5,232.1 L382.5,228.6 L382.5,225.1 L382.5,221.7 L382.5,218.4 L382.5,215.1 L382.5,211.9 L382.5,208.9 L382.5,206.1 L382.5,203.5 L382.5,201.5 L382.5,200.1 M402.0,313.1 L403.4,311.7 L405.2,309.7 L407.1,307.1 L408.8,304.3 L410.3,301.3 L411.7,298.1 L413.1,294.8 L414.3,291.5 L415.3,288.1 L416.2,284.6 L417.0,281.1 L417.6,277.6 L418.1,274.1 L418.4,270.6 L418.7,267.1 L418.9,263.6 L419.0,260.1 L419.1,256.6 L419.0,253.1 L418.9,249.6 L418.7,246.1 L418.4,242.6 L418.1,239.1 L417.6,235.6 L417.0,232.1 L416.2,228.6 L415.3,225.1 L414.3,221.7 L413.1,218.4 L411.7,215.1 L410.3,211.9 L408.8,208.9 L407.1,206.1 L405.2,203.5 L403.4,201.5 L402.0,200.1 M421.5,313.1 L424.4,311.7 L428.0,309.7 L431.8,307.1 L435.1,304.3 L438.1,301.3 L441.0,298.1 L443.6,294.8 L446.0,291.5 L448.1,288.1 L450.0,284.6 L451.5,281.1 L452.8,277.6 L453.7,274.1 L454.4,270.6 L455.0,267.1 L455.4,263.6 L455.6,260.1 L455.7,256.6 L455.6,253.1 L455.4,249.6 L455.0,246.1 L454.4,242.6 L453.7,239.1 L452.8,235.6 L451.5,232.1 L450.0,228.6 L448.1,225.1 L446.0,221.7 L443.6,218.4 L441.0,215.1 L438.1,211.9 L435.1,208.9 L431.8,206.1 L428.0,203.5 L424.4,201.5 L421.5,200.1" fill="none" stroke="#000" stroke-width="0.3" stroke-opacity="0.22"/>
<path d="M305.2,211.6 L305.2,212.3 L307.5,212.3 L304.9,213.1 L304.1,213.5 L302.5,214.8 L303.4,215.2 L303.5,216.1 L299.5,218.4 L303.1,217.4 L306.1,216.4 L308.8,214.8 L309.1,215.4 L311.9,214.6 L314.2,215.2 L315.2,216.2 L315.9,217.1 L315.8,218.7 L316.0,220.0 L316.0,221.4 L317.0,222.4 L315.8,222.8 L315.3,224.2 L313.8,226.5 L313.0,228.2 L312.8,230.3 L313.0,232.4 L314.1,232.8 L314.6,233.8 L314.7,235.2 L315.0,237.1 L316.0,239.2 L317.3,240.5 L317.1,239.8 L316.1,236.3 L315.7,234.3 L316.8,234.5 L318.3,237.0 L319.5,240.7 L319.3,242.6 L321.7,244.5 L324.0,245.5 L325.5,245.4 L327.2,246.8 L329.5,247.5 L330.5,249.6 L332.0,250.8 L333.8,251.5 L335.4,250.6 L334.2,249.9 L333.0,250.3 L331.9,248.9 L332.3,246.1 L331.8,245.5 L329.3,245.4 L329.8,243.8 L330.5,241.5 L328.4,241.9 L327.9,243.5 L325.7,243.8 L325.2,243.5 L324.1,241.2 L324.6,239.1 L325.2,237.3 L327.4,235.9 L329.7,236.3 L330.4,235.4 L332.7,235.6 L333.8,236.3 L334.0,238.0 L334.7,238.9 L335.3,237.7 L335.3,234.5 L338.8,232.1 L339.4,230.0 L341.0,228.2 L343.5,227.3 L343.9,226.2 L346.1,226.2 L347.4,225.5 L349.9,224.4 L348.0,222.7 L350.6,223.1 L353.5,220.7 L352.8,220.4 L351.4,217.7 L351.1,215.0 L348.3,215.9 L347.8,214.5 L345.6,213.6 L344.0,216.1 L343.5,218.0 L340.9,220.7 L340.7,218.4 L338.3,217.4 L335.9,215.9 L337.6,214.5 L341.8,212.6 L345.1,211.0 L344.8,209.5 L339.9,210.1 L335.4,210.1 L331.2,209.8 L326.4,208.9 L320.4,209.2 L315.2,208.2 L311.5,208.9 L305.2,211.6 M354.4,210.7 L351.4,213.5 L348.8,213.5 L346.2,212.3 L349.3,210.1 L347.4,208.9 L344.2,208.7 L344.3,207.5 L347.4,206.8 L349.9,207.4 L352.0,208.7 L353.0,209.2 L354.4,210.7 M331.3,208.1 L330.6,209.5 L335.7,209.8 L338.1,209.1 L338.5,207.4 L336.1,207.2 L334.2,207.1 L331.3,208.1 M350.3,205.4 L346.4,205.3 L348.5,203.8 L349.2,202.9 L355.4,202.3 L359.9,202.5 L355.7,203.8 L350.3,205.4 M349.4,206.4 L344.6,206.2 L344.0,205.3 L349.8,205.2 L349.4,206.4 M329.1,207.8 L330.5,208.1 L333.3,207.5 L333.1,206.6 L331.1,206.5 L329.1,207.8 M354.0,204.5 L357.2,203.4 L360.5,202.7 L366.1,202.5 L371.8,202.1 L375.2,202.7 L375.6,204.0 L374.4,205.6 L374.0,207.8 L372.9,208.8 L371.4,209.8 L367.7,210.1 L364.1,211.6 L361.6,215.1 L360.3,214.6 L358.9,213.2 L358.3,211.0 L358.7,209.2 L360.3,208.7 L358.8,208.1 L358.9,205.9 L355.8,205.6 L354.0,204.5 M372.0,212.6 L371.4,211.6 L372.5,211.1 L375.2,211.0 L376.2,211.9 L374.0,213.0 L372.0,212.6 M335.7,251.0 L336.7,249.0 L338.9,248.2 L339.1,249.0 L341.2,249.2 L343.7,249.2 L345.5,249.2 L346.0,250.6 L347.8,252.4 L350.8,253.1 L352.0,255.5 L352.6,257.3 L355.7,258.4 L358.1,258.7 L360.0,260.0 L361.2,260.8 L361.2,262.9 L360.1,265.0 L358.9,266.4 L359.1,269.2 L358.6,271.0 L357.5,272.7 L355.7,273.3 L353.8,274.8 L353.9,276.6 L352.7,278.3 L351.9,280.1 L350.9,281.1 L348.8,280.7 L349.7,282.2 L349.9,283.2 L347.5,283.9 L347.6,285.2 L346.2,285.3 L346.7,286.3 L346.7,288.1 L345.9,289.1 L347.1,290.1 L346.4,291.8 L346.5,292.8 L347.2,293.8 L349.4,294.8 L348.0,295.2 L346.1,294.2 L343.8,293.2 L342.0,290.1 L342.0,288.1 L341.5,285.7 L340.7,282.9 L340.9,279.0 L340.5,276.2 L340.5,272.7 L340.3,269.6 L338.8,268.4 L336.6,266.4 L334.8,263.3 L333.2,260.8 L333.2,259.8 L333.7,258.4 L333.4,256.6 L334.0,255.5 L335.3,254.1 L335.5,252.0 L335.7,251.0 M412.4,265.0 L413.0,267.5 L412.3,268.9 L410.7,274.0 L409.2,274.5 L408.5,272.0 L409.2,268.5 L410.6,267.6 L411.5,266.1 L412.4,265.0 M408.1,224.8 L409.3,224.1 L411.1,223.8 L411.5,225.1 L410.6,225.5 L411.9,227.2 L412.7,228.0 L413.2,230.5 L411.6,230.9 L410.3,230.3 L410.3,228.2 L409.5,227.3 L408.8,226.5 L408.1,224.8 M379.5,221.7 L380.9,221.3 L383.2,220.9 L383.4,219.9 L382.6,219.4 L381.7,218.2 L381.5,217.7 L381.6,216.7 L380.9,216.0 L380.0,216.0 L379.4,216.7 L379.7,217.5 L380.0,218.4 L380.9,218.7 L381.0,219.5 L380.2,219.5 L380.3,220.2 L379.8,220.6 L380.7,220.8 L379.5,221.7 M379.4,220.2 L379.3,219.2 L379.6,218.6 L378.7,218.2 L378.2,218.7 L377.4,219.0 L377.4,220.4 L378.3,220.6 L379.4,220.2 M458.3,234.7 L459.1,234.5 L458.8,233.1 L460.6,233.1 L461.2,232.6 L462.5,232.2 L463.2,231.6 L462.5,230.0 L462.5,228.9 L461.4,227.6 L461.0,228.2 L461.5,229.3 L460.6,230.7 L460.2,231.7 L458.8,231.7 L458.0,232.6 L457.6,233.3 L458.3,234.7 M460.6,227.5 L460.9,226.8 L462.3,227.2 L462.8,226.3 L459.9,224.9 L459.9,226.3 L460.6,227.5 M459.6,224.4 L458.7,222.0 L455.6,218.8 L456.8,220.7 L459.6,224.4 M454.2,240.8 L454.6,239.1 L454.9,239.4 L454.6,241.3 L454.2,240.8 M454.7,243.6 L456.0,243.7 L455.9,245.7 L457.5,246.9 L456.6,247.4 L455.4,246.7 L454.7,243.6 M456.7,251.6 L458.7,249.9 L459.4,251.3 L458.9,252.5 L457.6,251.3 L456.7,251.6 M449.0,255.3 L450.5,254.6 L451.7,253.9 L452.8,252.7 L453.7,251.7 L455.0,253.0 L454.4,253.7 L454.3,255.9 L455.1,256.0 L454.2,256.6 L453.5,258.4 L453.2,259.4 L452.3,259.1 L451.4,258.8 L449.8,258.7 L449.6,257.7 L449.0,257.0 L449.0,255.3 M440.5,252.7 L441.9,253.0 L443.6,255.0 L445.6,257.3 L447.1,258.7 L446.9,260.7 L446.1,260.7 L444.8,259.4 L443.7,257.3 L442.7,255.3 L440.5,252.7 M446.5,261.4 L448.2,260.9 L450.1,261.2 L452.1,262.0 L452.0,262.7 L450.0,262.3 L448.2,262.1 L447.0,261.8 L446.5,261.4 M455.3,260.5 L455.4,256.6 L456.0,255.9 L458.6,255.5 L457.5,256.2 L456.6,257.3 L457.7,257.2 L456.9,258.0 L457.1,260.0 L455.8,260.5 L455.3,260.5 M462.4,257.7 L464.2,257.2 L466.6,257.7 L468.4,258.4 L470.8,259.5 L472.3,260.8 L472.5,262.2 L473.8,264.0 L471.8,263.6 L471.3,262.2 L470.1,262.0 L469.6,262.9 L468.2,263.0 L467.0,262.3 L466.2,260.3 L464.8,259.6 L463.0,258.6 L462.4,257.7 M450.2,272.0 L450.0,274.8 L449.8,277.6 L448.9,280.4 L450.2,281.1 L452.3,280.4 L453.9,280.4 L455.7,279.2 L458.8,278.7 L460.3,279.4 L460.5,280.9 L462.1,279.7 L461.5,281.6 L462.5,281.6 L462.2,283.2 L463.6,283.8 L465.1,284.0 L466.5,283.1 L467.8,282.8 L469.8,280.4 L471.2,279.0 L472.8,276.4 L473.3,274.3 L472.4,273.1 L471.7,272.2 L471.6,270.9 L470.3,269.8 L470.1,267.8 L470.3,267.0 L469.3,266.4 L469.0,264.1 L468.2,265.6 L467.7,268.5 L467.2,268.9 L466.2,268.4 L464.5,267.1 L465.4,265.2 L464.3,265.1 L462.9,264.7 L461.9,265.1 L460.7,267.0 L459.6,266.4 L458.7,266.5 L457.9,267.5 L456.9,268.4 L455.8,269.4 L454.4,270.5 L452.5,271.0 L450.9,271.9 L450.2,272.0 M463.5,285.1 L465.5,285.2 L464.3,286.7 L463.4,287.1 L463.1,286.1 L463.5,285.1 M482.0,280.7 L482.5,282.9 L483.9,283.0 L482.4,284.1 L480.1,285.7 L480.0,285.4 L480.9,284.5 L480.6,284.1 L481.6,283.2 L481.8,281.5 L482.0,280.7 M479.3,285.0 L479.6,285.7 L477.7,287.2 L476.4,287.7 L475.2,288.7 L474.1,289.2 L472.9,288.8 L473.5,288.2 L475.0,287.4 L476.8,286.7 L478.0,285.9 L479.3,285.0 M431.0,251.7 L431.2,249.7 L432.2,251.3 L432.0,252.3 L431.6,252.5 L431.0,251.7 M331.8,241.3 L333.7,240.3 L334.5,240.5 L336.5,241.5 L338.1,242.4 L335.9,242.7 L334.7,241.3 L333.0,241.4 L331.8,241.3 M337.8,243.6 L338.9,242.7 L340.5,242.8 L341.4,243.6 L340.1,243.8 L337.8,243.6 M386.9,204.1 L388.9,203.4 L392.7,203.4 L391.1,204.4 L389.3,205.2 L388.2,204.8 L386.9,204.1 M404.9,208.1 L405.7,206.4 L407.0,205.4 L409.8,205.2 L408.0,206.1 L407.0,207.2 L406.4,208.5 L404.9,208.1 M350.6,223.3 L352.8,222.0 L353.5,220.6 L354.3,222.4 L354.2,223.4 L353.5,224.0 L352.4,223.8 L350.6,223.3 M315.0,221.2 L316.3,221.7 L316.5,222.8 L315.6,222.5 L315.0,221.2 M338.5,207.0 L340.8,206.8 L341.5,207.5 L339.8,208.7 L338.8,207.9 L338.5,207.0 M342.9,206.7 L344.9,206.7 L342.8,207.8 L342.9,206.7 M335.0,206.0 L339.1,206.0 L340.6,205.3 L338.7,205.1 L336.0,205.3 L335.0,206.0 M341.8,205.9 L343.8,205.2 L342.9,205.4 L341.8,205.9 M345.2,204.3 L346.9,204.6 L349.6,203.8 L349.8,203.0 L347.1,203.1 L345.2,204.3 M341.8,212.6 L344.0,213.5 L345.0,212.6 L343.8,211.6 L341.8,212.6 M401.3,203.3 L404.1,203.0 L406.6,203.3 L403.8,203.6 L401.3,203.3 M417.7,203.8 L421.0,204.0 L423.2,204.6 L420.3,203.2 L417.8,203.0 L417.7,203.8 M438.8,206.1 L442.0,207.0 L443.2,205.9 L440.3,205.6 L438.8,206.1 M304.6,208.4 L306.0,208.1 L305.9,208.4 L304.4,208.5 M459.8,208.4 L459.9,208.1 L460.6,208.5 L459.8,208.4 M335.4,243.7 L336.7,244.0 L336.3,244.1 L335.4,243.7 M342.1,243.6 L343.1,243.8 L342.8,244.0 L342.1,243.6 M448.4,243.8 L449.0,242.8 L448.7,242.5 L447.7,243.1 L448.4,243.8 M389.5,230.0 L391.3,229.8 L391.1,230.9 L389.5,230.0 M387.2,229.3 L388.0,228.0 L387.9,229.2 L387.2,229.3 M387.3,226.8 L387.8,226.5 L387.7,227.6 L387.3,226.8 M396.0,231.9 L397.6,231.9 L396.8,232.1 L396.0,231.9 M401.1,232.1 L402.3,231.6 L402.0,232.3 L401.1,232.1 M457.8,263.9 L459.7,262.5 L458.5,262.6 L457.8,263.9 M480.7,270.8 L482.1,272.3 L482.0,271.7 L480.7,270.8 M476.9,260.8 L477.9,262.6 L479.7,263.3 L480.8,264.1 L479.2,262.2 L476.9,260.8 M473.8,260.5 L475.1,259.5 L475.3,260.5 L473.8,261.0 L472.8,260.6 L473.8,260.5 M489.1,268.8 L489.9,268.9 L489.5,269.4 L489.1,268.8 M350.3,292.5 L351.6,292.4 L352.1,292.7 L351.3,293.0 L350.3,292.5 M363.0,294.2 L364.0,294.3 L364.2,294.7 L363.0,294.2 M419.3,290.7 L420.1,290.8 L419.4,291.3 L419.3,290.7 M288.9,243.3 L289.6,242.8 L289.2,242.4 L288.9,243.3 M305.7,217.1 L307.0,216.5 L306.3,216.2 L305.7,217.1 M294.2,220.0 L297.1,219.2 L295.8,219.5 L294.2,220.0 M289.5,220.6 L291.8,220.4 L290.4,220.7 L289.5,220.6 M462.9,226.1 L463.4,225.1 L464.0,224.4 L465.1,222.4 L464.8,221.4 L464.5,222.3 L463.7,224.8 L462.9,226.1 M457.2,247.1 L457.9,247.8 L458.3,248.9 L457.8,249.6 L457.1,248.5 L456.4,247.8 L457.2,247.1 M454.2,250.3 L455.2,249.2 L454.9,248.6 L453.7,250.7 L454.2,250.3 M459.8,258.8 L460.6,259.1 L460.2,259.3 L459.8,258.8 M460.2,255.5 L460.9,256.2 L460.6,257.2 L460.2,256.2 L460.2,255.5 M463.6,257.0 L464.2,257.2 L463.6,257.7 L463.0,257.5 L463.6,257.0 M452.1,262.6 L453.0,262.4 L454.8,262.6 L455.7,262.5 L457.0,262.4 L454.8,262.8 L453.0,262.8 L452.1,262.6 M401.5,235.7 L402.5,237.3 L403.6,239.8 L404.7,241.9 L405.6,244.0 L406.3,245.7 L407.6,247.1 L408.7,247.8 L409.5,249.3 L413.5,248.3 L413.5,249.2 L412.3,252.4 L410.5,255.2 L408.1,257.3 L406.9,258.7 L406.6,260.1 L406.2,261.9 L407.1,264.0 L407.0,267.1 L404.7,269.2 L403.5,270.6 L403.6,273.4 L401.9,274.8 L401.6,276.8 L400.0,278.5 L398.1,280.2 L396.9,280.4 L394.0,281.0 L393.1,280.4 L393.0,279.0 L392.7,277.6 L391.5,275.5 L391.1,272.7 L389.7,269.2 L389.6,267.8 L390.7,265.0 L390.5,262.9 L389.9,260.8 L389.8,260.1 L388.0,257.3 L388.3,255.9 L388.3,254.1 L387.7,253.4 L386.2,253.6 L385.2,252.2 L383.1,252.4 L381.3,253.2 L379.8,253.0 L377.9,253.5 L375.8,251.8 L374.6,251.0 L373.4,248.9 L372.3,247.8 L371.9,246.3 L372.6,245.0 L372.9,243.3 L372.3,241.9 L373.0,239.8 L374.8,237.3 L376.8,235.6 L377.0,233.8 L378.5,232.8 L379.1,231.5 L381.4,231.9 L383.1,231.0 L385.4,230.8 L388.2,230.5 L388.8,231.9 L388.4,232.8 L389.2,233.5 L391.4,234.0 L393.9,235.2 L394.1,234.2 L395.8,233.8 L397.1,234.4 L399.4,235.0 L401.2,234.7 L402.5,234.7 M402.5,234.7 L402.8,233.5 L403.1,231.7 L403.0,230.9 L402.2,230.8 L400.8,231.2 L399.4,231.2 L398.1,230.7 L397.4,229.6 L397.4,228.4 L398.4,227.9 L398.7,227.8 L399.8,227.8 L402.6,227.5 L405.6,227.5 L405.5,226.5 L403.3,225.3 L402.7,223.8 L401.5,224.2 L400.9,225.5 L400.2,224.8 L399.0,224.1 L398.7,225.0 L398.2,225.8 L398.1,227.2 L397.2,228.0 L395.9,228.0 L395.3,228.3 L396.1,230.0 L395.5,231.0 L394.7,230.3 L394.3,228.9 L393.3,227.3 L391.3,226.2 L389.9,224.6 L389.2,224.9 L389.4,225.8 L390.3,226.9 L391.4,227.5 L392.9,228.4 L392.0,228.9 L391.4,230.0 L391.3,228.5 L390.5,228.0 L389.3,227.4 L388.3,226.5 L387.3,225.5 L386.1,226.4 L385.0,226.2 L384.3,227.3 L382.9,228.1 L382.3,228.9 L382.6,229.5 L382.0,230.3 L381.2,230.9 L380.0,230.9 L379.3,231.4 L378.8,230.8 L378.2,230.5 L377.4,230.7 L377.5,229.6 L377.1,228.9 L377.6,227.2 L377.4,226.4 L378.1,226.0 L381.7,226.2 L381.8,224.4 L381.2,223.6 L380.1,223.1 L381.7,222.6 L383.3,221.6 L384.3,220.8 L384.8,219.7 L386.1,219.4 L386.8,218.0 L386.7,217.1 L387.7,216.6 L387.8,217.7 L388.1,219.0 L389.7,219.0 L391.9,218.5 L393.1,217.7 L393.0,216.7 L394.6,216.9 L394.1,215.7 L396.2,215.4 L393.4,214.9 L392.7,213.5 L394.1,211.9 L392.6,211.5 L390.8,213.5 L391.5,215.1 L390.8,217.1 L389.7,218.1 L389.0,217.8 L387.9,215.8 L386.5,216.4 L385.2,215.8 L384.9,214.2 L386.3,212.9 L388.0,211.6 L389.0,210.3 L390.0,209.5 L391.7,208.8 L393.8,208.4 L396.1,208.9 L397.1,209.4 L400.5,210.3 L401.2,211.0 L402.6,211.0 L402.1,209.8 L406.4,209.8 L408.3,209.7 L408.9,209.1 L412.3,208.9 L413.1,207.2 L416.0,207.0 L418.5,206.4 L422.8,205.5 L423.6,204.7 L428.7,206.3 L429.8,207.0 L433.1,207.2 L436.8,207.5 L439.2,208.4 L441.9,207.5 L447.0,208.1 L452.6,208.9 L457.3,209.1 L461.4,209.5 L462.5,209.7 L465.9,211.9 L465.4,212.3 L466.6,213.5 L465.5,214.2 L465.3,215.1 L463.4,216.4 L464.5,217.7 L465.0,219.4 L464.7,221.0 L460.2,216.7 L459.3,214.2 L458.5,215.6 L455.9,215.4 L452.6,215.6 L453.1,219.0 L455.6,219.7 L457.6,222.7 L456.9,226.2 L455.5,226.5 L455.1,227.9 L456.6,231.4 L455.4,232.4 L454.4,230.2 L452.9,228.9 L451.1,229.3 L450.9,228.2 L450.1,227.9 L449.1,229.3 L449.4,230.0 L451.2,230.7 L452.3,230.7 L451.1,232.1 L452.8,234.2 L453.9,235.6 L454.0,237.0 L453.3,238.7 L452.1,240.1 L450.2,241.0 L448.6,241.7 L447.0,241.5 L446.3,242.6 L446.1,243.3 L448.0,245.7 L448.7,248.2 L447.4,249.2 L446.3,250.5 L446.1,249.2 L445.0,248.9 L443.3,247.1 L443.1,248.2 L442.8,250.2 L443.6,251.6 L444.3,251.8 L445.6,253.4 L446.0,255.6 L445.6,255.7 L444.1,254.6 L442.4,251.0 L442.3,249.2 L441.5,245.7 L440.9,244.8 L439.3,245.4 L439.3,243.6 L437.7,242.1 L437.2,240.8 L436.5,241.2 L435.1,241.5 L434.5,242.0 L433.5,242.9 L432.0,245.0 L431.0,245.7 L431.0,247.5 L430.9,249.4 L430.1,250.4 L429.6,250.9 L428.8,249.8 L427.8,247.6 L426.8,245.4 L426.2,243.3 L425.9,241.7 L424.4,242.0 L423.3,240.1 L422.3,239.2 L420.5,238.9 L419.0,239.0 L416.4,238.5 L415.7,237.5 L412.8,237.1 L411.8,235.4 L410.6,235.6 L411.0,236.6 L412.2,238.0 L413.1,239.6 L414.6,239.6 L415.6,238.2 L416.0,239.2 L417.5,240.1 L418.2,241.0 L417.2,243.3 L415.6,244.7 L413.9,245.5 L411.8,246.8 L409.7,247.6 L408.8,247.7 L408.3,246.1 L408.2,244.8 L407.2,242.8 L405.8,241.3 L405.4,239.9 L404.5,238.7 L403.2,237.0 L402.8,235.9 L402.5,234.7 M302.5,209.7 L303.6,210.4 L304.7,211.2 L302.4,212.3 L299.1,211.9 M312.0,308.6 L319.8,308.6 L322.8,308.1 L325.0,307.1 L328.4,306.5 L332.2,306.2 L336.7,306.5 L340.3,306.0 L344.3,305.7 L348.8,306.0 L350.0,304.8 L352.0,303.1 L352.2,301.9 L352.9,300.9 L355.6,300.2 L355.0,300.9 L354.7,302.2 L355.0,303.7 L356.4,305.4 L357.5,306.5 L357.0,307.1 L362.8,308.4 L366.8,308.6 L368.7,308.4 L370.4,307.6 L374.1,306.2 L378.2,305.1 L382.5,304.3 L386.9,304.3 L391.3,304.3 L395.7,304.0 L400.3,303.4 L405.2,302.5 L409.6,302.8 L413.7,303.4 L414.1,304.3 L415.6,304.0 L418.6,302.8 L423.5,302.2 L428.3,301.9 L432.8,302.0 L437.0,302.3 L442.0,302.0 L446.3,302.2 L449.4,303.4 L452.6,304.3 L453.5,305.1 L454.7,305.7 L450.4,307.6 L449.1,308.6 L453.0,308.6" fill="none" stroke="#000" stroke-width="0.45" stroke-opacity="0.85" stroke-linejoin="round"/>
<path d="M317.0,222.4 L331.9,222.4 L332.0,222.1 L334.5,223.1 L336.7,224.1 L337.4,225.1 L336.6,227.2 L338.9,226.3 L340.5,225.7 L341.7,225.1 L343.4,225.1 L344.6,224.0 L345.9,223.7 L345.7,224.9 L345.8,225.3 M320.4,209.2 L314.0,214.9 L314.9,215.7 L316.4,215.4 L316.8,217.8 M314.5,233.8 L316.0,233.7 L317.8,234.7 L319.4,234.7 L320.5,234.3 L321.2,235.9 L322.0,236.3 L323.1,235.7 L323.8,237.3 L324.9,238.5 M321.7,222.4 L320.8,219.2 L324.0,215.1 M323.9,222.4 L328.9,215.1 M328.1,222.4 L332.8,215.1 M331.8,222.4 L333.2,219.8 L337.9,217.2 M340.9,220.7 L339.6,223.8 L341.8,225.1 M352.6,220.8 L349.1,220.4 L348.4,218.4 L351.1,215.0 M314.8,215.1 L336.3,215.1 M322.0,209.5 L321.0,212.3 L322.1,215.1 M328.8,209.8 L331.5,211.9 L334.7,212.6 L332.8,215.1 M313.4,227.2 L320.8,227.2 M320.4,227.9 L325.5,227.9 M317.5,230.7 L328.6,230.7 M331.4,231.0 L339.1,231.0 M330.6,232.1 L334.7,232.1 M326.0,224.5 L330.0,224.5 M325.0,226.5 L328.0,226.5 M325.2,228.6 L328.9,228.6 M315.8,227.2 L314.7,229.3 L316.6,232.1 M320.2,222.4 L318.9,224.4 L317.5,227.2 M319.1,227.2 L317.5,230.7 M321.8,225.1 L320.4,227.9 M321.6,227.9 L319.0,234.7 M327.1,222.4 L324.4,227.9 M325.5,227.9 L324.4,230.7 M323.7,231.0 L322.6,234.2 M325.4,231.0 L324.9,232.4 M331.1,222.4 L329.3,226.2 M329.3,228.6 L327.8,233.1 M332.6,223.8 L332.3,226.2 L332.0,227.5 L331.2,228.3 L331.5,229.6 L331.7,230.7 L330.7,232.1 L329.7,233.5 L329.1,234.9 L329.6,235.9 M333.8,227.4 L332.8,230.1 M331.8,232.1 L331.0,234.9 M335.3,227.4 L334.6,229.2 L335.8,229.6 L337.3,228.2 M333.6,232.1 L332.8,234.9 M337.7,227.2 L337.2,228.8 L339.8,228.8 M342.4,225.1 L341.5,227.9 M331.4,234.9 L332.9,234.9 M327.2,244.1 L328.9,244.1 L328.7,245.5 M326.8,246.4 L327.7,244.5 M328.5,246.5 L329.5,247.5 M330.5,248.9 L331.8,248.9 M351.1,253.7 L348.4,255.3 L346.0,253.1 L343.5,253.8 L341.7,255.2 L339.8,253.8 L340.2,257.3 L339.9,259.5 L338.1,261.7 L337.6,262.9 L339.7,264.3 L342.9,263.6 L343.1,265.0 L345.9,266.2 L346.3,268.0 L347.4,268.0 L347.7,270.6 L349.7,272.4 L350.2,274.5 L350.6,275.7 L349.6,276.6 L348.8,277.8 L351.6,280.2 M341.0,272.0 L341.9,273.8 L341.6,276.2 L342.0,279.7 L342.0,282.5 L342.4,285.3 L343.5,288.8 L343.9,291.5 L345.0,292.8 M340.2,269.4 L340.7,268.9 L340.8,267.1 L340.3,264.3 M340.7,268.9 L341.5,271.3 L342.6,272.6 L345.0,272.0 L346.2,270.3 M338.9,248.2 L338.4,251.3 L341.4,252.4 L341.7,255.2 M334.5,255.6 L336.4,256.6 L336.6,257.3 L335.0,258.7 L333.6,259.0 M338.1,261.7 L339.9,259.5 M345.0,272.0 L347.7,270.6 M347.7,270.6 L348.4,274.5 L350.2,274.5 M348.8,277.8 L348.7,280.1 M346.0,250.6 L345.3,253.1 L346.0,253.1 M347.8,252.4 L347.1,255.5 M349.6,252.7 L349.3,255.0 M377.4,237.2 L379.7,239.1 L383.1,241.9 L384.9,243.1 L389.6,240.1 L391.4,240.5 L396.9,242.6 L396.8,241.2 L397.4,241.2 L404.5,241.2 M397.1,234.5 L397.4,241.2 M389.2,233.5 L388.1,235.4 L388.4,239.1 L389.6,240.1 M381.5,232.1 L381.6,234.2 L379.6,235.6 L377.4,236.5 L377.4,237.2 M372.3,241.7 L374.7,241.7 L374.8,240.5 L375.4,238.4 L377.4,237.2 M375.2,246.4 L375.6,245.7 L379.2,245.7 L378.9,239.1 L379.7,239.1 M391.7,240.5 L391.8,242.2 L390.7,246.8 L391.3,248.2 M396.9,242.6 L395.8,246.1 L396.8,249.6 M384.1,252.1 L384.6,248.4 L384.9,247.1 L390.7,246.8 L391.3,248.2 L390.4,251.0 L389.5,252.0 L387.7,253.3 M389.9,260.8 L392.2,261.5 L394.1,262.2 L395.8,264.3 L397.1,264.3 L398.9,265.0 L400.0,266.0 L401.0,262.4 L400.4,259.4 L400.8,257.3 L400.6,255.9 L401.4,255.1 L399.3,253.1 L397.4,253.1 L393.8,253.8 L392.3,255.2 L393.5,257.3 L392.3,258.7 L389.9,260.1 M389.6,268.7 L394.5,268.9 L396.6,269.2 L397.7,269.1 M394.4,272.0 L394.4,274.0 L394.3,276.5 M392.2,276.6 L394.3,276.5 L394.4,274.0 L396.1,274.3 L398.6,272.2 L401.2,272.3 L401.4,275.4 M403.2,253.4 L407.5,253.8 L407.5,257.8 M403.8,253.1 L404.6,246.6 M407.9,248.9 L409.6,251.0 L411.6,251.0 L409.9,253.1 L407.5,253.8 M403.2,253.4 L403.2,257.3 L405.4,258.7 L406.4,259.9 M407.0,264.0 L404.0,264.7 L403.4,266.4 M397.7,269.1 L399.4,268.2 L400.8,267.5 L402.4,268.3 L401.9,271.3 L401.2,272.3 M375.8,251.8 L376.2,250.6 L375.5,247.8 M377.3,251.3 L377.5,249.2 L379.2,249.3 L380.7,248.9 L381.0,251.0 L380.7,253.1 M383.1,252.4 L383.1,248.9 L382.5,248.9 M391.3,248.2 L392.2,249.6 L394.0,250.3 L395.8,248.9 M397.1,250.6 L398.9,253.1 L400.8,254.1 L403.2,253.4 M395.9,253.4 L397.1,250.6 L396.8,249.6 M400.6,257.3 L401.3,257.3 L403.2,257.3 M401.0,262.4 L402.5,263.3 L404.0,264.7 M395.8,264.3 L395.8,265.7 L397.0,267.8 L397.7,269.1 M381.5,226.3 L384.3,226.9 M378.6,227.2 L378.3,228.9 L378.5,230.5 M383.8,221.0 L385.6,222.0 L386.9,222.4 L386.6,223.3 L385.8,224.2 L386.3,224.6 L386.7,226.0 M385.7,219.4 L386.2,221.0 L385.7,221.6 L385.6,222.0 M386.9,218.4 L387.3,218.5 M389.8,219.1 L390.2,221.0 L388.9,221.5 L389.9,222.6 L389.5,223.4 L387.7,223.4 M394.5,218.8 L394.9,220.4 L395.2,221.4 L394.5,222.4 L392.6,222.1 L390.4,221.2 M387.7,223.4 L389.1,223.8 L389.9,224.1 L391.4,224.1 L391.6,223.1 L392.7,223.1 L394.6,222.9 M392.5,222.0 L391.6,222.7 M396.2,215.4 L396.2,216.7 L396.6,217.7 L394.6,219.1 L398.9,220.4 L399.9,220.2 L403.7,222.0 L403.0,223.8 M393.1,217.7 L395.9,217.9 L396.6,217.7 M396.1,214.8 L397.4,213.3 L396.0,210.3 L395.3,209.2 M388.3,215.7 L388.5,214.2 L389.0,212.3 L389.9,210.4 L391.4,209.5 L392.8,209.8 L395.1,209.2 M392.8,224.4 L394.9,225.7 L398.2,226.0 M393.9,227.2 L395.1,227.8 L397.0,227.4 M394.3,223.1 L396.7,222.9 L397.8,224.1 L398.7,224.9 M391.4,224.1 L392.8,224.4 L393.2,225.5 L393.1,226.9 M394.6,219.1 L396.4,220.7 L395.2,221.4 M407.7,228.8 L407.7,230.5 L406.7,230.6 L403.4,231.2 M407.7,228.8 L408.6,231.5 L409.1,233.5 L410.6,235.6 M406.7,230.6 L406.1,232.4 L405.1,234.0 M403.0,236.0 L404.6,234.5 L405.3,234.0 L407.1,234.8 L409.8,236.2 L410.7,236.6 M408.3,245.0 L410.5,244.5 L413.7,243.3 L415.8,242.6 L415.3,240.7 L413.2,239.6 M414.1,245.0 L414.5,244.9 M417.3,231.0 L417.6,232.6 L418.3,234.5 L418.7,235.6 L419.2,236.0 L419.9,237.7 L419.0,238.9 M413.2,230.5 L414.3,230.0 L417.3,231.0 M408.5,227.9 L409.8,227.5 M404.6,226.2 L406.9,226.7 L408.7,227.8 M409.3,224.1 L408.2,221.7 L410.2,220.7 L414.6,221.2 L413.9,219.4 L417.6,218.2 L421.8,219.0 L424.6,221.2 L426.4,221.0 L429.1,222.3 M411.5,225.1 L413.1,225.1 L416.7,226.2 L419.0,226.6 L420.5,227.9 L421.8,226.6 L423.4,226.4 L426.9,226.9 L426.4,225.1 L428.4,223.8 L429.1,222.3 M413.1,225.1 L413.8,227.7 L414.6,226.6 L415.9,227.2 M416.7,226.2 L416.6,227.9 L418.9,229.3 M420.3,230.5 L421.0,229.6 L422.4,228.6 L423.4,228.2 L424.2,228.9 M429.1,222.3 L430.9,221.2 L433.6,220.4 L436.0,220.8 L439.9,222.0 L443.0,221.6 L444.6,221.9 L444.8,220.0 L447.8,219.8 L452.9,223.3 L454.1,223.1 L454.7,222.7 L454.5,225.5 L454.9,226.9 M429.1,222.3 L431.9,224.4 L435.7,226.7 L441.0,227.5 L444.0,226.2 L445.7,224.8 L447.4,224.0 L444.6,221.9 M426.4,225.1 L426.9,226.9 L425.5,227.9 L424.2,228.9 L425.2,230.5 L427.3,231.7 L428.9,233.8 L429.9,235.6 L432.5,236.8 L434.3,237.1 L436.7,237.1 L439.6,236.8 L441.0,239.1 L440.8,239.8 L442.2,241.5 L443.2,240.8 L444.5,240.6 L446.1,240.6 L447.0,241.5 M425.0,230.7 L425.1,232.4 L426.0,233.8 L426.0,234.9 L424.9,237.0 L424.0,237.0 L423.6,238.0 L424.7,239.4 L423.3,240.0 M425.0,230.7 L423.3,231.0 L423.5,232.8 L422.6,232.9 L423.0,234.5 L421.5,235.7 L419.2,236.0 M417.3,231.0 L419.3,230.7 L421.1,230.5 L422.4,229.7 L425.0,230.7 M429.3,235.2 L431.9,236.6 L434.5,237.7 M434.5,238.0 L435.3,239.1 L437.1,239.1 L437.8,241.5 M439.6,236.8 L438.6,239.1 L438.3,240.8 L437.8,241.5 M441.0,239.1 L440.8,241.5 L442.4,242.2 L441.4,244.3 L441.9,245.4 L442.5,248.2 L442.4,249.6 M443.2,240.8 L442.7,242.6 L443.2,244.1 L444.2,244.3 L446.1,245.4 L446.3,246.7 L444.8,246.7 L444.5,248.2 M444.5,240.6 L444.5,242.2 L445.6,243.6 L447.4,246.1 L447.0,248.2 L445.9,249.2 M443.5,252.1 L444.3,252.5 L444.6,252.3 M452.4,228.6 L453.9,227.2 L454.9,226.9 M454.3,230.1 L455.2,229.6 M453.5,253.6 L452.6,255.2 L451.4,255.5 L449.9,255.8 L449.4,255.3 M468.4,258.4 L468.2,263.0 M460.4,267.0 L457.6,278.8 M458.9,274.8 L466.0,274.8 M465.6,268.2 L464.2,274.8 M466.0,274.8 L462.5,283.2 M465.3,276.9 L470.1,276.6 L472.8,276.4 M463.9,280.4 L464.9,281.8 L466.7,282.9" fill="none" stroke="#000" stroke-width="0.3" stroke-opacity="0.6" stroke-linejoin="round"/></g>
<path d="M440.94,200.10 L445.33,201.45 L450.72,203.52 L456.42,206.11 L461.40,208.94 L465.92,211.95 L470.19,215.10 L474.18,218.36 L477.80,221.71 L480.90,225.12 L483.69,228.59 L486.01,232.08 L487.91,235.58 L489.34,239.09 L490.35,242.59 L491.20,246.09 L491.79,249.59 L492.15,253.10 L492.30,256.60 L492.15,260.10 L491.79,263.61 L491.20,267.11 L490.35,270.61 L489.34,274.12 L487.91,277.62 L486.01,281.12 L483.69,284.61 L480.90,288.08 L477.80,291.49 L474.18,294.84 L470.19,298.10 L465.92,301.25 L461.40,304.26 L456.42,307.09 L450.72,309.68 L445.33,311.75 L440.94,313.10 L324.06,313.10 L319.67,311.75 L314.28,309.68 L308.58,307.09 L303.60,304.26 L299.08,301.25 L294.81,298.10 L290.82,294.84 L287.20,291.49 L284.10,288.08 L281.31,284.61 L278.99,281.12 L277.09,277.62 L275.66,274.12 L274.65,270.61 L273.80,267.11 L273.21,263.61 L272.85,260.10 L272.70,256.60 L272.85,253.10 L273.21,249.59 L273.80,246.09 L274.65,242.59 L275.66,239.09 L277.09,235.58 L278.99,232.08 L281.31,228.59 L284.10,225.12 L287.20,221.71 L290.82,218.36 L294.81,215.10 L299.08,211.95 L303.60,208.94 L308.58,206.11 L314.28,203.52 L319.67,201.45 L324.06,200.10 Z" fill="none" stroke="#000" stroke-width="0.5"/>
<rect x="304.0" y="327" width="155.5" height="7.600000000000023" fill="url(#jetg)"/>
<path d="M304.3,327 L297.0,330.8 L304.3,334.6 Z" fill="#000080"/>
<path d="M459.2,327 L466.7,330.8 L459.2,334.6 Z" fill="#800000"/>
<path d="M304.0,327 L459.5,327 L466.7,330.8 L459.5,334.6 L304.0,334.6 L297.0,330.8 Z" fill="none" stroke="#222" stroke-width="0.4"/>
<path d="M304.00,334.6 v1.3 M342.88,334.6 v1.3 M381.75,334.6 v1.3 M420.62,334.6 v1.3 M459.50,334.6 v1.3" stroke="#222" stroke-width="0.4"/>
<text x="305.0" y="341.6" class="tk" text-anchor="middle">≤ 200</text>
<text x="342.9" y="341.6" class="tk" text-anchor="middle">375</text>
<text x="381.8" y="341.6" class="tk" text-anchor="middle">550</text>
<text x="420.6" y="341.6" class="tk" text-anchor="middle">725</text>
<text x="459.5" y="341.6" class="tk" text-anchor="middle">≥ 900</text>
<text x="382.5" y="349.2" class="cbl" text-anchor="middle">Cloud top pressure [hPa]</text>
</svg></div></body></html>
